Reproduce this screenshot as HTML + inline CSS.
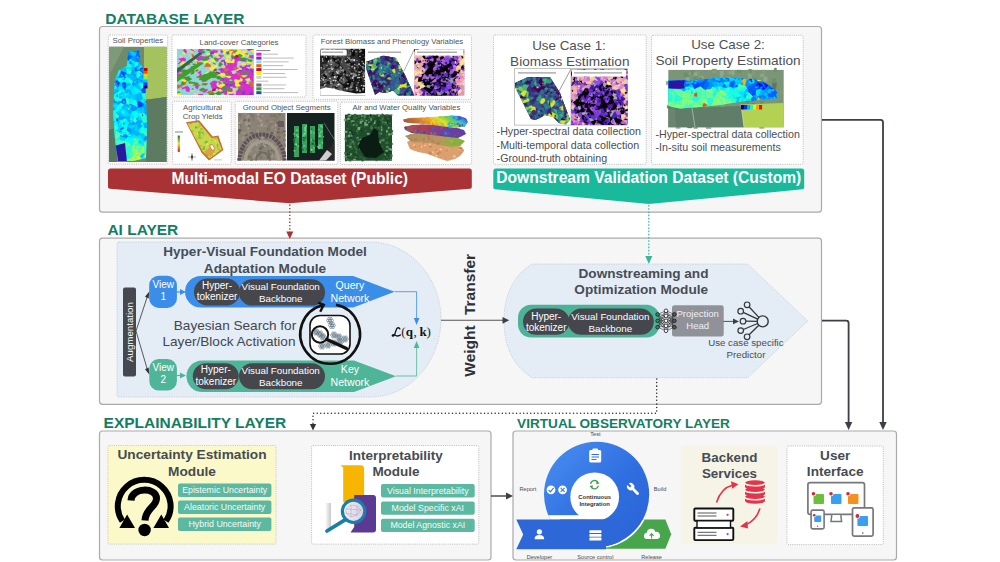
<!DOCTYPE html>
<html><head><meta charset="utf-8"><style>
html,body{margin:0;padding:0;background:#fff;}
body{width:1000px;height:562px;overflow:hidden;font-family:"Liberation Sans",sans-serif;}
svg{display:block;}
</style></head><body>
<svg width="1000" height="562" viewBox="0 0 1000 562">
<defs><clipPath id="soilclip"><polygon points="128,52 139,50.5 140,64 145,70 146,100 147,128 146,158 133,161 118,161 115,140 113,110 115,80 119,70 127,66"/></clipPath><clipPath id="lcclip"><rect x="177" y="49" width="76.7" height="46.1"/></clipPath><clipPath id="virclip"><polygon points="366,62 383,55.5 396,58 405,75 414.5,95.5 398,95.5 393,90.5 386,93 379,92 375,95 366,68"/></clipPath><radialGradient id="fmrg" cx="0.5" cy="0.62" r="0.62"><stop offset="0" stop-color="#1a0c30"/><stop offset="0.5" stop-color="#3a1f80"/><stop offset="0.72" stop-color="#8a50c8"/><stop offset="0.88" stop-color="#e890b8"/><stop offset="1" stop-color="#f4dc98"/></radialGradient><clipPath id="mgclip"><rect x="414.5" y="49" width="49.8" height="46.5"/></clipPath><clipPath id="agclip"><polygon points="187.5,123.5 198.3,122 211.8,138 217.2,137.2 221.7,149.6 209.5,158.5 202.5,151.2"/></clipPath><linearGradient id="lyg1" x1="0" y1="0.3" x2="1" y2="0"><stop offset="0" stop-color="#a0603c"/><stop offset="0.18" stop-color="#c87838"/><stop offset="0.35" stop-color="#f0a020"/><stop offset="0.5" stop-color="#e8e030"/><stop offset="0.62" stop-color="#80d040"/><stop offset="0.75" stop-color="#30c0d0"/><stop offset="0.88" stop-color="#4050e0"/><stop offset="1" stop-color="#8030c0"/></linearGradient><linearGradient id="lyg2" x1="0" y1="0" x2="1" y2="0"><stop offset="0" stop-color="#a06050"/><stop offset="0.3" stop-color="#b04050"/><stop offset="0.6" stop-color="#7040a0"/><stop offset="1" stop-color="#6040a0"/></linearGradient><linearGradient id="lyg3" x1="0" y1="0" x2="1" y2="0"><stop offset="0" stop-color="#b09060"/><stop offset="0.55" stop-color="#c09060"/><stop offset="0.8" stop-color="#90b040"/><stop offset="1" stop-color="#80b040"/></linearGradient><clipPath id="ly791595"><polygon points="407,142 412,139 425,140 440,141 452,144 462,147 464,151 460,156 455,159 447,161 438,158 428,154 418,152 410,149"/></clipPath><clipPath id="ly893936"><polygon points="405,136 415,133 430,133 445,135 458,138 465,141 460,146 450,147 430,143 412,142"/></clipPath><clipPath id="ly355253"><polygon points="404,127 412,125 425,124.5 440,125 455,127.5 464,130 466,134 458,138 440,136 425,134 412,133 405,130"/></clipPath><clipPath id="ly51219"><polygon points="403,119.5 410,118 425,117.5 440,116.5 452,115.5 460,116 466,118.5 468,122 465,126.5 455,128 440,126 425,124 410,123 404,122"/></clipPath><clipPath id="uc1v"><polygon points="515,83 528,77 550,77 560,93 570,119.5 566,124.5 559,123 553,117 545,115 540,118 535,120 531,119 515,87"/></clipPath><clipPath id="uc1m"><rect x="571" y="69" width="56.7" height="56"/></clipPath><radialGradient id="uc1rg" cx="0.5" cy="0.68" r="0.62"><stop offset="0" stop-color="#1a0c30"/><stop offset="0.5" stop-color="#3a1f80"/><stop offset="0.72" stop-color="#8a50c8"/><stop offset="0.88" stop-color="#e890b8"/><stop offset="1" stop-color="#f4dc98"/></radialGradient><clipPath id="uc2s"><polygon points="668.3,80.5 684,80 688,81 700,80 715,78 735,78 760,80 770,86 777,92 777,98 760,100 745,101 720,105 700,107 680,108.5 668.3,106"/></clipPath><linearGradient id="gbar" x1="0" y1="0" x2="1" y2="0"><stop offset="0" stop-color="#fff"/><stop offset="1" stop-color="#c8c8c8"/></linearGradient><linearGradient id="lens" x1="0" y1="0" x2="1" y2="0"><stop offset="0" stop-color="#f2f2f4"/><stop offset="1" stop-color="#d9cde6"/></linearGradient><linearGradient id="cig" x1="0" y1="0" x2="1" y2="1"><stop offset="0" stop-color="#4a90f2"/><stop offset="0.55" stop-color="#2f6ee0"/><stop offset="1" stop-color="#2a63d4"/></linearGradient><clipPath id="grclip"><polygon points="600,519.4 665.4,519.4 671.2,534.2 665.4,548.8 600,548.8"/></clipPath><clipPath id="cicl"><circle cx="596.6" cy="494.3" r="52.6"/></clipPath><clipPath id="ribclip"><rect x="560" y="519.6" width="60" height="30"/></clipPath></defs>
<rect x="99.5" y="26.5" width="722.0" height="185.7" rx="3" fill="#f6f6f6" stroke="#aaaaaa" stroke-width="1.2" />
<rect x="99.5" y="238.2" width="722.0" height="166.10000000000002" rx="3" fill="#f6f6f6" stroke="#aaaaaa" stroke-width="1.2" />
<rect x="99.5" y="431" width="391.5" height="129" rx="3" fill="#f6f6f6" stroke="#aaaaaa" stroke-width="1.2" />
<rect x="513" y="431" width="383.5" height="129" rx="3" fill="#f6f6f6" stroke="#aaaaaa" stroke-width="1.2" />
<text x="105.3" y="23.6" font-size="15.5" fill="#127e63" font-weight="bold" text-anchor="start" font-family='"Liberation Sans", sans-serif' >DATABASE LAYER</text>
<text x="107.4" y="234.7" font-size="15.5" fill="#127e63" font-weight="bold" text-anchor="start" font-family='"Liberation Sans", sans-serif' >AI LAYER</text>
<text x="103.6" y="427.6" font-size="15.5" fill="#127e63" font-weight="bold" text-anchor="start" font-family='"Liberation Sans", sans-serif' >EXPLAINABILITY LAYER</text>
<text x="517.1" y="427.7" font-size="13.6" fill="#127e63" font-weight="bold" text-anchor="start" font-family='"Liberation Sans", sans-serif' >VIRTUAL OBSERVATORY LAYER</text>
<rect x="108.3" y="35" width="59.3" height="129" rx="1.5" fill="#fff" stroke="#a0a0a0" stroke-width="0.7" stroke-dasharray="1 1.2"/>
<rect x="172" y="35" width="134" height="62" rx="1.5" fill="#fff" stroke="#a0a0a0" stroke-width="0.7" stroke-dasharray="1 1.2"/>
<rect x="313" y="35" width="158.5" height="64.3" rx="1.5" fill="#fff" stroke="#a0a0a0" stroke-width="0.7" stroke-dasharray="1 1.2"/>
<rect x="172.6" y="101.3" width="58.599999999999994" height="63.000000000000014" rx="1.5" fill="#fff" stroke="#a0a0a0" stroke-width="0.7" stroke-dasharray="1 1.2"/>
<rect x="235.2" y="101.3" width="102.60000000000002" height="63.000000000000014" rx="1.5" fill="#fff" stroke="#a0a0a0" stroke-width="0.7" stroke-dasharray="1 1.2"/>
<rect x="340.4" y="102.2" width="131.20000000000005" height="62.39999999999999" rx="1.5" fill="#fff" stroke="#a0a0a0" stroke-width="0.7" stroke-dasharray="1 1.2"/>
<rect x="493.5" y="35" width="152.70000000000005" height="129.3" rx="1.5" fill="#fff" stroke="#a0a0a0" stroke-width="0.7" stroke-dasharray="1 1.2"/>
<rect x="651.6" y="35.3" width="151.5" height="129.0" rx="1.5" fill="#fff" stroke="#a0a0a0" stroke-width="0.7" stroke-dasharray="1 1.2"/>
<g>
<rect x="109.1" y="46.8" width="57.5" height="115.2" fill="#6f8c6a"/>
<polygon points="144,46.8 166.6,46.8 166.6,97 144,100" fill="#a4c25e"/>
<polygon points="144,100 166.6,97 166.6,162 146,162" fill="#5d7b60"/>
<polygon points="109.1,46.8 124,46.8 112,70 109.1,75" fill="#7e9a78"/>
<polygon points="109.1,130 115,128 117,162 109.1,162" fill="#5a7560"/>
<g clip-path="url(#soilclip)"><rect x="109" y="46" width="40" height="117" fill="#3fb2f2"/>
<path fill="#00f0fc" stroke="#00f0fc" stroke-width=".35" d="M145.6 128.2L147 127.6L148.1 128.1L148.7 129L148.1 129.3ZM125.3 82L125.1 82.4L125.7 83.5L131.1 84L131.2 83.9L128.2 80.7ZM126 117.9L129.6 122.9L128.2 125.4L125.3 123.5L125.3 121.1ZM109 130.1L112.2 132.1L116.6 140L116.1 141.1L109 140.9ZM135.6 94.8L140.8 92.1L140.8 90.2L134 86.1L133.2 89.1ZM113.4 153.4L109 151.1L109 150L114.2 147.4L114.2 152.9ZM132.1 139.1L133.4 139.1L135.3 138L132.9 135.2L129.8 137.5L130.1 138.1ZM145.1 101.2L144.7 99.6L143 98.6L139.2 101.1L144 103.9L145 103.1L145 103.1ZM140.6 83.9L138.9 85L141 89.8L141.8 88.9ZM135.1 99.2L128.6 98.8L129.7 104.1L130.2 103.8L135.3 100ZM143.7 87.1L149 88.9L149 83.1L147.3 83.5L144.5 84.5ZM126.3 134.4L120.9 135L120.9 133.7L121.4 131.4L125.5 131.4ZM124.9 89.4L125.1 89.8L128.8 89.4L132.3 84.4L132 84L131.2 83.9L131.1 84L125.5 87.9ZM130.1 61.1L128.6 60.7L127.4 60.7L127.1 63L129.2 63.4Z"/>
<path fill="#30fcd8" stroke="#30fcd8" stroke-width=".35" d="M126 117.9L126 117.8L121.2 120.1L121.4 120.5L125.3 121.1ZM121.4 67.6L118 63.6L120.7 59.9L122.2 60.8L123.4 63.1L124.2 65.9L124.2 66L124 66.2ZM117.6 158.6L119.5 157.4L121 155.8L120.9 155L119.7 151.3L117.4 152.9ZM131.3 151.7L126.7 150.8L131.7 148.9ZM117.7 125.4L113.6 125.2L109 129.6L109 130.1L112.2 132.1L115 131L118.8 128.8Z"/>
<path fill="#00e4fc" stroke="#00e4fc" stroke-width=".35" d="M140.8 83.5L138.2 82.3L138 78.9L142.3 82.9ZM135.5 95L131.6 94.1L130.3 90.1L133.2 89.1L135.6 94.8ZM137.1 138.8L135.8 138.3L135.6 138L136.8 136L140 134.5L141.2 137.3L139.4 138.6ZM126.2 69.2L124 66.2L124.2 66L130.9 67.3L132.4 69.2L131.4 70.9ZM131.7 120.9L129.1 115.1L129.3 114.8L131.3 113.5L134.7 117.2L133.1 121.2ZM133.2 134.3L132.9 135.2L135.3 138L135.6 138L136.8 136L133.5 133.7ZM121.4 131.2L121.4 131.4L120.9 133.7L115 131L118.8 128.8L120.2 129.3L120.9 130.3ZM118.7 89.5L124.6 89.3L122.3 86.1L118.7 86.1L118.2 86.4L117.4 88.1L117.5 88.3ZM117.8 104.9L116.2 110.2L115 109.6L114 106.9L116.3 103.8ZM149 64.5L149 60.9L148.5 60.9L145.7 63.7L146.8 64.7ZM138.5 142.3L139.4 138.6L141.2 137.3L143.4 138.6L144.2 141.3L143.8 145.7L143.5 145.9L143 146L138.9 143ZM115.4 63.2L111.5 61.5L113.3 57.7L116.5 58.3L115.9 63Z"/>
<path fill="#00b4fc" stroke="#00b4fc" stroke-width=".35" d="M132.8 82.1L137.7 77.9L137.7 77.9L137.7 77.8L136.7 76.8L133.5 75.7L131.5 80ZM140 132.7L140 132.7L138.6 130.9L135 131.3L133.7 131.8L133.5 133.7L136.8 136L140 134.5L140.1 133.1ZM128.7 106L133.1 111.1L131.3 113.5L129.3 114.8L125.2 108.9L126 107.8ZM123.5 105.2L126 107.8L128.7 106L128.8 105L126.1 103L123.5 103.8ZM126 117.9L126 117.8L126.2 117L128.5 115.3L129.1 115.1L131.7 120.9L129.6 122.9ZM115 109.6L113.4 109.4L112.4 110L112.4 111.7ZM135.5 95L135.1 99.2L135.3 100L136.9 101.6L139.2 101.1L143 98.6L141.5 92.7L140.8 92.1L135.6 94.8ZM143.3 83L143.4 80.8L144.4 79.5L147.3 83.5L144.5 84.5ZM128.6 77.1L130.2 74.2L126.5 72.9L126.1 73L124.7 75L126.2 77.5ZM134.7 46.1L134.7 46L129.5 46L129.2 47.5L129.8 50.7L132.9 51.5L133.3 51.3ZM135.9 122.2L142.7 121.2L142.1 120.3L137.4 119.6ZM122.1 114.5L121.5 117.3L125.3 116.7L122.2 114.4ZM125.5 87.9L131.1 84L125.7 83.5ZM120.8 118.8L121 119.9L119.3 120.5L116.7 120.3L116 119.8L115.7 118.2L118.6 117.6ZM125.6 53.1L124.9 54.7L120.2 54L120.6 53.3L124.2 50L124.2 50L124.7 50.2L125.6 53ZM144 103.9L145 103.1L149 107.3L149 108.3L147.5 108.7L143.7 104.5ZM142.6 51.5L146.8 52L149 50L149 49.9L142.7 46.6L141.7 50.6L141.7 50.9ZM116.9 153.1L114.2 152.9L114.2 147.4L116.7 145L117.8 146.1L119.5 148.4L119.8 150.7L119.7 151.3L117.4 152.9ZM109 79.3L109 76.6L114.1 76.4L115.8 80.9L115.8 80.9ZM149 70.1L143.9 72.2L143.1 73.2L147.8 77.5L149 77.8ZM128.6 133.8L133.2 134.3L133.5 133.7L133.7 131.8L131.5 130.7L129.3 132.7ZM134.4 126.7L135 131.3L133.7 131.8L131.5 130.7L130.6 129.1Z"/>
<path fill="#00fcfc" stroke="#00fcfc" stroke-width=".35" d="M118.7 89.8L118.7 89.5L124.6 89.3L124.9 89.4L125.1 89.8L125.1 92.1L121.2 94.4L120 94.1L118.6 91.5ZM121.1 71.1L121.1 71.3L118.6 76.7L116.1 74.8L117.5 69.9L120.5 69.4ZM132.5 145.4L131.6 146.2L130.3 145.6L129.3 142.9L130.1 138.1L132.1 139.1L133.2 143.8ZM142.5 59.4L145.7 58.6L148.5 60.9L145.7 63.7L145.5 63.7L141.8 60.9L142.2 59.8ZM133.1 111.1L136.2 110.1L139.1 113.4L139 115.2L137.2 117.8L134.7 117.2L131.3 113.5ZM131 60.9L131.5 59.7L135.5 61.8L134.7 62.8L131.9 63.2ZM139.3 68.4L142.5 67.3L141.2 64.9L139 67ZM133.2 143.8L132.1 139.1L133.4 139.1L134.8 141.8ZM125.3 123.5L123.2 123.8L123.4 127.3L124.8 127.8L125.9 128L127 128L128.3 126.8L128.4 126L128.2 125.4ZM115 109.6L116.2 110.2L117.1 111.6L116.9 112.3L116.6 112.9L114.5 115.3L111.7 113.1L112.4 111.7L115 109.6ZM149 95.5L147 96L144.9 93L149 91.4ZM140.6 83.9L138.9 85L137.7 83.8L138.2 82.3L140.8 83.5ZM144 123.3L144 127.2L138.7 130.6L138.6 129.8ZM110.6 103L109.2 104.9L109 104.9L109 98.9L111.2 99.3L111.2 101.4ZM111.7 113.1L111.1 112.9L109 114.7L109 118.5L114.4 116.3L114.5 115.3ZM118.2 124.7L116.7 120.3L116 119.8L113.7 122.3L113.6 125.2L117.7 125.4ZM126.4 57.9L122.2 60.8L123.4 63.1L126.6 58.5ZM121.8 124L122.2 123.7L121.4 120.5L121.2 120.1L121 119.9L119.3 120.5L119.7 124.1ZM124.9 78.3L122.2 77.8L122.2 77.8L122.8 82.5L125.1 82.4L125.3 82Z"/>
<path fill="#00a8fc" stroke="#00a8fc" stroke-width=".35" d="M147.3 83.5L149 83.1L149 77.8L147.8 77.5L145.2 78.8L144.5 79.3L144.4 79.5ZM115.5 100.9L115.5 102.8L116.3 103.8L117.8 104.9L119.1 104.8L121.3 102.7L121.3 100.9L117.2 100.5ZM149 108.3L149 116.3L145.4 114.8L144.1 113.2L144.9 109.7L147.5 108.7ZM143.7 104.5L141.6 107L144.9 109.7L147.5 108.7ZM114.8 82.8L115.7 81.2L118.2 86.4L117.4 88.1L114.6 85.6ZM144 123.3L137.3 124.9L138.6 129.8L144 123.3ZM113.2 49.7L109.5 51.7L110.7 52.3L113 52.6ZM142.6 51.5L146.8 52L147.2 55.4L144.1 54.7ZM128.2 125.4L128.4 126L135 125L136.1 124.1L135.6 122.5L133.1 121.2L131.7 120.9L129.6 122.9ZM144.3 127.9L144 127.2L144 123.3L144 123.3L144.1 123.3L147 127.6L145.6 128.2ZM139.2 68.6L139.3 68.4L139 67L138.1 65.1L134.7 67.4L134.7 67.4ZM131.4 70.9L132.4 69.2L132.7 69.1L136.7 71.5L136.7 76.8L133.5 75.7L130.5 74ZM112 106.1L112.1 108.1L113.4 109.4L115 109.6L115 109.6L114 106.9ZM131.6 94.1L127.1 95L125.1 92.1L125.1 89.8L128.8 89.4L130.3 90.1ZM121.3 117.4L121.5 117.3L125.3 116.7L126.2 117L126 117.8L121.2 120.1L121 119.9L120.8 118.8ZM147.8 77.5L143.1 73.2L142.7 73.3L141.7 74.7L145.2 78.8ZM136.1 124.1L137.3 124.9L144 123.3L144.1 123.3L144.1 123.2L142.7 121.2L135.9 122.2L135.6 122.5ZM139 67L138.1 65.1L138.8 62.3L140.4 62L141.2 64.9Z"/>
<path fill="#00ccfc" stroke="#00ccfc" stroke-width=".35" d="M140.1 133.1L140 134.5L141.2 137.3L143.4 138.6L146.2 136.1L144.2 134.5ZM132.7 56.2L132.9 51.5L129.8 50.7L129.6 51.3L130 53.8ZM132.4 69.2L132.7 69.1L134.7 67.4L134.7 67.4L134.7 62.8L131.9 63.2L131 64.2L130.9 67.3ZM121.4 48.7L119.3 46L124.3 46L124.2 50L124.2 50ZM144.8 152.5L145 152.7L142.9 159.3L140.7 158.1L139.6 156.4L142 153.5ZM128.6 133.8L133.2 134.3L132.9 135.2L129.8 137.5L128 136.6L127.6 135.3ZM114.6 65.4L109 66.9L109 67.1L115.6 69.1ZM132.7 56.2L132.9 51.5L133.3 51.3L135.3 52L136.6 53.3L135.6 56.3L135.3 56.5L132.7 56.3ZM109 72.7L112.3 72.3L116 69.6L115.6 69.1L109 67.1ZM149 46L149 49.9L142.7 46.6L142.7 46ZM122.3 113.5L122.2 114.4L122.1 114.5L121.1 114.7L116.9 112.3L117.1 111.6L120.4 110.4ZM141.6 107L144.9 109.7L144.1 113.2L139.1 113.4L136.2 110.1L137.6 107.5L137.6 107.5ZM142.5 67.3L142.8 67.4L143.4 67L145.5 63.7L141.8 60.9L140.4 62L141.2 64.9ZM113 52.6L110.7 52.3L112.6 56.6L112.7 56.7L113.7 55L113.8 52.9ZM135 125L136.1 124.1L137.3 124.9L138.6 129.8L138.7 130.6L138.6 130.9L135 131.3L134.4 126.7ZM149 64.5L146.8 64.7L147.5 68L149 69.8ZM112.3 102.7L114.2 103.3L111.5 105.4L110.8 105.3L109.2 104.9L110.6 103ZM135.5 95L135.1 99.2L128.6 98.8L126.7 97.6L127.1 95L131.6 94.1ZM109 110.3L109 114.7L111.1 112.9L109.6 110.6ZM113.2 49.7L109.5 51.7L109 51.6L109 50.6L113.7 46L115.1 46L113.3 49.5Z"/>
<path fill="#00d8fc" stroke="#00d8fc" stroke-width=".35" d="M125.1 140.7L126.2 138L120.4 136.1L116.7 139.9L124.4 141ZM121.2 94.4L125.1 92.1L127.1 95L126.7 97.6L125.4 98.7L122.2 99.1L121.7 98.5ZM117.6 80.2L115.8 80.9L114.1 76.4L115.2 74.9L116.1 74.8L118.6 76.7L118.9 77.9ZM124.1 112.5L128.5 115.3L129.1 115.1L129.3 114.8L125.2 108.9L123.7 109.4ZM135 125L128.4 126L128.3 126.8L130.6 129.1L134.4 126.7ZM122.3 113.5L122.2 114.4L125.3 116.7L126.2 117L128.5 115.3L124.1 112.5ZM121.8 124L121.4 127.7L120.2 129.3L118.8 128.8L117.7 125.4L118.2 124.7L119.7 124.1ZM133.2 89.1L134 86.1L133.9 85.9L132.3 84.4L128.8 89.4L130.3 90.1ZM140 132.7L144.3 133.4L144.2 134.5L140.1 133.1ZM149 121.3L146.4 122.5L148.1 128.1L148.7 129L149 129ZM114.2 103.3L115.5 102.8L116.3 103.8L114 106.9L112 106.1L111.5 105.4ZM137.2 117.8L137.4 119.6L142.1 120.3L142 118.6L139 115.2Z"/>
<path fill="#30fccc" stroke="#30fccc" stroke-width=".35" d="M149 102.9L149 107.3L145 103.1L145 103.1ZM128.8 105L129.7 104.1L128.6 98.8L126.7 97.6L125.4 98.7L126.1 103ZM130.2 74.2L130.5 74L131.4 70.9L126.2 69.2L126.5 72.9ZM115.1 157.1L113.3 154.2L111.2 155.7L111.2 158.1L112.8 158.6L115.1 157.6ZM149 100.9L149 98.7L146.9 98.1L144.7 99.6L145.1 101.2ZM140 132.7L140 132.7L144.4 130.6L146.1 131.5L146.6 133L144.3 133.4ZM139.1 113.4L144.1 113.2L145.4 114.8L142 118.6L139 115.2ZM140.6 83.9L141.8 88.9L143.7 87.1L144.5 84.5L143.3 83L142.3 82.9L140.8 83.5ZM118.6 117.6L115.7 118.2L114.4 116.3L114.5 115.3L116.6 112.9L119.6 116.2ZM112.3 72.3L116 69.6L117.5 69.9L116.1 74.8L115.2 74.9ZM126 153.3L120.9 155L119.7 151.3L119.8 150.7L125.6 152.2L126 153.2ZM112.3 102.7L111.2 101.4L110.6 103ZM128.7 77.5L131.5 80L132.8 82.1L132 84L131.2 83.9L128.2 80.7ZM119.1 104.8L121.3 107.4L123.5 105.2L123.5 103.8L121.3 102.7Z"/>
<path fill="#0048fc" stroke="#0048fc" stroke-width=".35" d="M144 103.9L139.2 101.1L136.9 101.6L137.6 107.5L141.6 107L143.7 104.5ZM109 51.6L109.5 51.7L110.7 52.3L112.6 56.6L109 56.4ZM137.2 52.9L140.9 51.8L141.7 50.9L141.7 50.6L136.8 48.9ZM111.7 113.1L111.1 112.9L109.6 110.6L112.4 110L112.4 111.7ZM115.7 81.2L118.2 86.4L118.7 86.1L120.5 82.7L117.6 80.2L115.8 80.9L115.8 80.9ZM139.2 68.6L139.3 68.4L142.5 67.3L142.8 67.4L143.9 72.2L143.1 73.2L142.7 73.3L139.1 70.4ZM147.2 55.4L147.5 55.7L149 55.6L149 50L146.8 52Z"/>
<path fill="#0030fc" stroke="#0030fc" stroke-width=".35" d="M109 46L109 50.6L113.7 46ZM124.9 89.4L125.5 87.9L125.7 83.5L125.1 82.4L122.8 82.5L121.9 83L122.3 86.1L124.6 89.3ZM126.5 57.6L126.4 57.9L122.2 60.8L120.7 59.9L120.2 58.6L125.9 56.8L126.2 57.2ZM120.6 53.3L124.2 50L121.4 48.7Z"/>
<path fill="#0078fc" stroke="#0078fc" stroke-width=".35" d="M142.6 57.5L142.5 59.4L145.7 58.6L147.3 56.1L147.5 55.7L147.2 55.4L144.1 54.7ZM122.2 77.8L118.9 77.9L118.6 76.7L121.1 71.3L123 75.3L122.2 77.8ZM109 62.3L111.5 61.5L113.3 57.7L112.7 56.7L112.6 56.6L109 56.4Z"/>
<path fill="#3cfcc0" stroke="#3cfcc0" stroke-width=".35" d="M124.6 143L127.7 146.2L124.3 145.2ZM128.2 153.6L131.2 152.3L133.5 155.3L132.2 158L129.7 158.8L128.9 158.8ZM109 150L114.2 147.4L116.7 145L116.3 143.5L109 145.6ZM126 153.2L125.6 152.2L126.1 150.9L126.7 150.8L131.3 151.7L131.2 152.3L128.2 153.6Z"/>
<path fill="#3cfccc" stroke="#3cfccc" stroke-width=".35" d="M133.1 121.2L134.7 117.2L137.2 117.8L137.4 119.6L135.9 122.2L135.6 122.5ZM110.8 105.3L110.8 108.6L109 110L109 104.9L109.2 104.9Z"/>
<path fill="#18fce4" stroke="#18fce4" stroke-width=".35" d="M122.3 113.5L120.4 110.4L121.7 109.2L123.7 109.4L124.1 112.5ZM126 153.3L124.8 157.7L125.4 158.8L126.4 159.6L128.9 158.8L128.2 153.6L126 153.2ZM135.3 100L136.9 101.6L137.6 107.5L137.6 107.5L130.2 103.8ZM125.9 128L121.4 131.2L120.9 130.3L124.8 127.8ZM110.8 105.3L110.8 108.6L112.1 108.1L112 106.1L111.5 105.4ZM124.2 66L124.2 65.9L127.1 63L129.2 63.4L131 64.2L130.9 67.3ZM111 94.5L113.5 92.8L113.9 93.2L114.8 94L115.4 95.3L115.2 97.5L114.4 98.9L113.6 98.9L110.9 94.6ZM121.9 83L120.5 82.7L117.6 80.2L118.9 77.9L122.2 77.8L122.8 82.5ZM123.4 127.3L121.4 127.7L121.8 124L122.2 123.7L123.2 123.8Z"/>
<path fill="#0060fc" stroke="#0060fc" stroke-width=".35" d="M132.7 56.2L130 53.8L129.3 54.2L126.2 57.2L126.5 57.6L131.4 57.5L132.7 56.3ZM121.3 102.7L123.5 103.8L126.1 103L125.4 98.7L122.2 99.1L121.3 100.9ZM139.2 68.6L134.7 67.4L132.7 69.1L136.7 71.5L139.1 70.4ZM131.4 57.5L131.4 58.2L128.6 60.7L127.4 60.7L126.6 58.5L126.4 57.9L126.5 57.6ZM120.2 54L124.9 54.7L125.9 56.8L120.2 58.6L118.8 57L119.1 55L119.3 54.4Z"/>
<path fill="#0cfcf0" stroke="#0cfcf0" stroke-width=".35" d="M109 95.3L109 98.9L111.2 99.3L113.6 98.9L110.9 94.6ZM128.6 77.1L126.2 77.5L124.9 78.3L125.3 82L128.2 80.7L128.7 77.5ZM109 87.8L109.6 88L114.6 85.6L114.8 82.8L109 85.4ZM144.3 127.9L144.4 130.6L146.1 131.5L148.1 129.3L145.6 128.2ZM125.1 140.7L129.3 142.9L130.1 138.1L129.8 137.5L128 136.6L126.2 138ZM131 60.9L131.5 59.7L131.4 58.2L128.6 60.7L130.1 61.1ZM134.7 62.8L134.7 67.4L138.1 65.1L138.8 62.3L136.2 61.5L135.5 61.8ZM109 145.6L116.3 143.5L116.1 141.1L109 140.9ZM109.6 88L112.9 90.4L117.5 88.3L117.4 88.1L114.6 85.6Z"/>
<path fill="#24fce4" stroke="#24fce4" stroke-width=".35" d="M117.2 100.5L119.7 98.1L121.7 98.5L122.2 99.1L121.3 100.9Z"/>
<path fill="#b4fc54" stroke="#b4fc54" stroke-width=".35" d="M144.8 152.5L142 153.5L142.1 152.3L144.6 151.8Z"/>
<path fill="#0090fc" stroke="#0090fc" stroke-width=".35" d="M142.3 82.9L138 78.9L137.7 77.9L137.7 77.9L143.4 80.8L143.3 83ZM113.3 49.5L115.1 46L117 46L117.3 51.8L114.7 52.5ZM131 60.9L131.9 63.2L131 64.2L129.2 63.4L130.1 61.1ZM128.3 126.8L127 128L126.2 130.3L129.3 132.7L131.5 130.7L130.6 129.1ZM149 98.7L146.9 98.1L147 96L149 95.5ZM149 59.2L147.3 56.1L147.5 55.7L149 55.6ZM109 90.5L111 94.5L110.9 94.6L109 95.3ZM129.3 54.2L125.6 53.1L125.6 53L129.6 51.3L130 53.8ZM109 66.9L114.6 65.4L115.4 63.2L111.5 61.5L109 62.3ZM129.6 51.3L129.8 50.7L129.2 47.5L124.7 50.2L125.6 53ZM146.2 136.1L143.4 138.6L144.2 141.3L149 139.6L149 135.1L148 135ZM128.8 105L129.7 104.1L130.2 103.8L137.6 107.5L136.2 110.1L133.1 111.1L128.7 106ZM112.3 102.7L114.2 103.3L115.5 102.8L115.5 100.9L114.4 98.9L113.6 98.9L111.2 99.3L111.2 101.4ZM136.6 53.3L135.3 52L135.9 48.1L136.8 48.9L137.2 52.9ZM109 72.7L112.3 72.3L115.2 74.9L114.1 76.4L109 76.6Z"/>
<path fill="#ccfc30" stroke="#ccfc30" stroke-width=".35" d="M133.4 159.7L133.2 159.2L138.4 159.5L136.7 161.8ZM136.4 163L143.6 163L143.5 159.9L142.9 159.3L140.7 158.1L138.4 159.5L136.7 161.8ZM124.7 159L121.1 161.3L121.4 159.2Z"/>
<path fill="#009cfc" stroke="#009cfc" stroke-width=".35" d="M149 100.9L145.1 101.2L145 103.1L149 102.9ZM137.7 83.8L138.2 82.3L138 78.9L137.7 77.9L132.8 82.1L132 84L132.3 84.4L133.9 85.9ZM145.2 78.8L141.7 74.7L140.1 76.4L144.5 79.3ZM113.4 109.4L112.1 108.1L110.8 108.6L109 110L109 110.3L109.6 110.6L112.4 110ZM113.9 93.2L118.7 89.8L118.6 91.5L114.8 94ZM129.3 54.2L125.6 53.1L124.9 54.7L125.9 56.8L126.2 57.2ZM121.3 117.4L120.2 116.2L119.6 116.2L118.6 117.6L120.8 118.8ZM132.7 56.3L135.3 56.5L136.2 61.5L135.5 61.8L131.5 59.7L131.4 58.2L131.4 57.5ZM109 129.6L113.6 125.2L113.7 122.3L109 119.8Z"/>
<path fill="#24fcd8" stroke="#24fcd8" stroke-width=".35" d="M144.3 127.9L144 127.2L138.7 130.6L138.6 130.9L140 132.7L144.4 130.6ZM115.5 100.9L114.4 98.9L115.2 97.5L118.7 97.4L119.7 98.1L117.2 100.5ZM109 90.5L109 87.8L109.6 88L112.9 90.4L113.5 92.8L111 94.5ZM146.9 98.1L147 96L144.9 93L141.5 92.7L143 98.6L144.7 99.6ZM139.1 70.4L142.7 73.3L141.7 74.7L140.1 76.4L137.7 77.8L136.7 76.8L136.7 71.5ZM142.8 67.4L143.9 72.2L149 70.1L149 69.8L147.5 68L143.4 67ZM125.3 121.1L121.4 120.5L122.2 123.7L123.2 123.8L125.3 123.5ZM134.1 145.1L141.4 146.7L142.5 146.4L143 146L138.9 143ZM131.7 148.9L132.1 147.5L131.6 146.2L130.3 145.6L127.8 146.2L125.9 147.9L126.1 150.9L126.7 150.8ZM144.1 123.2L146.4 122.5L149 121.3L149 116.3L145.4 114.8L142 118.6L142.1 120.3L142.7 121.2ZM143.4 67L145.5 63.7L145.7 63.7L146.8 64.7L147.5 68ZM146.1 131.5L146.6 133L148 135L149 135.1L149 129L148.7 129L148.1 129.3ZM138.5 142.3L139.4 138.6L137.1 138.8L137.2 141.6ZM125.9 128L127 128L126.2 130.3L125.5 131.4L121.4 131.4L121.4 131.2Z"/>
<path fill="#0000d8" stroke="#0000d8" stroke-width=".35" d="M140.7 54.3L138.4 56.7L142.2 59.8L142.5 59.4L142.6 57.5Z"/>
<path fill="#9cfc60" stroke="#9cfc60" stroke-width=".35" d="M126 153.3L120.9 155L121 155.8L124.8 157.7ZM133.5 163L133.4 159.7L136.7 161.8L136.4 163ZM117.6 158.6L119.5 157.4L121.4 159.2L121.1 161.3L120.7 161.7L117.8 160.1L117.6 158.6Z"/>
<path fill="#78fc90" stroke="#78fc90" stroke-width=".35" d="M113 160.9L115.4 163L111.3 163L111.6 161.9Z"/>
<path fill="#18fcf0" stroke="#18fcf0" stroke-width=".35" d="M114.8 94L115.4 95.3L119.2 94.6L120 94.1L118.6 91.5ZM128.6 133.8L127.6 135.3L126.3 134.4L125.5 131.4L126.2 130.3L129.3 132.7Z"/>
<path fill="#0054fc" stroke="#0054fc" stroke-width=".35" d="M135.3 52L133.3 51.3L134.7 46.1L135.9 48.1ZM126.2 77.5L124.7 75L123 75.3L122.2 77.8L124.9 78.3ZM143.7 87.1L149 88.9L149 91.4L144.9 93L141.5 92.7L140.8 92.1L140.8 90.2L141 89.8L141.8 88.9Z"/>
<path fill="#54fca8" stroke="#54fca8" stroke-width=".35" d="M149 139.6L149 146.6L143.8 145.7L144.2 141.3ZM136.8 148.8L141.4 146.7L142.5 146.4L140.8 150.3L138.7 153Z"/>
<path fill="#000cfc" stroke="#000cfc" stroke-width=".35" d="M118.8 57L116.5 58.3L113.3 57.7L112.7 56.7L113.7 55L119.1 55Z"/>
<path fill="#48fcb4" stroke="#48fcb4" stroke-width=".35" d="M113.3 154.2L111.2 155.7L109 153.5L109 151.1L113.4 153.4ZM115.1 157.1L113.3 154.2L113.4 153.4L114.2 152.9L116.9 153.1ZM135.5 141.4L135.8 138.3L137.1 138.8L137.2 141.6ZM142.9 159.3L145 152.7L146.4 153L148.1 158L143.5 159.9ZM123.1 144.4L117.8 146.1L119.5 148.4L122.4 148L124.2 145.2Z"/>
<path fill="#00c0fc" stroke="#00c0fc" stroke-width=".35" d="M144.1 123.3L144.1 123.2L146.4 122.5L148.1 128.1L147 127.6ZM129.5 46L129.2 47.5L124.7 50.2L124.2 50L124.3 46ZM121.7 109.2L121.3 107.4L123.5 105.2L126 107.8L125.2 108.9L123.7 109.4ZM119.6 116.2L116.6 112.9L116.9 112.3L121.1 114.7L120.2 116.2ZM122.3 86.1L118.7 86.1L120.5 82.7L121.9 83ZM120.2 58.6L120.7 59.9L118 63.6L115.9 63L116.5 58.3L118.8 57ZM144.4 79.5L144.5 79.3L140.1 76.4L137.7 77.8L137.7 77.9L143.4 80.8ZM113.5 92.8L113.9 93.2L118.7 89.8L118.7 89.5L117.5 88.3L112.9 90.4ZM119.7 124.1L119.3 120.5L116.7 120.3L118.2 124.7ZM119.7 98.1L121.7 98.5L121.2 94.4L120 94.1L119.2 94.6L118.7 97.4ZM128.6 77.1L130.2 74.2L130.5 74L133.5 75.7L131.5 80L128.7 77.5ZM126.5 72.9L126.2 69.2L124 66.2L121.4 67.6L120.5 69.4L121.1 71.1L126.1 73ZM121.3 117.4L121.5 117.3L122.1 114.5L121.1 114.7L120.2 116.2ZM138.9 85L141 89.8L140.8 90.2L134 86.1L133.9 85.9L137.7 83.8Z"/>
<path fill="#006cfc" stroke="#006cfc" stroke-width=".35" d="M136.6 53.3L135.6 56.3L138.4 56.7L140.7 54.3L140.9 51.8L137.2 52.9ZM113.2 49.7L113 52.6L113.8 52.9L114.7 52.5L113.3 49.5ZM120.5 69.4L117.5 69.9L116 69.6L115.6 69.1L114.6 65.4L115.4 63.2L115.9 63L118 63.6L121.4 67.6ZM124.8 127.8L123.4 127.3L121.4 127.7L120.2 129.3L120.9 130.3Z"/>
<path fill="#0cfcfc" stroke="#0cfcfc" stroke-width=".35" d="M115.2 97.5L118.7 97.4L119.2 94.6L115.4 95.3ZM117.8 104.9L116.2 110.2L117.1 111.6L120.4 110.4L121.7 109.2L121.3 107.4L119.1 104.8ZM115.7 118.2L116 119.8L113.7 122.3L109 119.8L109 118.5L114.4 116.3ZM127.4 60.7L127.1 63L124.2 65.9L123.4 63.1L126.6 58.5Z"/>
<path fill="#78fc84" stroke="#78fc84" stroke-width=".35" d="M124.6 143L124.3 145.2L124.2 145.2L123.1 144.4L124.5 142.9ZM115.1 157.1L116.9 153.1L117.4 152.9L117.6 158.6L117.6 158.6L115.1 157.6ZM138.7 153L140.8 150.3L142.1 152.3L142 153.5L139.6 156.4L138.5 155.3L138.7 153.1Z"/>
<path fill="#84fc84" stroke="#84fc84" stroke-width=".35" d="M122.4 148L119.5 148.4L119.8 150.7L125.6 152.2L126.1 150.9L125.9 147.9ZM132.5 145.4L131.6 146.2L132.1 147.5L134.8 148.7L136.8 148.8L141.4 146.7L134.1 145.1Z"/>
<path fill="#48fcc0" stroke="#48fcc0" stroke-width=".35" d="M143.5 159.9L143.6 163L149 163L149 157.9L148.1 158ZM124.5 142.9L124.4 141L116.7 139.9L116.6 140L116.1 141.1L116.3 143.5L116.7 145L117.8 146.1L123.1 144.4ZM120.9 133.7L115 131L112.2 132.1L116.6 140L116.7 139.9L120.4 136.1L120.9 135ZM144.3 133.4L146.6 133L148 135L146.2 136.1L144.2 134.5ZM144.8 152.5L145 152.7L146.4 153L149 151.7L149 146.6L143.8 145.7L143.5 145.9L144.6 151.8Z"/>
<path fill="#003cfc" stroke="#003cfc" stroke-width=".35" d="M124.7 75L123 75.3L121.1 71.3L121.1 71.1L126.1 73ZM145.7 58.6L148.5 60.9L149 60.9L149 59.2L147.3 56.1Z"/>
<path fill="#60fca8" stroke="#60fca8" stroke-width=".35" d="M124.3 145.2L127.7 146.2L127.8 146.2L125.9 147.9L122.4 148L124.2 145.2Z"/>
<path fill="#60fc9c" stroke="#60fc9c" stroke-width=".35" d="M134.8 141.8L133.4 139.1L135.3 138L135.6 138L135.8 138.3L135.5 141.4ZM132.5 145.4L133.2 143.8L134.8 141.8L135.5 141.4L137.2 141.6L138.5 142.3L138.9 143L134.1 145.1Z"/>
<path fill="#ccfc3c" stroke="#ccfc3c" stroke-width=".35" d="M134.3 155.2L138.5 155.3L139.6 156.4L140.7 158.1L138.4 159.5L133.2 159.2L132.2 158L133.5 155.3Z"/>
<path fill="#6cfc90" stroke="#6cfc90" stroke-width=".35" d="M115.1 157.6L112.8 158.6L113 160.9L115.4 163L116 163L117.8 160.1L117.6 158.6Z"/>
<path fill="#90fc6c" stroke="#90fc6c" stroke-width=".35" d="M142.5 146.4L143 146L143.5 145.9L144.6 151.8L142.1 152.3L140.8 150.3ZM126.4 159.6L125.9 163L130.9 163L129.7 158.8L128.9 158.8ZM109 160.3L109 163L111.3 163L111.6 161.9ZM124.8 157.7L121 155.8L119.5 157.4L121.4 159.2L124.7 159L125.4 158.8Z"/>
<path fill="#54fcb4" stroke="#54fcb4" stroke-width=".35" d="M124.6 143L127.7 146.2L127.8 146.2L130.3 145.6L129.3 142.9L125.1 140.7L124.4 141L124.5 142.9Z"/>
<path fill="#a8fc60" stroke="#a8fc60" stroke-width=".35" d="M148.1 158L149 157.9L149 151.7L146.4 153ZM135.5 151L134.3 155.2L138.5 155.3L138.7 153.1Z"/>
<path fill="#a8fc54" stroke="#a8fc54" stroke-width=".35" d="M133.5 163L133.4 159.7L133.2 159.2L132.2 158L129.7 158.8L130.9 163ZM134.8 148.7L135.5 151L138.7 153.1L138.7 153L136.8 148.8Z"/>
<path fill="#0084fc" stroke="#0084fc" stroke-width=".35" d="M135.9 48.1L134.7 46.1L134.7 46L142.7 46L142.7 46.6L141.7 50.6L136.8 48.9ZM138.4 56.7L142.2 59.8L141.8 60.9L140.4 62L138.8 62.3L136.2 61.5L135.3 56.5L135.6 56.3ZM120.2 54L120.6 53.3L121.4 48.7L119.3 46L117 46L117.3 51.8L119.3 54.4ZM127.6 135.3L128 136.6L126.2 138L120.4 136.1L120.9 135L126.3 134.4ZM109 85.4L114.8 82.8L115.7 81.2L115.8 80.9L109 79.3Z"/>
<path fill="#0024fc" stroke="#0024fc" stroke-width=".35" d="M142.6 51.5L144.1 54.7L142.6 57.5L140.7 54.3L140.9 51.8L141.7 50.9Z"/>
<path fill="#b4fc48" stroke="#b4fc48" stroke-width=".35" d="M125.4 158.8L124.7 159L121.1 161.3L120.7 161.7L121.3 163L125.9 163L126.4 159.6Z"/>
<path fill="#0018fc" stroke="#0018fc" stroke-width=".35" d="M119.3 54.4L117.3 51.8L114.7 52.5L113.8 52.9L113.7 55L119.1 55Z"/>
<path fill="#d8fc24" stroke="#d8fc24" stroke-width=".35" d="M112.8 158.6L113 160.9L111.6 161.9L109 160.3L109 158.7L111.2 158.1Z"/>
<path fill="#e4fc18" stroke="#e4fc18" stroke-width=".35" d="M121.3 163L120.7 161.7L117.8 160.1L116 163Z"/>
<path fill="#c0fc3c" stroke="#c0fc3c" stroke-width=".35" d="M111.2 158.1L109 158.7L109 153.5L111.2 155.7Z"/>
<path fill="#84fc78" stroke="#84fc78" stroke-width=".35" d="M131.3 151.7L131.2 152.3L133.5 155.3L134.3 155.2L135.5 151L134.8 148.7L132.1 147.5L131.7 148.9Z"/>
<path fill="#00f0fc" stroke="#00f0fc" stroke-width=".35" d="M122.6 77h1.6v1.5h-1.6zM143.8 78.2h0.8v1.4h-0.8zM146.8 121.8h1.8v0.9h-1.8zM108.1 141.2h1.8v1.8h-1.8zM128.5 137.5h1.8v1.5h-1.8zM133.6 68.6h0.9v1.1h-0.9zM131.1 65.8h1.4v1.1h-1.4zM125.9 107.4h1.4v0.9h-1.4zM139.9 137.9h1.1v1.4h-1.1zM111.7 148.4h1.2v1.7h-1.2zM111.1 92.6h0.9v1.4h-0.9zM135.3 72.6h1v0.8h-1z"/>
<path fill="#30fcd8" stroke="#30fcd8" stroke-width=".35" d="M138.6 67.2h1.1v2h-1.1zM127.9 108h1.7v1.6h-1.7zM134.7 157.2h1.8v1.1h-1.8z"/>
<path fill="#0030fc" stroke="#0030fc" stroke-width=".35" d="M110 52.5h1.1v1.3h-1.1zM116.6 119.1h1v1.9h-1z"/>
<path fill="#0084fc" stroke="#0084fc" stroke-width=".35" d="M130.2 53.7h0.9v1.6h-0.9zM124.3 53.8h1.9v1.3h-1.9zM119.4 131.1h2v0.9h-2z"/>
<path fill="#0cfcf0" stroke="#0cfcf0" stroke-width=".35" d="M123.4 101.4h1.1v1.2h-1.1zM108.8 100.4h1.2v1.8h-1.2zM141.8 121.9h0.8v1.3h-0.8zM124.1 123.5h1.1v1h-1.1zM124 127h2v1.7h-2zM127 93.3h1.5v1.6h-1.5zM126.8 132.9h1.3v1.9h-1.3zM127.6 134.6h2v1h-2zM120.8 95.1h1.5v1h-1.5zM140 91.3h1.7v1.1h-1.7z"/>
<path fill="#18fcf0" stroke="#18fcf0" stroke-width=".35" d="M111.1 59.2h1.8v1.5h-1.8zM130.6 120.7h1.2v1.6h-1.2z"/>
<path fill="#00fcfc" stroke="#00fcfc" stroke-width=".35" d="M125.1 75.6h1.8v1.2h-1.8zM129.5 105.4h1.1v2h-1.1zM136.9 68.4h1v1.1h-1zM142.9 69.5h1.3v0.9h-1.3zM119 123.5h1v1.4h-1zM122.5 112.5h1.9v1.7h-1.9zM147.6 63h1v1.1h-1zM147 61h1.6v1.3h-1.6z"/>
<path fill="#00d8fc" stroke="#00d8fc" stroke-width=".35" d="M121.2 109.2h1.7v1.9h-1.7zM114 132.7h1.6v1.1h-1.6zM134.5 81.2h1.6v1.7h-1.6zM144.2 140.8h1.3v1.2h-1.3zM139.4 64.8h1.5v1.1h-1.5zM115.8 63.1h0.8v1.4h-0.8zM109.6 73.7h1.9v1h-1.9zM143.8 99.2h1.3v1.8h-1.3zM136.2 110.3h1.6v0.8h-1.6z"/>
<path fill="#60fca8" stroke="#60fca8" stroke-width=".35" d="M112.4 147.9h0.9v0.9h-0.9z"/>
<path fill="#00b4fc" stroke="#00b4fc" stroke-width=".35" d="M135.5 80.5h1.7v0.9h-1.7zM123 87.9h1.3v1.3h-1.3zM140 108.5h1.8v1.5h-1.8zM146 111.2h1.7v1.2h-1.7zM147.6 105.5h1.7v1.8h-1.7zM123 122.7h1.9v1.5h-1.9zM147.2 79.9h1.6v1.9h-1.6zM119.6 63.9h1.3v1.4h-1.3z"/>
<path fill="#0060fc" stroke="#0060fc" stroke-width=".35" d="M111.4 80.7h1.7v1.6h-1.7zM144.9 49.8h1v1.4h-1z"/>
<path fill="#24fcd8" stroke="#24fcd8" stroke-width=".35" d="M122.7 130.5h1.2v0.9h-1.2zM114.7 63.8h1.2v1.1h-1.2zM120.7 91.8h1.1v0.9h-1.1zM131.2 150.8h0.9v1.8h-0.9zM127.3 69.2h1.2v1.9h-1.2zM141.8 86.9h1.4v1h-1.4zM121.6 75h0.8v1.2h-0.8zM124.9 93.7h1.1v1.8h-1.1zM112.6 127.8h0.9v1.3h-0.9zM114.6 146.9h1.8v0.9h-1.8z"/>
<path fill="#a8fc54" stroke="#a8fc54" stroke-width=".35" d="M144.8 155.3h1.9v1.3h-1.9zM109.7 150.4h1.2v1.4h-1.2z"/>
<path fill="#00c0fc" stroke="#00c0fc" stroke-width=".35" d="M120.7 91.8h1.9v1.9h-1.9zM142.4 80.9h1.7v1.3h-1.7zM133 79.3h1.3v1.4h-1.3zM139 141.5h1.3v1.2h-1.3zM134.4 52h1.2v1.6h-1.2zM137.5 123.4h1v1h-1zM124.3 90.7h1.8v1.1h-1.8zM122.9 78.7h1.7v1.4h-1.7z"/>
<path fill="#003cfc" stroke="#003cfc" stroke-width=".35" d="M111.5 54.6h1.7v1.9h-1.7zM121.3 66.3h1.4v1h-1.4z"/>
<path fill="#60fc9c" stroke="#60fc9c" stroke-width=".35" d="M129.2 134.9h1.3v1.2h-1.3zM118.5 149.2h1.9v1.2h-1.9z"/>
<path fill="#18fce4" stroke="#18fce4" stroke-width=".35" d="M141.1 123.1h1.8v1.8h-1.8zM146.6 120.1h1.4v1.7h-1.4zM127.9 70.9h0.9v1.9h-0.9zM131.2 98.6h0.8v2h-0.8zM115.4 75h1v1.6h-1zM121.4 133.9h1.8v1.8h-1.8zM130.1 101.9h1.2v1.2h-1.2z"/>
<path fill="#00ccfc" stroke="#00ccfc" stroke-width=".35" d="M125 62.1h1.7v2h-1.7zM117.7 129.4h1.5v1.1h-1.5zM137 56.7h1.4v1.4h-1.4zM130.5 54.4h0.8v1h-0.8zM133.9 49.9h1.6v1h-1.6zM119.7 109.2h1v1.9h-1zM110.8 93.5h1.2v1.1h-1.2zM125.7 91.3h0.9v1.3h-0.9z"/>
<path fill="#009cfc" stroke="#009cfc" stroke-width=".35" d="M116.6 94.7h1.2v2h-1.2zM112.7 121.3h1.7v1h-1.7zM140.2 73.3h1v1.2h-1zM122.6 84.7h2v1.5h-2z"/>
<path fill="#30fccc" stroke="#30fccc" stroke-width=".35" d="M131.9 151.9h0.8v0.9h-0.8zM121.6 154h1.2v1.4h-1.2zM119.1 138.5h0.9v1.9h-0.9zM137 76.9h1.2v1h-1.2zM130.2 118.2h1.5v1.8h-1.5zM147.1 141.7h1v1.5h-1zM119.6 91h1.5v1.7h-1.5z"/>
<path fill="#48fcb4" stroke="#48fcb4" stroke-width=".35" d="M115.3 133.9h1.2v1.5h-1.2zM136.2 155.3h1.3v0.9h-1.3z"/>
<path fill="#54fca8" stroke="#54fca8" stroke-width=".35" d="M133.9 161.5h1.1v1.4h-1.1zM144.5 161.3h1.8v1.5h-1.8zM130.9 151.2h1.4v1.4h-1.4zM118.6 139.4h0.9v1.1h-0.9z"/>
<path fill="#00a8fc" stroke="#00a8fc" stroke-width=".35" d="M141.3 69.7h1.5v1.4h-1.5zM109.1 83.9h1.2v1.6h-1.2zM144.5 109.4h1.2v1.4h-1.2zM121 51.5h1.7v1.9h-1.7zM138.3 81.2h1.5v0.9h-1.5zM137.1 81.7h1.9v1.8h-1.9zM145.5 123.3h1.1v1.6h-1.1zM133.3 106.7h1.1v1.5h-1.1zM125.6 54h0.8v2h-0.8zM117.1 85.9h1v1.5h-1zM136.4 118h1.8v1.8h-1.8z"/>
<path fill="#00e4fc" stroke="#00e4fc" stroke-width=".35" d="M121 81.8h0.9v1.2h-0.9zM122.9 125.8h0.9v1.3h-0.9zM128.7 91.6h0.9v1.6h-0.9zM117.5 75.1h1.5v1.1h-1.5zM138.7 130.2h1.9v0.8h-1.9zM108.4 109.1h1.3v1.1h-1.3zM145.9 160.9h0.9v1.7h-0.9z"/>
<path fill="#0048fc" stroke="#0048fc" stroke-width=".35" d="M113.8 56.2h1.6v1.6h-1.6zM142 114.8h0.9v1.1h-0.9zM140.6 47.2h1v1.4h-1zM118 56.2h1.2v1.3h-1.2z"/>
<path fill="#6cfc90" stroke="#6cfc90" stroke-width=".35" d="M113.7 151h1.5v1.5h-1.5z"/>
<path fill="#90fc6c" stroke="#90fc6c" stroke-width=".35" d="M120 150.2h1.1v1.5h-1.1z"/>
<path fill="#84fc78" stroke="#84fc78" stroke-width=".35" d="M127.5 161.5h1.8v1.8h-1.8z"/>
<path fill="#24fce4" stroke="#24fce4" stroke-width=".35" d="M135 146.5h1.3v1.8h-1.3z"/>
<path fill="#0000fc" stroke="#0000fc" stroke-width=".35" d="M146.5 45.5h1.1v1.2h-1.1z"/>
<path fill="#90fc78" stroke="#90fc78" stroke-width=".35" d="M128.4 144.2h1.6v1.4h-1.6z"/>
<path fill="#0090fc" stroke="#0090fc" stroke-width=".35" d="M128.2 49.3h1.5v1.7h-1.5zM124.3 73.4h0.8v1h-0.8zM117.2 50h0.8v1.6h-0.8z"/>
<path fill="#3cfccc" stroke="#3cfccc" stroke-width=".35" d="M117 100.1h1.2v1.3h-1.2z"/>
<path fill="#006cfc" stroke="#006cfc" stroke-width=".35" d="M119.5 47.6h1v1.1h-1z"/>
<path fill="#78fc84" stroke="#78fc84" stroke-width=".35" d="M122.3 148.9h1.2v1.7h-1.2z"/>
<path d="M114,146 L125,143 L127,162 L114,162 Z" fill="#2a18a0"/>
</g>
<rect x="143.5" y="68.0" width="4" height="3" fill="#c00000"/>
<rect x="143.5" y="70.9" width="4" height="3" fill="#ff5000"/>
<rect x="143.5" y="73.8" width="4" height="3" fill="#ffd000"/>
<rect x="143.5" y="76.7" width="4" height="3" fill="#60ff60"/>
<rect x="143.5" y="79.6" width="4" height="3" fill="#00c0ff"/>
<rect x="143.5" y="82.5" width="4" height="3" fill="#0040ff"/>
<rect x="143.5" y="85.4" width="4" height="3" fill="#100080"/>
</g>
<rect x="177" y="49" width="76.7" height="46.1" fill="#8fd6d2"/>
<g clip-path="url(#lcclip)">
<path fill="#d86c30" stroke="#d86c30" stroke-width=".35" d="M182.2 79.5L185.2 79.4L184.2 77.1L183.2 76.6L182.2 79.2ZM209.3 67L204.3 67.2L203.9 66.4L205.4 64.9L205.7 64.9ZM197.2 78.2L195.9 77.6L196.9 76L199.4 75.3L199.6 75.5L199 77.9ZM247 80.7L246.9 81.8L242.6 82L242.5 81.9L246.3 80.6ZM250.2 86.3L253.7 82.2L253.7 81.3L253 81.2L249.5 84.7ZM239.4 75.2L237.2 75.1L235.8 73.1L236.3 72.1L240.6 73.6L239.5 75.1ZM219.4 58.5L218.9 58.2L218.6 58.2L218.4 59.5L218.9 60.1L219.9 59.7L220 59.3ZM180.6 87.1L177 84.6L180.9 84.5L183.8 84.9L184 85.1L181.5 86.8ZM232.9 53.5L232.1 52.6L233.2 51.3L233.4 51.2L235.7 52.1L235.5 53.4ZM217.4 82.5L219.1 83.2L221.1 82.8L220 81.1L219.9 81L218.8 81.1L217.2 81.5ZM200.8 85L200.7 85.6L205.3 85.8L205.4 85.4L202.5 83.3ZM181.8 71.2L181 71.9L182.2 74.5L182.7 74.7L184.4 73.4L184.3 72.4ZM239.4 75.2L239.6 76.8L240.9 77.7L243.5 77.5L243.8 77.4L243.8 77.4L241.5 75.6L239.5 75.1ZM207.8 62.8L207.3 64.7L210.8 65.2L210.9 64.6L210.9 64.6L208 62.7ZM221.4 58.1L219.4 58.5L220 59.3L221.7 58.4ZM180.5 87.5L180.6 87.1L177 84.6L177 84.6L177 89.4L177.2 89.3ZM207.2 62.8L205.4 63.2L205.1 64L205.4 64.9L205.7 64.9L207.3 64.7L207.8 62.8ZM209.6 90.5L209.1 90.3L206.4 92.7L207.2 93.1ZM193.4 54L192.7 53.9L191.1 54L191.7 57L191.8 57L194.4 56.1ZM190.7 64.7L190.6 65.1L187.8 65.8L186.5 65.2L185.7 63.9L188.9 63.9L189.5 63.9ZM235.4 66.5L236.3 66.5L235.3 70.3L235.3 70.3L233 67.6ZM194.5 83.8L195.4 85L195.1 85.7L193.4 86.3L192.5 86.3L192.3 84.7ZM223.1 68.4L223.1 68.2L225 67.7L227.5 68.4L229.4 69.8L225.5 71.7L224.9 71.9L223.3 68.9ZM250.2 86.3L253.7 82.2L253.7 87.1L250.2 86.4ZM251.4 80.8L248.3 82.3L249 83.6L251.8 80.9ZM249.2 54.7L251.3 55.2L249.5 57.7L247.9 58.3ZM210.6 73L210.6 74.3L213.5 74.1L213.7 73.8L212.2 72.4ZM241.1 85.9L241.5 86.6L238.5 88.4L236.5 87.1L236.6 86.7L240.6 85.7ZM211.9 90.9L212.6 91.6L212.6 92.1L209.1 94.7L207.2 93.1L209.6 90.5ZM251.8 80.9L253 81.2L249.5 84.7L248.9 84L249 83.6ZM213.9 73.8L213.7 73.8L213.5 74.1L213.2 75.8L217.9 76.6L219 76.1ZM226.4 95.1L225.5 93.7L224.5 93.3L224.3 93.4L224 95.1ZM191.9 64L192.2 64L193.1 61.7L190.3 61.6L190.3 61.7ZM238.9 68.1L238.9 68.7L235.3 70.3L236.3 66.5L236.4 66.5ZM210.5 67.1L211.4 66.6L211.4 66.5L210.8 65.2L207.3 64.7L205.7 64.9L209.3 67ZM200.7 91.3L202.7 92.1L205.8 89.1L205 88.9L200.5 91.1ZM180.5 87.5L180.6 87.1L181.5 86.8L182.8 87.7L182 88.4ZM187.4 80.8L185.3 85.6L184 85.1L183.8 84.9L184 81.9L187.2 80.8ZM248.9 54.6L248.6 53.8L248.4 53.6L246.7 52.6L244.1 53.7L244.1 53.7L244.9 54.4L247.9 54.9ZM196.3 63L198.3 66L200.8 65.2L200.6 64.1L197.9 61L197.7 60.9ZM233.4 51.2L233.2 51.3L229.7 50.9L229.4 50.7L229.3 49.6L233.2 49.7L233.6 50.3L233.6 50.4ZM198.6 84.2L196.9 85.3L198.7 86.4L200.7 85.6L200.7 85.6L200.8 85Z"/>
<path fill="#90d8d8" stroke="#90d8d8" stroke-width=".35" d="M195.4 53.1L193.4 54L194.4 56.1L195.4 56.2L196.9 54.9ZM181.9 89.7L182.6 90.7L182.8 90.7L186 90.9L185.7 88.2L182.2 89.2ZM208.3 87.4L207.2 89.1L207.8 89.7L209.1 90.3L209.6 90.5L211.9 90.9L212.5 89.4L211.1 86.4ZM190.6 65.1L191.6 66.3L190.7 67.4L188.5 67.7L188 67.3L187.8 65.8ZM185.4 95.1L184.2 93.4L187.8 92L188.6 95.1ZM210.1 55.9L208.7 57.3L209.8 59L210.9 59.1L212.9 58.4L212.8 58.2ZM224.4 54L224.2 55.7L223.9 55.7L218.5 54.6L220.8 53.3L222.3 52.9L222.5 53ZM250.4 52.5L252.1 52.2L250.3 50.6L248.7 50.4L249.2 51.5ZM228.6 81.1L231.9 81.1L233.2 80.3L230.1 79ZM198 83.1L202.2 82.1L202.2 82.1L202.5 83.1L202.5 83.3L200.8 85L198.6 84.2ZM177 90.3L178.4 91.4L177 92.9ZM199.9 67.9L201.8 65.7L203.9 66.4L204.3 67.2L203.7 69.4L203.5 69.4ZM210.9 54.5L214.4 53.5L213.9 55L212.4 55.3ZM178.2 53.9L177 53.7L177 49.6L180.5 52ZM182.8 90.7L183.9 93.4L184.2 93.4L187.8 92L187.9 91.8L186 90.9ZM248.4 53.6L246.7 52.6L246.4 50.7L247.2 49.8L248.7 50.4L249.2 51.5ZM193.2 87.9L194.5 87.8L195.6 87.9L197.7 88.9L197.9 89.2L195.4 90.5L193.6 89.4L193 88.3ZM208.8 72.6L208.5 72.6L208.5 74.9L208.8 75.2L210.6 74.3L210.6 73ZM186.5 65.2L184.7 67.2L183.4 66.8L182.4 64.8L184.7 63.4L185.7 63.9ZM189 52.8L186.9 51.9L186.3 50.1L189.1 51.9L189.2 52.8ZM196.7 71.5L198.4 70.2L200.1 70.9L197.9 72.5L197.4 72.1ZM223.2 49L218.1 49L218.2 50.7L218.3 50.8L220.1 50.8L220.8 50.7L222.2 50.2ZM205.3 85.8L205.4 85.4L208.1 83.6L209.2 83.2L209.9 83.1L211.4 86.2L211.1 86.4L208.3 87.4L205.4 85.8ZM189.8 49L190.1 49L193.7 51.5L193.7 51.5L191.2 51.6L190.7 51.2ZM193.6 92L193.8 92.3L192.8 95.1L188.6 95.1L187.8 92L187.9 91.8L189.8 91.2ZM182.2 79.2L183.2 76.6L182.9 76.2L182.7 76.1L179.8 76.8L179.3 77.8L179.5 78.3ZM209.1 94.7L209 95.1L203.1 95.1L202.7 94L202.9 92.2L205.6 92.3L206.4 92.7L207.2 93.1ZM191.5 89.2L193 88.3L193.2 87.9L191.5 87L188.9 87.2L190 89.7ZM193.2 87.9L194.5 87.8L193.4 86.3L192.5 86.3L191.5 87ZM197.6 69L203 69.6L203.5 69.4L199.9 67.9L197.4 67.8L197.3 67.9ZM211.7 78.6L213.1 81L214.9 80.8L216.8 78.8L216.9 77.6L212.3 78ZM192.2 64L193.1 61.7L196.3 60.9L197.6 60.9L197.7 60.9L196.3 63L195.6 63.7L192.5 64ZM205.4 85.8L208.3 87.4L207.2 89.1L205.8 89.1L205 88.9L202.9 87.8L202.9 87.6ZM220 81.1L221.1 82.8L222.2 83.4L222.8 83.5L223.1 83.1L223.2 81.1ZM220.5 70.4L218.7 70.1L218.8 72.4L220.5 73.3L220.7 73.3L220.8 71.6ZM193.3 79L192.1 79.1L188.5 81.2L188.8 81.5L194.8 82.3L194.7 81.5ZM188.8 84.9L187.3 86.3L186.9 86.3L186.5 86.2L185.3 85.6L187.4 80.8L187.4 80.8L188.5 81.2L188.8 81.5L189 83.5ZM212.8 58.2L212.9 58.4L213.7 58.4L214.6 58.1L214.9 58L215.8 57.5L216.7 56.1L213.9 55L212.4 55.3ZM247.6 58.5L247.5 58.5L245.2 58.3L244.7 57.7L244.4 56.7L247.3 55.5ZM210.5 67.1L209.5 69.3L209.1 69.6L207.1 70L203.8 69.4L203.7 69.4L204.3 67.2L209.3 67ZM203.2 51L203.2 51.1L204.5 51L206.3 50L206.2 49L205.4 49L203.7 49.8ZM183.9 93.4L184.2 93.4L185.4 95.1L180.5 95.1L181 94.1ZM249.6 67.2L248.7 68.6L249.2 69.4L251.4 68.1L250 67.1ZM202.7 63.6L200.6 64.1L200.8 65.2L201.8 65.7L203.9 66.4L205.4 64.9L205.1 64ZM186.6 57.9L186.5 56.3L185 54.8L184.8 54.9L183.2 55.8L183 57.5L185.6 58.5ZM229.3 49.6L228.7 49L233.3 49L233.2 49.7ZM184.9 67.6L181.8 69.3L181.7 69.6L185.6 69.8ZM187.4 70.1L189.3 70.3L191 70L192.2 68.9L190.7 67.4L188.5 67.7ZM204 61.6L203.7 60.8L201.4 60L197.9 61L200.6 64.1L202.7 63.6ZM190.9 53.9L190.4 53.2L191 52.4L192.7 52.6L192.7 53.9L191.1 54ZM197.2 78.2L195.9 77.6L194.5 77.8L193.3 79L194.7 81.5L197.6 79.2ZM185.7 63.9L184.7 63.4L184.6 61.6L185.5 61L188 61.1L188.9 63.9ZM198 83.1L194.9 82.5L199.4 80.5L201.8 80.9L202.2 82.1ZM185 77.2L189.7 76.1L190.3 75.1L189.8 75L182.9 76.2L183.2 76.6L184.2 77.1ZM186.6 57.9L186.5 56.3L188.9 55.6L190.9 57.4L190.6 57.7ZM219.9 81L218.8 81.1L217.4 79L220.4 79.8ZM210 55.5L207.6 56L207.6 55.6L210.1 53.9L210.8 54.5ZM197.1 51.5L197.9 51.2L198.3 50.9L198.9 49L194.9 49L194.4 50.8L194.7 51.4L196.1 51.8ZM197.7 53.2L197.1 54.9L196.9 54.9L195.4 53.1L196.1 51.8L197.1 51.5ZM200.7 85.6L198.7 86.4L197.7 88.9L197.9 89.2L199.2 89.6L202.9 87.8L202.9 87.6ZM235.4 88L236.5 87.1L238.5 88.4L238.5 88.5L237.7 89.2L235.5 89ZM179 59.4L177 63.6L177 58.9L178.6 59ZM204.1 73.9L204.3 73.3L201 71.5L200.6 74.1L202.1 74.2L204 74ZM202.6 53.3L201.1 55.1L201.3 55.6L203.1 56.8L203.2 56.8L206.3 54L206.5 53.3L205 53ZM232.6 88.4L230.6 88.5L229.9 87.9L230.7 86.2L231.5 86.3L232.8 86.6L233.4 87.9ZM180.3 92.5L180.4 92.8L181 94.1L183.9 93.4L182.8 90.7L182.6 90.7ZM188.2 72.3L185.1 73.5L189.8 75L190.3 75.1L190.7 74.9L191 74.5L190.8 74.2ZM197.7 53.2L199.1 54.8L197.1 54.9ZM203.2 56.8L206.3 54L207.6 55.6L207.6 56L207.5 56.2ZM187.4 70.1L189.3 70.3L191 72.9L190.8 74.2L188.2 72.3L187.3 70.2ZM180.4 81.2L177 82.9L177 79.9L178.7 79.9L179.3 80ZM197.7 53.2L199.1 54.8L200.6 55L197.9 51.2L197.1 51.5ZM222.1 67.8L220.4 66.6L218.6 66L215.6 68.2L216.9 69.4L218 69.5ZM224.8 78.1L223.6 78.2L221.9 78.1L220.6 76.7L225.8 75.4L226.4 76.1L226.3 77ZM188.7 54.8L186.4 54L185.9 54.1L185 54.8L186.5 56.3L188.9 55.6ZM210.9 64.6L210.9 64.6L213.1 63.3L213.6 62.6L213.6 62.4L211.2 61L210.6 61.6ZM204.4 77.1L203.9 77.2L202.9 77.1L202.1 74.3L202.1 74.2L204 74L204.8 76.9ZM213.2 49L213.2 50.1L212 51.2L211.9 51.2L208.9 49ZM246.7 62.7L245.8 63.4L246.2 64.8L247.3 65.4L251.6 64.4L251.2 63.8ZM188.9 87.2L187.3 86.3L188.8 84.9L192.3 84.7L192.5 86.3L191.5 87ZM179 59.4L177 63.6L177 63.8L178 63.8L181.2 60.8ZM209.9 83.1L210.1 82.9L207.5 80.5L204.8 81.9L209.2 83.2ZM213.2 50.1L213.2 49L218.1 49L218.2 50.7ZM194.5 77.8L190.7 74.9L190.3 75.1L189.7 76.1L189.2 77.5L192.1 79.1L193.3 79ZM195.9 77.6L196.9 76L195.1 74.1L193.7 73.8L191 74.5L190.7 74.9L194.5 77.8ZM182.1 79.6L179.6 79L179.5 78.3L182.2 79.2L182.2 79.5ZM205.6 92.3L207.8 89.7L209.1 90.3L206.4 92.7ZM203 69.6L200.8 70.9L201 71.5L204.3 73.3L204.4 73.3L203.8 69.4L203.7 69.4L203.5 69.4ZM178.6 59L177 58.9L177 53.7L178.2 53.9L178.9 54.3L179.2 54.7L179.3 58.3ZM190.9 53.9L190.4 53.2L189.2 52.8L189 52.8L186.4 53.9L186.4 54L188.7 54.8ZM209.7 53.1L211 51.6L206.6 50.2L206.8 53.2ZM194.2 72.6L193.7 73.8L195.1 74.1L198 73.1L197.9 72.5L197.4 72.1ZM193.4 86.3L195.1 85.7L195.6 87.9L194.5 87.8ZM182.2 74.5L177 73L177 72.9L181 71.9ZM200.3 77.9L199 77.9L197.2 78.2L197.6 79.2L199.4 80.5L201.8 80.9L202.1 80.5L202 79.9ZM203.2 51L202.4 50.2L203.7 49.8ZM181.5 86.8L184 85.1L185.3 85.6L186.5 86.2L182.8 87.7ZM209.9 78.5L207.4 80.3L207.5 80.5L210.1 82.9L212.4 81.8L213.1 81L211.7 78.6ZM184.8 54.9L182.2 53.5L178.9 54.3L179.2 54.7L183.2 55.8ZM248.9 54.6L248.6 53.8L250.4 52.5L252.1 52.2L253.7 52.6L253.7 55.2L251.3 55.2L249.2 54.7ZM247.6 58.5L247.5 58.5L248.1 59.1L248.3 59.3L252.7 60.1L253.7 59.8L253.7 58.6L249.5 57.7L247.9 58.3ZM197.1 54.9L199.1 54.8L200.6 55L201.1 55.1L201.3 55.6L197 57.4L195.4 56.2L196.9 54.9ZM218 69.5L216.9 69.4L215.9 71.5L216.1 71.7L218.8 72.4L218.7 70.1ZM246.7 61.8L247.8 61.1L248.3 59.3L248.1 59.1L245.5 60.8ZM215.8 61.1L217.9 61.5L219 62.8L216.7 63.2L213.9 62.4ZM190.7 64.7L189.5 63.9L190.3 61.7L191.9 64ZM196.1 51.8L194.7 51.4L193.7 51.5L193.7 51.5L192.7 52.6L192.7 53.9L193.4 54L195.4 53.1ZM200.7 91.3L199.7 92.1L197.9 94.1L198 94.3L202.7 94L202.9 92.2L202.7 92.1ZM180.8 64.8L179.4 67L177 68L177 63.8L178 63.8L179.4 64.2ZM183.4 66.8L182.3 67.5L179.4 67L180.8 64.8L182.4 64.8ZM240.9 65.3L241.8 66.7L242.2 66.9L244.5 67.3L244.6 65.4L241.5 64.7L241.1 65ZM214.9 80.8L216.8 78.8L217.4 79L218.8 81.1L217.2 81.5ZM219.7 95.1L221.9 93.3L222.8 92.9L224.3 93.4L224 95.1ZM197.6 69L203 69.6L200.8 70.9L200.1 70.9L198.4 70.2L197.6 69.2ZM198 73.1L200.2 74.2L199.4 75.3L196.9 76L195.1 74.1ZM205 53L206.5 53.3L206.8 53.2L206.6 50.2L206.3 50L204.5 51ZM188 61.1L185.5 61L185.6 58.5L186.6 57.9L190.6 57.7L190.8 59L189.1 61ZM190.7 64.7L190.6 65.1L191.6 66.3L193.3 66.3L194.3 65.7L192.5 64L192.2 64L191.9 64ZM221.4 58.1L221 57.4L223.9 55.7L224.2 55.7L225.8 56.7L226.8 58.3L226.8 58.4L225.3 59.5L221.7 58.4ZM239.8 67.8L239.6 65.5L237.1 65.9L236.7 66.1L236.4 66.5L238.9 68.1ZM227.1 62.8L227.6 65.4L226.5 65.8L225.4 63.7L226.7 62.7ZM183.5 51.6L182.2 53.5L178.9 54.3L178.2 53.9L180.5 52L183.4 50.7ZM180.5 87.5L182 88.4L182.2 89.2L181.9 89.7L177.2 89.3ZM189.3 70.3L191 72.9L192.3 71.1L191 70ZM200.7 85.6L205.3 85.8L205.4 85.8L202.9 87.6L200.7 85.6ZM199.2 89.6L200.5 91.1L200.7 91.3L199.7 92.1L194.6 92.5L193.8 92.3L193.6 92L195.4 90.5L197.9 89.2ZM204.4 77.1L205.7 79L206.8 78.5L206.9 76.7L204.8 76.9ZM221.7 58.4L225.3 59.5L225 59.9L221.3 60.2L219.9 59.7L220 59.3ZM181.4 81.2L182 81.4L180.9 84.5L177 84.6L177 84.6L177 82.9L180.4 81.2ZM177.2 89.3L177 89.4L177 90.3L178.4 91.4L180.3 92.5L182.6 90.7L181.9 89.7ZM203.8 69.4L204.4 73.3L207.4 72.2L207.1 70ZM182.1 79.6L181.4 81.2L180.4 81.2L179.3 80L179.6 79ZM231.7 54.3L232.7 54.4L232.8 55.2L231.3 55.4L230.3 55.2L230.3 54.5ZM177 49L177 49.6L180.5 52L183.4 50.7L184.1 49ZM189.1 61L190.8 59L196.3 60.9L193.1 61.7L190.3 61.6ZM179.3 77.8L179.8 76.8L177 75.8L177 78.5L177.6 78.4ZM197.6 79.2L194.7 81.5L194.8 82.3L194.9 82.5L194.9 82.5L199.4 80.5ZM251.4 80.8L250 79.8L247 80.7L246.9 81.8L246.9 81.9L248.3 82.3Z"/>
<path fill="#d830cc" stroke="#d830cc" stroke-width=".35" d="M236.3 72.1L235.6 70.8L237.5 70.8L241.5 71.8L241.1 73.3L240.6 73.6ZM212.4 81.8L210.1 82.9L209.9 83.1L211.4 86.2L211.5 86.2L214.9 83.5ZM231.5 86.3L235 84L235.6 86L232.8 86.6ZM232.2 83.5L231.9 81.1L233.2 80.3L234.3 80L235.6 83.7L235 84ZM236.7 66.1L233.4 62.9L234.3 62.5L237.3 62.1L237.6 63.4L237.1 65.9ZM232.6 57.9L233.6 58.8L231 61.6L230.6 61.3L231.7 57.9ZM200.1 70.9L197.9 72.5L198 73.1L200.2 74.2L200.6 74.1L201 71.5L200.8 70.9ZM236.4 66.5L236.3 66.5L235.4 66.5L231 65L231.7 63L233.4 62.9L236.7 66.1ZM224.9 71.9L224 72.9L224.8 73.5L228.4 73.1L227.3 72.3L225.5 71.7ZM238 59.3L239.3 60.1L241 57.7L241.1 56.7L238.7 56.2L237.8 57.3ZM234.2 59L234.3 62.5L237.3 62.1L239.8 60.7L239.3 60.1L238 59.3ZM243.9 84.2L248.4 87L245.6 89.4L242.5 87.5L241.5 86.6L241.1 85.9ZM232.4 93.3L234.9 94.7L235 95.1L229.8 95.1L230 93.8ZM197 57.4L197.4 60.3L197.6 60.9L197.7 60.9L197.9 61L201.4 60L203.1 57L203.1 56.8L201.3 55.6ZM190.1 49L192.4 49L194.4 50.8L194.7 51.4L193.7 51.5ZM242.6 79.4L240.8 78.1L240.9 77.7L243.5 77.5ZM253.7 68.4L251.4 68.1L249.2 69.4L249 69.9L249.5 70.1L253.7 70.3ZM229.6 78L230.1 79L233.2 80.3L234.3 80L234.8 79.5L231 77.1ZM218.4 59.5L214.9 58L214.6 58.1L218.4 60.6L218.9 60.1ZM221.4 58.1L221 57.4L220.4 57.3L218.9 58.2L219.4 58.5ZM233.4 87.9L232.8 86.6L235.6 86L236.6 86.7L236.5 87.1L235.4 88ZM195.1 85.7L195.4 85L196.9 85.3L198.7 86.4L197.7 88.9L195.6 87.9ZM211.5 86.2L211.4 86.2L211.1 86.4L212.5 89.4L215.5 88.6L215.4 86.3ZM221 57.4L223.9 55.7L218.5 54.6L218.5 54.6L218 55.3L220.4 57.3ZM202.1 74.2L202.1 74.3L201.7 77L201.3 77.1L199.6 75.5L199.4 75.3L200.2 74.2L200.6 74.1ZM203.2 56.8L207.5 56.2L208.7 57.3L209.8 59L208.8 59.2L203.1 57L203.1 56.8ZM225.5 71.7L227.3 72.3L230.5 72L231.5 71.3L231.6 71L229.9 69.9L229.4 69.8ZM218.6 58.2L215.8 57.5L214.9 58L218.4 59.5ZM230.6 76L226.4 76.1L225.8 75.4L225.8 74.7L229.1 74.2L230.7 75.2ZM246.3 80.6L245.3 79.7L244.5 79.6L242.8 80.1L241.4 81.4L242.5 81.9ZM221.6 87.4L220.5 87.6L220.2 89L222.6 90.9L223.9 90.5L223.7 88.8L221.9 87.4ZM251.6 64.4L247.3 65.4L247.2 66.9L249.6 67.2L250 67.1L251.7 64.4ZM229.9 87.9L230.7 86.2L230.1 85.6L225.6 86.1L227 87.8L227.8 88.2ZM202.7 92.1L202.9 92.2L205.6 92.3L207.8 89.7L207.2 89.1L205.8 89.1ZM241.9 69.3L245.2 67.7L245.5 67.8L246 69.5L242.1 70.4L241.7 69.8ZM253.7 55.2L253.7 58.6L249.5 57.7L251.3 55.2ZM227 91.8L232.1 92.3L232.2 91.3L230.6 90.3L227.3 90.7L226.6 91.1L226.8 91.7ZM223.1 68.4L223.1 68.2L222.1 67.8L218 69.5L218.7 70.1L220.5 70.4ZM227.5 81.1L225.8 83.9L230 84L228.3 81.2ZM230.5 72L227.3 72.3L228.4 73.1L229.2 73.2ZM227.1 62.8L231.3 62.7L231.7 63L231 65L230.5 65.4L227.6 65.4ZM220.5 87.6L219.6 87.4L217.1 88.8L218.7 90.1L220.2 89ZM225.5 93.7L224.5 93.3L226.8 91.7L227 91.8L227.9 93.1L226.9 94ZM186.4 54L186.4 53.9L186.9 51.9L186.3 50.1L185.5 49L184.1 49L183.4 50.7L183.5 51.6L185.9 54.1ZM244.6 65.4L246.2 64.8L247.3 65.4L247.2 66.9L246.3 67.5L245.5 67.8L245.2 67.7L244.5 67.3ZM230.6 90.3L232.2 91.3L233.2 90.8L232.7 89.4L230.7 89.5ZM235.7 79.3L239.1 80.5L240.8 78.1L240.9 77.7L239.6 76.8L235.9 78.9ZM245.3 79.7L244.5 79.6L243.8 77.4L243.8 77.4L245.1 76.9L245.8 79.1ZM225.4 78.5L227.1 80.7L227.1 80.8L226.2 80.9L224.9 80.6L223.6 78.2L224.8 78.1ZM235.2 76L235.9 78.9L235.7 79.3L234.8 79.5L231 77.1L231.1 76.6ZM227.8 88.2L227 87.8L225.4 88.5L226.4 91L226.6 91.1L227.3 90.7ZM228.9 78.1L226.3 77L224.8 78.1L225.4 78.5L228.2 78.7ZM251.4 80.8L250 79.8L249.6 78.3L249.9 75.3L253.2 74.8L253.7 74.7L253.7 81.3L253 81.2L251.8 80.9ZM214.9 83.5L211.5 86.2L215.4 86.3L216.7 85.9L217 85.3L216.4 84.2ZM239.8 67.8L239.9 67.8L241.8 66.7L240.9 65.3L239.6 65.5ZM193.6 68.9L195 70.7L195 70.9L194.4 71.3L192.3 71.1L191 70L192.2 68.9ZM237.7 89.2L238.5 88.5L239.5 89L240.4 90.6L237.9 90.1ZM248.9 84L249.5 84.7L250.2 86.3L250.2 86.4L248.4 87L243.9 84.2L244 83.9L246 83.3ZM217.3 53.2L218.3 50.8L218.2 50.7L213.2 50.1L212 51.2L214.8 53ZM246.1 95.1L248.3 95.1L250.8 92.2L245.5 89.8L244.5 90.4ZM190 89.7L189.8 91.2L187.9 91.8L186 90.9L185.7 88.2L186.9 86.3L187.3 86.3L188.9 87.2ZM241.3 92.4L236.6 93.7L237.7 91.5L241.5 91.3L241.8 91.4ZM250.2 86.4L253.7 87.1L253.7 92L250.8 92.2L245.5 89.8L245.6 89.4L248.4 87ZM241.8 91.4L241.5 91.3L240.4 90.6L239.5 89L242.5 87.5L245.6 89.4L245.5 89.8L244.5 90.4ZM195.4 56.2L197 57.4L197.4 60.3L191.8 57L194.4 56.1ZM227.5 68.4L230.5 65.7L231.8 67.6L229.9 69.9L229.4 69.8ZM179.4 64.2L178 63.8L181.2 60.8L182.6 61.2ZM230.5 65.4L230.5 65.7L231.8 67.6L233 67.6L235.4 66.5L231 65ZM228.9 78.1L229.6 78L230.1 79L228.6 81.1L228.3 81.2L227.5 81.1L227.1 80.8L227.1 80.7L228.2 78.7ZM225.4 63.7L224.1 64.1L223.4 64.4L225.4 66.6L226.5 65.8ZM179.8 76.8L177 75.8L177 73L182.2 74.5L182.7 74.7L182.7 76.1ZM242.5 81.9L241.4 81.4L240 81.3L238.2 83.3L240.6 85.7L241.1 85.9L243.9 84.2L244 83.9L242.6 82ZM228.2 78.7L227.1 80.7L225.4 78.5ZM197.8 95.1L198 94.3L202.7 94L203.1 95.1ZM231.8 67.6L229.9 69.9L231.6 71L235.2 70.5L235.3 70.3L233 67.6ZM223.3 68.9L224.9 71.9L224 72.9L222.1 73.1L222.3 70.4ZM245.8 79.1L245.1 76.9L247.4 75.5L248.4 75.1L248.6 75L249.9 75.3L249.6 78.3ZM203.2 51L203.2 51.1L201.8 52.1L198.3 50.9L198.9 49L200.3 49L202.4 50.2ZM232.9 73.9L230.7 75.2L230.6 76L231.1 76.6L235.2 76L235.5 75.7L233.2 74ZM184.8 67.3L184.9 67.6L181.8 69.3L182.3 67.5L183.4 66.8L184.7 67.2ZM233.2 74L235.8 73.1L237.2 75.1L235.5 75.7ZM222.3 70.4L222.1 73.1L220.7 73.3L220.8 71.6ZM242.1 70.4L246 69.5L247.5 70.5L247.1 72L241.9 71.3ZM232.8 88.8L232.7 89.4L230.7 89.5L230.6 88.5L232.6 88.4ZM236.6 93.7L237.7 91.5L235.9 90.7L235.8 94ZM202.2 82.1L204.8 81.9L207.5 80.5L207.4 80.3L205.6 79.6L202.1 80.5L201.8 80.9L202.2 82.1ZM227.6 65.4L230.5 65.4L230.5 65.7L227.5 68.4L225 67.7L225.4 66.6L226.5 65.8ZM182 88.4L182.8 87.7L186.5 86.2L186.9 86.3L185.7 88.2L182.2 89.2ZM185.6 58.5L183 57.5L179.3 58.3L178.6 59L179 59.4L181.2 60.8L182.6 61.2L184.6 61.6L185.5 61ZM226.2 80.9L227.1 80.8L227.5 81.1L225.8 83.9L224.8 84.4L222.8 83.5L223.1 83.1ZM239.9 67.8L241.7 68.6L242.2 66.9L241.8 66.7ZM231.7 54.3L232.7 54.4L232.8 54.3L232.9 53.5L232.1 52.6L231 52.9ZM189.5 63.9L188.9 63.9L188 61.1L189.1 61L190.3 61.6L190.3 61.7ZM239.5 75.1L241.5 75.6L247.4 75.5L248.4 75.1L241.1 73.3L240.6 73.6ZM212.4 81.8L214.9 83.5L216.4 84.2L217.4 82.5L217.2 81.5L214.9 80.8L213.1 81ZM222.3 52.9L220.8 50.7L220.1 50.8L220.8 53.3ZM249.9 75.3L248.6 75L247.1 72L247.5 70.5L249 69.9L249.5 70.1L253.2 74.8ZM242.1 95.1L235 95.1L234.9 94.7L235.8 94L236.6 93.7L241.3 92.4ZM226.8 91.7L226.6 91.1L226.4 91L223.9 90.5L222.6 90.9L222.3 91.1L222.8 92.9L224.3 93.4L224.5 93.3ZM202.6 53.3L201.1 55.1L200.6 55L197.9 51.2L198.3 50.9L201.8 52.1ZM235.5 75.7L237.2 75.1L239.4 75.2L239.6 76.8L235.9 78.9L235.2 76ZM181.2 69.8L177 69.4L177 72.9L181 71.9L181.8 71.2ZM220 81.1L223.2 81.1L223.6 80.7L221.5 78.9L220.4 79.8L219.9 81ZM221.1 82.8L219.1 83.2L217.8 85L220.6 84.6L222.2 83.4ZM232.9 73.9L231.5 71.3L230.5 72L229.2 73.2L229.1 74.2L230.7 75.2Z"/>
<path fill="#9c30cc" stroke="#9c30cc" stroke-width=".35" d="M225 59.9L225 60.9L223.5 61.8L220.9 62.8L219.9 62.8L221.3 60.2ZM231.5 86.3L230.7 86.2L230.1 85.6L230.2 84.1L232.2 83.5L235 84L235 84ZM247.1 49L247.2 49.8L248.7 50.4L250.3 50.6L253.7 49.6L253.7 49ZM229.3 53L226.3 52.5L226.1 52L226.3 51.6L229.4 50.7L229.7 50.9L229.4 53ZM246.3 67.5L245.5 67.8L246 69.5L247.5 70.5L249 69.9L249.2 69.4L248.7 68.6ZM240 69.4L241.7 69.8L242.1 70.4L241.9 71.3L241.5 71.8L237.5 70.8ZM223.1 68.4L220.5 70.4L220.8 71.6L222.3 70.4L223.3 68.9ZM234.1 56.3L232.6 57.9L233.6 58.8L234.2 59L238 59.3L237.8 57.3L234.2 56.2ZM226.7 62.7L225 60.9L223.5 61.8L224.1 64.1L225.4 63.7ZM244.5 67.3L245.2 67.7L241.9 69.3L241.7 68.6L242.2 66.9ZM225.5 93.7L226.4 95.1L226.8 95.1L226.9 94ZM244.5 79.6L243.8 77.4L243.5 77.5L242.6 79.4L242.8 80.1ZM246.1 95.1L244.5 90.4L241.8 91.4L241.3 92.4L242.1 95.1ZM253.7 74.7L253.7 70.3L249.5 70.1L253.2 74.8ZM246.7 61.9L240.8 61.5L240.2 60.8L243.6 59.6L245.5 60.8L246.7 61.8ZM246.9 81.9L246.9 81.8L242.6 82L244 83.9L246 83.3ZM219.3 91.7L222.3 91.1L222.8 92.9L221.9 93.3ZM210.8 54.5L210.1 53.9L209.7 53.1L211 51.6L211.9 51.2L212 51.2L214.8 53L214.4 53.5L210.9 54.5ZM223.6 80.7L224.9 80.6L223.6 78.2L221.9 78.1L221.5 78.9ZM230.1 85.6L225.6 86.1L225 85.8L224.8 84.4L225.8 83.9L230 84L230.2 84.1ZM237.7 91.5L241.5 91.3L240.4 90.6L237.9 90.1L235.8 90.7L235.9 90.7ZM216.7 85.9L219.6 87.4L217.1 88.8L215.9 88.9L215.5 88.6L215.4 86.3ZM248.3 95.1L250.8 92.2L253.7 92L253.7 95.1ZM216.9 69.4L215.9 71.5L213 70.9L212.8 70.5L215 68.2L215.6 68.2ZM230 93.8L229.8 95.1L227.7 95.1L229.4 93.8ZM223.7 51.6L222.5 53L222.3 52.9L220.8 50.7L222.2 50.2Z"/>
<path fill="#c00c0c" stroke="#c00c0c" stroke-width=".35" d="M220.5 73.3L219.9 74.2L214.8 73.2L216.1 71.7L218.8 72.4ZM211.9 90.9L212.5 89.4L215.5 88.6L215.9 88.9L216 90.7L212.6 91.6ZM234.2 56.2L237.8 57.3L238.7 56.2L238.4 54.8L236.4 54.6Z"/>
<path fill="#cccccc" stroke="#cccccc" stroke-width=".35" d="M227.9 54.7L225.8 53L224.4 54L224.2 55.7L225.8 56.7L227.3 55.6ZM197.4 67.8L197.5 66.5L198.3 66L200.8 65.2L201.8 65.7L199.9 67.9ZM202.2 82.1L204.8 81.9L209.2 83.2L208.1 83.6L202.5 83.1ZM226.8 95.1L226.9 94L227.9 93.1L229.4 93.8L227.7 95.1ZM232.9 73.9L231.5 71.3L231.6 71L235.2 70.5L235.6 70.8L236.3 72.1L235.8 73.1L233.2 74ZM232.1 92.3L232.2 91.3L233.2 90.8L235 90.3L235.8 90.7L235.9 90.7L235.8 94L234.9 94.7L232.4 93.3ZM248.3 82.3L246.9 81.9L246 83.3L248.9 84L249 83.6ZM190.7 51.2L189.1 51.9L189.2 52.8L190.4 53.2L191 52.4L191.2 51.6ZM223.4 64.4L224.1 64.1L223.5 61.8L220.9 62.8L222.9 64.3ZM215.9 88.9L216 90.7L218.3 91.1L218.7 90.1L217.1 88.8ZM211.4 66.5L215.3 65L215.3 64.5L213.1 63.3L210.9 64.6L210.8 65.2ZM210 71.6L209.1 69.6L209.5 69.3L212.8 70.5L213 70.9L212.1 71.9ZM213.9 73.8L219 76.1L219.3 76L219.9 74.2L214.8 73.2ZM249.6 67.2L248.7 68.6L246.3 67.5L247.2 66.9ZM210 71.6L209.1 69.6L207.1 70L207.4 72.2L208.5 72.6L208.8 72.6ZM251.3 61.9L251.2 63.8L251.6 64.4L251.7 64.4L253.7 64.8L253.7 59.8L252.7 60.1ZM216.4 84.2L217 85.3L217.8 85L219.1 83.2L217.4 82.5ZM190.9 53.9L188.7 54.8L188.9 55.6L190.9 57.4L191.7 57L191.1 54ZM230.3 55.2L230.3 55.2L229.9 57.8L231.5 57.8L231.3 55.4ZM217.9 95.1L216.5 94.1L215.1 93.4L214.8 93.4L213.8 95.1ZM219 62.8L216.7 63.2L215.7 63.9L215.3 64.5L215.3 65L218.5 65.8L219.2 62.8ZM189.8 49L185.5 49L186.3 50.1L189.1 51.9L190.7 51.2ZM220.4 57.3L218 55.3L216.7 56.1L215.8 57.5L218.6 58.2L218.9 58.2ZM218.9 60.1L218.4 60.6L217.9 61.5L219 62.8L219.2 62.8L219.9 62.8L221.3 60.2L219.9 59.7ZM213.9 73.8L213.7 73.8L212.2 72.4L212.1 71.9L213 70.9L215.9 71.5L216.1 71.7L214.8 73.2ZM218.5 54.6L217.3 53.2L218.3 50.8L220.1 50.8L220.8 53.3L218.5 54.6ZM207.2 60.2L208.8 59.2L209.8 59L210.9 59.1L211.2 61L210.6 61.6L208.2 62.5ZM212.6 91.6L216 90.7L218.3 91.1L218.5 91.3L215.1 93.4L214.8 93.4L212.6 92.1ZM197.9 94.1L194.6 92.5L199.7 92.1ZM223.1 68.2L225 67.7L225.4 66.6L223.4 64.4L222.9 64.3L220.4 66.6L222.1 67.8ZM237.6 63.4L237.3 62.1L239.8 60.7L240.2 60.8L240.8 61.5L241.9 63.2L241.5 64.7L241.1 65ZM213.6 62.4L213.6 62.6L215.7 63.9L216.7 63.2L213.9 62.4ZM201.3 77.1L200.3 77.9L202 79.9L203.9 77.2L202.9 77.1L201.7 77ZM189 52.8L186.9 51.9L186.4 53.9ZM246.4 50.7L247.2 49.8L247.1 49L240 49L241 52.1L241.2 52.1ZM246.7 61.9L246.7 62.7L245.8 63.4L241.9 63.2L240.8 61.5ZM248.6 53.8L250.4 52.5L249.2 51.5L248.4 53.6ZM194.4 71.3L195 70.9L196.7 71.5L197.4 72.1L194.2 72.6ZM186.5 65.2L184.7 67.2L184.8 67.3L188 67.3L187.8 65.8ZM239.6 65.5L240.9 65.3L241.1 65L237.6 63.4L237.1 65.9ZM233.6 50.3L236.9 49L233.3 49L233.2 49.7ZM191.5 89.2L193.6 89.4L195.4 90.5L193.6 92L189.8 91.2L190 89.7ZM184.8 67.3L184.9 67.6L185.6 69.8L186.6 70.2L187.3 70.2L187.4 70.1L188.5 67.7L188 67.3ZM182.9 76.2L182.7 76.1L182.7 74.7L184.4 73.4L185.1 73.5L189.8 75ZM232.8 54.3L236 54.2L235.5 53.4L232.9 53.5ZM247.9 54.9L244.9 54.4L244.2 56.6L244.4 56.7L247.3 55.5ZM197.9 94.1L198 94.3L197.8 95.1L192.8 95.1L193.8 92.3L194.6 92.5ZM179.3 58.3L179.2 54.7L183.2 55.8L183 57.5ZM235 89.9L235 90.3L235.8 90.7L237.9 90.1L237.7 89.2L235.5 89ZM232.8 88.8L235 89.9L235.5 89L235.4 88L233.4 87.9L232.6 88.4ZM231.5 57.8L231.7 57.9L230.6 61.3L226.8 58.4L226.8 58.3L229.9 57.8ZM235.3 70.3L238.9 68.7L240 69.4L237.5 70.8L235.6 70.8L235.2 70.5L235.3 70.3ZM230.3 54.5L230.3 55.2L230.3 55.2L227.3 55.6L227.9 54.7L229.3 53.6ZM194.5 83.8L192.3 84.7L188.8 84.9L189 83.5L194.5 83.5Z"/>
<path fill="#f0f03c" stroke="#f0f03c" stroke-width=".35" d="M251.7 64.4L253.7 64.8L253.7 68.4L251.4 68.1L250 67.1ZM221.6 87.4L220.6 84.6L222.2 83.4L222.8 83.5L224.8 84.4L225 85.8L221.9 87.4ZM230.3 55.2L227.3 55.6L225.8 56.7L226.8 58.3L229.9 57.8ZM244.7 57.7L241 57.7L241.1 56.7L242.6 56.1L244.2 56.6L244.4 56.7ZM212.9 58.4L213.7 58.4L215.8 61.1L213.9 62.4L213.6 62.4L211.2 61L210.9 59.1ZM242.6 56.1L244.2 56.6L244.9 54.4L244.1 53.7L242.3 55.5ZM225.8 53L224.4 54L222.5 53L223.7 51.6L226.1 52L226.3 52.5ZM219.1 91.7L218.5 91.3L218.3 91.1L218.7 90.1L220.2 89L222.6 90.9L222.3 91.1L219.3 91.7ZM240.6 85.7L236.6 86.7L235.6 86L235 84L235 84L235.6 83.7L238.2 83.3ZM241.5 75.6L247.4 75.5L245.1 76.9L243.8 77.4ZM231.7 54.3L231 52.9L229.4 53L229.3 53L229.3 53.6L230.3 54.5ZM230.6 76L226.4 76.1L226.3 77L228.9 78.1L229.6 78L231 77.1L231.1 76.6ZM218.5 54.6L217.3 53.2L214.8 53L214.4 53.5L213.9 55L216.7 56.1L218 55.3ZM240 81.3L239.1 80.5L235.7 79.3L234.8 79.5L234.3 80L235.6 83.7L238.2 83.3ZM204.1 73.9L208.5 74.9L208.5 72.6L207.4 72.2L204.4 73.3L204.3 73.3ZM179.6 79L179.3 80L178.7 79.9L177.6 78.4L179.3 77.8L179.5 78.3ZM205.2 60.7L207.2 62.8L207.8 62.8L208 62.7L208.2 62.5L207.2 60.2ZM205.2 60.7L203.7 60.8L204 61.6L205.4 63.2L207.2 62.8ZM232.8 54.3L232.7 54.4L232.8 55.2L234.1 56.3L234.2 56.2L236.4 54.6L236 54.2ZM241.4 81.4L242.8 80.1L242.6 79.4L240.8 78.1L239.1 80.5L240 81.3ZM226.1 52L223.7 51.6L222.2 50.2L223.2 49L225.5 49L226.3 51.6ZM207.6 55.6L210.1 53.9L209.7 53.1L206.8 53.2L206.5 53.3L206.3 54ZM194.9 49L194.4 50.8L192.4 49ZM246.7 61.9L246.7 62.7L251.2 63.8L251.3 61.9L247.8 61.1L246.7 61.8ZM246.7 52.6L244.1 53.7L241.2 52.1L246.4 50.7ZM184.7 63.4L184.6 61.6L182.6 61.2L179.4 64.2L180.8 64.8L182.4 64.8ZM233.6 50.4L233.6 50.3L236.9 49L239.2 49L237.1 50.2ZM227 91.8L232.1 92.3L232.4 93.3L230 93.8L229.4 93.8L227.9 93.1ZM236 54.2L236.4 54.6L238.4 54.8L239.7 54L240.7 52.3L236.1 52L235.7 52.1L235.5 53.4ZM229.4 50.7L226.3 51.6L225.5 49L228.7 49L229.3 49.6ZM209.9 78.5L211.7 78.6L212.3 78L212.3 76.3L208.8 75.2L208 76.5L209.5 78.3ZM197.6 60.9L197.4 60.3L191.8 57L191.7 57L190.9 57.4L190.6 57.7L190.8 59L196.3 60.9ZM227.1 62.8L231.3 62.7L231 61.6L230.6 61.3L226.8 58.4L225.3 59.5L225 59.9L225 60.9L226.7 62.7ZM240.7 52.3L241 52.1L241.2 52.1L244.1 53.7L244.1 53.7L242.3 55.5L239.7 54ZM191.2 51.6L191 52.4L192.7 52.6L193.7 51.5ZM244.6 65.4L246.2 64.8L245.8 63.4L241.9 63.2L241.5 64.7ZM217 85.3L217.8 85L220.6 84.6L221.6 87.4L220.5 87.6L219.6 87.4L216.7 85.9ZM248.9 54.6L247.9 54.9L247.3 55.5L247.6 58.5L247.9 58.3L249.2 54.7ZM231.7 63L233.4 62.9L234.3 62.5L234.2 59L233.6 58.8L231 61.6L231.3 62.7ZM177 95.1L177 93.1L180.4 92.8L181 94.1L180.5 95.1ZM201.7 77L202.1 74.3L202.9 77.1ZM210.5 67.1L209.5 69.3L212.8 70.5L215 68.2L211.4 66.6ZM208.2 62.5L210.6 61.6L210.9 64.6L208 62.7ZM195.6 63.7L195.1 65.5L197.5 66.5L198.3 66L196.3 63ZM229.4 53L229.7 50.9L233.2 51.3L232.1 52.6L231 52.9ZM194.8 68.1L197.3 67.9L197.6 69L197.6 69.2L195 70.7L193.6 68.9ZM220.7 73.3L222.1 73.1L224 72.9L224.8 73.5L225.8 74.7L225.8 75.4L220.6 76.7L219.3 76L219.9 74.2L220.5 73.3ZM239.8 67.8L239.9 67.8L241.7 68.6L241.9 69.3L241.7 69.8L240 69.4L238.9 68.7L238.9 68.1ZM185.9 54.1L183.5 51.6L182.2 53.5L184.8 54.9L185 54.8ZM253.7 52.6L252.1 52.2L250.3 50.6L253.7 49.6ZM232.8 88.8L232.7 89.4L233.2 90.8L235 90.3L235 89.9ZM212.3 76.3L213.2 75.8L213.5 74.1L210.6 74.3L208.8 75.2L208.8 75.2ZM205.7 79L205.6 79.6L207.4 80.3L209.9 78.5L209.5 78.3L206.8 78.5ZM182.1 79.6L181.4 81.2L182 81.4L184 81.9L187.2 80.8L185.2 79.4L182.2 79.5ZM240.7 52.3L241 52.1L240 49L239.2 49L237.1 50.2L236.1 52ZM218.6 66L218.5 65.8L215.3 65L211.4 66.5L211.4 66.6L215 68.2L215.6 68.2ZM204 61.6L205.4 63.2L205.1 64L202.7 63.6ZM247 80.7L250 79.8L249.6 78.3L245.8 79.1L245.3 79.7L246.3 80.6Z"/>
<path fill="#3c9c30" stroke="#3c9c30" stroke-width=".35" d="M194.8 68.1L193.3 66.3L191.6 66.3L190.7 67.4L192.2 68.9L193.6 68.9ZM223.7 88.8L225.4 88.5L226.4 91L223.9 90.5ZM239.7 54L242.3 55.5L242.6 56.1L241.1 56.7L238.7 56.2L238.4 54.8ZM206.9 76.7L208 76.5L209.5 78.3L206.8 78.5ZM221.9 87.4L225 85.8L225.6 86.1L227 87.8L225.4 88.5L223.7 88.8ZM186.6 70.2L184.3 72.4L181.8 71.2L181.2 69.8L181.7 69.6L185.6 69.8ZM187.3 70.2L188.2 72.3L185.1 73.5L184.4 73.4L184.3 72.4L186.6 70.2ZM243.6 59.6L245.2 58.3L244.7 57.7L241 57.7L239.3 60.1L239.8 60.7L240.2 60.8ZM229.9 87.9L227.8 88.2L227.3 90.7L230.6 90.3L230.7 89.5L230.6 88.5ZM219.7 95.1L219.1 91.8L216.5 94.1L217.9 95.1ZM194.4 71.3L192.3 71.1L191 72.9L190.8 74.2L191 74.5L193.7 73.8L194.2 72.6ZM202.6 53.3L201.8 52.1L203.2 51.1L204.5 51L205 53ZM238.5 88.5L238.5 88.4L241.5 86.6L242.5 87.5L239.5 89ZM197.6 69.2L198.4 70.2L196.7 71.5L195 70.9L195 70.7ZM178.4 91.4L177 92.9L177 93.1L180.4 92.8L180.3 92.5ZM210.1 55.9L212.8 58.2L212.4 55.3L210.9 54.5L210.8 54.5L210 55.5ZM202.9 87.8L205 88.9L200.5 91.1L199.2 89.6ZM235.7 52.1L233.4 51.2L233.6 50.4L237.1 50.2L236.1 52ZM241.5 71.8L241.9 71.3L247.1 72L248.6 75L248.4 75.1L241.1 73.3ZM212.3 78L216.9 77.6L217.9 76.6L213.2 75.8L212.3 76.3ZM229.2 73.2L228.4 73.1L224.8 73.5L225.8 74.7L229.1 74.2ZM210 71.6L212.1 71.9L212.2 72.4L210.6 73L208.8 72.6ZM187.4 80.8L188.5 81.2L192.1 79.1L189.2 77.5L188.1 78.3ZM245.5 60.8L248.1 59.1L247.5 58.5L245.2 58.3L243.6 59.6ZM234.1 56.3L232.6 57.9L231.7 57.9L231.5 57.8L231.3 55.4L232.8 55.2ZM204.4 77.1L203.9 77.2L202 79.9L202.1 80.5L205.6 79.6L205.7 79ZM228.3 81.2L230 84L230.2 84.1L232.2 83.5L231.9 81.1L228.6 81.1ZM194.5 83.5L194.9 82.5L194.8 82.3L188.8 81.5L189 83.5ZM178.7 79.9L177 79.9L177 78.5L177.6 78.4ZM194.8 68.1L197.3 67.9L197.4 67.8L197.5 66.5L195.1 65.5L194.3 65.7L193.3 66.3ZM213.7 58.4L214.6 58.1L218.4 60.6L217.9 61.5L215.8 61.1ZM182 81.4L180.9 84.5L183.8 84.9L184 81.9ZM229.3 53.6L227.9 54.7L225.8 53L226.3 52.5L229.3 53ZM219.3 76L220.6 76.7L221.9 78.1L221.5 78.9L220.4 79.8L217.4 79L216.8 78.8L216.9 77.6L217.9 76.6L219 76.1ZM187.4 80.8L187.2 80.8L185.2 79.4L184.2 77.1L185 77.2L188.1 78.3L187.4 80.8ZM223.2 81.1L223.1 83.1L226.2 80.9L224.9 80.6L223.6 80.7ZM201.3 77.1L199.6 75.5L199 77.9L200.3 77.9ZM206.2 49L208.9 49L211.9 51.2L211 51.6L206.6 50.2L206.3 50ZM209.1 94.7L209 95.1L213.8 95.1L214.8 93.4L212.6 92.1ZM247.8 61.1L251.3 61.9L252.7 60.1L248.3 59.3ZM219.1 91.7L218.5 91.3L215.1 93.4L216.5 94.1L219.1 91.8ZM202.5 83.3L205.4 85.4L208.1 83.6L202.5 83.1ZM194.5 83.8L195.4 85L196.9 85.3L198.6 84.2L198 83.1L194.9 82.5L194.9 82.5L194.5 83.5ZM203.7 49.8L205.4 49L200.3 49L202.4 50.2ZM192.5 64L194.3 65.7L195.1 65.5L195.6 63.7ZM220.4 66.6L222.9 64.3L220.9 62.8L219.9 62.8L219.2 62.8L218.5 65.8L218.6 66ZM205.2 60.7L203.7 60.8L201.4 60L203.1 57L208.8 59.2L207.2 60.2ZM213.6 62.6L215.7 63.9L215.3 64.5L213.1 63.3ZM191.5 89.2L193.6 89.4L193 88.3ZM210.1 55.9L208.7 57.3L207.5 56.2L207.6 56L210 55.5ZM204.8 76.9L204 74L204.1 73.9L208.5 74.9L208.8 75.2L208.8 75.2L208 76.5L206.9 76.7ZM219.1 91.7L219.1 91.8L219.7 95.1L219.7 95.1L221.9 93.3L219.3 91.7ZM185 77.2L189.7 76.1L189.2 77.5L188.1 78.3ZM181.7 69.6L181.8 69.3L182.3 67.5L179.4 67L177 68L177 69.4L181.2 69.8Z"/>
<polygon points="177,76 200,62 204,63 186,76 177,82" fill="#3e9e30"/>
<polygon points="200,76 214,71 219,74 206,81 199,80" fill="#3e9e30"/>
<polygon points="177,69 200,52 202,54 177,73" fill="#2a6a4a"/>
</g>
<rect x="256.3" y="52.7" width="5.2" height="3" fill="#e020d0"/>
<rect x="263" y="53.7" width="15.1" height="0.9" fill="#b4b4b4"/>
<rect x="256.3" y="56.6" width="5.2" height="3" fill="#9020c8"/>
<rect x="263" y="57.6" width="30.6" height="0.9" fill="#b4b4b4"/>
<rect x="256.3" y="60.4" width="5.2" height="3" fill="#80e0e0"/>
<rect x="263" y="61.4" width="25.6" height="0.9" fill="#b4b4b4"/>
<rect x="256.3" y="64.2" width="5.2" height="3" fill="#e06020"/>
<rect x="263" y="65.2" width="20.3" height="0.9" fill="#b4b4b4"/>
<rect x="256.3" y="68.1" width="5.2" height="3" fill="#c81010"/>
<rect x="263" y="69.1" width="34.5" height="0.9" fill="#b4b4b4"/>
<rect x="256.3" y="72.0" width="5.2" height="3" fill="#f0f020"/>
<rect x="263" y="73.0" width="22.0" height="0.9" fill="#b4b4b4"/>
<rect x="256.3" y="75.8" width="5.2" height="3" fill="#d0d0d8"/>
<rect x="263" y="76.8" width="23.5" height="0.9" fill="#b4b4b4"/>
<rect x="256.3" y="80.7" width="12.0" height="0.9" fill="#b4b4b4"/>
<rect x="256.3" y="83.5" width="5.2" height="3" fill="#707070"/>
<rect x="263" y="84.5" width="22.8" height="0.9" fill="#b4b4b4"/>
<rect x="256.3" y="87.3" width="5.2" height="3" fill="#30a030"/>
<rect x="263" y="88.3" width="21.5" height="0.9" fill="#b4b4b4"/>
<rect x="256.3" y="91.2" width="5.2" height="3" fill="#1050d0"/>
<rect x="263" y="92.2" width="35.1" height="0.9" fill="#b4b4b4"/>
<rect x="256.3" y="50" width="14" height="1.1" fill="#8a8a8a"/>
<rect x="320.2" y="49" width="45" height="46.5" fill="#111"/>
<path fill="#303030" stroke="#303030" stroke-width=".35" d="M329.7 70.2L325.4 69.9L325.3 69.2L325.4 68.6L328.3 64.1L330.7 65.7L330.2 70.1ZM351.8 58.1L353.9 62L354.4 62.2L359.9 59L357.4 56.1L354.9 55.8L352.8 56.2ZM330.3 91L326.4 88.9L326.4 91ZM323 73.9L322.3 74.1L320.5 74L320.5 68.1L325.3 69.2L325.4 69.9L325.1 70.8ZM363 83.7L365 84.8L365 77.5L362.7 77.3L361.5 78.6L361.4 79.6ZM354.2 73L353.2 72.8L356.2 70.3L357.3 71L357.3 72.4ZM334.2 55.8L333.6 57.9L331.9 57.7L331.8 57.7L331.9 56.6ZM324.4 78.9L322.3 74.1L320.5 74L320.5 80.4L323.1 80.7ZM351.2 65.5L350.5 65.6L348.2 68.6L350.7 71.7L351.4 71.6L353.1 68.2L351.4 65.7ZM320.5 91L320.5 88.5L321.7 88.3L325.5 88.1L324.9 91ZM354.7 49L357.8 49L358.3 54.1L357.4 56.1L354.9 55.8ZM339 80.7L342.5 81.3L342.2 82L341 83.4L338.3 84.4L337.9 83.9ZM335 81.1L333.9 82.2L332.4 80.4L332.4 79.8L333.8 79.6L334.6 79.9ZM343.2 54.6L342.2 49.8L341.7 49L339.2 49L338.8 53.2L343 55.1ZM348.1 54.8L351.3 55.3L348.3 52.5L347.3 54.4ZM351.3 55.3L352.5 55.8L351.7 52.6L348.3 52.5L348.3 52.5ZM351.4 65.7L355.1 64.1L356.1 65.3L356 65.5L353.9 67.8L353.1 68.2ZM340.6 58.3L345.2 60L345.2 62L345.1 62L340.6 60.1ZM328 51.2L328.4 51L328.1 49L322.2 49L323.4 50.1ZM358.3 65.3L361.1 59.7L359.9 59L354.4 62.2L355.1 64.1L356.1 65.3Z"/>
<path fill="#484848" stroke="#484848" stroke-width=".35" d="M345.7 70.5L347.3 68.3L348.2 68.6L350.7 71.7L349.7 72.5L346 71ZM332.3 72.3L334.1 67.6L335.3 68.9L335.3 71.8L333.7 72.3ZM364 72.1L364.5 70.6L365 70.6L365 72.4L364.2 72.4ZM331.2 53.5L330.8 53.4L329.9 52.9L328.7 51.2L330.6 50.4L334.5 49.7L333.9 51.2ZM335 81.1L336.6 82.9L336.5 80.6L336.1 79.6L334.6 79.9ZM344.1 74.8L344.7 75.5L346.8 79.2L342.5 79L341.6 76.4L341.7 76.1L343.7 74.8ZM345.2 62L346.6 63.1L346.1 67.1L344.7 67.6L343 67.6L339.9 64.4L345.1 62ZM351.6 58.2L349.2 62.1L351.9 63.1L353.9 62L351.8 58.1ZM329.8 79.3L326.6 78.9L326.3 78.8L326.8 76.6L330.2 76.4L330.7 76.6L330.6 78.7ZM338.6 86.8L341.9 90.1L341.9 91L333 91L338 87ZM345.7 70.5L347.3 68.3L346.1 67.1L344.7 67.6L344.6 70.8ZM365 70.6L364.5 70.6L362.3 68.7L362.3 68.5L362.3 67.9L365 66ZM356.9 69.1L358.4 68.9L359.8 67.2L358.3 65.3L356.1 65.3L356 65.5ZM335 81.1L336.6 82.9L336.9 83.5L334.2 84L333.9 82.2ZM358.2 91L355.4 91L355.2 88.6L356.9 87.2L359 87.7ZM325.7 53.2L323.4 50.1L328 51.2ZM357 75L357 76.4L361.4 75.2L361.1 74.7L359.1 73.7ZM358.8 73L359.2 71.1L358.6 70.5L357.3 71L357.3 72.4ZM343.1 55.6L340.1 57.7L340.6 58.3L345.2 60L345.8 58.5L345.5 57.4ZM328.7 86.5L331.4 91L330.3 91L326.4 88.9L325.7 88.1L326 87.4ZM333.7 72.3L335.3 71.8L337.3 72.3L338.2 73.8L336 76.4L335.7 76.5L335.2 76.5L335.1 76.5ZM333.8 79.6L335.2 76.5L335.1 76.5L331 76.3L330.7 76.6L330.6 78.7L332.4 79.8ZM321.2 64.4L325.4 68.6L328.3 64.1L327.5 62.9ZM344.6 70.8L344.7 67.6L343 67.6L341.8 70.3L342 70.6L343.2 72.1ZM341 83.4L343.7 86L343.8 86.9L343.1 88.5L341.9 90.1L338.6 86.8L338.3 84.4ZM346 71L349.7 72.5L349.4 72.9L345.4 74.2ZM331.1 65.7L335.4 62.5L338.1 63.7L339.2 64.5L339 64.9L333.9 67.4ZM348.6 88.4L348.7 91L351.7 91L351.9 88ZM346.1 67.1L346.6 63.1L347.5 63.1L350.5 65.6L348.2 68.6L347.3 68.3ZM340.6 60.1L339.9 64.4L339.9 64.4L345.1 62ZM329.7 70.2L325.4 69.9L325.1 70.8L327.8 72.4Z"/>
<path fill="#242424" stroke="#242424" stroke-width=".35" d="M358.5 83.5L355.4 84L353.8 83.4L352.7 81.9L357.2 80.2L358.8 82.6ZM350.7 71.7L349.7 72.5L349.4 72.9L349.3 76.9L350.3 80.6L351.5 80.9L353.5 77.7L353.1 72.8L351.4 71.6ZM359.6 87.3L359.7 84.6L363 83.7L365 84.8L365 87.5L360.4 87.6ZM364 72.1L362.7 71.2L362.3 68.7L364.5 70.6ZM324.8 58.2L327.6 61.8L327.5 62.9L321.2 64.4L320.5 64.4L320.5 59.2L323.9 57.7ZM335.1 49L334.5 49.7L330.6 50.4L330.9 49ZM348.1 54.8L351.3 55.3L352.5 55.8L352.8 56.2L351.8 58.1L351.6 58.2L348.6 58ZM335.4 58.3L335.4 61.1L338.7 59.1L339.4 57.5L337.8 56ZM353.1 68.2L353.9 67.8L356.4 69.4L356.2 70.3L353.2 72.8L353.1 72.8L351.4 71.6ZM331.9 54.7L331.9 56.6L334.2 55.8L335 54.8ZM325.7 88.1L326.4 88.9L326.4 91L324.9 91L325.5 88.1ZM361.3 91L360.4 87.6L359.6 87.3L359 87.7L358.2 91ZM336.9 83.5L337.9 83.9L339 80.7L339 80.6L338.9 80.5L336.5 80.6L336.6 82.9ZM320.5 64.4L321.2 64.4L325.4 68.6L325.3 69.2L320.5 68.1ZM332.4 80.4L331.4 84.5L332.5 85.1L334.2 84L333.9 82.2ZM359.6 87.3L359.7 84.6L358.5 83.5L355.4 84L356.9 87.2L359 87.7ZM335.1 54.7L337.7 55.8L338.8 53.2L339.2 49L335.1 49L334.5 49.7L333.9 51.2ZM326.9 82.1L326.6 78.9L329.8 79.3L329.1 81.4ZM361.1 74.7L361.4 75.2L362.1 75.9L364.2 72.4L364 72.1L362.7 71.2L361.5 72.9ZM343.2 72.1L342 70.6L338.5 73.9L341.7 76.1L343.7 74.8ZM341.8 70.3L339 69.8L338.4 67.8L339 64.9L339.2 64.5L339.9 64.4L339.9 64.4L343 67.6ZM354.2 73L357.3 72.4L358.8 73L359.1 73.7L357 75Z"/>
<path fill="#606060" stroke="#606060" stroke-width=".35" d="M343 55.1L338.8 53.2L337.7 55.8L337.8 56L339.4 57.5L340.1 57.7L343.1 55.6ZM325.8 83.3L326.2 82.7L325.3 78.9L324.4 78.9L323.1 80.7L324.2 83L325.3 83.5ZM326.2 82.7L325.3 78.9L326.3 78.8L326.6 78.9L326.9 82.1ZM346.8 79.2L342.5 79L342.7 81L346.1 81.8L347.4 81.5L348.3 80.8ZM328.8 60.7L327.6 61.8L327.5 62.9L328.3 64.1L330.7 65.7L331.1 65.7L335.4 62.5L335.3 62L333.5 61ZM327.8 73L327.8 72.4L325.1 70.8L323 73.9L325.5 74.5L326.4 74.3ZM328.8 73.4L327.8 73L326.4 74.3L328.9 75.1ZM330.2 70.1L330.7 65.7L331.1 65.7L333.9 67.4L334.1 67.6L332.3 72.3L332.2 72.3L331.6 71.9ZM334.6 79.9L336.1 79.6L336.3 79.4L335.7 76.5L335.2 76.5L333.8 79.6ZM326 87.4L325.7 88.1L325.5 88.1L321.7 88.3L324 85.4L325.3 84.3ZM347 49L347.3 51.4L348.2 52.1L351.4 49ZM342 70.6L338.5 73.9L338.2 73.8L337.3 72.3L339 69.8L341.8 70.3ZM320.5 88.5L321.7 88.3L324 85.4L320.5 85.6ZM353.8 83.4L352.7 81.9L351.6 81.1L349.6 85.9L351.9 88L353.1 87.1ZM337.3 79.2L338 77.8L336 76.4L335.7 76.5L336.3 79.4ZM354.2 73L353.2 72.8L353.1 72.8L353.5 77.7L356.8 77.2L357 76.4L357 75ZM327.8 55.8L327.7 54.9L329.9 52.9L330.8 53.4L329 56.4ZM328.8 73.4L331.6 71.9L330.2 70.1L329.7 70.2L327.8 72.4L327.8 73ZM329.1 81.4L329.8 79.3L330.6 78.7L332.4 79.8L332.4 80.4L331.4 84.5L330.5 84.4ZM326.8 76.6L325.5 74.5L326.4 74.3L328.9 75.1L330.2 76.4ZM336.9 83.5L337.9 83.9L338.3 84.4L338.6 86.8L338 87L332.9 86.5L332.5 85.1L334.2 84ZM342.2 82L343.9 84.8L346.1 81.8L342.7 81L342.5 81.3ZM329.5 85L330.5 84.4L331.4 84.5L332.5 85.1L332.9 86.5L332.2 91L331.4 91L328.7 86.5ZM335 54.8L334.2 55.8L333.6 57.9L335.4 58.3L337.8 56L337.7 55.8L335.1 54.7Z"/>
<path fill="#181818" stroke="#181818" stroke-width=".35" d="M357.8 49L364.6 49L362.5 52.3L358.3 54.1ZM343.7 86L343.8 86.9L346.8 85.6L347.4 81.5L346.1 81.8L343.9 84.8ZM365 72.4L364.2 72.4L362.1 75.9L362.7 77.3L365 77.5ZM329.9 52.9L327.7 54.9L325.7 53.4L325.7 53.2L328 51.2L328.4 51L328.7 51.2ZM351.2 65.5L351.9 63.1L353.9 62L354.4 62.2L355.1 64.1L351.4 65.7ZM357.4 56.1L359.9 59L361.1 59.7L363.6 59.7L362.5 52.3L358.3 54.1ZM342.2 82L343.9 84.8L343.7 86L341 83.4ZM325.7 53.4L325.7 53.2L323.4 50.1L322.2 49L320.5 49L320.5 49.1L324.5 54.5ZM346.8 79.2L344.7 75.5L349.3 76.9L350.3 80.6L348.3 80.8ZM362.3 67.9L365 66L365 60.1L363.6 59.7L361.1 59.7L358.3 65.3L359.8 67.2ZM334.1 67.6L333.9 67.4L339 64.9L338.4 67.8L335.3 68.9ZM340.6 58.3L340.1 57.7L339.4 57.5L338.7 59.1L338.1 63.7L339.2 64.5L339.9 64.4L340.6 60.1ZM357.2 80.2L358.4 78.6L356.8 77.2L353.5 77.7L351.5 80.9L351.6 81.1L352.7 81.9ZM345.8 58.5L345.2 60L345.2 62L346.6 63.1L347.5 63.1L349.2 62.1L351.6 58.2L348.6 58ZM363 83.7L359.7 84.6L358.5 83.5L358.8 82.6L361.4 79.6ZM361.5 72.9L362.7 71.2L362.3 68.7L362.3 68.5L360.3 70.8ZM329.5 85L330.5 84.4L329.1 81.4L326.9 82.1L326.2 82.7L325.8 83.3ZM335.3 62L335.4 62.5L338.1 63.7L338.7 59.1L335.4 61.1ZM320.5 59.2L323.9 57.7L323.7 55.9L320.5 53.9ZM325.3 84.3L324 85.4L320.5 85.6L320.5 85.1L324.2 83L325.3 83.5ZM338 87L333 91L332.2 91L332.9 86.5ZM355.2 88.6L353.1 87.1L353.8 83.4L355.4 84L356.9 87.2ZM351.7 91L351.9 88L351.9 88L353.1 87.1L355.2 88.6L355.4 91ZM356.4 69.4L353.9 67.8L356 65.5L356.9 69.1ZM324.8 58.2L327.8 55.8L327.7 54.9L325.7 53.4L324.5 54.5L323.7 55.9L323.9 57.7ZM361.4 75.2L357 76.4L356.8 77.2L358.4 78.6L361.5 78.6L362.7 77.3L362.1 75.9ZM359.2 71.1L358.6 70.5L358.4 68.9L359.8 67.2L362.3 67.9L362.3 68.5L360.3 70.8Z"/>
<path fill="#0c0c0c" stroke="#0c0c0c" stroke-width=".35" d="M361.3 91L365 91L365 87.5L360.4 87.6ZM346.7 54.6L347.3 54.4L348.3 52.5L348.3 52.5L348.2 52.1L347.3 51.4L345.3 52.2L345.5 53.6ZM351.8 49L351.7 52.6L352.5 55.8L352.8 56.2L354.9 55.8L354.7 49ZM347 49L347.3 51.4L345.3 52.2L342.2 49.8L341.7 49ZM326.3 78.8L325.3 78.9L324.4 78.9L322.3 74.1L323 73.9L325.5 74.5L326.8 76.6ZM332.2 72.3L331 76.3L335.1 76.5L333.7 72.3L332.3 72.3ZM331.9 57.7L333.6 57.9L335.4 58.3L335.4 61.1L335.3 62L333.5 61ZM345.7 70.5L344.6 70.8L343.2 72.1L343.7 74.8L344.1 74.8L345.4 74.2L346 71ZM349.6 85.9L348.5 86.6L348.4 88L348.6 88.4L351.9 88L351.9 88ZM365 49L364.6 49L362.5 52.3L363.6 59.7L365 60.1ZM351.2 65.5L351.9 63.1L349.2 62.1L347.5 63.1L350.5 65.6ZM356.2 70.3L356.4 69.4L356.9 69.1L358.4 68.9L358.6 70.5L357.3 71ZM348.3 52.5L351.7 52.6L351.8 49L351.4 49L348.2 52.1ZM330.3 58.4L329 56.4L327.8 55.8L324.8 58.2L327.6 61.8L328.8 60.7ZM343.1 88.5L348.4 88L348.5 86.6L346.8 85.6L343.8 86.9ZM359.1 73.7L361.1 74.7L361.5 72.9L360.3 70.8L359.2 71.1L358.8 73ZM361.4 79.6L361.5 78.6L358.4 78.6L357.2 80.2L358.8 82.6ZM338.9 80.5L336.5 80.6L336.1 79.6L336.3 79.4L337.3 79.2ZM348.3 80.8L350.3 80.6L351.5 80.9L351.6 81.1L349.6 85.9L348.5 86.6L346.8 85.6L347.4 81.5ZM340.5 77.3L341.6 76.4L341.7 76.1L338.5 73.9L338.2 73.8L336 76.4L338 77.8ZM338.9 80.5L339 80.6L340.5 77.3L338 77.8L337.3 79.2ZM331.9 54.7L335 54.8L335.1 54.7L333.9 51.2L331.2 53.5Z"/>
<path fill="#3c3c3c" stroke="#3c3c3c" stroke-width=".35" d="M346.7 54.6L347.3 54.4L348.1 54.8L348.6 58L345.8 58.5L345.5 57.4ZM330.7 76.6L331 76.3L332.2 72.3L331.6 71.9L328.8 73.4L328.9 75.1L330.2 76.4ZM331.9 54.7L331.9 56.6L331.8 57.7L330.3 58.4L329 56.4L330.8 53.4L331.2 53.5ZM343.2 54.6L342.2 49.8L345.3 52.2L345.5 53.6ZM345.4 74.2L349.4 72.9L349.3 76.9L344.7 75.5L344.1 74.8ZM343.2 54.6L345.5 53.6L346.7 54.6L345.5 57.4L343.1 55.6L343 55.1ZM339 80.7L342.5 81.3L342.7 81L342.5 79L341.6 76.4L340.5 77.3L339 80.6ZM335.3 71.8L337.3 72.3L339 69.8L338.4 67.8L335.3 68.9ZM329.5 85L325.8 83.3L325.3 83.5L325.3 84.3L326 87.4L328.7 86.5ZM343.1 88.5L348.4 88L348.6 88.4L348.7 91L341.9 91L341.9 90.1ZM331.9 57.7L333.5 61L328.8 60.7L330.3 58.4L331.8 57.7ZM324.2 83L320.5 85.1L320.5 80.4L323.1 80.7ZM323.7 55.9L320.5 53.9L320.5 49.1L324.5 54.5ZM330.9 49L328.1 49L328.4 51L328.7 51.2L330.6 50.4Z"/>
<path fill="#fcfcfc" stroke="#fcfcfc" stroke-width=".35" d="M336.8 76.2h0.6v0.8h-0.6zM331.7 69.3h1.2v0.5h-1.2zM362.9 62.9h0.9v0.9h-0.9zM356.9 89.4h0.7v1.3h-0.7zM329.5 53.7h0.7v0.7h-0.7zM335.3 79.9h1v1.3h-1zM350.2 86.7h1.2v1.1h-1.2zM334 76.2h1.4v1.5h-1.4zM344.8 60.5h1.4v0.9h-1.4zM332.2 68.7h1.5v0.6h-1.5zM363.3 85.3h1.2v1.3h-1.2zM320.8 67.5h1v0.7h-1zM364.1 78.6h1.2v0.9h-1.2z"/>
<path fill="#9c9c9c" stroke="#9c9c9c" stroke-width=".35" d="M331.3 56.2h0.6v0.6h-0.6zM337.4 69.7h1v1h-1zM328.3 68.1h1.3v1.1h-1.3zM361.7 66.2h0.8v0.9h-0.8zM342.8 78.4h1.2v1.1h-1.2zM324.6 49.3h1.3v0.7h-1.3zM324.3 89h1.5v1.2h-1.5zM348.8 54.2h0.6v1.1h-0.6zM345.3 51.5h1v0.6h-1zM352.4 73h1.5v1.1h-1.5zM323.8 49.1h1.1v1.2h-1.1zM342 58.9h0.8v1.4h-0.8zM330.2 81.3h1.3v0.7h-1.3zM339.9 66.4h1.1v1.3h-1.1zM353.3 79.8h0.8v0.6h-0.8zM346.5 74.5h1.5v1.1h-1.5zM361 70.6h0.6v1.3h-0.6zM335.5 54.5h1.2v0.9h-1.2zM342.2 69.6h1.5v1.4h-1.5z"/>
<path fill="#d8d8d8" stroke="#d8d8d8" stroke-width=".35" d="M329.3 78.1h1.2v0.8h-1.2zM329.1 49.8h0.7v1h-0.7zM332.9 79.9h1.3v1.2h-1.3zM340.8 77.2h0.7v1.3h-0.7zM322 73.9h1v0.8h-1zM331.4 61.6h0.6v1.3h-0.6zM334.3 50h0.9v0.9h-0.9zM324.3 54.8h0.5v0.7h-0.5zM346.3 87.8h1.4v1.4h-1.4zM322 58.3h0.7v1.3h-0.7zM326 89.3h1v0.8h-1zM338.5 70.7h0.8v0.8h-0.8zM353.6 59.3h1.4v1.2h-1.4zM330.5 53.5h0.9v1.4h-0.9zM342.5 52.5h0.9v1h-0.9zM362.7 67.5h0.8v0.8h-0.8zM347.3 83.5h1.2v0.7h-1.2zM323.5 68.6h1.1v0.5h-1.1zM336.7 71.9h1.2v0.9h-1.2z"/>
<path fill="#848484" stroke="#848484" stroke-width=".35" d="M341.1 61.5h0.9v1.3h-0.9zM350.3 77.6h1.2v1h-1.2zM340.6 86.5h1.2v0.7h-1.2zM324.4 49.8h1v1.3h-1zM363.6 73.8h0.6v1.2h-0.6zM323.4 82h1.1v0.5h-1.1zM350.2 53.1h0.6v0.7h-0.6zM322.8 50.6h0.9v1h-0.9zM352.3 76.8h1v1h-1zM356.7 84.4h0.6v1.3h-0.6zM335.4 60.3h1.3v1.3h-1.3zM364.2 81h0.7v1.1h-0.7zM323.2 76.7h0.8v0.7h-0.8zM325.1 78.9h1.2v0.8h-1.2zM343 73.9h1.1v1.2h-1.1zM325.1 71.1h1v1.1h-1zM349.8 54.6h0.8v0.6h-0.8zM356.4 65.1h1.3v0.6h-1.3zM320.9 67.7h0.6v0.5h-0.6zM350.9 89.3h0.6v1.1h-0.6zM338.7 83.5h0.9v1.3h-0.9zM361.6 61h1.3v1h-1.3z"/>
<path fill="#e4e4e4" stroke="#e4e4e4" stroke-width=".35" d="M351.9 50.7h1.2v0.6h-1.2zM346.2 52.6h0.5v0.9h-0.5zM347.5 56.9h0.8v0.5h-0.8zM358.5 63.5h1.1v1.5h-1.1zM340.1 69.8h1.3v0.9h-1.3zM336.5 86.1h0.7v0.5h-0.7zM357.5 76.9h0.7v1.4h-0.7zM322.4 60.5h0.8v0.9h-0.8zM322.7 79h1v1.4h-1zM363.7 73.3h1.4v1.3h-1.4zM325.4 52h0.9v0.6h-0.9zM358.7 71.9h0.7v0.8h-0.7zM330.1 49.7h0.9v0.9h-0.9zM324.2 84.3h0.5v1.5h-0.5zM350.2 59.4h1.4v0.8h-1.4zM330.7 64.3h1v0.6h-1zM326.7 51.4h1.4v1.4h-1.4zM352.2 77.5h1.2v1.2h-1.2z"/>
<path fill="#545454" stroke="#545454" stroke-width=".35" d="M358.6 51.4h0.6v0.5h-0.6zM348.7 55.5h0.7v1h-0.7zM330.4 50h0.7v0.6h-0.7zM352.1 86.7h1.3v0.5h-1.3zM356.7 69.4h1.1v0.9h-1.1zM333.8 54.1h1.1v1.3h-1.1zM361.8 70.7h0.5v1h-0.5zM325.5 52h1.3v1.1h-1.3zM347.4 50.9h1.2v1.5h-1.2zM362.6 72.9h0.8v1.1h-0.8zM321.9 74.3h0.7v0.6h-0.7zM345.6 70.4h1v0.7h-1zM328.8 69.3h1.3v0.8h-1.3zM340.4 70.1h0.7v0.6h-0.7zM337.7 81h0.5v1h-0.5zM334.7 78.8h1v1.2h-1zM339 60.9h1.5v0.5h-1.5zM329.3 74.4h0.9v1.2h-0.9zM324.6 55.7h0.8v1.1h-0.8zM332.2 70.2h0.6v1.3h-0.6zM335.4 54h1.4v0.7h-1.4zM354.6 60.9h0.6v0.9h-0.6z"/>
<path fill="#606060" stroke="#606060" stroke-width=".35" d="M332 76.6h1.2v0.8h-1.2zM328 69.4h1v1.3h-1zM325.8 73.7h1.2v1.5h-1.2zM321.7 75.7h1v1.4h-1zM356.6 51.4h0.7v1.2h-0.7zM321.1 74.3h1.4v0.6h-1.4zM362.3 77.8h0.7v0.7h-0.7zM356.1 85.3h0.7v0.5h-0.7zM347.2 86.9h1.2v0.8h-1.2zM332.9 64h0.9v1.2h-0.9zM339.7 70.9h1.2v1.3h-1.2zM324.4 79.3h0.6v0.6h-0.6zM337.1 65.4h1.3v0.5h-1.3zM344.1 51.4h1.1v1h-1.1zM327 68.8h0.9v1.1h-0.9zM323.5 66.1h0.9v1.4h-0.9zM333.7 73.6h1.1v1.1h-1.1zM349.4 71.4h1v1.4h-1zM362.6 54.5h0.9v0.6h-0.9zM331.3 65.9h1.2v0.6h-1.2z"/>
<path fill="#a8a8a8" stroke="#a8a8a8" stroke-width=".35" d="M325 84h1v1h-1zM331 89.3h1v1h-1zM326.5 65.1h1.1v0.6h-1.1zM331.7 83.2h0.7v1.1h-0.7zM363.8 64.3h0.8v0.6h-0.8zM323 78.6h0.7v1h-0.7zM334.1 49.5h0.6v0.7h-0.6zM328.8 71h0.7v0.5h-0.7zM358.8 79.8h0.6v0.6h-0.6zM353.8 68.5h1.5v0.8h-1.5zM349 75.2h0.5v0.7h-0.5zM348.5 67.9h0.7v0.9h-0.7zM334.3 88.7h1.1v0.8h-1.1zM337.8 72.7h1v1h-1zM356.7 60.2h0.5v0.7h-0.5zM351.5 66h1.4v1.2h-1.4zM320.5 80.2h0.6v0.9h-0.6zM322.5 49.9h1.5v1.4h-1.5zM340.5 67.1h1.1v1.3h-1.1zM350.4 52h0.6v0.6h-0.6zM352 58.9h1v1.3h-1zM330.1 83h1.4v0.7h-1.4zM347.2 63.8h1.3v1.1h-1.3zM330.8 59.4h0.7v1.3h-0.7zM348.5 58h0.5v1h-0.5z"/>
<path fill="#787878" stroke="#787878" stroke-width=".35" d="M353.5 74.6h1.2v1.2h-1.2zM331.5 80.2h0.7v1.4h-0.7zM341 81.3h1.2v0.7h-1.2zM354.6 66.9h1v1h-1zM364 57.1h1.3v0.6h-1.3zM321.6 68.5h0.5v1.4h-0.5zM343.6 49.4h0.6v1.3h-0.6zM350 53.2h0.8v0.9h-0.8zM355.1 50.9h1.4v1.3h-1.4zM362.1 73.6h0.8v0.5h-0.8zM343.2 55.7h1.1v1.1h-1.1zM363.6 71.6h0.8v0.8h-0.8zM321.1 55.7h0.5v0.6h-0.5zM352.6 59.3h0.9v0.7h-0.9zM349.4 58.9h1.1v1h-1.1zM337.7 52.5h1.3v0.9h-1.3zM348.1 54.8h1.2v0.7h-1.2zM352.6 73.9h1v0.7h-1zM350.3 50.5h0.8v0.6h-0.8zM344.2 77.2h0.6v0.9h-0.6zM349 63.1h1.2v0.7h-1.2zM349.3 87.6h1.1v1h-1.1zM362.4 66.1h1v1.4h-1z"/>
<path fill="#f0f0f0" stroke="#f0f0f0" stroke-width=".35" d="M355.5 74.7h0.8v0.7h-0.8zM344.8 52.9h1.1v0.8h-1.1zM330.4 60.6h1.3v1.2h-1.3zM337.4 84.5h1.3v0.6h-1.3zM320.1 48.7h0.8v0.8h-0.8zM359.4 48.7h0.7v1.2h-0.7zM362.5 88.2h1.4v1.3h-1.4zM358.5 74.5h0.9v0.5h-0.9zM321.5 77.9h0.5v1h-0.5zM354.5 64.2h0.7v0.5h-0.7zM358.5 77.1h1.3v1h-1.3zM353.7 59.7h0.9v1.4h-0.9zM337 72.4h0.7v1.1h-0.7zM362.9 75.7h1.4v1.1h-1.4zM354.3 67.2h0.6v1.2h-0.6zM338.3 83.7h1v1.4h-1zM328 60.7h1.1v1.1h-1.1zM335.9 71.2h1.3v0.5h-1.3zM326 56.4h0.8v1h-0.8z"/>
<path fill="#b4b4b4" stroke="#b4b4b4" stroke-width=".35" d="M349.4 57.4h0.6v1.3h-0.6zM359.3 71.6h1.1v1.4h-1.1zM330.8 67.8h1.1v1.1h-1.1zM360.2 65.3h0.5v0.8h-0.5zM325.6 73.5h0.9v1.3h-0.9zM325.2 87.6h1.3v1.4h-1.3zM344.8 52.2h1.2v1.2h-1.2zM359.4 56.1h1.2v0.7h-1.2zM350.5 72.9h1.3v1.5h-1.3zM341.1 90.2h1.1v1.2h-1.1zM352.8 75.6h1.3v1.3h-1.3zM320.4 89.5h0.9v1.3h-0.9zM323.7 77.5h1.3v0.6h-1.3z"/>
<path fill="#909090" stroke="#909090" stroke-width=".35" d="M337.2 71.4h1.4v0.6h-1.4zM339.7 84.6h1.5v0.8h-1.5zM346.9 83.3h0.8v0.6h-0.8zM327.4 79.8h1.3v0.8h-1.3zM354.1 73.8h1.4v1.5h-1.4zM357.6 81.9h1.2v1.3h-1.2zM363.9 72.5h1.4v1.5h-1.4zM359.5 51.3h0.8v1.3h-0.8zM341.2 54h0.9v0.7h-0.9zM337.8 58.9h0.7v0.7h-0.7zM360.9 76.7h0.5v1.4h-0.5zM356.2 90.3h1v0.5h-1zM337.7 81.8h0.5v1.1h-0.5zM339.4 79.6h1.1v1.1h-1.1zM343.4 73.5h1v1.1h-1zM322.1 88.3h1v0.7h-1zM343.4 79.3h0.9v1.4h-0.9zM338.6 73.5h0.6v0.9h-0.6zM346.6 53.6h1.2v0.7h-1.2zM346.9 59.5h1.2v0.7h-1.2zM342.8 71.1h0.7v1.1h-0.7zM340.5 89h0.7v0.7h-0.7z"/>
<path fill="#cccccc" stroke="#cccccc" stroke-width=".35" d="M359.4 90.4h1.3v1.2h-1.3zM337 53.3h0.6v1.1h-0.6zM361 85.1h1.1v0.6h-1.1zM356 86.9h1.1v1.5h-1.1zM360.4 50.6h1v0.9h-1zM345.1 51.5h1.2v1.3h-1.2zM333.2 87.8h1.2v1.3h-1.2zM353.6 49h0.7v0.8h-0.7z"/>
<path fill="#484848" stroke="#484848" stroke-width=".35" d="M328.6 84.1h0.7v1.1h-0.7zM341.2 59.6h1.1v1h-1.1zM329 60.8h0.9v0.8h-0.9zM350 76.5h1.2v0.9h-1.2zM347.4 63.6h0.8v0.6h-0.8zM333 69.1h1v0.8h-1zM324.6 88.2h0.6v1.2h-0.6zM339.2 74.6h1.2v0.6h-1.2zM356.9 54.4h0.8v0.6h-0.8zM355.2 72.6h0.9v0.6h-0.9zM356.9 66h1.1v1h-1.1zM332.7 81.4h1v0.8h-1zM344.6 79.3h1.4v1h-1.4zM347.7 52.6h1.4v0.7h-1.4zM359.2 88.5h0.6v1.5h-0.6zM358.5 49.3h0.5v0.8h-0.5zM364.6 82.6h0.7v1.5h-0.7zM329.1 88.6h1.3v1.2h-1.3z"/>
<path fill="#6c6c6c" stroke="#6c6c6c" stroke-width=".35" d="M348.4 51.4h1.4v1.4h-1.4zM344.1 88.5h1.4v0.7h-1.4zM336.7 65.7h0.9v1.1h-0.9zM339.5 68.2h1.1v0.8h-1.1zM338.8 88.3h1.3v0.5h-1.3zM323.8 56.3h0.8v1.3h-0.8zM332.9 49.3h1.2v0.8h-1.2zM344.9 54.6h1.3v1h-1.3zM354.3 69.9h0.8v1h-0.8zM337.5 60.2h1.2v0.6h-1.2zM330.1 54.7h0.5v1h-0.5zM363.4 73.8h1.4v1.1h-1.4zM362.5 89.5h1v1.5h-1zM349.2 87.3h1.2v0.8h-1.2zM330.6 61.1h1.2v1.4h-1.2zM352.3 89.3h0.9v0.9h-0.9zM358.2 71.7h0.8v1h-0.8zM355.4 70.6h1.4v1.5h-1.4zM348.8 64.6h1.4v1.3h-1.4zM324.7 87.2h0.7v1.1h-0.7zM342.3 82h0.9v1.3h-0.9zM340 71.2h1.2v1.4h-1.2z"/>
<polygon points="320.2,89 326,87.5 333,88.5 340,90.5 348,92 356,93.5 365.2,93 365.2,95.5 320.2,95.5" fill="#fff"/>
<rect x="320.6" y="49.5" width="26" height="6" fill="#fff"/>
<rect x="322" y="51.6" width="21" height="1.2" fill="#9a9a9a"/>
<rect x="365.2" y="49" width="49.3" height="46.5" fill="#fff"/>
<g clip-path="url(#virclip)"><rect x="365" y="55" width="50" height="41" fill="#3a4a8a"/>
<path fill="#3c5490" stroke="#3c5490" stroke-width=".35" d="M378.5 80.5L380 78.7L384.2 80.5L380.4 81.6L379.7 81.5L379 81.2ZM388.2 65.4L391.1 63.1L391.5 63.3L391.6 63.5L392.1 64.6L390.6 67.8L389.3 68.2L389.2 68.2ZM379.7 81.5L380.4 81.6L381.6 84.5L381.5 84.8L379.9 85ZM395.4 72.3L394.7 68.8L394.7 68.8L395.8 68.8L397.7 69.9ZM373.9 80.3L374 80.3L372.9 82.6L370.5 84.1L369.4 83.5L370.3 80.3ZM395.6 62.4L395.1 65.3L394.5 65.5L392.1 64.6L391.6 63.5ZM407.7 68.5L407.8 68.1L407.3 64.8L403.8 65.2L403.5 65.4L403.6 68.2L406.8 68.4ZM370.5 84.1L369.4 83.5L368.7 83.5L367.1 86.2L367.1 86.5L370 88.2L371.5 86.4ZM398.3 69.8L398.1 69.9L398.3 74.2L399.6 75.3L400.3 75.5L400.7 73.2L400.6 72.8ZM399.1 58.6L397.7 55.8L396.6 55L396.5 55L395.5 58L395.8 58.4L399 58.9L399 58.9ZM400.6 72.8L400.7 73.2L403 70.6L402.8 68.6L401.6 68.5L400.6 68.8ZM405.8 60.4L406.7 58L406.7 58L409 59.1L410.4 61L408.8 63L407.6 63.2L406 61.3ZM395.6 62.4L396.6 62L397.1 61.5L395.9 60.2L394.3 61.1ZM390.9 80.5L393.9 81.7L394.8 83.1L394.8 83.1L394.5 84.3L391.7 85L390.3 84.4L389.3 82.1ZM398.3 69.8L400.6 72.8L400.6 68.8L399.1 69ZM405.5 87.7L405.1 87.5L401.2 88.7L400.4 89.9L402 90.7L405 91.3L405.8 88.2ZM395.6 62.4L396.6 62L397 65.1L396.7 65.3L395.1 65.3L395.6 62.4ZM395.5 77.2L394.6 78.3L394.6 78.6L397.5 79.1L397.6 79ZM378.3 68.1L377.2 67.4L377.2 67.4L376.7 65.7L379.5 63.9L380.3 66.9ZM401.8 93.9L402.9 94.4L403.5 94.5L405.3 91.8L405 91.3L402 90.7ZM372.3 92.2L369.5 92.1L367.2 96L372.3 96L372.5 95.6ZM395.5 77.1L399.6 75.3L400.3 75.5L400.4 75.6L397.8 78.8L397.6 79L395.5 77.2ZM375.1 74.5L375.1 74.4L378 71.7L379.6 73.9L379.5 74.3L375.3 74.6ZM388.1 86.8L388.5 84.8L390.3 84.4L391.7 85L389.8 87.1L388.3 87ZM402.2 57L400.5 56.7L400 56L400.3 55L404.7 55L404.7 55.1L402.5 56.8ZM401.8 93.9L402 90.7L400.4 89.9L399.7 90.1L399.3 94.2ZM378 71.7L375.1 74.4L375.6 71.7L375.8 71.4L377.8 70.5ZM368.8 58L367.7 58.6L366.4 59.6L366.7 60.7L367.2 61.6L369.3 60.4L370 59.5L370 59ZM394.8 83.1L393.9 81.7L394.6 78.6L397.5 79.1L397 81ZM388 90.5L388.8 91.1L389.5 91.3L392.3 90.4L389.8 87.1L388.3 87ZM387.5 62.5L388.2 61.3L387.6 60.5L387.3 60.4L384.5 60.1L383.8 64.4L384.9 65.1Z"/>
<path fill="#3c3078" stroke="#3c3078" stroke-width=".35" d="M378.2 90.1L378.2 90.1L373.7 91.8L373.4 92.2L374.2 93.2L374.5 93.5L375.5 94L378.3 91.6ZM387.5 65.2L385.5 66.2L384.9 65.1L387.5 62.5ZM373.6 63.7L372.9 64.5L368.8 64.4L368.8 64.1L371.3 62L371.6 61.8L373.3 62.7L373.4 62.8ZM384.5 80.5L385.1 78.9L385 78.3L383.8 76.7L380.3 75.9L379.8 76.6L380 78.7L384.2 80.5ZM371.6 57.8L373.1 55.5L373.6 55L374.8 55L375.5 57.7L374.7 58.5L373.5 58.7ZM405.8 88.2L405 91.3L405.3 91.8L406.3 92.3L408.3 92.3L410 90.4L406.9 88.3ZM403.8 65.2L407.3 64.8L407.6 63.2L406 61.3L404.5 62.4ZM378.5 88.6L378.5 88.6L378.3 89.2L378.2 90.1L378.2 90.1L382.3 91.7L382.2 90.4L380.2 88.6ZM369.3 70.4L368.8 73.3L365.1 74.1L365 74L365 69.6L367.4 69.6ZM377.2 61.6L375.5 64.7L376.4 65.4L378.4 62.2L378.1 62ZM411.2 87.5L415 89.8L415 86.9L411.8 86.9L411.2 87.1Z"/>
<path fill="#48b478" stroke="#48b478" stroke-width=".35" d="M377.2 67.4L373.6 67.2L372.5 65.6L372.9 64.5L373.6 63.7L375.5 64.7L376.4 65.4L376.7 65.7ZM405.5 87.7L406.6 85.8L409.9 85.1L410.3 85.3L410.7 86.5L406.9 88.3L405.8 88.2ZM365 61.4L366.7 60.7L366.4 59.6L365 59.3ZM377.1 82L375.9 83.7L376 84.5L377.8 84.8L377.9 84.1ZM375.5 94L376.5 95.8L376.6 96L373.4 96L374.5 93.5ZM373.8 70.1L371 69.9L372.4 72.7L373.1 73.2L374 71ZM381.8 71.1L383.8 70.4L385.2 71.6L384.3 73.5L384.3 73.5L382.1 71.7L381.8 71.3ZM410.1 95.3L410.2 96L406.2 96L406.4 95.1ZM376.9 61.3L375.2 61.5L373.4 62.8L373.6 63.7L375.5 64.7L377.2 61.6ZM387.5 65.2L388.2 65.4L391.1 63.1L390.6 62.7L388.2 61.3L387.5 62.5ZM394.2 93.3L396.6 94L399.1 94.4L399.3 94.2L399.7 90.1L397.1 88.9L395.5 88.7L393.8 90.6ZM397.7 55.8L396.6 55L400.3 55L400 56ZM412.6 93.5L414.5 96L415 96L415 91.3L414.1 91.4ZM411.4 75.2L412.5 72.6L415 73.6L415 75.9L412.3 78.1L411 76.9ZM411.6 58.1L412 55L410.4 55L409.6 56.4Z"/>
<path fill="#307890" stroke="#307890" stroke-width=".35" d="M407 81.8L408.6 80.5L409.3 79.4L408.7 78.2L405.2 80.3ZM400.9 63.9L400.9 63.9L400.1 64.3L399.9 64.2L398.7 62.2L401 60L401.1 60ZM386 90.4L388 90.5L388.3 87L388.1 86.8L386.6 86.7ZM415 85.5L415 86.9L411.8 86.9L413.7 85.1ZM415 79.9L415 75.9L412.3 78.1L412.3 79.2L412.4 79.3L414.5 79.9ZM410 63.6L410.7 64.2L410.9 64.6L408.6 67.5L407.8 68.1L407.3 64.8L407.6 63.2L408.8 63ZM385 78.3L387.7 74.4L387.7 73.7L384.1 74.6L384 74.7L383.8 76.7ZM395.5 77.1L395.1 76.4L394.8 72.9L395.2 72.7L398.3 74.2L399.6 75.3ZM394.8 83.1L394.5 84.3L395.5 88.7L397.1 88.9L401 84.1L399.9 83.4ZM411.5 93.6L410.1 94.9L408.3 92.3L410 90.4L410.5 90.1L411.4 90.7ZM383.3 74.2L382.1 71.7L384.3 73.5L384.1 74.6L384 74.7ZM369.4 91.7L369.8 90.2L370 88.2L367.1 86.5L365.1 87.6L368.5 91ZM407.8 68.6L405.9 70.8L404.1 71.5L406.8 68.4L407.7 68.5ZM385.5 66.2L385.6 67.6L384.8 68.2L382.1 67.4L381.2 66.6L382.3 64.6L383.8 64.4L384.9 65.1ZM411.3 71.6L412.5 72.6L411.4 75.2L407.6 75.2ZM368.7 66.4L367.4 69.6L365 69.6L365 66.3L368.5 65.6L368.6 65.8Z"/>
<path fill="#309c84" stroke="#309c84" stroke-width=".35" d="M371.1 77.7L369 78.2L369 79.4L370.3 80.3ZM368.8 64.4L368.5 65.6L365 66.3L365 64.4L367.6 62.9L368.2 63.4L368.8 64.1ZM374.2 93.2L372.5 95.6L372.3 96L373.4 96L374.5 93.5ZM373.7 91.8L374.1 89.3L373.9 88.6L369.8 90.2L369.4 91.7L369.5 92.1L372.3 92.2L373.4 92.2ZM402.3 60.1L402.5 62.8L400.9 63.9L401.1 60L401.4 59.9ZM410.3 85.3L411.6 83.6L410.6 81.7L407.8 82.4L409.9 85.1ZM387.5 65.2L388.2 65.4L389.2 68.2L386.9 68.2L385.6 67.6L385.5 66.2ZM405.9 70.8L405.2 72.9L404 71.9L403.9 71.6L404.1 71.5ZM378.3 68.1L378.5 68.9L381.8 71L382.1 67.4L381.2 66.6L380.3 66.9ZM387.5 92.9L387.8 94.8L385.9 94.2L385.7 93.9L386.3 93.1ZM402.9 94.4L401.1 96L403.8 96L403.5 94.5ZM380.3 66.9L381.2 66.6L382.3 64.6L380.4 62.7L380.3 62.8L379.5 63.9ZM407 81.8L408.6 80.5L410.6 81.3L410.6 81.7L407.8 82.4L407 81.8ZM395.5 58L396.5 55L393.4 55L393 58.1L393.3 58.3Z"/>
<path fill="#248490" stroke="#248490" stroke-width=".35" d="M381.8 71.1L381.8 71.3L381.7 71.5L379.6 73.9L378 71.7L377.8 70.5L378.5 68.9L381.8 71ZM387.9 72.8L386.8 71.9L385.2 71.6L384.3 73.5L387.8 73.2ZM378.5 60.8L381.4 60.4L381.7 59.8L380.5 58.3L378.3 59.9ZM406.8 68.4L403.6 68.2L402.8 68.6L403 70.6L403.9 71.6L404.1 71.5ZM371.1 77.7L371.8 77L371.8 76.2L370 75.5L368.3 76.9L369 78.2ZM365 74L365.1 74.1L368.1 76.9L365 79.4ZM390.6 67.8L392.3 69.5L392.3 71L389.1 71.8L389.3 68.2ZM394.3 61.1L395.9 60.2L395.8 58.4L395.5 58L393.3 58.3L393.4 61ZM395.1 76.4L394.8 72.9L393.4 72.9L392.4 74L392.4 74.9L392.5 75.1ZM407.4 75.3L408.8 76.8L411 76.9L411.4 75.2L407.6 75.2ZM368.8 58L367.7 58.6L365 56.9L365 55L367.8 55L368.6 56.7ZM410.3 85.3L411.6 83.6L413.1 83L413.7 85.1L411.8 86.9L411.2 87.1L410.7 86.5Z"/>
<path fill="#306c90" stroke="#306c90" stroke-width=".35" d="M397.6 79L397.5 79.1L397 81L398.9 80.2L397.8 78.8ZM373.8 70.1L374.7 69.4L375.8 71.4L375.6 71.7L374 71ZM370.3 80.3L370.3 80.3L369.4 83.5L368.7 83.5L368.6 83.5L367.6 79.9L369 79.4ZM399.9 64.2L397 65.1L396.7 65.3L397.2 66.8L398.5 67.8L400.1 64.6L400.1 64.3ZM387.5 92.9L387.8 94.8L388.6 95.7L389.5 93.7L389.5 91.3L388.8 91.1ZM388.6 72.5L389.1 71.8L392.3 71L393.4 72.9L392.4 74L391 73.8ZM411.5 79.6L409.3 79.4L408.6 80.5L410.6 81.3ZM390.9 76.4L390.7 77.6L390.8 77.8L393 77.3L392.5 75.1L392.4 74.9L391 76.2ZM373.7 86.7L373.9 88.6L369.8 90.2L370 88.2L371.5 86.4ZM402.3 60.1L401.4 59.9L402.2 57L402.5 56.8L403.7 60.1ZM386.9 68.2L386.8 71.9L385.2 71.6L383.8 70.4L384.8 68.2L385.6 67.6ZM395.5 77.1L395.1 76.4L392.5 75.1L393 77.3L394.6 78.3L395.5 77.2ZM381.8 71.1L383.8 70.4L384.8 68.2L382.1 67.4L381.8 71ZM399.4 96L399.1 94.4L396.6 94L396.8 96ZM397.8 78.8L398.9 80.2L400 80.1L402.2 77.1L400.6 75.7L400.4 75.6ZM393 77.3L390.8 77.8L390.7 80.1L390.9 80.5L393.9 81.7L394.6 78.6L394.6 78.3ZM382.7 93L381.5 96L379.4 96L379.4 93ZM412.3 79.2L412.3 78.1L411 76.9L408.8 76.8L408.7 78.2L409.3 79.4L411.5 79.6ZM371.3 62L368.8 64.1L368.2 63.4L369.2 62.2Z"/>
<path fill="#3c246c" stroke="#3c246c" stroke-width=".35" d="M402.8 68.6L403.6 68.2L403.5 65.4L400.9 63.9L400.1 64.3L400.1 64.6L401.6 68.5ZM369 78.2L368.3 76.9L368.1 76.9L365 79.4L365 79.5L367.6 79.9L369 79.4ZM406.6 85.8L406.3 85L406.8 82.2L407 81.8L407.8 82.4L409.9 85.1ZM383.6 87L383.5 87L381.5 84.8L381.6 84.5L384.6 80.9L385.7 82.4L385.2 86.1ZM365 59.3L366.4 59.6L367.7 58.6L365 56.9ZM403.1 77.4L404.3 79.8L405.2 80.3L408.7 78.2L408.8 76.8L407.4 75.3L406.1 75.2ZM373.1 73.2L374.1 74.6L371.8 76.2L370 75.5L369.4 73.9L372.4 72.7ZM400.5 56.7L400 56L397.7 55.8L399.1 58.6ZM383.9 88.3L382.2 90.4L380.2 88.6L383.5 87L383.6 87ZM368.5 91L365 90.4L365 87.6L365.1 87.6ZM384.5 80.5L384.6 80.9L385.7 82.4L387.4 82.8L389.3 82.1L390.9 80.5L390.7 80.1L386.7 78.8L385.1 78.9ZM382.9 92.8L383 92.8L383.8 93.4L384.5 96L381.5 96L382.7 93ZM393.6 94.8L389.5 93.7L389.5 91.3L392.3 90.4L393.8 90.6L394.2 93.3ZM410.9 64.6L408.6 67.5L411.9 66L412 65.5ZM393.4 61L393.3 58.3L393 58.1L392.3 58.1L392.1 58.2L391.9 58.3L390.6 62.7L391.1 63.1L391.5 63.3ZM371.1 77.7L371.8 77L373.9 80.3L370.3 80.3L370.3 80.3ZM401.8 93.9L402.9 94.4L401.1 96L399.4 96L399.1 94.4L399.3 94.2ZM370.5 58.8L370 59L368.8 58L368.6 56.7L373.1 55.5L371.6 57.8ZM378.3 68.1L378.5 68.9L377.8 70.5L375.8 71.4L374.7 69.4L375 68.9L377.2 67.4ZM387.6 60.5L388.6 59L388.8 56.1L388.7 55L386.2 55L387.3 60.4ZM396.7 65.3L397.2 66.8L395.8 68.8L394.7 68.8L394.5 65.5L395.1 65.3ZM405.1 87.5L401.2 88.7L401.5 87.3L404.8 87.2ZM370.5 58.8L370 59L370 59.5L371.6 61.8L373.3 62.7L373.5 61L372.5 59.3ZM407 81.8L405.2 80.3L404.3 79.8L401.9 84.2L402.7 84.5L404.3 84.3L406.8 82.2L407 81.8ZM367.2 61.6L366.7 60.7L365 61.4L365 62.4L367.2 61.9ZM407.8 68.6L408.2 69L406 74.5L405.2 72.9L405.9 70.8ZM388.2 61.3L390.6 62.7L391.9 58.3L388.6 59L387.6 60.5ZM411.5 93.6L410.1 94.9L410.1 95.3L410.2 96L414.5 96L412.6 93.5ZM413.4 61.5L414.4 62.1L410.7 64.2L410 63.6ZM404.7 55.1L404.7 55L410.4 55L409.6 56.4L406.7 58L406.7 58ZM411.5 93.6L411.4 90.7L414.1 91.4L412.6 93.5ZM388.8 56.1L388.6 59L391.9 58.3L392.1 58.2ZM379.5 63.9L380.3 62.8L378.4 62.2L376.4 65.4L376.7 65.7ZM387.4 82.8L389.3 82.1L390.3 84.4L388.5 84.8ZM399.9 64.2L397 65.1L396.6 62L397.1 61.5L397.7 61.4L398.7 62.2ZM385.8 90.5L386.3 93.1L385.7 93.9L383.8 93.4L383 92.8L385.6 90.5ZM382.9 92.8L382.3 91.7L378.2 90.1L378.3 91.6L379 92.7L379.4 93L382.7 93ZM406.9 88.3L410 90.4L410.5 90.1L411.2 87.5L411.2 87.1L410.7 86.5ZM386.6 86.7L388.1 86.8L388.5 84.8L387.4 82.8L385.7 82.4L385.2 86.1ZM367.1 86.5L367.1 86.2L365 83.7L365 87.6L365.1 87.6ZM374.8 85.2L372.9 82.6L370.5 84.1L371.5 86.4L373.7 86.7L374 86.6Z"/>
<path fill="#306090" stroke="#306090" stroke-width=".35" d="M411.4 90.7L410.5 90.1L411.2 87.5L415 89.8L415 91.3L414.1 91.4ZM407.8 68.6L408.2 69L411 70.7L412.4 69.1L411.9 66L408.6 67.5L407.8 68.1L407.7 68.5ZM395.2 72.7L398.3 74.2L398.1 69.9L397.7 69.9L395.4 72.3ZM393.3 96L393.6 94.8L394.2 93.3L396.6 94L396.8 96ZM403.7 60.1L405.8 60.4L406.7 58L404.7 55.1L402.5 56.8ZM377.5 80.4L376.2 79.7L377.5 77.2L379.8 76.6L380 78.7L378.5 80.5ZM367.1 86.2L365 83.7L365 82.4L368.6 83.5L368.7 83.5ZM384.5 96L385.7 96L385.9 94.2L385.7 93.9L383.8 93.4ZM393.8 90.6L395.5 88.7L394.5 84.3L391.7 85L389.8 87.1L392.3 90.4ZM388.7 96L388.6 95.7L387.8 94.8L385.9 94.2L385.7 96ZM413.4 61.5L414.4 62.1L415 62.3L415 56.3L412 58.6L412.3 60.5ZM411.9 58.6L411.6 58.1L412 55L415 55L415 56.3L412 58.6ZM388.7 55L388.8 56.1L392.1 58.2L392.3 58.1L390.7 55ZM394.8 83.1L397 81L398.9 80.2L400 80.1L399.9 83.4L394.8 83.1ZM377.1 59.7L375.9 58.3L375.8 58L380.3 57.8L380.5 58.3L378.3 59.9ZM386 90.4L386.6 86.7L385.2 86.1L383.6 87L383.9 88.3L385.6 90.5L385.8 90.5ZM383.3 74.2L382.1 71.7L381.8 71.3L381.7 71.5L382.3 73.9ZM389.2 68.2L389.3 68.2L389.1 71.8L388.6 72.5L387.9 72.8L386.8 71.9L386.9 68.2ZM413.4 61.5L410 63.6L408.8 63L410.4 61L412.3 60.5ZM398.3 69.8L398.1 69.9L397.7 69.9L395.8 68.8L397.2 66.8L398.5 67.8L399.1 69Z"/>
<path fill="#480054" stroke="#480054" stroke-width=".35" d="M379 92.7L376.5 95.8L375.5 94L378.3 91.6ZM402.2 57L400.5 56.7L399.1 58.6L399 58.9L401 60L401.1 60L401.4 59.9ZM374.1 80.3L374 80.3L372.9 82.6L374.8 85.2L376 84.5L375.9 83.7ZM411.9 58.6L411.6 58.1L409.6 56.4L406.7 58L409 59.1ZM388.8 75.5L390.9 76.4L391 76.2L390.1 75L388.8 75.4ZM403.5 94.5L403.8 96L406.2 96L406.4 95.1L406.3 92.3L405.3 91.8ZM402.3 60.1L402.5 62.8L404.5 62.4L406 61.3L405.8 60.4L403.7 60.1ZM404 71.9L400.6 75.7L402.2 77.1L403.1 77.4L406.1 75.2L406 74.5L405.2 72.9ZM393.4 55L393 58.1L392.3 58.1L390.7 55ZM378.8 85.5L378.5 88.6L378.5 88.6L374 86.6L374.8 85.2L376 84.5L377.8 84.8ZM373.7 91.8L374.1 89.3L378.3 89.2L378.2 90.1ZM379.9 85L381.5 84.8L383.5 87L380.2 88.6L378.5 88.6L378.8 85.5ZM393.6 94.8L393.3 96L388.7 96L388.6 95.7L389.5 93.7ZM377.9 84.1L377.8 84.8L378.8 85.5L379.9 85L379.7 81.5L379 81.2ZM371.3 68.7L371.9 66.3L368.6 65.8L368.7 66.4L371.1 69Z"/>
<path fill="#249090" stroke="#249090" stroke-width=".35" d="M378.5 88.6L378.3 89.2L374.1 89.3L373.9 88.6L373.7 86.7L374 86.6ZM376.9 61.3L377.1 59.7L378.3 59.9L378.5 60.8L378.1 62L377.2 61.6ZM390.1 75L391 73.8L392.4 74L392.4 74.9L391 76.2ZM372.5 59.3L373.5 61L374.7 58.5L373.5 58.7ZM375.1 79.7L374.6 74.7L374.1 74.6L371.8 76.2L371.8 77L373.9 80.3L374 80.3L374.1 80.3ZM370 59.5L371.6 61.8L371.3 62L369.2 62.2L369.3 60.4ZM408.3 92.3L406.3 92.3L406.4 95.1L410.1 95.3L410.1 94.9ZM384.5 80.5L384.6 80.9L381.6 84.5L380.4 81.6L384.2 80.5ZM368.6 56.7L367.8 55L373.6 55L373.1 55.5ZM367.6 79.9L365 79.5L365 82.4L368.6 83.5ZM378.1 62L378.4 62.2L380.3 62.8L380.4 62.7L381.4 60.4L378.5 60.8ZM371.1 69L368.7 66.4L367.4 69.6L369.3 70.4L370.9 69.8ZM403.9 71.6L403 70.6L400.7 73.2L400.3 75.5L400.4 75.6L400.6 75.7L404 71.9Z"/>
<path fill="#480c60" stroke="#480c60" stroke-width=".35" d="M385.1 78.9L386.7 78.8L388.8 77.1L388.8 75.5L388.8 75.4L387.7 74.4L385 78.3ZM415 83L415 85.5L413.7 85.1L413.1 83L413.1 82.9L413.6 82.9ZM373.4 92.2L372.3 92.2L372.5 95.6L374.2 93.2ZM377.1 82L375.9 83.7L374.1 80.3L375.1 79.7L376.2 79.7L377.5 80.4ZM368.3 76.9L368.1 76.9L365.1 74.1L368.8 73.3L369.4 73.9L370 75.5ZM411 70.7L412.4 69.1L415 67.8L415 73.6L412.5 72.6L411.3 71.6ZM390.6 67.8L392.1 64.6L394.5 65.5L394.7 68.8L394.7 68.8L392.3 69.5ZM415 64.6L415 67.8L412.4 69.1L411.9 66L412 65.5ZM387.3 60.4L386.2 55L384.7 55L384.3 59.9L384.5 60.1ZM388.8 75.5L388.8 77.1L390.7 77.6L390.9 76.4ZM374 71L375.6 71.7L375.1 74.4L375.1 74.5L374.6 74.7L374.1 74.6L373.1 73.2ZM387.8 73.2L384.3 73.5L384.3 73.5L384.1 74.6L387.7 73.7ZM372.4 72.7L369.4 73.9L368.8 73.3L369.3 70.4L370.9 69.8L371 69.9ZM398.7 62.2L397.7 61.4L399 58.9L399 58.9L401 60ZM408.2 69L411 70.7L411.3 71.6L407.6 75.2L407.4 75.3L406.1 75.2L406 74.5ZM415 62.3L414.4 62.1L410.7 64.2L410.9 64.6L412 65.5L415 64.6ZM369.3 60.4L367.2 61.6L367.2 61.9L367.6 62.9L368.2 63.4L369.2 62.2ZM385.6 90.5L383 92.8L382.9 92.8L382.3 91.7L382.2 90.4L383.9 88.3Z"/>
<path fill="#d8e430" stroke="#d8e430" stroke-width=".35" d="M365 62.4L367.2 61.9L367.6 62.9L365 64.4ZM402.7 84.5L404.8 87.2L401.5 87.3L401.7 84.3L401.9 84.2ZM399.7 90.1L397.1 88.9L401 84.1L401.7 84.3L401.5 87.3L401.2 88.7L400.4 89.9ZM397.1 61.5L397.7 61.4L399 58.9L395.8 58.4L395.9 60.2ZM380.3 75.9L380.2 75.7L382.3 73.9L383.3 74.2L384 74.7L383.8 76.7ZM399.1 69L398.5 67.8L400.1 64.6L401.6 68.5L400.6 68.8ZM395.2 72.7L394.8 72.9L393.4 72.9L392.3 71L392.3 69.5L394.7 68.8L395.4 72.3ZM374.8 55L375.5 57.7L375.8 58L380.3 57.8L380.5 55ZM368.6 65.8L368.5 65.6L368.8 64.4L372.9 64.5L372.5 65.6L371.9 66.3ZM406.8 82.2L406.3 85L404.3 84.3ZM400.9 63.9L400.9 63.9L403.5 65.4L403.8 65.2L404.5 62.4L402.5 62.8ZM405.5 87.7L405.1 87.5L404.8 87.2L402.7 84.5L404.3 84.3L406.3 85L406.6 85.8ZM413.1 82.9L412.4 79.3L412.3 79.2L411.5 79.6L410.6 81.3L410.6 81.7L411.6 83.6L413.1 83ZM373.8 70.1L374.7 69.4L375 68.9L373.5 68.1L371.3 68.7L371.1 69L370.9 69.8L371 69.9Z"/>
<path fill="#3c3c84" stroke="#3c3c84" stroke-width=".35" d="M415 83L413.6 82.9L414.5 79.9L415 79.9ZM400 80.1L402.2 77.1L403.1 77.4L404.3 79.8L401.9 84.2L401.7 84.3L401 84.1L399.9 83.4ZM377.1 82L377.9 84.1L379 81.2L378.5 80.5L377.5 80.4ZM379.8 76.6L377.5 77.2L375.3 74.6L379.5 74.3L380.2 75.7L380.3 75.9ZM376.2 79.7L377.5 77.2L375.3 74.6L375.1 74.5L374.6 74.7L375.1 79.7ZM383.8 64.4L384.5 60.1L384.3 59.9L381.7 59.8L381.4 60.4L380.4 62.7L382.3 64.6ZM388.8 75.4L387.7 74.4L387.7 73.7L387.8 73.2L387.9 72.8L388.6 72.5L391 73.8L390.1 75ZM395.6 62.4L394.3 61.1L393.4 61L391.5 63.3L391.6 63.5L395.6 62.4ZM380.5 58.3L381.7 59.8L384.3 59.9L384.7 55L380.5 55L380.3 57.8ZM413.6 82.9L413.1 82.9L412.4 79.3L414.5 79.9Z"/>
<path fill="#78cc54" stroke="#78cc54" stroke-width=".35" d="M412.3 60.5L412 58.6L411.9 58.6L409 59.1L410.4 61ZM370.5 58.8L372.5 59.3L373.5 58.7L371.6 57.8ZM376.9 61.3L375.2 61.5L375.9 58.3L377.1 59.7ZM379.4 93L379.4 96L376.6 96L376.5 95.8L379 92.7ZM373.5 68.1L373.6 67.2L372.5 65.6L371.9 66.3L371.3 68.7ZM386 90.4L388 90.5L388.8 91.1L387.5 92.9L386.3 93.1L385.8 90.5ZM380.2 75.7L379.5 74.3L379.6 73.9L381.7 71.5L382.3 73.9ZM388.8 77.1L386.7 78.8L390.7 80.1L390.8 77.8L390.7 77.6ZM373.4 62.8L373.3 62.7L373.5 61L374.7 58.5L375.5 57.7L375.8 58L375.9 58.3L375.2 61.5ZM377.2 67.4L375 68.9L373.5 68.1L373.6 67.2L377.2 67.4ZM369.4 91.7L369.5 92.1L367.2 96L365 96L365 90.4L368.5 91Z"/>
<path fill="#48b478" stroke="#48b478" stroke-width=".35" d="M384.2 81.2h1.5v1.2h-1.5zM387.2 73.4h1.1v0.6h-1.1zM382.6 76.2h1v0.9h-1zM383.7 85.3h1.5v1.2h-1.5zM379.3 81.2h1.2v1.3h-1.2z"/>
<path fill="#3c5490" stroke="#3c5490" stroke-width=".35" d="M389.4 87.5h0.6v0.8h-0.6zM409.6 88.8h1.5v1.4h-1.5zM391.9 80.1h1.2v1.3h-1.2zM375.9 88.5h1.2v1.4h-1.2zM412.7 57.1h1.6v0.7h-1.6zM389.4 90.2h0.7v1h-0.7z"/>
<path fill="#3c246c" stroke="#3c246c" stroke-width=".35" d="M366 61h0.9v1.1h-0.9zM409 74h1v1.3h-1zM399.8 88.3h1.1v1.2h-1.1zM401.6 72.8h0.8v1.5h-0.8zM371 76.5h1.3v1.5h-1.3zM382.3 79.4h0.7v1h-0.7zM406.6 68.3h1.5v1.1h-1.5z"/>
<path fill="#307890" stroke="#307890" stroke-width=".35" d="M383.6 89.3h1.5v0.8h-1.5zM385.7 82.5h1.4v0.8h-1.4zM387.4 85.5h1.6v1.3h-1.6zM396.6 78.7h1.5v1h-1.5zM392.2 87.2h0.7v1.1h-0.7zM391.9 94.8h1.1v0.8h-1.1z"/>
<path fill="#249090" stroke="#249090" stroke-width=".35" d="M384.8 72.3h1.2v0.7h-1.2zM396.4 81h1.4v1h-1.4zM406.2 74.6h1.5v1.4h-1.5zM377.7 92.8h1.5v1.5h-1.5zM401.3 91.8h0.8v0.9h-0.8z"/>
<path fill="#78cc54" stroke="#78cc54" stroke-width=".35" d="M398 65.2h1.1v0.9h-1.1zM399.3 69.6h1.3v1.1h-1.3zM384.7 68.3h0.7v0.9h-0.7zM385.4 54.6h0.6v1.1h-0.6zM379.4 94.8h1.2v0.7h-1.2z"/>
<path fill="#480054" stroke="#480054" stroke-width=".35" d="M388.2 56.9h1v1h-1zM399.1 78h0.8v1.2h-0.8zM371 83.6h1.5v0.7h-1.5z"/>
<path fill="#309c84" stroke="#309c84" stroke-width=".35" d="M378.1 93.3h1v1.5h-1zM395.1 75.6h0.9v0.8h-0.9zM411.7 55.6h0.9v1.2h-0.9zM370.7 83h1.3v1h-1.3zM377.1 85.8h1.1v1.3h-1.1z"/>
<path fill="#306090" stroke="#306090" stroke-width=".35" d="M365.6 77.7h1.6v0.9h-1.6zM408.7 88.7h1.5v1.1h-1.5zM403.1 89.8h1.1v1.2h-1.1zM385.5 82.8h1.1v1.2h-1.1zM389 57.7h0.7v0.7h-0.7zM405.7 82.3h0.9v0.6h-0.9zM383.4 88.6h1.5v0.8h-1.5zM391.8 72.2h1.4v1.3h-1.4zM380.9 73.2h1.3v1.5h-1.3zM389.4 85.9h1.6v0.9h-1.6zM394.2 78.3h1v1.6h-1zM404.3 74.2h0.6v1.5h-0.6zM366.3 56.7h1.5v1.3h-1.5z"/>
<path fill="#3c3078" stroke="#3c3078" stroke-width=".35" d="M412.5 86.5h1.5v1.1h-1.5zM394.1 56.6h1.1v0.9h-1.1zM413.1 55.5h1.1v0.9h-1.1zM408.3 57.3h1.5v0.8h-1.5zM377.1 80.5h1v0.9h-1zM408.5 56.7h0.9v0.7h-0.9z"/>
<path fill="#248490" stroke="#248490" stroke-width=".35" d="M389.7 59.2h1.3v0.8h-1.3zM381.5 72h1.3v0.6h-1.3zM377.9 93.7h0.8v1.1h-0.8zM402.5 65.1h1.3v1.4h-1.3z"/>
<path fill="#d8e430" stroke="#d8e430" stroke-width=".35" d="M381 67h0.8v1.6h-0.8zM398.4 72.7h0.9v0.7h-0.9zM382.3 90.8h0.8v0.8h-0.8zM388.7 88.2h0.9v1.5h-0.9zM407.9 68.5h1.2v0.7h-1.2zM369.3 91.7h0.9v0.9h-0.9zM402.8 66.3h0.6v1.1h-0.6z"/>
<path fill="#3c3c84" stroke="#3c3c84" stroke-width=".35" d="M380.2 77.7h0.9v1.4h-0.9zM369.3 75.3h0.9v1.2h-0.9zM389 70.5h0.8v1h-0.8zM396.1 65.5h1.4v1.6h-1.4z"/>
<path fill="#480c60" stroke="#480c60" stroke-width=".35" d="M403.9 58h0.6v1.2h-0.6zM406.8 90.9h0.8v1.4h-0.8z"/>
<path fill="#306c90" stroke="#306c90" stroke-width=".35" d="M370 83h0.7v1.1h-0.7zM412.5 54.8h1v0.7h-1z"/>
</g>
<rect x="366" y="49.5" width="44" height="6" fill="#fff"/><rect x="368" y="51.6" width="33" height="1.2" fill="#9a9a9a"/>
<line x1="404" y1="71" x2="414.5" y2="49" stroke="#555" stroke-width="0.5"/>
<rect x="414.5" y="49" width="49.8" height="46.5" fill="url(#fmrg)"/>
<g clip-path="url(#mgclip)">
<path fill="#f0d89c" stroke="#f0d89c" stroke-width=".35" d="M460.9 49.1L460.9 48.5L454.2 48.8L455 49.9L459.4 50.3ZM442.8 56.4L442.9 55.6L441.9 52.9L441.2 52.6L440.6 54.6L441.5 56.3ZM417.7 81.7L421.8 81.2L422.1 83.7L419.3 86.3L416.8 84.2L416.7 82.3ZM428.6 50.8L424.2 49.3L424.8 50.7L427.2 53.6L428.1 53.7ZM439.9 50.5L441.2 52.6L440.6 54.6L439.2 53.7L439.2 53.7ZM417.8 61.8L416.7 61.9L414.9 64.2L415.1 64.4L417.9 65.4L419 65L419.1 63.3ZM460.2 69.3L459.9 72.9L463.9 73.5L464 73.4L463.4 71.3L461.3 69.1L460.8 68.9L460.4 69.1ZM466 62.8L464.2 63L463.1 64.4L463.9 68L466 67.4ZM414.4 80.2L415.8 75.6L413 74.3L413 80.7L414.1 80.7ZM419.7 94.7L416.1 95.4L414.8 97L419.7 97L420.6 95L420.5 94.8ZM464.8 55.5L466 55.2L466 56.6L464.7 56.7Z"/>
<path fill="#9c9ca8" stroke="#9c9ca8" stroke-width=".35" d="M450 58.6L448.7 57.5L449.3 55.3L450.7 56L451.8 57.8ZM450.9 79L448.4 80.2L447.9 81.5L452 83.5L452.5 83.4L453.9 81.6L453.4 80.1ZM417.9 65.4L417.2 67L416.5 67.7L415.1 64.4ZM427.7 95.1L425.3 92.8L424.1 96.5L424.3 97L425.7 97L428.1 95.5ZM430.9 85.3L432.4 83.1L434.7 85.4L431.1 85.9ZM451.6 91L452.8 91.6L453.9 90.8L454.5 88.9L452.3 88.5ZM452.3 65.1L455 64.5L456.1 65.2L456.6 66.3L456.7 66.8L455.8 67.6L453.8 67.8L453.2 67.4L452.3 65.2ZM428.3 76.4L427.4 76.7L425.3 78.5L426 79.3L428.8 81.4L429.4 77.5ZM437.5 90.1L434.2 88.8L433.7 88.5L434 88.1L437.1 87L437.8 89.1ZM435.2 64.4L437.3 64.5L438 62.9L436.8 60.9L434.3 63.5ZM427.9 56.9L425.3 58.7L425 56L428 56.5ZM418.1 68.8L418.3 67.3L421.1 66.8L421.2 66.9L420.5 69L419.8 69.8ZM433 68.5L436.6 68.7L435.3 66L433.7 66.7ZM453.8 68.3L454.6 71L454.1 71.3L452.4 69.7ZM451.5 77.9L454.9 76.7L455 76.8L455.3 77.5L453.4 80.1L450.9 79ZM428.3 76.3L428.5 74.1L432.9 74.3L431.5 75.4ZM437.9 91.3L440.5 92.9L441.4 95L441.4 95.3L437.4 95.2L436.5 92.6ZM427 84.9L427.4 84.6L430.9 85.3L431.1 85.9L431.6 88.2L430.7 88.7L426.5 87.6L425.9 86.3ZM445.6 70.5L446.7 72.2L446.9 72.6L445 73.6L443.1 72.8ZM466 87.6L461.5 89.7L461.8 91.3L466 91.5ZM445.3 93.5L444.8 91.6L447.1 91.6L447.1 93Z"/>
<path fill="#0c000c" stroke="#0c000c" stroke-width=".35" d="M425.3 63.6L425.9 63.8L426 64L424.6 68.5L421.7 66.6L423.9 63.9ZM433.7 71.6L432.8 72.8L431.5 72.2L432.7 68.6L432.9 68.6L433.9 71.2ZM452 88.4L452.3 88.5L454.5 88.9L455.2 88.4L455.8 87.4L455.3 86.6L451.4 86.4ZM433.7 71.6L432.8 72.8L433.3 73.6L434.7 73.6L436.1 72.6L436.1 71.9ZM444.4 65.7L444.3 68.9L445.3 69.9L448 68.9L448 68.4L447.4 66.4ZM444.2 65.4L443.3 64.4L442.8 64.3L441.4 65.3L439.1 69.7L440.5 71.3L444.3 68.9L444.4 65.7ZM421.8 81.2L422.1 83.7L425.6 86.2L425.9 86.3L427 84.9L426.3 83.6L423 79.3ZM431.5 75.4L432.9 74.3L433.1 74.2L434.1 76.6L432.5 77.1ZM454.1 71.3L454.6 71L455.5 70.9L456.3 71.2L456.8 72.9L455.8 73.8L452.9 73L453.1 72.5ZM428.4 82.7L429 81.7L428.8 81.4L426 79.3L426.5 81.4ZM437.5 90.1L437.9 90.9L441.1 89L441 86.6L440.9 86.5L437.8 89.1ZM424.3 73.1L424.4 73.8L422.3 77.9L421.1 77L421.2 74.7L421.6 73.9ZM437.4 52.9L436 53.2L435.8 55.2L437.8 55.3L438.6 53.9ZM432.7 68.6L431.9 68.2L432.2 64.6L433.7 66.7L433 68.5L432.9 68.6ZM428.6 93.6L427.2 91.6L428.4 91.5L429.4 93.6ZM453.5 97L452.4 94.5L451 93.9L449.6 94.1L448.9 95.7L449.7 97ZM448.2 79.5L446.3 76.7L444.6 76.5L443.9 77.3L443.5 78.5L447 82.1L447.9 81.5L448.4 80.2ZM435.8 97L437.4 95.2L441.4 95.3L442.3 97ZM426.5 87.6L430.7 88.7L429.9 91.1L428.4 91.5L427.2 91.6L426 91.5L426.1 91.2ZM427 84.9L427.4 84.6L428.4 82.7L426.5 81.4L426.3 83.6ZM433.7 66.7L435.3 66L435.2 64.4L434.3 63.5L433.2 63.3L432.2 64.3L432.2 64.6ZM453.8 97L455.1 92.4L455.3 92.3L456.1 92.5L457.8 94L458.2 94.8L457.6 97ZM441.2 75.7L443.9 77.3L443.5 78.5L440.7 79.4L440 78.7ZM436.1 72.6L437.9 73.6L437.7 74.2L435.9 74.9L434.7 73.6ZM440.8 65.3L441.4 65.3L442.8 64.3L441.2 62.9L438 62.9L437.3 64.5L437.5 64.7ZM431.1 72.1L428.5 72.9L427.7 72L430.4 69.4ZM433.4 58.4L435.5 57.8L436.5 58.8L436.6 60.1L433.4 60.5ZM423 79.3L423.1 79L425.3 78.5L426 79.3L426.5 81.4L426.3 83.6ZM459.8 77.2L458.2 79.1L459.3 79.3L460 79.1ZM430.7 88.7L429.9 91.1L430.6 91.9L433.1 90.2L433.2 88.6L431.6 88.2ZM454.9 76.7L452.4 73.7L452.9 73L455.8 73.8L455.3 76.5L455 76.8ZM437.9 73.6L437.7 74.2L438.2 75.9L441.2 74.9L441.3 74.4L440.9 72.5L440.5 72ZM448 68.9L445.3 69.9L445.6 70.5L446.7 72.2L448.6 69.3ZM456.7 84.2L456.7 83.3L455.8 83.2L455.1 84.6ZM432.4 82.4L432.4 83.1L434.7 85.4L434.7 85.5L435.8 85L435.6 82ZM416.7 61.9L416.2 61.2L414.3 60.1L413 59.9L413 64.5L414.9 64.2ZM444.6 96.9L444.6 97L442.3 97L441.4 95.3L441.4 95L444.6 91.5L444.8 91.6L445.3 93.5ZM427.9 56.9L425.3 58.7L425.2 58.9L427.8 59.6L428.2 57.5ZM439.1 69.7L436.9 69.1L436.5 69.8L436.1 71.9L436.1 72.6L437.9 73.6L440.5 72L440.5 71.3ZM425.2 58.9L424.8 59.3L423.9 59.1L422 56.5L422.9 55.1L423.1 54.9L423.5 54.8L424.7 55.1L425 56L425.3 58.7ZM432.7 68.6L431.9 68.2L430.6 68.3L430.4 69.4L431.1 72.1L431.5 72.2ZM449.5 69.4L450.5 69.5L450.5 69.5L449.5 73.7L448.1 73.4L447.5 72.9L449.2 69.4ZM432.7 78.9L434.5 79.6L435.8 79.1L435.1 77.3L435 77.3ZM432.8 72.8L433.3 73.6L433.1 74.2L432.9 74.3L428.5 74.1L428.5 72.9L431.1 72.1L431.5 72.2ZM418.1 68.8L416.4 68L416.5 67.7L417.2 67L418.3 67.3ZM448.2 79.5L446.3 76.7L448.1 73.4L449.5 73.7L449.8 73.9ZM436.3 81.5L439.4 83.1L439.6 83.1L440.8 81.6L440.7 79.4L440 78.7L439.7 78.6L436.4 79.7ZM430.6 68.3L428.4 67.2L426.1 70.7L427.7 72L430.4 69.4ZM451.4 86.4L455.3 86.6L454.7 85L452.5 83.4L452 83.5L451.2 86.2ZM435.4 92.8L435 93L434.5 97L435.8 97L437.4 95.2L436.5 92.6ZM447.4 66.4L448 68.4L448.9 68L449.4 66.4L448.7 66.2ZM425.9 86.3L426.5 87.6L426.1 91.2L422.6 88.1L425.6 86.2ZM421.2 60.2L421.7 62.4L419.1 63.3L417.8 61.8L418.5 60.6L420.9 60ZM421.6 95.4L421.3 97L419.7 97L420.6 95L421.4 95.2ZM439.6 83.1L440.8 81.6L444.5 82.6L440.8 86.2L440.3 85.7ZM444.3 68.9L445.3 69.9L445.6 70.5L443.1 72.8L440.9 72.5L440.5 72L440.5 71.3ZM452.5 94L452.8 91.6L453.9 90.8L455.3 92.3L455.1 92.4ZM417.7 81.7L421.8 81.2L423 79.3L423.1 79L422.3 77.9L421.1 77L418.6 76.8L418.2 77.8ZM435.5 55.5L435.5 57.8L433.4 58.4L433 58.2L431.8 54.7ZM432.2 64.6L432.2 64.3L431.5 64.3L428.4 66.8L428.4 67.2L430.6 68.3L431.9 68.2ZM455.3 61.7L452.2 61.5L452.7 58.7L456.7 60.1ZM451.5 77.9L450.5 74L452.4 73.7L454.9 76.7ZM431.2 60.8L432.7 61.6L433.2 63.3L432.2 64.3L431.5 64.3L428.5 62.2L428.9 61.5ZM429.4 77.5L428.8 81.4L429 81.7L431.8 81.5L431.6 79.4L431 78.4ZM433.4 60.5L436.6 60.1L436.8 60.6L436.8 60.9L434.3 63.5L433.2 63.3L432.7 61.6ZM456.6 66.3L458 65.6L459.7 63.7L459.4 62.3L456.1 65.2ZM440.1 60.4L439.8 57.1L441.5 56.3L442.8 56.4L444.5 57.6L444.3 58.3ZM449.1 63.2L449.8 62.2L451 62.5L452.3 65.1L452.3 65.2L450.3 66.6L449.4 66.4L448.7 66.2ZM453.4 80.1L453.9 81.6L455.2 81.6L455.9 81.2L456.3 78.4L455.3 77.5ZM456.1 92.5L456.4 90.3L458 90.7L457.8 94ZM461.8 58.7L460.8 55.4L461.5 55.1L461.6 55.2L461.7 55.2L463.7 57.1L463.8 57.4L463.4 58.4ZM446.5 95.6L447.4 93.9L447.1 93L445.3 93.5L444.6 96.9ZM437.8 55.3L435.8 55.2L435.5 55.5L435.5 57.8L436.5 58.8L439.5 57.1L439.4 56.9ZM448.6 69.3L446.7 72.2L446.9 72.6L447.5 72.9L449.2 69.4ZM431.1 85.9L434.7 85.4L434.7 85.5L434 88.1L433.7 88.5L433.2 88.6L431.6 88.2ZM429.7 58.5L428.2 57.5L427.8 59.6L428.4 60ZM428.3 76.4L427.4 76.7L424.4 73.8L424.3 73.1L425.1 71.2L425.1 71.2L426 70.7L426.1 70.7L427.7 72L428.5 72.9L428.5 74.1L428.3 76.3ZM432.7 78.9L434.5 79.6L431.9 81.6L431.8 81.5L431.6 79.4ZM431.7 93.4L431.1 95.1L430.9 96.9L430.9 97L434.5 97L435 93L433.2 92.6ZM434.1 76.6L433.1 74.2L433.3 73.6L434.7 73.6L435.9 74.9L435.5 77L435.1 77.3L435 77.3ZM458 74L456.8 72.9L456.3 71.2L460.2 69.3L459.9 72.9L459.3 74.2ZM429.4 93.6L431.1 95.1L431.7 93.4L430.6 91.9L429.9 91.1L428.4 91.5ZM431.9 81.6L431.8 81.5L429 81.7L428.4 82.7L427.4 84.6L430.9 85.3L432.4 83.1L432.4 82.4ZM455.3 76.5L455.7 76.2L458 74L456.8 72.9L455.8 73.8ZM413 50.7L413 48L419.6 48L418.8 50.4ZM451.7 88.6L450.6 91.1L450.2 91.1L448.5 90.3L448.4 89.4ZM463.9 68L461.3 69.1L460.8 68.9L460.9 66.4L463.1 64.4ZM428.5 62.2L431.5 64.3L428.4 66.8L426 64L425.9 63.8ZM444.2 65.4L449.1 63.2L448.7 66.2L447.4 66.4L444.4 65.7ZM441 86.6L440.9 86.5L440.8 86.2L444.5 82.6L446.6 82.6L446.4 86.5L445.4 87.1Z"/>
<path fill="#f0a8b4" stroke="#f0a8b4" stroke-width=".35" d="M419.3 92.9L419.1 93L419.7 94.7L420.5 94.8L420.6 93.4ZM435.7 48L435.9 48L435.6 52.5L432.5 53L432.7 52.2ZM430.7 48L430.2 49.4L428.6 50.8L424.2 49.3L423.6 48.3L423.5 48ZM460.3 55.4L458.8 51.9L456 52.9L458.6 55.4L459.5 55.9ZM419.6 88.8L417 92.4L417 92.9L419.1 93L419.3 92.9L420.7 89.6L420.5 89.3ZM439.8 49.6L437.4 52.9L438.6 53.9L439.2 53.7L439.9 50.5ZM419.2 54.2L420.3 57.1L422 56.5L422.9 55.1ZM423.6 92L421.4 95.2L420.6 95L420.5 94.8L420.6 93.4L422 91.1ZM419.2 73L417.2 75.7L418.6 76.8L421.1 77L421.2 74.7ZM460.9 48.5L461 48L453.5 48L454.2 48.8ZM456.7 84.2L459.6 86.3L459.4 86.7L455.8 87.4L455.3 86.6L454.7 85L455.1 84.6ZM419.6 88.8L415.1 88.7L415.3 85.4L416.8 84.2L419.3 86.3ZM459.4 82.3L458.8 82.7L458.4 82.3L459.7 80.5L460.4 80.5ZM417.8 58.2L418.1 57.7L417 56L415.2 56.9L415.9 58.2L416.3 58.5L416.6 58.6ZM460.9 60.6L460.2 61.4L459.6 61.4L457.6 59.7L457.6 59.5L459.5 55.9L460.3 55.4L460.8 55.4L461.8 58.7ZM461.7 55.2L464.2 54.7L466 53.5L466 53L463.3 53L461.6 55.2ZM460 75.6L459.3 74.2L459.9 72.9L463.9 73.5L462.9 76.5L460.2 75.8ZM413 58.7L415.9 58.2L415.2 56.9L413 56.5Z"/>
<path fill="#f0c0a8" stroke="#f0c0a8" stroke-width=".35" d="M456.7 66.8L460.4 69.1L460.2 69.3L456.3 71.2L455.5 70.9L455.8 67.6ZM452 54.4L451.4 52.6L455.2 53.3L454.5 55.7L454.3 55.8ZM415.2 56.9L413 56.5L413 51.3L417.2 53.5L417 56ZM430.8 48L430.7 48L430.2 49.4L431.5 54.1L432.5 53L432.7 52.2ZM435.6 52.5L436 53.2L435.8 55.2L435.5 55.5L431.8 54.7L431.4 54.4L431.5 54.1L432.5 53ZM460 75.6L459.3 74.2L458 74L455.7 76.2L459.1 76.2ZM425.1 71.2L425.1 71.2L420.5 69L419.8 69.8L419.6 70.6L421.4 72.1ZM421.2 60.2L423.9 59.1L424.8 59.3L425.3 63.6L423.9 63.9L421.7 62.4ZM420.5 69L425.1 71.2L426 70.7L424.6 68.5L421.7 66.6L421.2 66.9ZM421.2 60.2L423.9 59.1L422 56.5L420.3 57.1L420.2 57.2L420.9 60ZM418.1 57.7L417 56L417.2 53.5L418.6 53.4L419.2 54.2L420.3 57.1L420.2 57.2Z"/>
<path fill="#9c54d8" stroke="#9c54d8" stroke-width=".35" d="M457.6 59.7L456.7 60.1L455.3 61.7L455 64.5L456.1 65.2L459.4 62.3L459.6 61.4ZM442.9 55.6L444.6 51.8L441.9 52.9ZM444.2 65.4L443.3 64.4L443.9 63.3L448.5 60.9L448.9 61L449.8 62.2L449.1 63.2ZM437.6 66.8L436.7 68.8L436.6 68.7L435.3 66L435.2 64.4L437.3 64.5L437.5 64.7ZM429.7 58.5L428.4 60L428.9 61.5L431.2 60.8L431 58.9L430.4 58.3ZM451.2 86.2L452 83.5L447.9 81.5L447 82.1L446.6 82.6L446.4 86.5L447.1 87ZM440.8 81.6L444.5 82.6L446.6 82.6L447 82.1L443.5 78.5L440.7 79.4ZM452 88.4L452.3 88.5L451.6 91L450.6 91.1L451.7 88.6Z"/>
<path fill="#48189c" stroke="#48189c" stroke-width=".35" d="M441.2 62.9L438 62.9L436.8 60.9L436.8 60.6L440.1 60.5Z"/>
<path fill="#cc78cc" stroke="#cc78cc" stroke-width=".35" d="M428.4 60L427.8 59.6L425.2 58.9L424.8 59.3L425.3 63.6L425.9 63.8L428.5 62.2L428.9 61.5Z"/>
<path fill="#9054e4" stroke="#9054e4" stroke-width=".35" d="M444.5 91.4L442 90.6L440.5 92.9L441.4 95L444.6 91.5ZM436.1 85L435.8 85L434.7 85.5L434 88.1L437.1 87L437.3 86.5ZM448.5 60.9L443.9 63.3L444.3 58.3L444.5 57.6L445 57.5L445.3 57.7ZM454.3 55.8L454.5 55.7L454.5 55.7L457.6 59.5L457.6 59.7L456.7 60.1L452.7 58.7L452.2 57.9Z"/>
<path fill="#6030cc" stroke="#6030cc" stroke-width=".35" d="M451.5 77.9L450.5 74L449.8 73.9L448.2 79.5L448.4 80.2L450.9 79ZM441.9 90.2L442 90.6L444.5 91.4L445 88ZM438.2 75.9L437.7 74.2L435.9 74.9L435.5 77L438 76.3ZM455 76.8L455.3 76.5L455.7 76.2L459.1 76.2L457.2 78.5L456.3 78.4L455.3 77.5Z"/>
<path fill="#783cd8" stroke="#783cd8" stroke-width=".35" d="M414.4 80.2L415.8 75.6L416.9 75.6L417.2 75.7L418.6 76.8L418.2 77.8ZM459.5 55.9L458.6 55.4L454.5 55.7L457.6 59.5ZM455.3 61.7L455 64.5L452.3 65.1L451 62.5L452.2 61.5ZM430.6 91.9L433.1 90.2L433.2 92.6L431.7 93.4ZM446.5 95.6L448.9 95.7L449.6 94.1L449.1 93.7L447.4 93.9ZM440.3 85.7L440.8 86.2L440.9 86.5L437.8 89.1L437.1 87L437.3 86.5Z"/>
<path fill="#f0cca8" stroke="#f0cca8" stroke-width=".35" d="M463.7 57.1L464.7 56.7L464.8 55.5L464.2 54.7L461.7 55.2ZM463.4 80.1L463 82.8L462.1 84.5L460 85.5L458.8 82.7L459.4 82.3ZM463.4 80L463.6 79.7L460 79.1L459.3 79.3L459.7 80.5L460.4 80.5ZM424.3 73.1L421.6 73.9L421.4 72.1L425.1 71.2ZM456 52.9L458.6 55.4L454.5 55.7L454.5 55.7L455.2 53.3L455.6 52.9ZM416.3 58.5L414.3 60.1L413 59.9L413 58.7L415.9 58.2ZM466 70.3L466 73.3L464 73.4L463.4 71.3ZM460.9 60.6L463.7 59.4L463.4 58.4L461.8 58.7Z"/>
<path fill="#fce49c" stroke="#fce49c" stroke-width=".35" d="M449.3 55.3L448.9 54.6L449.7 53.6L451 52.3L451.4 52.6L452 54.4L450.7 56ZM419.1 93L419.7 94.7L416.1 95.4L417 92.9ZM463.4 80.1L463 82.8L465 83.6L466 83.5L466 79.1L464.3 79L463.6 79.7L463.4 80ZM460.9 60.6L460.2 61.4L464.2 63L466 62.8L466 61.5L463.7 59.4ZM463.7 59.4L466 61.5L466 59.1L463.8 57.4L463.4 58.4ZM421.1 66.8L419 65L417.9 65.4L417.2 67L418.3 67.3ZM461.5 89.7L461.8 91.3L461.5 92.3L458.2 94.8L457.8 94L458 90.7L460.5 88.8ZM422.1 83.7L419.3 86.3L419.6 88.8L419.6 88.8L420.5 89.3L422.6 88.1L425.6 86.2ZM451.2 48L450.8 49L444 49.9L442.8 48ZM419.1 71L417.1 71.4L416.9 75.6L417.2 75.7L419.2 73ZM429.1 54.5L428.1 53.7L428.6 50.8L430.2 49.4L431.5 54.1L431.4 54.4L430.6 54.6ZM419.2 52.8L418.8 50.4L419.6 48L423.5 48L423.6 48.3L421.3 52ZM421.6 73.9L421.2 74.7L419.2 73L419.1 71L419.6 70.6L421.4 72.1Z"/>
<path fill="#e490c0" stroke="#e490c0" stroke-width=".35" d="M458.2 79.1L458.1 79.1L458 81.8L458.4 82.3L458.4 82.3L459.7 80.5L459.3 79.3ZM439.8 48L439.8 49.6L437.4 52.9L436 53.2L435.6 52.5L435.9 48ZM439.2 53.7L440.6 54.6L441.5 56.3L439.8 57.1L439.5 57.1L439.4 56.9ZM428 56.5L425 56L424.7 55.1L427.2 53.6L428.1 53.7L429.1 54.5ZM421.6 95.4L421.3 97L424.3 97L424.1 96.5ZM456.1 92.5L455.3 92.3L453.9 90.8L454.5 88.9L455.2 88.4L456.4 90.3ZM417 92.4L417 92.9L416.1 95.4L414.8 97L413 97L413 89.9L413.6 89.7ZM459.6 86.3L459.4 86.7L460.5 88.8L461.5 89.7L466 87.6L466 87.1L465.1 86.4L462.1 84.5L460 85.5ZM420.9 60L420.2 57.2L418.1 57.7L417.8 58.2L418.5 60.6ZM466 91.5L461.8 91.3L461.5 92.3L466 97ZM457.6 97L458.2 94.8L461.5 92.3L466 97L466 97Z"/>
<path fill="#9048e4" stroke="#9048e4" stroke-width=".35" d="M435.8 79.1L436.4 79.7L439.7 78.6L438 76.3L435.5 77L435.1 77.3ZM428.3 76.4L429.4 77.5L431 78.4L432.5 77.1L431.5 75.4L428.3 76.3ZM446.5 95.6L448.9 95.7L449.7 97L444.6 97L444.6 96.9Z"/>
<path fill="#fcd89c" stroke="#fcd89c" stroke-width=".35" d="M456.6 66.3L458 65.6L460.4 65.5L460.9 66.4L460.8 68.9L460.4 69.1L456.7 66.8ZM466 53.5L464.2 54.7L464.8 55.5L466 55.2ZM414.4 80.2L418.2 77.8L417.7 81.7L416.7 82.3L414.1 80.7ZM466 59.1L466 56.6L464.7 56.7L463.7 57.1L463.8 57.4ZM462.1 84.5L463 82.8L465 83.6L465.1 86.4ZM451.8 57.8L452.2 57.9L454.3 55.8L452 54.4L450.7 56ZM438.6 53.9L437.8 55.3L439.4 56.9L439.2 53.7L439.2 53.7ZM430.8 48L432.7 52.2L435.7 48ZM419.6 88.8L417 92.4L413.6 89.7L415.1 88.7L419.6 88.8Z"/>
<path fill="#6c3ccc" stroke="#6c3ccc" stroke-width=".35" d="M428.6 93.6L427.7 95.1L428.1 95.5L430.9 96.9L431.1 95.1L429.4 93.6ZM441.2 74.9L441.3 74.4L444.2 75.2L444.6 76.5L443.9 77.3L441.2 75.7Z"/>
<path fill="#e484c0" stroke="#e484c0" stroke-width=".35" d="M459.8 77.2L460.2 75.8L462.9 76.5L464.3 79L463.6 79.7L460 79.1ZM422 91.1L420.6 93.4L419.3 92.9L420.7 89.6ZM456 52.9L458.8 51.9L459.4 50.3L455 49.9L455.6 52.9ZM466 87.1L465.1 86.4L465 83.6L466 83.5ZM459.8 77.2L460.2 75.8L460 75.6L459.1 76.2L457.2 78.5L458.1 79.1L458.2 79.1ZM439.8 49.6L439.8 48L442.8 48L444 49.9L444.8 51.5L444.6 51.8L441.9 52.9L441.2 52.6L439.9 50.5Z"/>
<path fill="#f09cc0" stroke="#f09cc0" stroke-width=".35" d="M451.4 52.6L455.2 53.3L455.6 52.9L455 49.9L454.2 48.8L453.5 48L451.2 48L450.8 49L450.7 49.3L451 52.3ZM448.9 54.6L449.7 53.6L447.3 51.5L446.2 52.2L447.1 54.5ZM424.7 55.1L423.5 54.8L424.8 50.7L427.2 53.6ZM416.6 58.6L416.3 58.5L414.3 60.1L416.2 61.2ZM460.3 55.4L458.8 51.9L459.4 50.3L460.9 49.1L461.4 49.7L461.5 55.1L460.8 55.4ZM415.1 64.4L414.9 64.2L413 64.5L413 70.2L413 70.2L416.4 68L416.5 67.7ZM421.2 66.9L421.7 66.6L423.9 63.9L421.7 62.4L419.1 63.3L419 65L421.1 66.8ZM463.4 80.1L459.4 82.3L460.4 80.5L463.4 80ZM447.1 54.5L446.2 52.2L444.8 51.5L444.6 51.8L442.9 55.6L442.8 56.4L444.5 57.6L445 57.5ZM456.7 83.3L458.4 82.3L458 81.8L455.9 81.2L455.2 81.6L455.8 83.2ZM463.9 73.5L464 73.4L466 73.3L466 79.1L464.3 79L462.9 76.5Z"/>
<path fill="#6c30cc" stroke="#6c30cc" stroke-width=".35" d="M450.2 91.1L451 93.9L449.6 94.1L449.1 93.7L448.5 90.4L448.5 90.3ZM417.8 61.8L416.7 61.9L416.2 61.2L416.6 58.6L417.8 58.2L418.5 60.6Z"/>
<path fill="#cc6ccc" stroke="#cc6ccc" stroke-width=".35" d="M433.9 71.2L432.9 68.6L433 68.5L436.6 68.7L436.7 68.8L436.9 69.1L436.5 69.8ZM448 68.4L448 68.9L448.6 69.3L449.2 69.4L449.5 69.4L448.9 68ZM455.8 67.6L455.5 70.9L454.6 71L453.8 68.3L453.8 67.8Z"/>
<path fill="#a854d8" stroke="#a854d8" stroke-width=".35" d="M452.5 94L452.8 91.6L451.6 91L450.6 91.1L450.2 91.1L451 93.9L452.4 94.5ZM440.9 72.5L441.3 74.4L444.2 75.2L445 73.6L443.1 72.8ZM450.5 69.5L449.5 73.7L449.8 73.9L450.5 74L452.4 73.7L452.9 73L453.1 72.5Z"/>
<path fill="#4818a8" stroke="#4818a8" stroke-width=".35" d="M450 58.6L448.9 61L449.8 62.2L451 62.5L452.2 61.5L452.7 58.7L452.2 57.9L451.8 57.8ZM430.9 96.9L430.9 97L425.7 97L428.1 95.5ZM430.4 58.3L430.6 54.6L431.4 54.4L431.8 54.7L433 58.2L431 58.9ZM425.2 92.3L425.3 92.8L424.1 96.5L421.6 95.4L421.4 95.2L423.6 92ZM437.6 66.8L436.7 68.8L436.9 69.1L439.1 69.7L441.4 65.3L440.8 65.3ZM449.4 66.4L450.3 66.6L450.7 69.3L450.5 69.5L449.5 69.4L448.9 68Z"/>
<path fill="#c06ccc" stroke="#c06ccc" stroke-width=".35" d="M431 58.9L433 58.2L433.4 58.4L433.4 60.5L432.7 61.6L431.2 60.8ZM466 53L463.3 53L463.2 50.7L466 50.9Z"/>
<path fill="#5430c0" stroke="#5430c0" stroke-width=".35" d="M433.7 71.6L436.1 71.9L436.5 69.8L433.9 71.2Z"/>
<path fill="#6c3cd8" stroke="#6c3cd8" stroke-width=".35" d="M448.4 89.4L448.5 90.3L448.5 90.4L447.1 91.6L444.8 91.6L444.6 91.5L444.5 91.4L445 88L445.4 87.1L446.4 86.5L447.1 87ZM438.2 75.9L441.2 74.9L441.2 75.7L440 78.7L439.7 78.6L438 76.3ZM429.7 58.5L428.2 57.5L427.9 56.9L428 56.5L429.1 54.5L430.6 54.6L430.4 58.3ZM459.4 86.7L455.8 87.4L455.2 88.4L456.4 90.3L458 90.7L460.5 88.8ZM437.5 90.1L437.9 90.9L437.9 91.3L436.5 92.6L435.4 92.8L434.2 88.8Z"/>
<path fill="#4824b4" stroke="#4824b4" stroke-width=".35" d="M441.1 89L441 86.6L445.4 87.1L445 88L441.9 90.2ZM466 67.4L463.9 68L461.3 69.1L463.4 71.3L466 70.3ZM426.1 91.2L426 91.5L425.2 92.3L423.6 92L422 91.1L420.7 89.6L420.5 89.3L422.6 88.1Z"/>
<path fill="#fce490" stroke="#fce490" stroke-width=".35" d="M460.2 61.4L464.2 63L463.1 64.4L460.9 66.4L460.4 65.5L459.7 63.7L459.4 62.3L459.6 61.4Z"/>
<path fill="#f0b4b4" stroke="#f0b4b4" stroke-width=".35" d="M419.1 71L417.1 71.4L413 70.2L416.4 68L418.1 68.8L419.8 69.8L419.6 70.6ZM414.1 80.7L413 80.7L413 85.3L415.3 85.4L416.8 84.2L416.7 82.3ZM460.9 49.1L460.9 48.5L461 48L466 48L466 50.9L463.2 50.7L461.4 49.7Z"/>
<path fill="#c06cd8" stroke="#c06cd8" stroke-width=".35" d="M447.3 51.5L450.7 49.3L450.8 49L444 49.9L444.8 51.5L446.2 52.2ZM447.4 93.9L449.1 93.7L448.5 90.4L447.1 91.6L447.1 93ZM434.5 79.6L431.9 81.6L432.4 82.4L435.6 82L436.3 81.5L436.4 79.7L435.8 79.1Z"/>
<path fill="#7848e4" stroke="#7848e4" stroke-width=".35" d="M453.2 67.4L451.4 69.2L452.4 69.7L453.8 68.3L453.8 67.8ZM450 58.6L448.9 61L448.5 60.9L445.3 57.7L448.7 57.5ZM452.5 94L455.1 92.4L453.8 97L453.5 97L452.4 94.5Z"/>
<path fill="#b460d8" stroke="#b460d8" stroke-width=".35" d="M440.1 60.4L439.8 57.1L439.5 57.1L436.5 58.8L436.6 60.1L436.8 60.6L440.1 60.5ZM428.6 93.6L427.7 95.1L425.3 92.8L425.2 92.3L426 91.5L427.2 91.6ZM443.3 64.4L443.9 63.3L444.3 58.3L440.1 60.4L440.1 60.5L441.2 62.9L442.8 64.3ZM422.3 77.9L424.4 73.8L427.4 76.7L425.3 78.5L423.1 79ZM452.4 69.7L454.1 71.3L453.1 72.5L450.5 69.5L450.5 69.5L450.7 69.3L451.4 69.2Z"/>
<path fill="#5424b4" stroke="#5424b4" stroke-width=".35" d="M418.6 53.4L417.2 53.5L413 51.3L413 50.7L418.8 50.4L419.2 52.8ZM433.7 88.5L433.2 88.6L433.1 90.2L433.2 92.6L435 93L435.4 92.8L434.2 88.8Z"/>
<path fill="#3c1890" stroke="#3c1890" stroke-width=".35" d="M435.6 82L435.8 85L436.1 85L439.4 83.1L436.3 81.5ZM452.3 65.2L453.2 67.4L451.4 69.2L450.7 69.3L450.3 66.6Z"/>
<path fill="#a860d8" stroke="#a860d8" stroke-width=".35" d="M441.1 89L437.9 90.9L437.9 91.3L440.5 92.9L442 90.6L441.9 90.2ZM437.6 66.8L437.5 64.7L440.8 65.3Z"/>
<path fill="#f09cb4" stroke="#f09cb4" stroke-width=".35" d="M458.1 79.1L458 81.8L455.9 81.2L456.3 78.4L457.2 78.5ZM456.7 84.2L459.6 86.3L460 85.5L458.8 82.7L458.4 82.3L458.4 82.3L456.7 83.3ZM451 52.3L450.7 49.3L447.3 51.5L449.7 53.6ZM458 65.6L460.4 65.5L459.7 63.7Z"/>
<path fill="#9c54e4" stroke="#9c54e4" stroke-width=".35" d="M448.7 57.5L445.3 57.7L445 57.5L447.1 54.5L448.9 54.6L449.3 55.3Z"/>
<path fill="#b46cd8" stroke="#b46cd8" stroke-width=".35" d="M432.5 77.1L434.1 76.6L435 77.3L432.7 78.9L431.6 79.4L431 78.4Z"/>
<path fill="#fcf090" stroke="#fcf090" stroke-width=".35" d="M418.6 53.4L419.2 52.8L421.3 52L423.1 54.9L422.9 55.1L419.2 54.2ZM416.9 75.6L417.1 71.4L413 70.2L413 70.2L413 74.3L415.8 75.6ZM423.1 54.9L423.5 54.8L424.8 50.7L424.2 49.3L423.6 48.3L421.3 52Z"/>
<path fill="#8448e4" stroke="#8448e4" stroke-width=".35" d="M455.1 84.6L454.7 85L452.5 83.4L453.9 81.6L455.2 81.6L455.8 83.2ZM452 88.4L451.4 86.4L451.2 86.2L447.1 87L448.4 89.4L451.7 88.6ZM413 85.3L415.3 85.4L415.1 88.7L413.6 89.7L413 89.9Z"/>
<path fill="#6030c0" stroke="#6030c0" stroke-width=".35" d="M447.5 72.9L446.9 72.6L445 73.6L444.2 75.2L444.6 76.5L446.3 76.7L448.1 73.4Z"/>
<path fill="#f0b4a8" stroke="#f0b4a8" stroke-width=".35" d="M461.4 49.7L463.2 50.7L463.3 53L461.6 55.2L461.5 55.1Z"/>
<path fill="#783ce4" stroke="#783ce4" stroke-width=".35" d="M426 70.7L426.1 70.7L428.4 67.2L428.4 66.8L426 64L424.6 68.5Z"/>
<path fill="#3c189c" stroke="#3c189c" stroke-width=".35" d="M439.4 83.1L436.1 85L437.3 86.5L440.3 85.7L439.6 83.1Z"/>
<path fill="#0c000c" stroke="#0c000c" stroke-width=".35" d="M435.8 70.5h1v1.4h-1zM426.6 69.6h1.3v0.9h-1.3zM424.9 95.9h1.6v0.7h-1.6zM448.7 89.7h1.1v1.5h-1.1zM439.8 85.6h1v0.8h-1zM451.6 91.3h0.8v1.2h-0.8zM423.7 63h1.3v1.6h-1.3zM455 64h0.6v0.9h-0.6zM436.3 89h1.1v1.2h-1.1zM422.1 70.6h0.8v0.6h-0.8zM456.9 86.4h1v0.8h-1zM433.8 64.2h0.7v1.1h-0.7zM438.7 90.6h1.1v1.2h-1.1zM449.6 64.8h1.3v1.1h-1.3zM432 52.7h1.2v1.5h-1.2zM418.4 86.4h1.3v1.1h-1.3zM429.1 60.9h1.5v0.9h-1.5zM429.2 57.1h1.4v1.5h-1.4zM454.8 85.6h0.9v1.3h-0.9zM431.4 63.7h0.7v0.8h-0.7zM449.7 60.9h1.3v1.5h-1.3zM430.3 89.3h1v1.5h-1zM435.7 94.3h0.9v1.3h-0.9zM450.1 92.8h0.9v1.6h-0.9zM430.8 67.1h1.2v1.1h-1.2zM426.1 72.7h1.1v0.8h-1.1zM427 60.6h0.8v1.4h-0.8zM441.1 95.1h0.9v1.1h-0.9zM424.2 81.4h0.7v0.9h-0.7zM427.6 79h0.7v0.8h-0.7zM442 65h1.3v0.7h-1.3zM413.8 50h1.4v0.8h-1.4zM445.4 77.7h1.2v1.2h-1.2zM435.2 94.3h0.7v0.8h-0.7zM439.5 78.3h1.3v1.2h-1.3zM438.4 52.7h1v1.4h-1zM455.9 60.5h1v1.3h-1zM439.6 89.1h0.9v1.6h-0.9zM437 70.7h1.1v1.5h-1.1zM442.3 56.7h1.5v1.1h-1.5zM442.3 74.1h1.1v1.6h-1.1zM464.6 66.1h0.7v0.9h-0.7zM426.8 93.3h0.9v1.4h-0.9zM424.3 63.8h1.2v0.9h-1.2zM452.7 55.9h1v1.4h-1zM452.6 58.6h0.7v1.2h-0.7zM442.9 79.3h1.6v1.3h-1.6zM439.6 66.7h1.5v1.3h-1.5zM428.9 70.1h1.6v1.4h-1.6zM430 86.7h1.4v1.3h-1.4zM451.5 95.7h0.7v0.8h-0.7zM440.9 61h1v0.6h-1zM441.3 73.7h0.9v1.3h-0.9zM445.5 62.4h1.4v1h-1.4zM432.6 74.7h1.1v0.8h-1.1zM428.7 73.1h1.2v1h-1.2zM425.1 60.2h0.9v0.7h-0.9zM439.2 82.7h0.9v1.5h-0.9zM444.1 84.4h0.8v0.9h-0.8z"/>
<path fill="#5424b4" stroke="#5424b4" stroke-width=".35" d="M440.8 73.4h0.9v0.7h-0.9zM441.6 83.4h0.9v1.3h-0.9zM456.8 85.5h1.6v0.7h-1.6zM441.1 77.3h0.7v1.5h-0.7z"/>
<path fill="#9c9ca8" stroke="#9c9ca8" stroke-width=".35" d="M446.9 75.7h0.6v0.8h-0.6zM453.6 66.2h0.9v1.4h-0.9zM440 64.6h1v1.2h-1zM434.5 79.6h0.7v0.9h-0.7zM428.7 96h1v0.7h-1zM447.6 79.5h1.2v0.7h-1.2zM445.8 78.1h1.5v1.4h-1.5zM425.4 68.6h1.5v1.4h-1.5zM450.2 78.1h1.3v0.6h-1.3zM415.7 54.2h1.1v1.3h-1.1zM452 78.2h0.9v1.5h-0.9zM412.8 53.4h1.5v0.8h-1.5z"/>
<path fill="#6030cc" stroke="#6030cc" stroke-width=".35" d="M429.7 94.5h0.8v1.2h-0.8zM453.8 63.7h0.7v1.1h-0.7zM425.6 80.4h1.6v1.2h-1.6z"/>
<path fill="#f09cb4" stroke="#f09cb4" stroke-width=".35" d="M446.4 48.1h1.5v1.4h-1.5z"/>
<path fill="#f0cca8" stroke="#f0cca8" stroke-width=".35" d="M455.1 79.2h1.2v1.2h-1.2zM419.5 82.9h0.6v0.8h-0.6zM460.3 83.2h1.2v1.1h-1.2zM460.6 91.1h0.8v1h-0.8zM421.2 59.1h1.1v0.7h-1.1zM465.1 69.7h1v0.7h-1z"/>
<path fill="#6c30cc" stroke="#6c30cc" stroke-width=".35" d="M446.7 95.8h1.3v0.9h-1.3z"/>
<path fill="#f09cc0" stroke="#f09cc0" stroke-width=".35" d="M437 52.6h1.3v1.5h-1.3zM421.9 68.3h1.4v1.3h-1.4zM418.4 68.7h1.3v1h-1.3zM421.5 81.6h1.3v0.7h-1.3zM457.9 55.6h0.9v1.5h-0.9zM420.9 74.9h0.8v1.2h-0.8zM462.1 70.4h1.5v1.6h-1.5zM456.7 89.6h0.7v1.2h-0.7zM437.4 51h1.4v1.4h-1.4zM413 53h1.4v1.4h-1.4zM413.6 89.6h1.1v1h-1.1z"/>
<path fill="#4824a8" stroke="#4824a8" stroke-width=".35" d="M416.4 87.2h1.6v1.6h-1.6z"/>
<path fill="#f0b4b4" stroke="#f0b4b4" stroke-width=".35" d="M418.6 49h0.7v0.6h-0.7zM412.8 71.4h1.5v1.5h-1.5zM416.3 67.6h0.9v1.2h-0.9zM456.4 93.7h0.6v1.3h-0.6zM461.7 94.7h1.4v1.4h-1.4zM454.9 61.9h1.1v1.5h-1.1zM452.5 54.1h1.1v1.5h-1.1zM416.8 68.1h0.7v0.8h-0.7zM420.6 59.4h1v0.9h-1zM440.5 54h1.3v1.2h-1.3z"/>
<path fill="#6030c0" stroke="#6030c0" stroke-width=".35" d="M433.1 71.9h1.1v1.5h-1.1zM448.4 81.5h1.4v0.9h-1.4zM424.9 90.3h1.3v1h-1.3z"/>
<path fill="#a860d8" stroke="#a860d8" stroke-width=".35" d="M423.3 71.3h1v1.5h-1zM441.9 62.1h1.2v1h-1.2zM422.6 60.1h1.5v1.5h-1.5zM431.3 76.5h1.2v1h-1.2z"/>
<path fill="#f0c0a8" stroke="#f0c0a8" stroke-width=".35" d="M457.4 70.7h0.9v1.1h-0.9zM460.3 52.1h1.2v1.3h-1.2zM462.5 96.3h1.5v0.9h-1.5zM462.1 81.4h1.5v1.4h-1.5zM464.2 93.3h0.9v0.8h-0.9zM460.9 80h1v0.8h-1zM457 53.7h1.1v1.4h-1.1zM464.3 63.9h1.4v1.5h-1.4z"/>
<path fill="#f0d89c" stroke="#f0d89c" stroke-width=".35" d="M462.9 89.9h0.8v0.9h-0.8zM458.3 48.3h1.1v1.2h-1.1zM414.5 72.1h1.1v1.2h-1.1zM421.3 53.8h1.3v1.5h-1.3zM422.7 53.2h1.6v1.5h-1.6zM455.2 60.9h0.8v1.3h-0.8zM463.8 78.6h1.3v1.1h-1.3zM422.5 82.9h1v1.4h-1zM463.6 62.5h0.7v1.4h-0.7zM432.5 52h1.1v0.7h-1.1zM465.7 88.5h0.6v1.2h-0.6zM457.5 83.7h1.3v0.7h-1.3zM416.6 78.2h1.2v1h-1.2zM461.8 78.7h0.9v0.9h-0.9z"/>
<path fill="#e490c0" stroke="#e490c0" stroke-width=".35" d="M457.4 73.2h0.8v1.3h-0.8zM459.7 73.2h1.5v1.4h-1.5zM417.4 64.3h0.8v1.3h-0.8zM414.8 47.7h1.1v0.8h-1.1zM421.9 78.9h0.9v0.6h-0.9zM459.6 96.2h1.5v0.8h-1.5zM420.5 94.7h1.5v0.7h-1.5zM454.9 89.1h1.2v0.9h-1.2z"/>
<path fill="#fce49c" stroke="#fce49c" stroke-width=".35" d="M459 96h0.8v1.4h-0.8zM455.7 53.9h1.4v1h-1.4z"/>
<path fill="#8448e4" stroke="#8448e4" stroke-width=".35" d="M438.3 68.5h1.4v1.1h-1.4zM432.1 85h1.1v1.2h-1.1zM441.1 73.5h0.8v0.8h-0.8z"/>
<path fill="#e484cc" stroke="#e484cc" stroke-width=".35" d="M442.5 54.4h0.7v0.8h-0.7zM460.3 81.4h1.4v1.2h-1.4z"/>
<path fill="#4818a8" stroke="#4818a8" stroke-width=".35" d="M455.7 72.6h0.7v0.8h-0.7zM433.5 65.2h1.3v0.8h-1.3zM430.9 57h1.5v0.7h-1.5zM422.9 95.9h1.4v0.7h-1.4z"/>
<path fill="#fcd89c" stroke="#fcd89c" stroke-width=".35" d="M462.2 53.5h1.4v1.2h-1.4zM415.7 72.3h1.2v0.7h-1.2zM457.2 67.3h0.7v1h-0.7z"/>
<path fill="#f0a8b4" stroke="#f0a8b4" stroke-width=".35" d="M459.6 71.8h0.7v1.6h-0.7zM417.5 74.1h1.4v0.9h-1.4zM431.1 54.2h1v1h-1zM462.7 88.7h0.9v0.8h-0.9zM413.5 57h1.1v0.8h-1.1zM457.3 91.7h1.5v0.9h-1.5zM412.7 78.5h1.5v0.8h-1.5zM412.4 50.2h1.5v1.4h-1.5z"/>
<path fill="#5430c0" stroke="#5430c0" stroke-width=".35" d="M442.4 65.6h0.9v1.3h-0.9z"/>
<path fill="#3c189c" stroke="#3c189c" stroke-width=".35" d="M434.5 74.1h1.5v1.5h-1.5zM440.2 90.3h0.7v0.9h-0.7zM422.9 94.6h1.2v1.4h-1.2z"/>
<path fill="#fcf090" stroke="#fcf090" stroke-width=".35" d="M463.5 95.9h0.8v1h-0.8zM463.1 74.6h0.6v1.5h-0.6z"/>
<path fill="#9048e4" stroke="#9048e4" stroke-width=".35" d="M440.9 83.2h1.5v1.4h-1.5z"/>
<path fill="#e484c0" stroke="#e484c0" stroke-width=".35" d="M447.6 48.1h1.1v1.2h-1.1zM414.4 86.4h0.7v1h-0.7zM460.7 86.6h1.3v1.6h-1.3zM465 91.3h1.4v1.2h-1.4z"/>
<path fill="#f0b4a8" stroke="#f0b4a8" stroke-width=".35" d="M419 66.6h1.4v1.1h-1.4zM413.2 62.2h0.6v1.3h-0.6z"/>
<path fill="#3c1890" stroke="#3c1890" stroke-width=".35" d="M428.4 59.5h1.1v1.5h-1.1zM451.9 68h0.9v0.6h-0.9z"/>
<path fill="#7848e4" stroke="#7848e4" stroke-width=".35" d="M427.3 94.6h1.1v1.3h-1.1zM430.3 82h1.6v1.2h-1.6z"/>
<path fill="#48189c" stroke="#48189c" stroke-width=".35" d="M416.1 96h1v1.4h-1z"/>
<path fill="#783cd8" stroke="#783cd8" stroke-width=".35" d="M434.4 68.5h0.8v0.7h-0.8zM451 96.2h1.4v0.9h-1.4zM415.7 94.1h1.1v0.9h-1.1z"/>
<path fill="#5424c0" stroke="#5424c0" stroke-width=".35" d="M443 72.1h1.2v1.5h-1.2zM444.1 58.7h0.8v0.9h-0.8zM452.9 79.1h0.9v0.6h-0.9z"/>
<path fill="#6c3ccc" stroke="#6c3ccc" stroke-width=".35" d="M437 66.4h1.5v1.2h-1.5zM427.5 75.8h0.7v0.7h-0.7z"/>
<path fill="#6c3cd8" stroke="#6c3cd8" stroke-width=".35" d="M425 80h1.3v1.2h-1.3zM434.7 93.3h1.1v1.1h-1.1z"/>
<path fill="#783ce4" stroke="#783ce4" stroke-width=".35" d="M449.7 83.6h1.5v1.5h-1.5z"/>
<path fill="#b460d8" stroke="#b460d8" stroke-width=".35" d="M438.9 65.1h1.4v1h-1.4z"/>
<path fill="#4824b4" stroke="#4824b4" stroke-width=".35" d="M446.7 83.6h1.5v0.8h-1.5z"/>
<path fill="#9054e4" stroke="#9054e4" stroke-width=".35" d="M453.6 86.6h1v0.8h-1z"/>
<path fill="#9c54d8" stroke="#9c54d8" stroke-width=".35" d="M449.6 57.8h0.7v1.5h-0.7z"/>
</g>
<rect x="415" y="49.5" width="48" height="6" fill="#fff"/><rect x="417" y="51.6" width="40" height="1.2" fill="#9a9a9a"/>
<polygon points="186,122.2 199,120.3 212.7,136.5 218.3,135.6 223.4,150 209,160.6 201.6,152.7" fill="#d8632a"/>
<g clip-path="url(#agclip)"><rect x="185" y="120" width="40" height="42" fill="#c9d84a"/>
<path fill="#6cb43c" stroke="#6cb43c" stroke-width=".35" d="M198.4 145.7h1.5v2.3h-1.5zM217.5 136.9h1.1v2.1h-1.1zM194.9 143.6h2.4v1.5h-2.4zM208.3 131.6h2v2h-2zM195.1 126.7h2.2v1.5h-2.2zM210 129.6h1.9v1.5h-1.9zM205.9 141.1h1.2v1.1h-1.2zM189.6 119.4h1.9v1.9h-1.9zM214.8 125.1h1.6v1h-1.6zM217 144.2h1v2.5h-1zM205.7 153.7h2.4v2.1h-2.4zM219.9 122.9h2.4v1.5h-2.4zM195.6 120.2h1.3v1.8h-1.3zM205.5 141.5h1.9v2.1h-1.9zM218.3 126.1h1.2v1.4h-1.2zM216.2 157.6h1.1v2.1h-1.1zM191.1 159.2h2.2v1.7h-2.2zM198.6 131.6h1.9v1.6h-1.9zM203.6 157.4h1v1h-1zM202.7 148h2v1.6h-2zM193.5 150.3h2v2h-2zM219.7 154.2h1.7v1.9h-1.7zM212.5 154.3h1.1v1.9h-1.1z"/>
<path fill="#9ccc48" stroke="#9ccc48" stroke-width=".35" d="M214.1 137.9h2.1v1.4h-2.1zM219.4 127.1h1.8v1.9h-1.8zM200.2 131.6h2.4v1.7h-2.4zM200.4 122.4h1.4v1.1h-1.4zM200.1 137.5h1.9v1.2h-1.9zM186.2 157.7h1.8v1.4h-1.8zM202.8 134.5h1.3v1.9h-1.3zM212.8 158.5h2.4v1.2h-2.4zM199.3 145.2h2.1v1.6h-2.1zM212.1 155.5h2.2v1h-2.2zM192 134.5h1.2v2.2h-1.2zM194.1 147.1h1.4v2.3h-1.4zM218 120.9h2.1v2.2h-2.1zM208.7 144h2.4v2.5h-2.4zM211.5 139.7h1.4v1.3h-1.4zM212.7 130.2h1.5v1.4h-1.5zM189 121.6h2.4v2.1h-2.4zM217.6 154h1.5v1.5h-1.5zM186.3 137.1h1.5v2.1h-1.5zM208 128h1.8v1.4h-1.8zM203.3 118.9h2.2v2.4h-2.2zM205.5 128.7h1.9v1.5h-1.9zM195.4 157.2h1.9v2.5h-1.9zM206.5 130.9h2.3v1.4h-2.3zM199.3 123.8h2v2.2h-2z"/>
<path fill="#b4d854" stroke="#b4d854" stroke-width=".35" d="M192.4 159.8h1.6v1.9h-1.6zM208.9 134.4h1.5v1.6h-1.5zM192.1 149h2.4v1.3h-2.4zM213.1 150.9h1.3v2h-1.3zM214.9 145.4h1.8v1h-1.8zM215.5 132.9h2v2.3h-2zM184.9 147h1.8v2h-1.8zM185.5 131.9h1.2v2.4h-1.2zM201.6 135h2.2v1.9h-2.2zM188.9 126.6h1.5v1.4h-1.5zM214.2 152.9h1.7v2h-1.7zM193.2 133.6h1v1.1h-1zM216.1 123.3h2v2h-2zM207.2 160.7h1.6v1.5h-1.6zM216.9 126.2h2.4v1.6h-2.4zM197.3 151.2h2.3v2.4h-2.3zM193.1 156.9h1.4v1.8h-1.4zM194.4 152.5h2.2v1.9h-2.2zM196.3 136.5h2.2v1.9h-2.2zM203.9 133.7h2.3v1.3h-2.3z"/>
<path fill="#a8cc48" stroke="#a8cc48" stroke-width=".35" d="M191.4 130.3h2.3v1.5h-2.3zM189.4 140.6h1.3v2.4h-1.3zM193.5 148.4h1.5v2.4h-1.5zM197.3 125.8h2.3v1.7h-2.3zM217.3 124.1h1v1.7h-1zM223.3 153.9h1.3v1.9h-1.3zM223.4 148.9h1.1v1.3h-1.1zM216.8 147.2h2v2.1h-2zM220.7 144.5h1.3v1.8h-1.3zM222.6 135h2v1.4h-2zM210.1 127.6h2.4v2.2h-2.4zM203.7 142.1h1.3v1.1h-1.3zM197.2 134.6h1.4v1.4h-1.4zM207 159.2h1.5v2.3h-1.5zM207.1 127.9h1.7v2h-1.7zM214.3 133.5h2.3v1.4h-2.3zM185.4 134.2h1.7v2h-1.7zM218.8 152.8h2.4v1.5h-2.4zM199.8 154h1.3v1.9h-1.3zM203.3 128h1.7v1.6h-1.7zM211.5 138.9h1.8v1.1h-1.8zM185.9 155.1h2.2v1.5h-2.2zM214.1 127.9h2.1v1.1h-2.1zM214.8 138.3h1.6v1.6h-1.6z"/>
<path fill="#e4e454" stroke="#e4e454" stroke-width=".35" d="M196.8 133.4h1.9v1.7h-1.9zM213.2 153.5h1.8v2.2h-1.8zM204.9 160h1.8v2.3h-1.8zM189.4 128.1h1.8v1.2h-1.8zM207.5 142.5h1.2v1.2h-1.2zM214.5 139.7h1.2v2.2h-1.2zM192.2 157.5h2v2.2h-2zM223.8 121.5h2.4v2h-2.4zM203.3 123.9h1.1v1.1h-1.1zM192.6 147h1.1v1.2h-1.1zM186.8 136.7h2.4v1.9h-2.4zM198 134.1h1.9v1.1h-1.9zM204.9 124.5h1.7v2.1h-1.7zM223.1 136.3h1.2v1.6h-1.2zM205 155.7h1.7v2.4h-1.7zM188.2 132.1h2.4v2.2h-2.4zM206.5 143h2.3v2.2h-2.3z"/>
<path fill="#90c03c" stroke="#90c03c" stroke-width=".35" d="M188.1 140.5h2.1v1.6h-2.1zM209.1 134.5h1.5v1.4h-1.5zM218.2 135.6h2.1v1.5h-2.1zM190.2 121.9h1.1v2.5h-1.1zM191.2 130.4h1.2v1.3h-1.2zM214.2 126.4h1.5v1.7h-1.5zM195.2 138.1h1.3v2.1h-1.3zM223 142.1h1.4v1.5h-1.4zM201.4 122.4h2v1.6h-2zM202.9 157.4h2.2v1.8h-2.2zM201.1 153.7h2.4v2.4h-2.4zM222.6 141.8h1.1v1.9h-1.1zM201.6 161.3h2.2v1h-2.2zM191 159.2h2.3v1.2h-2.3zM198.4 136.5h2v2.4h-2zM203.1 146.3h1.8v1.4h-1.8zM202.4 131.8h1.2v2.1h-1.2zM218.8 149.3h1.2v1.2h-1.2zM188.7 140.4h1.1v2.3h-1.1zM198.6 132.4h1.7v1.8h-1.7zM200.6 128.1h1.6v1.9h-1.6zM198.7 134.1h1.6v1.8h-1.6zM189 152.9h1.6v2.1h-1.6zM221.7 143.7h1.2v1.2h-1.2z"/>
<path fill="#ccd854" stroke="#ccd854" stroke-width=".35" d="M191.5 158.2h2.3v1.5h-2.3zM184.8 134.3h1.8v1.9h-1.8zM212.2 139.2h1.9v1.3h-1.9zM215.2 149.2h2v1.2h-2zM213.6 154.6h2.4v2h-2.4zM213.8 154.3h1.8v1.7h-1.8zM207.9 142.1h1.7v1.8h-1.7zM220.4 147.3h2.4v2.2h-2.4zM223.5 147.7h1.5v1.8h-1.5zM216.9 130.2h1.3v1.6h-1.3zM209.1 122.1h2v1.8h-2zM218.3 125.3h1.3v1.9h-1.3zM193.5 135.1h2.2v2.4h-2.2zM217.9 122h1.8v2h-1.8zM223 137h2.3v1.6h-2.3zM198.6 139.3h1.3v1.7h-1.3zM196.4 156.5h2v1.5h-2z"/>
<polygon points="204,152 210,147 215,151 210,157" fill="#e0a040"/>
<polygon points="209.5,145.5 212.5,144.5 215,149 212,150.5" fill="#fff" stroke="#e06a2a" stroke-width="0.8"/>
</g>
<defs><linearGradient id="aglg" x1="0" y1="0" x2="0" y2="1"><stop offset="0" stop-color="#1a7a2a"/><stop offset="0.5" stop-color="#e8e040"/><stop offset="1" stop-color="#e01010"/></linearGradient></defs>
<rect x="177.7" y="135.6" width="2.2" height="16.2" fill="url(#aglg)"/>
<rect x="175" y="131.5" width="8" height="1" fill="#888"/>
<path d="M192,153 L192,161 M188,157 L196,157" stroke="#777" stroke-width="0.6"/><path d="M191,157 L192,154 L193,157 L192,160 Z" fill="#333"/>
<rect x="214" y="159.5" width="8" height="0.8" fill="#bbb"/>
<rect x="238" y="113" width="47.5" height="47.5" fill="#8b8476"/>
<path fill="#6c6060" stroke="#6c6060" stroke-width=".35" d="M248.9 124.3h1.2v2.4h-1.2zM246.5 147.6h2.1v2.9h-2.1zM259.5 151.2h1.7v2.2h-1.7zM282.8 130.8h2.6v1.1h-2.6zM283.2 153h2v2.7h-2zM277.6 123.3h2.7v1.6h-2.7zM257.2 136.9h1.5v2.5h-1.5zM270.8 132.1h2.6v1.9h-2.6zM250.5 132.6h2.8v1.3h-2.8zM248.3 119.2h1.3v2.5h-1.3zM260.3 136.8h1.2v1h-1.2zM238.6 129.1h2.6v2.2h-2.6zM270.8 150.1h1.4v1h-1.4zM238.6 130.5h1.1v2.9h-1.1zM267.1 156.3h1.2v2.2h-1.2zM260.7 146.3h2.5v1.9h-2.5zM276.4 121.9h1.8v2.2h-1.8zM245 134.4h2.3v1.4h-2.3zM245.6 151.8h2.5v2.7h-2.5zM277.1 131.3h2.4v2h-2.4zM259.3 147.8h1.7v1.5h-1.7zM265 137h2.2v1.7h-2.2zM260.9 142.1h2.8v2.2h-2.8zM268 150.2h1v2.7h-1zM245.2 149.2h2.1v1h-2.1zM268.7 153.9h2.2v1.2h-2.2zM243.9 149.9h1.8v1.3h-1.8zM278.1 127.8h1.1v2.2h-1.1zM258.8 138.3h1.1v2h-1.1zM273.3 149.3h1.8v2.9h-1.8zM240.8 120.7h2.4v1.1h-2.4zM277.8 136.6h2.3v1.7h-2.3zM255.2 153.2h1.1v2.6h-1.1zM263.3 133.2h2v3h-2zM261 147.1h1v2.4h-1zM244.1 119h1.7v1.9h-1.7z"/>
<path fill="#787860" stroke="#787860" stroke-width=".35" d="M250 159.3h2.9v1.1h-2.9zM247.5 156.8h2.7v1.4h-2.7zM252.2 115h2v2.1h-2zM248.3 155.9h1.8v1.1h-1.8zM280.7 131.6h1.9v2h-1.9zM268.6 151.7h1.2v1.6h-1.2zM252.6 134.1h2.1v1.4h-2.1zM261.2 147.1h2.9v1.4h-2.9zM254.9 155.1h2.5v2.7h-2.5zM248.8 113.8h2.6v2.4h-2.6zM273.5 140.2h1.9v2.6h-1.9zM256.9 140.5h1.8v2.9h-1.8zM283.4 139.4h2.2v1.3h-2.2zM242.8 147.2h2v3h-2zM269.9 153.8h1.8v1.3h-1.8zM249.5 143.2h1.4v1.7h-1.4zM277.3 136.2h2.8v1.2h-2.8zM278 113.6h2.9v2.2h-2.9zM274 114.2h2v3h-2zM270.3 114.5h2.8v2.6h-2.8zM266.7 144h2.2v2.2h-2.2zM276.4 116.9h1.4v2.1h-1.4zM260.2 156.2h1.7v2.7h-1.7zM275.3 140h2.7v2.5h-2.7zM278.7 120.3h1.2v2.8h-1.2zM239.4 114.3h1.4v2.7h-1.4zM256.5 114.6h2.4v1.7h-2.4zM252.8 133.7h2.9v2h-2.9zM241.9 152.3h2.8v2.6h-2.8zM238.5 124.5h2.9v2.8h-2.9zM259.1 114.2h1.5v2.2h-1.5zM237.6 157.9h2.4v2.5h-2.4zM266.9 127.7h2.4v3h-2.4zM249 156h2.4v1.7h-2.4z"/>
<path fill="#a89c90" stroke="#a89c90" stroke-width=".35" d="M246.2 122.5h2.6v1.2h-2.6zM242.6 137.6h1.2v2.8h-1.2zM247.1 127.7h2.3v1.3h-2.3zM259.5 119.8h2.6v1.7h-2.6zM274.9 129.1h1.2v1.1h-1.2zM275 124.1h1.7v2.1h-1.7zM245.6 122.5h1.8v2.9h-1.8zM275.6 138.6h2.2v1.8h-2.2zM250.1 139h1.2v2.8h-1.2zM249.1 122.6h1.3v2.5h-1.3zM240.5 158h1.5v2.5h-1.5zM247.4 114.7h2.1v2.2h-2.1zM238.1 125.6h1.4v2.8h-1.4zM256 144.4h1.8v1.6h-1.8zM238.1 122.1h2v1.9h-2zM276.6 155.8h1.8v2.4h-1.8zM257.6 116.8h1v2.8h-1zM244.1 112.9h1.6v1.3h-1.6zM254.8 153.4h1.4v2.6h-1.4zM253.5 155.1h1.1v3h-1.1zM256.8 113.5h3v2.2h-3zM264.1 145.1h1.7v1.8h-1.7zM260.9 123.5h2.1v3h-2.1zM239.2 153.4h1.6v2.5h-1.6zM271.6 154.6h1.3v3h-1.3zM261.2 136h2.2v2.5h-2.2zM263.1 142.4h1.2v2.6h-1.2z"/>
<path fill="#84786c" stroke="#84786c" stroke-width=".35" d="M252.3 118h1.9v2.6h-1.9zM284.2 143.7h1.1v2.7h-1.1zM278.2 132.8h1.7v2.3h-1.7zM255.8 131.1h1.6v2.4h-1.6zM270.9 123.1h1.8v2.4h-1.8zM270.8 114.8h1.1v1.1h-1.1zM264.8 143.2h1.9v1.9h-1.9zM282.8 151.8h2.6v2.2h-2.6zM248.7 148.5h1.3v1.9h-1.3zM279 124.9h1.4v1.3h-1.4zM277.8 121.9h1v2.3h-1zM245 117h1.4v2.6h-1.4zM283.2 153.8h1.7v1.2h-1.7zM280 153.3h1.4v1.7h-1.4zM271.6 133.9h1.8v2.5h-1.8zM276.5 144.1h3v1.9h-3zM244.9 148.5h2.9v1.6h-2.9zM241.1 155.9h1.6v1.2h-1.6zM273.4 119.6h2.7v1h-2.7zM277.6 147.6h2.6v1.1h-2.6zM283.5 133.9h1.9v2.3h-1.9zM266 120h2.5v2.2h-2.5zM258.2 155.3h2.4v1.2h-2.4zM257.5 122.7h1.5v1.1h-1.5zM282.6 145.1h2.6v1.8h-2.6zM268.8 124.2h2.5v2.8h-2.5zM258.9 153.6h1.1v1.5h-1.1z"/>
<path fill="#9c9084" stroke="#9c9084" stroke-width=".35" d="M280.1 158.5h1.5v1.4h-1.5zM247.5 130.2h1.8v2.2h-1.8zM261.5 115.5h2.2v1.4h-2.2zM254.7 156.5h2.8v1.8h-2.8zM252.1 139.1h2.2v2.3h-2.2zM238.3 150.8h2.5v1.5h-2.5zM282.2 145.5h1.1v1.8h-1.1zM282.3 121h2.5v2.7h-2.5zM261.2 152h2.4v2h-2.4zM256.6 129.6h1.8v2.6h-1.8zM279.6 154.7h1.7v2.8h-1.7zM264.4 124.9h2v2.2h-2zM248.6 151.2h1.5v2.7h-1.5zM245.6 116.1h2.8v2.7h-2.8zM270.8 121h1.7v1.5h-1.7zM274.7 146.6h2.8v1.7h-2.8zM240.1 119.9h2.6v2.9h-2.6zM271.8 141.9h2.6v1.4h-2.6zM244.9 121.3h2.8v1.7h-2.8zM254.4 157.8h1.4v1.1h-1.4zM240.1 138h1.4v1.1h-1.4zM244.6 143.7h1.4v2.9h-1.4zM255.8 148.8h1.7v1.6h-1.7zM249 150.1h2.8v1.9h-2.8zM241.2 153.2h1.2v1.5h-1.2zM249.4 142.6h2.5v2.2h-2.5zM271.5 125.8h1.9v1.9h-1.9zM274.4 154.9h2.1v2.4h-2.1zM243.7 132.1h2.2v2.1h-2.2zM241.8 132h1.7v1.9h-1.7zM256.1 138.8h2.6v2.5h-2.6zM258.3 118.2h2.3v1.6h-2.3zM249.1 122.1h1.4v2.5h-1.4zM242.6 135.9h1.4v3h-1.4zM273.8 131.4h1.3v2.9h-1.3zM257.9 125.2h2.3v1.4h-2.3z"/>
<path d="M239.5,160.5 A22.5,26 0 0 1 284.5,160.5" fill="none" stroke="#5e4e5a" stroke-width="4" stroke-dasharray="2.5 1"/>
<path d="M245.5,160.5 A16.5,19 0 0 1 278.5,160.5" fill="none" stroke="#a39c8e" stroke-width="3.5"/>
<path d="M256,160.5 A7,8 0 0 1 270,160.5" fill="none" stroke="#6f6a60" stroke-width="2"/>
<rect x="278" y="121" width="6" height="6" fill="#6a5a62"/>
<rect x="287" y="113" width="47.5" height="47.5" fill="#16221f"/>
<rect x="294" y="126" width="5" height="31" fill="#3aa060"/>
<path fill="#60cc84" stroke="#60cc84" stroke-width=".35" d="M293.6 133.6h1.3v0.9h-1.3zM294.8 155.9h1v1.1h-1zM296.2 129.5h1.5v1.7h-1.5zM293.7 150h1.7v1.3h-1.7zM297.6 145.6h1.3v1.4h-1.3zM293.3 139.7h1.5v0.8h-1.5z"/>
<path fill="#186030" stroke="#186030" stroke-width=".35" d="M294.2 145.8h1.7v0.8h-1.7zM293.3 139.2h1.7v1.7h-1.7zM294.7 137.1h1v1.2h-1zM293.6 141.4h1v1.4h-1zM295.3 145h0.9v1.8h-0.9z"/>
<path fill="#30843c" stroke="#30843c" stroke-width=".35" d="M297.1 143.2h1.5v1.5h-1.5zM295.8 132.1h1.3v1h-1.3zM294.5 148.2h1.4v1.8h-1.4zM293.8 155.2h1.3v1.3h-1.3z"/>
<path fill="#78e49c" stroke="#78e49c" stroke-width=".35" d="M296.4 134.5h1.2v1.1h-1.2zM297 136.4h1.7v0.8h-1.7zM295.6 143.7h1.2v1.7h-1.2z"/>
<rect x="302" y="124" width="5" height="29" fill="#3aa060"/>
<path fill="#186030" stroke="#186030" stroke-width=".35" d="M304.1 138h0.8v0.9h-0.8zM302 144.7h0.8v1.4h-0.8zM302.5 149.1h1v1.2h-1zM302.9 136.8h1.5v1.4h-1.5zM306.2 148.6h1.3v1h-1.3zM303.3 139.1h1.3v1.8h-1.3z"/>
<path fill="#78e49c" stroke="#78e49c" stroke-width=".35" d="M305.4 125.6h1.3v1.1h-1.3zM303.3 145.3h1.3v0.9h-1.3zM304.6 129.6h1.4v1.3h-1.4zM303.8 133.1h1.6v1.5h-1.6zM304.4 127.3h1.4v1.5h-1.4z"/>
<path fill="#30843c" stroke="#30843c" stroke-width=".35" d="M305.1 136.6h1.1v1.8h-1.1zM306.2 138h0.8v1.2h-0.8zM301.6 147.6h1.2v1.1h-1.2zM303.9 138.5h1.4v1.6h-1.4z"/>
<path fill="#60cc84" stroke="#60cc84" stroke-width=".35" d="M303.9 134.1h1.3v0.9h-1.3zM304.9 131h1.2v1.8h-1.2zM302.7 135h1.8v1.6h-1.8z"/>
<rect x="310" y="126" width="5" height="27" fill="#3aa060"/>
<path fill="#30843c" stroke="#30843c" stroke-width=".35" d="M310.2 144h1.3v0.9h-1.3zM310.9 138.3h1.2v1h-1.2zM311.3 142.8h1.6v0.9h-1.6zM314.1 145.1h1.4v1.3h-1.4zM312.1 138.4h1v1.7h-1zM311.5 147.8h1.5v1.6h-1.5zM311.1 128h1.2v1.3h-1.2zM312 147h1v1.6h-1zM311.2 128.6h1.1v1.1h-1.1z"/>
<path fill="#60cc84" stroke="#60cc84" stroke-width=".35" d="M310.3 130.7h1.3v1h-1.3zM313 146.9h1v1.7h-1zM310.8 131.8h0.9v1.7h-0.9zM313.2 132.2h1.1v1.2h-1.1zM311 138.7h0.9v1.7h-0.9z"/>
<path fill="#78e49c" stroke="#78e49c" stroke-width=".35" d="M311 148.7h1.3v1.7h-1.3z"/>
<path fill="#186030" stroke="#186030" stroke-width=".35" d="M310.9 151.4h1v1h-1zM312.9 140.2h1.6v1.1h-1.6zM312.1 142.9h1.7v1.8h-1.7z"/>
<rect x="318" y="124" width="5" height="25" fill="#3aa060"/>
<path fill="#78e49c" stroke="#78e49c" stroke-width=".35" d="M319.1 135.3h1.5v1.4h-1.5zM318.5 146.6h1v1h-1zM322.2 136.1h1.4v1.2h-1.4zM321.9 142.3h1.1v1h-1.1z"/>
<path fill="#60cc84" stroke="#60cc84" stroke-width=".35" d="M319.1 133.3h0.8v1.2h-0.8zM320.4 125.4h1.6v1.7h-1.6zM319.8 146.2h0.9v1.8h-0.9zM320.4 135.8h1.7v1.1h-1.7zM320.7 130.8h1.7v1.3h-1.7zM317.4 145.9h1.2v1.7h-1.2zM318.9 144.4h1.7v1.4h-1.7zM318.4 148.2h1.7v0.9h-1.7zM319.9 132.3h1.4v1.1h-1.4zM318.1 129.3h1.8v0.8h-1.8zM321.7 126.6h1v1.2h-1z"/>
<path fill="#30843c" stroke="#30843c" stroke-width=".35" d="M321.7 135.8h0.9v1.7h-0.9zM320.1 137.9h1.7v1.7h-1.7z"/>
<path fill="#186030" stroke="#186030" stroke-width=".35" d="M318.8 138h0.9v1.2h-0.9z"/>
<polygon points="323,160.5 334.5,140 334.5,160.5" fill="#2a2a2a"/>
<polygon points="319,160.5 327,150 332,154 326,160.5" fill="#cfcfcf"/>
<line x1="324" y1="123" x2="334" y2="139" stroke="#8aa0a0" stroke-width="0.6"/>
<rect x="344.9" y="114.6" width="47.1" height="46.1" fill="#1f4d2a"/>
<path fill="#306030" stroke="#306030" stroke-width=".35" d="M371.2 127.3h1.6v2.3h-1.6zM361.6 159.5h1.9v1.7h-1.9zM361.7 147h2.3v1.5h-2.3zM365 130h1.6v2h-1.6zM354.6 118.5h1.3v1h-1.3zM348.1 151.4h1.5v1.9h-1.5zM382.7 128.9h1.3v1.1h-1.3zM351.2 155h1v2.4h-1zM378.3 150.8h2.1v1.3h-2.1zM350 124.8h1.5v1.1h-1.5zM359.9 137.2h1.6v1.5h-1.6zM380.1 146.1h2.2v2.1h-2.2zM359.2 155.8h1.2v1.6h-1.2zM374.7 137.9h0.8v1.5h-0.8zM381.7 113.8h1v1.8h-1zM374 127.6h1v2.2h-1zM349.4 146.3h1.6v2.2h-1.6zM350.6 131.7h2.1v2.2h-2.1zM359 119h2.3v2.2h-2.3zM385.7 133.5h1.6v2.3h-1.6zM381.3 115.9h2.2v2.2h-2.2zM349.2 117.8h1.6v1.1h-1.6zM375.2 142.8h1.1v1h-1.1zM371.5 116.1h2.5v1.5h-2.5zM381.6 124.2h1.7v1.1h-1.7zM364.2 126h1.1v1.5h-1.1zM373.3 114.8h1v2h-1zM354 152.3h0.9v2.4h-0.9zM360.7 117.8h1.3v1h-1.3zM386.2 141.6h2.4v1h-2.4zM376.6 114.4h2.4v1.9h-2.4zM349.3 124.8h1.6v0.8h-1.6zM346.6 120.6h2.4v1.3h-2.4zM383.8 152.7h1.7v1.8h-1.7zM361.1 157.4h1.7v0.9h-1.7zM375.1 135.5h1v2.3h-1zM362.5 146.6h2v2.1h-2zM350.7 122.7h2.4v1.3h-2.4zM348.7 150.4h2.4v2.3h-2.4zM386.9 130.7h2.1v1.9h-2.1zM361.3 144.3h1.7v1h-1.7zM388 135.2h1.4v2h-1.4zM390.5 130.2h2.4v2h-2.4zM354.7 155.5h1.8v2.2h-1.8zM375.8 124.1h2.2v1h-2.2zM377.3 152.5h0.8v1.5h-0.8zM385.7 124.4h2.4v1.8h-2.4zM381 115h1.8v2.2h-1.8zM372.2 135.9h1.6v2.2h-1.6zM349.3 121h2.1v1h-2.1zM364.4 148.5h2.2v1.3h-2.2zM382.3 114.2h1.4v1.4h-1.4zM390.6 143.4h2.3v1h-2.3z"/>
<path fill="#60906c" stroke="#60906c" stroke-width=".35" d="M368 121.7h1.7v1.2h-1.7zM344.6 138.1h0.9v1.3h-0.9zM350.6 134.7h1.7v2.1h-1.7zM368.7 148.9h1.4v2.4h-1.4zM356.2 124.6h1v1.6h-1zM373.5 154.5h2v0.9h-2zM361.2 119.1h1.1v0.9h-1.1zM347.1 118.7h1.2v1.1h-1.2zM386.1 146.2h2.3v1.5h-2.3zM383.3 138.8h1v2.5h-1zM382.2 118.1h1.2v1.8h-1.2zM356.7 136.9h1.8v2.1h-1.8zM367.9 137.8h1.4v1.2h-1.4zM369 116.7h0.9v0.9h-0.9zM378.8 141.2h2.3v2h-2.3zM371.2 125.3h0.9v2.1h-0.9zM380.7 132.8h1.2v1.8h-1.2zM368.3 140.1h2.4v1.7h-2.4zM345.7 140.3h1.1v1.1h-1.1zM391.4 114.6h0.8v1.4h-0.8zM351 120.4h1.8v1.8h-1.8zM347.2 117.7h2.1v1h-2.1zM380.7 139.8h2.3v1.2h-2.3zM391 132.9h1.7v2.1h-1.7zM348.5 154.5h2.4v1.4h-2.4zM348 155.1h1v1.3h-1zM384.5 121.9h2.2v1.4h-2.2zM346.3 157.5h0.8v2.5h-0.8zM346.9 145.2h1.8v0.8h-1.8zM390 159.2h2v1.1h-2zM365.6 155.2h1v1.2h-1zM370.8 126h1.7v2.5h-1.7zM351.9 141.1h2v1.8h-2zM356.3 148.1h0.9v2.1h-0.9zM352 120.2h2.3v1.8h-2.3zM356.4 130.4h2.3v0.9h-2.3zM373.9 120.7h2.3v1h-2.3z"/>
<path fill="#183c24" stroke="#183c24" stroke-width=".35" d="M360.5 126.7h1.5v2h-1.5zM345.6 159.9h0.8v1.3h-0.8zM386.6 118.2h2.2v2.4h-2.2zM387.3 121.1h2.3v2.4h-2.3zM366.3 121.1h1.3v0.9h-1.3zM350.2 137h1.5v2h-1.5zM352.1 133.7h2.2v1.3h-2.2zM348.1 113.9h2.1v1.9h-2.1zM352.1 122.8h1.9v1h-1.9zM371.3 125.4h2.1v1.1h-2.1zM355.8 154.3h1.4v1.7h-1.4zM376.8 154.2h1.7v1.6h-1.7zM374.4 122.6h0.9v1.8h-0.9zM378.4 124h1.1v1.9h-1.1zM347.3 153.9h2.5v1.3h-2.5zM358.2 126.6h1.7v1.6h-1.7zM361.1 130.1h1.3v1.1h-1.3zM349.2 130h2.5v1.8h-2.5zM376.9 120.8h2.5v2.5h-2.5zM371.6 156h0.8v1.3h-0.8zM386.4 152.9h1.5v1h-1.5zM385.9 132.2h1.6v0.9h-1.6zM349.6 151.5h1.2v1.8h-1.2zM377.5 118.1h1.5v0.9h-1.5zM376.9 124.1h1.9v1.9h-1.9zM347.9 114.1h0.8v1.2h-0.8zM377.4 153.8h1.7v1.3h-1.7zM383.7 125h1.4v1.2h-1.4zM357.4 147.1h1.9v2.5h-1.9zM388.8 126.9h1v2h-1zM369.2 123.1h1.7v1.4h-1.7zM382 151.1h1.4v2.3h-1.4zM367.2 119.1h2.4v1.1h-2.4zM370.5 143.6h2.4v1.3h-2.4zM351.1 131.4h1.8v1.8h-1.8zM346.2 156h2.2v1.6h-2.2zM389.2 149.8h2.1v2.1h-2.1zM348.7 120.1h0.9v1h-0.9zM373.8 134.1h1v1.2h-1zM372.9 120.5h1v2h-1zM357.9 127.1h0.9v1.9h-0.9zM362.6 121.4h1.1v1.5h-1.1zM376.1 131.9h1.8v1.7h-1.8zM368 156.8h0.9v1.8h-0.9zM370 114.3h1.3v2.1h-1.3zM357.7 128.2h2.5v2.4h-2.5zM363.9 154.9h1.2v1h-1.2zM359.4 140h1.8v2.1h-1.8zM354 153.4h1.7v1.6h-1.7z"/>
<path fill="#3c6c48" stroke="#3c6c48" stroke-width=".35" d="M386.2 142h2.2v1.9h-2.2zM374.8 127h1.5v1.2h-1.5zM384.4 123.9h0.9v1.4h-0.9zM357 132.8h1.2v1h-1.2zM345.7 155.5h1.7v1.9h-1.7zM355.4 117.2h1.6v1.4h-1.6zM354.7 156.5h1.6v1.5h-1.6zM390.5 154.4h1.8v2.5h-1.8zM361.9 114.2h2.3v2h-2.3zM357.6 139.1h2.2v1.8h-2.2zM381.7 121h2.5v2.4h-2.5zM355.2 151.3h2v1.6h-2zM385.1 142.2h2.2v1.6h-2.2zM368.6 149.2h1.3v2.4h-1.3zM387 129.1h0.8v2.5h-0.8zM369.4 146.8h1.8v1.4h-1.8zM388.7 122.7h2.2v1h-2.2zM352.9 142.6h2.4v2.1h-2.4zM348.9 159.8h2.3v1.4h-2.3zM365.1 142.2h2.3v0.8h-2.3zM346.1 135.4h1.7v2.1h-1.7zM383.6 158.4h0.8v2.1h-0.8zM356.6 138.4h2.5v0.9h-2.5zM386.8 114.6h1v1.7h-1zM378.3 135.2h0.9v2.1h-0.9zM389.6 157.2h1.6v0.9h-1.6zM349.3 143.3h2.2v1.9h-2.2zM390.5 126.9h1.4v1.5h-1.4zM359.5 145.2h1.7v0.9h-1.7zM378.6 132.7h1.7v2.2h-1.7zM350.6 139.1h1.8v2h-1.8zM377.8 126.9h1.9v2.1h-1.9zM381.1 146.3h1.8v0.9h-1.8zM388.2 158.8h0.8v1.9h-0.8zM374.8 152.2h1.6v1.3h-1.6zM356.9 120.9h1v1h-1zM368.2 154h1.9v1.7h-1.9zM360.8 146.2h1.1v1.6h-1.1zM371.2 126h1.1v2h-1.1zM348.3 134.2h2v1.8h-2zM350.2 142h2.1v1.8h-2.1zM387.3 117.8h1.3v1.9h-1.3z"/>
<path fill="#306c3c" stroke="#306c3c" stroke-width=".35" d="M359.1 149.6h0.9v0.9h-0.9zM371.1 117.7h1.4v1h-1.4zM363.1 118.7h2.4v1.4h-2.4zM380.4 119h2.1v1.7h-2.1zM363.3 117.3h2v1.6h-2zM360.9 120.5h1.2v1h-1.2zM353.2 116.8h2.1v2.2h-2.1zM351 147.9h1.5v1.7h-1.5zM367.8 119.1h1.4v1.1h-1.4zM386.1 156.7h1.8v0.8h-1.8zM360.7 120.6h1.9v1.6h-1.9zM344.6 152h1.9v2.3h-1.9zM373.2 153.7h1.3v2.1h-1.3zM358.7 121.9h2.2v1.8h-2.2zM354 114.1h2.2v2.1h-2.2zM359.2 147.8h0.8v1.6h-0.8zM348 114.9h1.8v2.3h-1.8zM346.7 128.3h2.1v0.9h-2.1zM353.8 145.8h1.8v2.3h-1.8zM360.3 125.9h2v1.4h-2zM386 137.2h2v1.4h-2zM360.3 156.2h1.4v1.2h-1.4zM375.7 160.3h1.9v0.8h-1.9zM363.2 157.7h2.3v1.8h-2.3zM382.9 118.8h1.1v1h-1.1zM378.6 147.7h1.8v1.3h-1.8zM372.4 124.2h1.7v1.2h-1.7zM358.1 115.5h1.4v2.1h-1.4zM381.4 149.4h2.1v0.8h-2.1zM386.3 114.7h1.8v1.3h-1.8zM362.6 119.3h1.8v1.1h-1.8zM347.5 158.5h1.7v1.9h-1.7zM354.6 123.1h1.8v1.4h-1.8zM356.1 153h1.1v1.7h-1.1zM378.6 131.9h2.3v1.4h-2.3zM379.6 119.2h1.5v1.1h-1.5zM355.2 148.1h2v1.6h-2z"/>
<path fill="#78a884" stroke="#78a884" stroke-width=".35" d="M358.4 142.8h2.1v2.2h-2.1zM360 139.2h1.9v0.9h-1.9zM385.7 150h2v1.4h-2zM350.1 153.4h1.9v1h-1.9zM366.3 139.3h1.6v1h-1.6zM361.3 115.4h1v1.7h-1zM357.7 127.7h2.3v2.3h-2.3zM344.9 131h2.3v1.7h-2.3zM353.2 159.1h2.5v1.1h-2.5zM365.8 120h1.3v1.3h-1.3zM388 126.9h1.4v1.9h-1.4zM364.5 122.1h1.3v1.2h-1.3zM389.7 148.8h2.4v1.7h-2.4zM349.2 146.1h2.2v1.5h-2.2zM381.1 128.6h1v2.4h-1zM370.5 118.2h1v2.5h-1zM361.6 139.2h1.2v1.1h-1.2zM348.6 115.2h1.9v1.3h-1.9zM380.9 126.6h1.3v0.8h-1.3zM364.5 123.3h2.1v2.5h-2.1zM364.4 115.6h0.9v2h-0.9zM373 136.5h2.2v1.8h-2.2zM344 119h2.1v1.8h-2.1zM349.8 114.8h1.2v1.3h-1.2zM352.9 124.4h1.4v1.1h-1.4zM360.1 121.1h1.5v2.4h-1.5zM378.2 114.1h1.6v2.5h-1.6zM367 133.1h2.4v1.4h-2.4zM348.4 135h1.6v1.9h-1.6zM349.4 131.8h1.2v1.4h-1.2zM365.8 124h2.1v1.6h-2.1zM384.7 154.3h1.1v0.9h-1.1zM357.8 127.1h2.4v1.5h-2.4zM373.5 140.2h2.4v1.8h-2.4zM388.3 148.4h2v0.9h-2zM372.4 133.3h1.4v1.5h-1.4zM373.9 122h1.4v1.9h-1.4zM388.4 133.5h1.9v1.8h-1.9zM361.8 120.8h1.5v1h-1.5zM347.7 118.1h1.9v1.7h-1.9zM344.6 156.3h1.8v0.9h-1.8zM386 130.5h1.5v1.9h-1.5z"/>
<polygon points="358,146 362,138 370,135 374,128 378,131 379,142 384,152 376,158 365,157" fill="#0b1d12"/>
<g clip-path="url(#ly791595)">
<rect x="405" y="137" width="63" height="25" fill="#dca070"/>
<path fill="#e49c6c" stroke="#e49c6c" stroke-width=".35" d="M442.9 153.3h1.2v0.9h-1.2zM464.6 146.4h2v1h-2zM405.9 148.8h1.6v1.3h-1.6zM458.1 158.3h2.1v2.1h-2.1zM454.6 143.7h1.8v1.5h-1.8zM408.2 150.6h1.6v1.4h-1.6zM452.7 146.8h1.8v1h-1.8zM415.4 142.2h0.9v1.7h-0.9zM416.6 142.3h0.9v1.5h-0.9zM412.1 159.6h1.8v1.6h-1.8zM426.7 138.1h1v1.1h-1zM412.4 152.2h1.3v2.1h-1.3zM445.3 139.7h2.1v1.5h-2.1zM411.4 152.1h1.5v1.6h-1.5zM413.2 151.1h1.6v0.9h-1.6zM463.9 155.6h0.9v1.6h-0.9zM441.3 155.6h0.8v2.2h-0.8zM452.8 144.4h1.2v2.1h-1.2zM463.7 153h1.6v1.6h-1.6zM429.8 146.2h1.5v1.5h-1.5zM406.6 154.8h1.5v1.8h-1.5zM409 150.9h0.8v1.6h-0.8zM408.3 146.9h0.8v2h-0.8zM411.2 147.8h1.9v1.3h-1.9zM440.4 161.2h1v1.4h-1z"/>
<path fill="#f0cc9c" stroke="#f0cc9c" stroke-width=".35" d="M429.1 143.8h1.3v1.1h-1.3zM421.5 136.8h0.9v0.8h-0.9zM453.2 155.5h2.2v1.8h-2.2zM413.3 144.6h1.4v1.5h-1.4zM436.2 154.6h1v2.2h-1zM420.5 158h1v1.6h-1zM419.1 140.9h2.1v0.9h-2.1zM458.1 148.8h1.7v1.1h-1.7zM464 152.8h1v1.9h-1zM420.8 141.3h1.4v1.4h-1.4zM435.4 155.5h1.6v1.3h-1.6zM463.1 147.1h2.1v2.2h-2.1zM439.8 148.7h2.1v1.4h-2.1zM432.4 151.6h1.1v1.5h-1.1zM436.2 137h0.8v1.3h-0.8zM424 145.2h2v0.9h-2zM438.1 143.3h2v1.4h-2zM407.6 157.4h1.4v1.7h-1.4zM463.8 140.9h1.4v1.9h-1.4zM406.1 138.7h1.9v2.2h-1.9zM464.4 147.6h1.5v1.6h-1.5zM436.4 149.8h1.3v1.7h-1.3zM421.1 145.7h0.9v2.1h-0.9zM451 144.3h1.9v1.9h-1.9z"/>
<path fill="#e4b484" stroke="#e4b484" stroke-width=".35" d="M424.4 161h0.9v1.2h-0.9zM422.4 137.9h1.1v1.9h-1.1zM422.5 155.6h1.2v0.9h-1.2zM442.1 158.3h1.5v1.1h-1.5zM454.6 145h1.3v1.9h-1.3zM432.1 140h1.8v1.1h-1.8zM413 155h2.2v1.1h-2.2zM449.7 137.3h1.3v1.7h-1.3zM433.2 153h1.5v0.8h-1.5zM445.6 146.8h1v1.7h-1zM448.6 159.7h1.7v1.9h-1.7zM447.9 148.7h1.3v1h-1.3zM426.9 153.7h1.2v1.4h-1.2zM433.9 156.1h2v1.1h-2zM414.6 149.4h1.4v0.9h-1.4zM450.7 136.4h1.2v1.3h-1.2z"/>
<path fill="#d89060" stroke="#d89060" stroke-width=".35" d="M428.2 151.4h0.9v1.4h-0.9zM419 139.4h1.7v1h-1.7zM406.5 149.5h0.9v0.8h-0.9zM459.9 152h1.4v1.6h-1.4zM426.8 157.6h1.5v1.1h-1.5zM453.2 144.7h1.1v2.1h-1.1zM442.2 147.5h0.9v0.8h-0.9zM422.4 141.8h1.8v2.1h-1.8zM426.4 141.6h1.9v1h-1.9zM419.6 145.3h0.9v2h-0.9zM410.7 158.6h1.5v1.9h-1.5zM445.4 149.6h2v2h-2zM444.8 157.3h0.9v1.5h-0.9zM423 159.1h1v1.4h-1zM448.6 143.4h1.8v1.8h-1.8zM425.4 136.8h1.6v2.1h-1.6zM405.5 157.9h1.5v1.5h-1.5zM406.7 138.4h1.4v1.9h-1.4zM413.9 156h1.1v1.5h-1.1zM443.5 140.2h0.9v0.9h-0.9z"/>
<path fill="#cc8454" stroke="#cc8454" stroke-width=".35" d="M438.9 151.4h1.8v1.8h-1.8zM449.7 140.4h1.3v1.9h-1.3zM411.7 138.7h1.6v1.8h-1.6zM414.4 146.3h1.5v0.8h-1.5zM463 148.9h2.2v1.5h-2.2zM407.1 145.4h1.2v1.3h-1.2zM458.2 147.9h1.7v0.8h-1.7zM431.8 157.2h1.2v2h-1.2zM435.8 149.8h1.5v1.2h-1.5zM435.1 137.7h2.1v2.1h-2.1zM456.5 136.3h1.3v2h-1.3zM445.9 136.6h2v2.1h-2zM414 150.8h1.1v1.2h-1.1zM449.4 144.2h1.4v1.1h-1.4zM429.2 152.2h1.3v1.8h-1.3zM436.9 153h2v1.8h-2zM429.6 146.1h2.1v1.2h-2.1zM463.1 157.8h1.6v0.8h-1.6zM429.4 152.7h2v1.9h-2zM405.7 157.9h1.6v1.4h-1.6zM464.7 149.7h1.1v2h-1.1zM423.2 138.9h2.2v2.2h-2.2zM454.4 142.7h0.9v1.8h-0.9zM459.7 147.8h2.2v1.1h-2.2zM444.2 142.6h1.9v1.7h-1.9z"/>
</g>
<g clip-path="url(#ly893936)">
<rect x="404" y="131" width="62" height="18" fill="url(#lyg3)"/>
<path fill="#c09c6c" stroke="#c09c6c" stroke-width=".35" d="M443.1 135.9h0.8v1.2h-0.8zM424.8 143.2h0.8v1.7h-0.8zM421 132.8h1.8v1.1h-1.8zM414.5 145.5h1.4v2h-1.4zM425.8 138h1.8v1.2h-1.8zM438.2 146.6h1v1.2h-1zM405 135.1h1.7v1.1h-1.7zM427.7 143.3h1.3v2.2h-1.3zM428.4 147.8h0.9v1h-0.9zM406.6 139.1h1.7v1.7h-1.7zM412.2 144.4h1.7v1.6h-1.7z"/>
<path fill="#90b43c" stroke="#90b43c" stroke-width=".35" d="M444.5 132.4h1.8v1h-1.8zM462.1 146.8h1v1.9h-1zM457.1 134.8h1.1v1.2h-1.1zM458.9 144.3h1.8v1.7h-1.8zM458.2 142.2h1.7v1h-1.7zM458.8 141.1h1.8v1h-1.8zM449 142.3h0.9v1.6h-0.9zM447.2 147.4h1.3v0.9h-1.3zM451.4 146.8h1.6v1.8h-1.6z"/>
<path fill="#78b43c" stroke="#78b43c" stroke-width=".35" d="M464.5 134.8h1.6v1.5h-1.6zM445.7 141.5h1.6v1.1h-1.6zM444.8 147.1h2.1v1h-2.1zM450.6 137h2.1v1.7h-2.1zM457.5 134.3h1.5v1.8h-1.5zM453.6 143h2.1v1.6h-2.1zM461.3 130.5h1.8v1.2h-1.8z"/>
<path fill="#a88454" stroke="#a88454" stroke-width=".35" d="M423.4 138.5h0.9v2.1h-0.9zM431.7 139.6h1.1v2h-1.1zM437.3 142.4h1.2v2.2h-1.2zM438.1 142.7h1.4v1.8h-1.4zM442.3 146.6h1.7v1.6h-1.7zM408.6 133.8h2.1v1.8h-2.1zM440.9 146.3h1.7v1.1h-1.7zM434.5 130.6h1.3v2h-1.3zM409.3 143h2.1v1.3h-2.1zM436.4 143.7h1.5v2.1h-1.5zM428.2 138.2h1.7v1.5h-1.7zM407.8 138.6h2.2v1.2h-2.2zM433.4 141.4h1.2v1h-1.2zM409 138.2h0.9v0.9h-0.9zM410.9 139.5h1.6v1.5h-1.6zM414.6 138.8h2v1.8h-2zM428.2 136.3h1v2h-1z"/>
<path fill="#9ca848" stroke="#9ca848" stroke-width=".35" d="M444.1 148h0.9v1.4h-0.9zM422.5 135.4h1.7v1.8h-1.7zM415 136.1h1.3v1.9h-1.3zM420.8 144.6h0.9v1.2h-0.9zM440 141.2h1.3v1.5h-1.3zM412.2 142h2v1.8h-2zM437.1 136.5h1.9v1.5h-1.9zM418.6 134.2h0.9v1.9h-0.9zM419.6 145.6h1.9v0.9h-1.9z"/>
<path fill="#a8c054" stroke="#a8c054" stroke-width=".35" d="M456.4 133.9h1.1v2.2h-1.1zM444.3 134.6h1.6v1.8h-1.6zM448.5 146.3h1.2v1h-1.2zM450.9 140.3h1.3v1.6h-1.3zM461.8 133.4h1.4v1.9h-1.4zM458.7 136.5h1v0.8h-1zM464.5 146.8h0.9v2.2h-0.9z"/>
</g>
<g clip-path="url(#ly355253)">
<rect x="403" y="122" width="64" height="17" fill="url(#lyg2)"/>
<path fill="#3c6ccc" stroke="#3c6ccc" stroke-width=".35" d="M420.1 135.5h1.8v1.7h-1.8zM403.8 121.7h2.1v2.1h-2.1zM446.5 135.9h1.5v2.1h-1.5zM447.4 132.6h1.8v1.6h-1.8zM421.3 132.5h1.6v1.2h-1.6zM424 135.4h1.4v1h-1.4zM420.1 124.3h2.1v0.8h-2.1zM444.4 131.2h1.8v1.8h-1.8zM416.4 131.3h1.1v1.4h-1.1zM412.2 133.3h1.3v2h-1.3zM443.8 136.7h1.8v1.7h-1.8zM460.6 125.2h1.6v1.2h-1.6zM431.7 127.6h1.4v1.5h-1.4zM430.1 123.6h1.5v1h-1.5zM429.2 122.1h1.2v1.7h-1.2zM461 135.3h2.1v1.7h-2.1zM449.1 127h1.4v1.5h-1.4zM440.6 121.2h0.9v1.9h-0.9z"/>
<path fill="#309cc0" stroke="#309cc0" stroke-width=".35" d="M424.6 133h1v0.9h-1zM430.6 132.5h1.2v1.6h-1.2zM452.5 122h2v2.1h-2zM415.2 130.5h1.2v1.1h-1.2zM416.6 136.1h2v2h-2zM433.9 132.7h1.4v2.1h-1.4zM431.2 134.8h1.9v1.8h-1.9zM444.9 133h1.6v1.4h-1.6zM458.6 121.7h1.8v1.3h-1.8zM409.6 135.8h0.9v1.3h-0.9zM465.8 123.9h1.4v1.9h-1.4zM414.2 121.8h1.3v1.9h-1.3zM462.9 124.3h1.7v1.3h-1.7zM417.3 138.5h2.1v1h-2.1zM412.5 133.1h1.8v1.6h-1.8zM458.5 122.9h1.7v1.5h-1.7zM441.6 123.9h1.4v2.1h-1.4z"/>
<path fill="#3054c0" stroke="#3054c0" stroke-width=".35" d="M455.3 137.4h1.1v1.5h-1.1zM426.3 134.4h1.9v1.1h-1.9zM464.2 124.6h2v1.8h-2zM410.5 131.8h1.9v1.7h-1.9zM423.5 131.7h1.5v1.8h-1.5zM449.2 129.3h1v1h-1zM458.6 127.7h1.5v2.2h-1.5zM423.8 133.2h2v1h-2zM407.2 131.7h1.9v0.8h-1.9zM417.4 130.3h1.7v2h-1.7zM420.3 137.8h2v1.5h-2zM440.7 134.6h1.8v1.1h-1.8zM404.8 127.1h2v1.9h-2z"/>
<path fill="#843c9c" stroke="#843c9c" stroke-width=".35" d="M411.6 137.5h1.9v1.3h-1.9zM420.4 137.4h2v1.9h-2zM413.2 128h1.6v1.3h-1.6zM415.7 132.9h1.4v1.1h-1.4zM453.3 130.2h1.1v1.2h-1.1zM416.7 127.2h0.9v1.9h-0.9zM424.9 134.4h1.4v0.8h-1.4zM407 137h2v2.1h-2zM416.9 130.2h0.9v1.6h-0.9zM454.6 123.4h1.7v2.2h-1.7zM405.1 135.5h1.5v1.3h-1.5zM440.1 123.1h1.5v1.3h-1.5zM423 122.7h1v1.7h-1z"/>
<path fill="#cc3c60" stroke="#cc3c60" stroke-width=".35" d="M438 134.9h1.2v1.6h-1.2zM422.1 121.7h0.8v1.9h-0.8zM465.9 125.7h1.8v1.3h-1.8zM402.6 125.1h1.2v1h-1.2zM413.2 126.9h1.3v1.5h-1.3zM454.7 134.8h1.2v1h-1.2zM432.8 134.4h1.9v1.4h-1.9zM443.4 123.7h2v1.3h-2zM440.6 127.4h1.8v1.8h-1.8zM416.2 126.7h1.1v1.8h-1.1zM454 125.3h2v2.1h-2zM444.9 123.8h0.9v1h-0.9zM457.7 132.6h2.1v1.5h-2.1zM456.3 126.6h1.7v1.7h-1.7zM442 137.9h1.3v1h-1.3z"/>
<path fill="#603cc0" stroke="#603cc0" stroke-width=".35" d="M459.6 132.1h1.8v2.1h-1.8zM436.4 122.2h1.8v1.9h-1.8zM440.2 123.8h1.9v1.2h-1.9zM460.1 130.7h1.2v1.2h-1.2zM458.2 131.8h1.3v1.1h-1.3zM420.8 133.2h0.8v1.7h-0.8zM463.9 132.4h1v1.8h-1zM433.3 122.4h1.2v1.2h-1.2zM455.9 127.4h1.8v0.9h-1.8z"/>
<path fill="#c03030" stroke="#c03030" stroke-width=".35" d="M428.6 133.3h1.3v2h-1.3zM428.7 127.6h1.5v1.5h-1.5zM418.4 127.2h2.1v1.1h-2.1zM404.6 125.8h1.7v1h-1.7zM444.5 136.4h1.9v1.5h-1.9z"/>
</g>
<g clip-path="url(#ly51219)">
<rect x="402" y="114" width="67" height="15" fill="url(#lyg1)"/>
<path fill="#c0d830" stroke="#c0d830" stroke-width=".35" d="M438.7 124.3h1.8v1.1h-1.8zM439.8 122h2.1v1.2h-2.1zM439.6 127.8h0.9v2h-0.9zM438.6 126.8h1.5v1.4h-1.5z"/>
<path fill="#c0783c" stroke="#c0783c" stroke-width=".35" d="M413.4 123.7h1.2v1.7h-1.2zM412.6 124.3h1.3v1.5h-1.3zM414.2 126.8h0.8v1h-0.8zM409 117.3h1.9v0.9h-1.9zM412.3 122.4h1.1v1h-1.1zM409.4 126.4h2.1v1.6h-2.1zM410.5 120.8h1.4v1.3h-1.4z"/>
<path fill="#54cc90" stroke="#54cc90" stroke-width=".35" d="M449 121.7h2.1v1.4h-2.1z"/>
<path fill="#9cd83c" stroke="#9cd83c" stroke-width=".35" d="M442.1 117.8h2.1v1.5h-2.1z"/>
<path fill="#30a8d8" stroke="#30a8d8" stroke-width=".35" d="M451.2 123h1.7v1h-1.7zM449 125.7h2v2.2h-2zM454.2 123.5h1.1v2.1h-1.1z"/>
<path fill="#a8603c" stroke="#a8603c" stroke-width=".35" d="M403.5 114.5h1.4v1.9h-1.4zM404.6 125.7h1.7v1.6h-1.7zM408 124.6h0.9v0.9h-0.9zM404.2 120.7h1.7v1h-1.7zM404.6 125.1h1.6v0.9h-1.6zM406 128.3h1.5v1.2h-1.5zM402.3 127.7h1.6v1.8h-1.6z"/>
<path fill="#e4d830" stroke="#e4d830" stroke-width=".35" d="M430.6 121.6h1v1.7h-1zM431.8 120.3h2.1v1.3h-2.1zM433.1 119.3h0.9v1.9h-0.9zM430.4 126.5h1.4v1.7h-1.4zM433.5 121.1h1.3v1.3h-1.3zM437.1 120.3h2v2h-2zM430.4 124.1h1.4v1.6h-1.4z"/>
<path fill="#d89030" stroke="#d89030" stroke-width=".35" d="M421.7 127.4h1v2h-1z"/>
<path fill="#f0a824" stroke="#f0a824" stroke-width=".35" d="M425.7 118.7h1.2v1.3h-1.2zM427.9 126.8h2.2v2.1h-2.2zM425.5 127.4h1.2v0.9h-1.2zM423.4 123.6h0.9v1.4h-0.9zM423.3 124.7h1.3v2.2h-1.3zM422.5 118.7h1.7v1.8h-1.7zM424.1 114.8h1.3v1.5h-1.3zM429.1 116.7h1v1.3h-1z"/>
<path fill="#d88430" stroke="#d88430" stroke-width=".35" d="M420.3 115.4h1.2v1.9h-1.2zM415.1 126.4h1.8v1.2h-1.8z"/>
<path fill="#b46c3c" stroke="#b46c3c" stroke-width=".35" d="M409.1 123.4h1.9v1.6h-1.9zM412.1 119.6h1.3v1.7h-1.3zM407.7 121.2h1.7v1.6h-1.7zM407.1 115.9h2v2.2h-2zM407.7 118.4h1.4v0.9h-1.4zM410.9 125.9h1.5v1.4h-1.5zM407.2 125.2h2.1v1.9h-2.1zM407.1 121.7h1.6v1.7h-1.6zM411.2 121.2h1.4v1.2h-1.4z"/>
<path fill="#f0b424" stroke="#f0b424" stroke-width=".35" d="M425.4 122.8h1.2v1.3h-1.2zM426.7 116.3h2.1v1.8h-2.1zM429.4 116.8h2v1.6h-2zM427.9 118.6h1.1v1.8h-1.1zM430.1 127.2h1.3v1.6h-1.3z"/>
<path fill="#8430c0" stroke="#8430c0" stroke-width=".35" d="M467.1 114.9h1.2v0.8h-1.2zM467.6 126.7h0.9v1h-0.9zM467 128.2h1.7v1h-1.7zM466.5 118.8h1.7v1.3h-1.7z"/>
<path fill="#3c6cd8" stroke="#3c6cd8" stroke-width=".35" d="M457.7 116.2h2.1v1.8h-2.1zM453.3 116.7h1.4v2.1h-1.4z"/>
<path fill="#4848d8" stroke="#4848d8" stroke-width=".35" d="M456.8 123.5h1.9v0.9h-1.9zM459.1 124.7h1.4v2.1h-1.4z"/>
<path fill="#6048d8" stroke="#6048d8" stroke-width=".35" d="M463.5 126.9h1.2v2h-1.2z"/>
<path fill="#a8d83c" stroke="#a8d83c" stroke-width=".35" d="M435.4 115.3h1.5v1h-1.5z"/>
<path fill="#e49024" stroke="#e49024" stroke-width=".35" d="M419.2 121.4h1.7v1.4h-1.7zM420 114.1h1.3v1.6h-1.3zM421.4 122h0.8v1h-0.8z"/>
<path fill="#54c090" stroke="#54c090" stroke-width=".35" d="M447.7 125.9h1.3v2.1h-1.3z"/>
<path fill="#78cc54" stroke="#78cc54" stroke-width=".35" d="M444.7 114.3h1.3v1.8h-1.3zM441.7 115.2h1.7v1h-1.7z"/>
<path fill="#603ccc" stroke="#603ccc" stroke-width=".35" d="M459.5 118.1h1.7v1.2h-1.7zM463.9 116.5h2.1v1.8h-2.1zM462.2 127.9h1.5v1.9h-1.5zM463.8 126.3h0.8v1.7h-0.8z"/>
<path fill="#84cc3c" stroke="#84cc3c" stroke-width=".35" d="M438.9 116.1h2v2h-2z"/>
<path fill="#30c0cc" stroke="#30c0cc" stroke-width=".35" d="M450.3 125.4h1.3v2.1h-1.3zM452.2 118.3h0.9v0.9h-0.9z"/>
<path fill="#f0cc30" stroke="#f0cc30" stroke-width=".35" d="M431.8 113.8h2.1v2.2h-2.1zM431.5 116.7h1.1v1.8h-1.1zM429.9 117.6h1.9v0.9h-1.9zM434.9 125.5h0.9v2.2h-0.9z"/>
<path fill="#f0c024" stroke="#f0c024" stroke-width=".35" d="M428.7 115.6h1v1h-1zM426.1 127.4h1.4v2.1h-1.4zM426.8 115h1.8v1.3h-1.8z"/>
<path fill="#cc783c" stroke="#cc783c" stroke-width=".35" d="M413.3 117.2h1.3v1.7h-1.3z"/>
<path fill="#f09c24" stroke="#f09c24" stroke-width=".35" d="M426 116.7h2v1.2h-2zM422.8 118.1h1.1v1.4h-1.1zM420.3 127h1.6v1.3h-1.6zM425.1 120.2h1.3v1h-1.3zM425.4 119.2h1v1.1h-1z"/>
<path fill="#78cc48" stroke="#78cc48" stroke-width=".35" d="M441.6 125.2h2.1v1.8h-2.1z"/>
<path fill="#3c54e4" stroke="#3c54e4" stroke-width=".35" d="M457.8 118.6h1.3v1.7h-1.3z"/>
<path fill="#e4e430" stroke="#e4e430" stroke-width=".35" d="M432.4 127.3h1.3v1.5h-1.3z"/>
<path fill="#3cc0b4" stroke="#3cc0b4" stroke-width=".35" d="M450.2 114.1h2v2h-2zM451.3 125.1h2.2v1.2h-2.2z"/>
<path fill="#d8d830" stroke="#d8d830" stroke-width=".35" d="M437.7 122.5h1.1v1.1h-1.1zM437.9 127.5h1.1v2h-1.1zM433.3 117.3h0.8v1.1h-0.8zM434 122.6h1.7v1.4h-1.7z"/>
<path fill="#6c3ccc" stroke="#6c3ccc" stroke-width=".35" d="M461.7 124.5h1.2v1.4h-1.2zM465.1 116h1.3v2.1h-1.3z"/>
<path fill="#7830c0" stroke="#7830c0" stroke-width=".35" d="M468.1 126.1h1.8v1.9h-1.8z"/>
<path fill="#e49c24" stroke="#e49c24" stroke-width=".35" d="M424.4 114.3h1.4v2h-1.4zM425.6 121.6h1.4v1.5h-1.4z"/>
<path fill="#6ccc6c" stroke="#6ccc6c" stroke-width=".35" d="M446.7 127.7h0.9v2.1h-0.9zM441.7 123.6h1.6v0.8h-1.6z"/>
<path fill="#cc7830" stroke="#cc7830" stroke-width=".35" d="M412.4 126.8h1.8v1.3h-1.8zM412.3 126.5h0.8v1.3h-0.8zM412.5 115.6h1.1v1.6h-1.1z"/>
<path fill="#c06c3c" stroke="#c06c3c" stroke-width=".35" d="M411.4 120.2h1.3v1.6h-1.3z"/>
<path fill="#6ccc60" stroke="#6ccc60" stroke-width=".35" d="M445.1 115.5h1.9v1.9h-1.9z"/>
<path fill="#30b4cc" stroke="#30b4cc" stroke-width=".35" d="M447.7 123.3h2.2v1.7h-2.2z"/>
<path fill="#3c60d8" stroke="#3c60d8" stroke-width=".35" d="M455.7 128.2h1.5v0.9h-1.5z"/>
<path fill="#5448d8" stroke="#5448d8" stroke-width=".35" d="M459.1 117.2h1.5v1.4h-1.5z"/>
<path fill="#3c84d8" stroke="#3c84d8" stroke-width=".35" d="M455.8 119.1h1.1v1.1h-1.1z"/>
<path fill="#309cd8" stroke="#309cd8" stroke-width=".35" d="M453.4 116.8h1.7v1.6h-1.7z"/>
<path fill="#a86c3c" stroke="#a86c3c" stroke-width=".35" d="M406.5 114.1h1v1.5h-1z"/>
<path fill="#b4d83c" stroke="#b4d83c" stroke-width=".35" d="M436.8 119.3h1.8v1.8h-1.8z"/>
<path fill="#48c0a8" stroke="#48c0a8" stroke-width=".35" d="M449 121.9h1.4v1.6h-1.4z"/>
</g>
<rect x="514.6" y="68.7" width="113.1" height="56.4" fill="#fff" stroke="#9a9a9a" stroke-width="0.6"/>
<g clip-path="url(#uc1v)"><rect x="514" y="76" width="58" height="50" fill="#3b3f86"/>
<path fill="#480c60" stroke="#480c60" stroke-width=".35" d="M552.4 114.8L551.7 112.1L551.3 111.5L549.5 113.2L551.9 115.7ZM534.1 86.6L531.3 87.8L530.7 90.1L534.2 89ZM564.8 85.2L566 81L565.1 80.8L562.6 83.9ZM562.8 79.1L563.1 76L562.4 76L559.3 77.3L559.1 78.1L560.2 79.7L560.4 79.9ZM556.6 97L555.2 95.5L553.7 97.3L556.2 97.4ZM568.9 82.3L566.1 81L568.1 76L572 76L572 82.5L570.5 82.8ZM564.7 104.3L566.2 104.2L565.1 100.8L564.9 100.7L561.6 101.5L561.6 101.5L562.2 102.7ZM531.2 81.5L532.8 80.4L532.4 78.3L532.1 78.4L530.3 80.1Z"/>
<path fill="#249090" stroke="#249090" stroke-width=".35" d="M572 114L569.2 113.6L568.9 113.5L570.2 108.8L571.2 108L572 107.7ZM548.2 95.1L547.7 94.6L543.6 94.1L543.3 94.4L543.3 94.5L546.4 96.9L547.1 97.2L548.4 97.1ZM548.5 120.1L550.4 117.9L550.5 117.9L550.5 122.9L548.3 123L547.5 122ZM526.1 112.8L528.1 110.6L528.1 109.7L526.1 110.3ZM527 121.9L525.5 122.3L519.9 121.4L519.6 119.4L521.7 117.1L528 120.1ZM539.1 119.3L537.2 117.8L537.2 117.8L538.4 117.2L539.4 118.2ZM567.1 104.5L571.2 108L572 107.7L572 106.6L569.2 102.8ZM537.1 81.4L536.9 80.4L535.7 79.1L534.3 81L534.5 81.5L535.8 81.7ZM531.4 96.7L530.4 97.3L529.5 97.4L529.2 96.5L529.5 96.3L531.3 96.5ZM558.6 106.8L553.7 105.6L555.4 102.2L558.3 102.6L558.5 103ZM557.8 114.5L557.7 119.5L558.4 120.9L560 121.4L560.7 120.5L561.6 118.5L558.5 114.4ZM514 119.2L514 121.9L515.8 121.5L516.4 118.9L516.1 118.8ZM566.9 104.6L567.1 104.5L571.2 108L570.2 108.8L566.3 108.1Z"/>
<path fill="#3c246c" stroke="#3c246c" stroke-width=".35" d="M517 110.4L519.3 113.1L521.4 113.3L520.1 108.8L517.3 108.2ZM529.8 78.5L532.1 78.4L532.4 78.3L533.4 76L531.3 76L529.5 77.3L529.1 77.7ZM561.2 87.2L561.5 87.7L559.8 90.1L559.4 86.7ZM535.3 107.4L538.4 108.9L538 110L537.1 111.5L535.9 110.8ZM533.6 97.5L534.1 98.5L536 99.7L539.4 94.7L533.7 94.8ZM552.3 85.1L551.1 86.2L549.8 87.9L550.8 88.5L553.6 89.5L553.7 89.5L554.6 87.6L554.1 87ZM530.7 83.1L531.2 81.5L530.3 80.1L530 80L528.2 80.9ZM552.3 84.8L551.2 82.7L551.7 81.3L554.3 80.7L554.4 80.7L555.8 83.3L554.8 83.9ZM526 112.9L527.1 113.4L526.8 115.2L524.9 113.3ZM547.1 119.6L547.4 116.8L547.8 116.4L550.4 117.9L548.5 120.1ZM572 120.9L571.8 120.9L568.9 119L569.2 113.6L572 114ZM530.2 91L530.7 90.1L534.2 89L536.4 89.8L536.7 91.5L533.5 92.8ZM550.3 106.3L550.7 101.5L550.2 101L549.2 101L548.2 104.6L548.2 104.8ZM547.6 114.8L549.5 113.2L551.3 111.5L551.7 107.9L551.5 107.4L551.2 107.3L547.6 109.1L546.4 113.7ZM563.5 96.4L563.5 96.7L565.9 98.5L568.2 97.6L568.1 96.9L566.5 95.2L564.6 95.8ZM563.6 111.3L564.3 112.1L566.8 113.2L568.9 113.5L570.2 108.8L566.3 108.1ZM516.5 80.7L514 80.3L514 84.2L515.8 84.1L516.8 83.9L516.9 83.6ZM559.4 86.7L559.8 90.1L559.7 90.2L558.7 90.2L557.4 87.3L559.3 86.6ZM535.7 86.9L538 86.3L539.2 87.5L536.6 89.2ZM562.8 91.5L563 92.2L566.6 94.4L567 93.2L565.6 90.3L562.9 91.3ZM555.8 121.5L552.3 124.6L552.7 126L556.2 126L556 121.5ZM552.3 84.8L551.2 82.7L548.9 83.7L551.1 86.2L552.3 85.1ZM520.2 82.2L522 82.4L522.4 78.3L522 76.5L519 80.8ZM568.1 126L572 123.7L572 126ZM565.9 118.1L566.8 113.2L564.3 112.1L562.6 117.7ZM523 98.9L523.1 96.4L524.6 96.2L526.2 97L526.9 97.6L527 97.9L526.9 98.1ZM516.8 83.9L517.3 84.8L514.4 87.5L515.8 84.1ZM516.5 80.7L518.2 76L521.8 76L522 76.4L522 76.5L519 80.8ZM546.2 83.6L545.6 86.1L545.6 86.6L545.8 87.1L548.2 88.4L549.2 87.9L548.6 83.8L546.6 83.1ZM528.6 91.4L529 91.4L531.3 96.5L529.5 96.3L528.5 92.7ZM522.6 103.2L524.2 105.8L526 106.8L528.4 107L526.3 102.3L526.2 102.2ZM514 126L514 123.6L518.7 125.8L518.7 126ZM547.7 94.6L543.6 94.1L544.3 92.4L546.9 91.3L547.6 92.2ZM554.8 117.1L557.7 119.5L558.4 120.9L556 121.5L555.8 121.5L553.7 119.7L553 118.2ZM558.9 95.4L561.4 95.3L561.4 95.2L560.8 91.8L558.4 94.8Z"/>
<path fill="#3c3c84" stroke="#3c3c84" stroke-width=".35" d="M545.3 108.9L543.2 103.7L540.9 103.7L540.3 105L540.2 106.4L541 107.6L544 109.8ZM535.7 120.3L534.3 114.9L532.9 115L529.9 118.7L529.6 119.3L534 121.6L535.2 121.6ZM555.1 101L554.2 100.2L552.9 97.9L553.7 97.3L556.2 97.4L556.5 98.5ZM563 106L563.2 111.1L563.6 111.3L566.3 108.1L566.9 104.6L566.2 104.2L564.7 104.3ZM550.5 122.9L551 123.2L553.7 119.7L553 118.2L551.2 117.7L550.5 117.9ZM530.3 85.2L529.4 85.5L526.6 85.1L525.9 84.5L527 83.1L530.8 83.7L530.8 83.7ZM554.5 80.7L557.8 81.1L558.4 80.2L557.1 79.6L556.8 79.7L555.2 80.1ZM550.4 93.7L549.8 93.9L548.2 95.1L548.4 97.1L548.9 97.5L550.7 97.7L552.1 97.5L552 95.8L550.8 94ZM536.9 80.4L538 79.8L536.9 77.9L535.8 77.8L535.7 79.1ZM559.2 107.3L559.4 107.5L559.7 108.8L557.2 109.9L553.2 108.8L551.7 107.9L551.5 107.4L553.7 105.6L558.6 106.8ZM514 84.2L514 87.9L514.1 87.9L514.4 87.5L515.8 84.1ZM543.3 94.5L544 97.9L546.4 96.9ZM531.4 96.7L533.6 97.5L533.7 94.8L533.5 92.8L530.2 91L529 91.4L531.3 96.5ZM537.7 84L538.8 83.3L538.5 82.4L537.1 81.4L535.8 81.7L536.7 84.2ZM551.9 76L550.5 76.9L550.3 76ZM564.8 86.8L564.8 87.1L562.6 87.8L561.5 87.7L561.2 87.2L561.4 84.9ZM529.1 77.7L529.5 77.3L529.1 76L527.6 76L528.1 77.7ZM527 83.1L525.9 84.5L522.9 84.7L522.8 83.8L525.8 80.9L527.1 80.8Z"/>
<path fill="#307890" stroke="#307890" stroke-width=".35" d="M534.8 86L534.8 85L536.7 84.2L537.7 84L538 86.3L535.7 86.9ZM546.4 96.9L544 97.9L544 98.3L544.9 99.5L547.1 97.2ZM561.6 126L560 121.4L558.4 120.9L556 121.5L556.2 126ZM527.1 80.8L525.8 80.9L522.4 78.3L522 76.5L522 76.4L527.2 78.6L527.3 79.7L527.2 80.7ZM564.8 86.8L561.4 84.9L561.1 83.9L562.6 83.9L564.8 85.2L565.1 86.3ZM559.8 83.5L557.8 83.6L556.9 83.9L556.6 86.8L557.4 87.3L559.3 86.6ZM569.6 91.9L569.5 92.1L570.6 92.9L572 92.8L572 88.8L570.9 89.1ZM559.2 107.3L560 104.4L558.5 103L558.6 106.8ZM529.8 78.5L532.1 78.4L530.3 80.1L530 80L529.8 79.3ZM527.2 91.1L527.1 91L524.6 96.2L526.2 97ZM551.7 81.3L549.9 79.2L550.5 78.3L551.8 77.7L553.9 78.8L554.3 80.7ZM556.5 114.3L556.3 114.4L551.7 112.1L551.3 111.5L551.7 107.9L553.2 108.8ZM564.8 86.8L564.8 87.1L565.3 88L569 87.7L568.7 86L565.2 86.3L565.1 86.3ZM537.2 117.8L535.7 120.3L534.3 114.9L535 114.7L537.2 117.8ZM569.3 88.3L570.9 89.1L572 88.8L572 82.5L570.5 82.8L568.7 86L569 87.7ZM543 84.1L542.9 84.2L545.6 86.1L546.2 83.6L543.3 84ZM553.3 93.1L556.3 93.1L556.4 93.5L555.7 94.4L552.8 94.5L552.8 93.6ZM560 83.4L560.4 79.9L560.2 79.7L558.4 80.2L557.8 81.1L557.8 83.6L559.8 83.5Z"/>
<path fill="#48b478" stroke="#48b478" stroke-width=".35" d="M527.3 88.2L527 91L523.5 90.3L521.9 86.8L522.9 84.7L525.9 84.5L526.6 85.1ZM548.3 123L546.1 126L552.7 126L552.3 124.6L551 123.2L550.5 122.9ZM514.7 95.3L514 91.4L515.3 91.6L517 93.7ZM518.2 94.2L520.8 93.7L521.1 94.6L520 97.7L517.1 97.9L516.9 97.6ZM543.3 84L546.2 83.6L546.6 83.1L546.4 82.3L544.1 81.7ZM529.4 85.5L526.6 85.1L527.3 88.2ZM569.2 102.8L572 106.6L572 100.9L570.4 101ZM528.6 98.8L529.5 97.4L530.4 97.3L529 99.1ZM539.1 119.3L539.4 124.3L540.1 124.9L542.9 120.8L543.2 118.6L543 118.4L542.6 118.2L539.4 118.2ZM544.1 81.7L546.4 82.3L547.4 79L546.7 78.1L542 78.8L542.3 80.9ZM562.4 76L559.3 77.3L559 76ZM557.1 114.2L557.2 109.9L553.2 108.8L556.5 114.3ZM534.8 85L533.9 84L534.5 81.5L535.8 81.7L536.7 84.2Z"/>
<path fill="#3c5490" stroke="#3c5490" stroke-width=".35" d="M563.5 96.7L565.9 98.5L564.6 99.1L563.8 98.3ZM543.3 94.5L544 97.9L544 98.3L541.7 98.8L540.6 94.6L543.3 94.4ZM560 104.4L561.3 104.7L562.2 102.7L561.6 101.5L558.9 102.2L558.3 102.6L558.5 103ZM533.7 94.8L539.4 94.7L539.7 94.4L539 92.8L536.7 91.5L533.5 92.8ZM535.2 121.6L534 121.6L533.3 123.1L533.1 126L540.4 126L540.1 124.9L539.4 124.3ZM550.7 97.7L550.2 101L549.2 101L548.6 100.6L548.9 97.6L548.9 97.5ZM522.9 111.4L522.2 108.6L523.2 107.6L524.8 109.9ZM514 96L514.7 95.3L517 93.7L518.2 94.2L516.9 97.6L514 97.4ZM529.6 101L531.9 105.1L531.7 105.6L530.1 106.1L529 104.4L528.3 101.6ZM530.8 112.4L531.6 112.3L532.9 115L529.9 118.7L528.7 114.8ZM546.9 91.3L544.3 92.4L543.2 89.5L543.8 89.2L547.2 90.6ZM514 110.8L517 110.4L514.9 113.4L514 113.8ZM549.8 87.9L549.2 87.9L548.2 88.4L548 89.2L550.1 91.6L550.5 91.7L550.8 88.5ZM558.4 97L558.7 96.6L558.9 95.4L558.4 94.8L556.4 93.5L555.7 94.4L555.2 95.5L556.6 97L558.2 97.1ZM546.7 121.4L542.9 120.8L540.1 124.9L540.4 126L546.1 126L548.3 123L547.5 122ZM569.3 88.3L567.5 89.6L565.8 89.9L565.3 88L569 87.7ZM552.7 76.7L552.6 76L555.9 76L554.1 77.3ZM566.2 104.2L565.1 100.8L568.7 99.2L570.4 101L569.2 102.8L567.1 104.5L566.9 104.6ZM535.1 107.1L536.6 105.9L533.8 103.3L531.9 105.1L531.7 105.6L532.7 106.8ZM572 96L569.9 95.6L568.9 96.5L571.1 96.8L572 96.1ZM551.7 91.7L552.2 93.4L552.8 93.6L553.3 93.1L552.3 91.3ZM552.3 91.3L553.6 89.5L553.7 89.5L556.4 92.1L556.3 93.1L553.3 93.1ZM546.3 100.5L545.1 100.7L543.3 103.6L548.2 104.8L548.2 104.6L547.6 101ZM522.2 113.4L522 113.5L521.7 117.1L528 120.1L528.3 119.8L526.9 117.5L523.5 113.6ZM558.9 99.9L560.9 99.4L561 99.4L561.5 100.5L561.6 101.5L561.6 101.5L558.9 102.2ZM526.7 101.9L527.8 101.7L528.5 104L526.3 102.3L526.2 102.2ZM515.7 117.1L516.1 118.8L516.4 118.9L518.7 118.8L517.2 115.7L516.9 115.8ZM533.8 103.3L536.6 105.9L540.3 105L540.9 103.7L540 102.6L536.1 100.1ZM569.3 88.3L570.9 89.1L569.6 91.9L567.5 89.6ZM543 84.1L542.1 81.5L542.3 80.9L544.1 81.7L543.3 84ZM552.8 94.5L552 95.8L552.1 97.5L552.9 97.9L553.7 97.3L555.2 95.5L555.7 94.4ZM566.6 94.4L566.5 95.2L564.6 95.8L562.9 92.8L563 92.2ZM514 107.3L514 101.9L514 101.9L517 106.4L516.8 107ZM517 110.4L514.9 113.4L518 114.2L519.3 113.1L517 110.4ZM539.4 118.2L542.6 118.2L540.3 115.4L539.5 115.1L538.4 117.2ZM561.3 104.7L562.2 102.7L564.7 104.3L563 106L561.4 105.4ZM543.8 113.1L543.2 112L544 109.8L545.3 108.9L547.6 109.1L546.4 113.7ZM560 83.4L560.4 79.9L562.8 79.1L564.1 80.2L560.9 83.8ZM538 79.8L536.9 77.9L540.8 77.3L541.1 78.1L539.2 80ZM561.5 100.5L563.8 98.3L564.6 99.1L564.9 100.7L561.6 101.5Z"/>
<path fill="#309c84" stroke="#309c84" stroke-width=".35" d="M550.4 93.7L550.8 92L550.5 91.7L550.1 91.6L548.8 92.3L549.8 93.9ZM551.7 91.7L550.8 92L550.5 91.7L550.8 88.5L553.6 89.5L552.3 91.3ZM551 123.2L552.3 124.6L555.8 121.5L553.7 119.7ZM552.1 97.5L552.9 97.9L554.2 100.2L550.7 101.5L550.2 101L550.7 97.7ZM547.2 90.6L548 89.2L548.2 88.4L545.8 87.1L543.8 89.2ZM565.1 86.3L565.2 86.3L568.9 82.3L566.1 81L566 81L564.8 85.2ZM567.6 122.7L563.1 125L566.1 120.7ZM539.4 94.7L536 99.7L536.1 100.1L540 102.6L541.7 98.8L540.6 94.6L539.7 94.4ZM558.4 98.9L558.9 99.9L560.9 99.4L558.6 98.6ZM539.9 110.4L538 110L537.1 111.5L537.3 112.8L538.4 113.4L541.6 112ZM514 101.9L517 106.4L517.5 106.1L520.7 103.1L519.1 101.4L517.7 100.7ZM551.2 82.7L548.9 83.7L548.6 83.8L546.6 83.1L546.4 82.3L547.4 79L549.9 79.2L551.7 81.3ZM514 97.4L514 101.9L514 101.9L517.7 100.7L517.1 97.9L516.9 97.6ZM525.8 80.9L522.4 78.3L522 82.4L522.8 83.8ZM568.9 96.5L568.1 96.9L568.2 97.6L568.7 99.2L570.4 101L572 100.9L572 97.7L571.1 96.8ZM563.2 111.1L563.2 111.1L558.5 114.4L561.6 118.5L562.2 118.1L562.6 117.7L564.3 112.1L563.6 111.3ZM528.1 109.7L528.5 109L531.7 111.5L531.6 112.3L530.8 112.4L528.8 112.3L528.1 110.6ZM569.9 95.6L572 96L572 95L570.5 94.7ZM517 93.7L515.3 91.6L517.2 89.9L521.1 92.9L520.8 93.7L518.2 94.2Z"/>
<path fill="#306c90" stroke="#306c90" stroke-width=".35" d="M529.1 76L529.5 77.3L531.3 76ZM542.9 84.2L545.6 86.1L545.6 86.6L541.6 85.9ZM539.9 110.4L538 110L538.4 108.9L540.2 106.4L541 107.6L541.2 110.1ZM555.2 80.1L556.4 76.8L556.7 77L556.8 79.7ZM527.6 96.9L529.2 96.5L529.5 97.4L528.6 98.8L527 97.9L526.9 97.6ZM547.1 119.6L547.4 116.8L543.2 118.6L542.9 120.8L546.7 121.4ZM528.5 92.7L529.5 96.3L529.2 96.5L527.6 96.9ZM519.9 121.4L519.6 121.9L518.7 125.8L518.7 126L522.9 126L525.5 122.3ZM514 115.1L514 113.8L514.9 113.4L518 114.2L517.2 115.7L516.9 115.8ZM526.1 112.8L528.1 110.6L528.8 112.3L527.8 113.5L527.1 113.4L526 112.9ZM528.1 77.7L527.6 76L521.8 76L522 76.4L527.2 78.6ZM549.8 93.9L548.8 92.3L547.6 92.2L547.7 94.6L548.2 95.1ZM529.8 78.5L529.1 77.7L528.1 77.7L527.2 78.6L527.3 79.7L529.8 79.3ZM541.2 110.1L541 107.6L544 109.8L543.2 112L542.3 111.9ZM542 78.8L541.1 78.1L540.8 77.3L540.8 76L546.7 76L546.7 78.1ZM543.3 94.4L540.6 94.6L539.7 94.4L539 92.8L541.3 88.9L543.2 89.5L544.3 92.4L543.6 94.1ZM541.3 86L540.7 87.6L539.2 87.5L538 86.3L537.7 84L538.8 83.3L539.5 83.5ZM558.4 97L558.7 96.6L561 98.4L561 99.4L560.9 99.4L558.6 98.6ZM562.6 83.9L565.1 80.8L564.1 80.2L560.9 83.8L561.1 83.9ZM562.8 91.5L561 91.4L560.8 91.8L561.4 95.2L562.9 92.8L563 92.2ZM554.4 80.7L554.5 80.7L555.2 80.1L556.4 76.8L556.2 76L555.9 76L554.1 77.3L553.9 78.8L554.3 80.7ZM528.5 104L526.3 102.3L528.4 107L528.6 107L530.1 106.1L529 104.4ZM528.2 80.9L530 80L529.8 79.3L527.3 79.7L527.2 80.7ZM557.1 114.2L557.8 114.5L558.5 114.4L563.2 111.1L559.7 108.8L557.2 109.9ZM523.5 113.6L526.9 117.5L526.8 115.2L524.9 113.3Z"/>
<path fill="#306090" stroke="#306090" stroke-width=".35" d="M533.9 84L534.5 81.5L534.3 81L532.8 80.4L531.2 81.5L530.7 83.1L530.8 83.7L530.8 83.7ZM534.8 86L534.8 85L533.9 84L530.8 83.7L530.3 85.2L531.3 87.8L534.1 86.6ZM548.4 97.1L547.1 97.2L544.9 99.5L545.1 100.7L546.3 100.5L548.9 97.6L548.9 97.5ZM562.8 79.1L563.1 76L568.1 76L566.1 81L566 81L565.1 80.8L564.1 80.2ZM546.7 78.1L546.7 76L550.3 76L550.5 76.9L550.5 78.3L549.9 79.2L547.4 79ZM561.5 87.7L559.8 90.1L559.7 90.2L561 91.4L562.8 91.5L562.9 91.3L562.6 87.8ZM519.3 113.1L521.4 113.3L522 113.5L521.7 117.1L519.6 119.4L518.7 118.8L517.2 115.7L518 114.2ZM516.9 83.6L516.8 83.9L517.3 84.8L519 86.6L521.9 86.8L522.9 84.7L522.8 83.8L522 82.4L520.2 82.2ZM517.1 97.9L520 97.7L520.2 98.2L519.1 101.4L517.7 100.7ZM514 121.9L515.8 121.5L519.6 121.9L518.7 125.8L514 123.6ZM538.4 117.2L539.5 115.1L538.4 113.4L537.3 112.8L535 114.7L537.2 117.8ZM566.1 120.6L566.9 119.2L565.9 118.1L562.6 117.7L562.2 118.1L565.8 120.6ZM557.8 77.9L556.7 77L556.4 76.8L556.2 76L559 76L559.3 77.3L559.1 78.1ZM572 120.9L571.8 120.9L568.3 123L568 126L568.1 126L572 123.7ZM521.7 103.1L520.7 103.1L517.5 106.1L521 107.4ZM537.1 81.4L536.9 80.4L538 79.8L539.2 80L538.5 82.4ZM541.6 112L538.4 113.4L539.5 115.1L540.3 115.4L543.7 113.3L543.8 113.1L543.2 112L542.3 111.9ZM546.3 100.5L548.9 97.6L548.6 100.6L547.6 101ZM521.1 92.9L521.4 92.6L517.7 88.4L517.2 89.9ZM547.1 119.6L548.5 120.1L547.5 122L546.7 121.4ZM535.3 107.4L538.4 108.9L540.2 106.4L540.3 105L536.6 105.9L535.1 107.1ZM561.4 84.9L561.2 87.2L559.4 86.7L559.3 86.6L559.8 83.5L560 83.4L560.9 83.8L561.1 83.9ZM559.2 107.3L559.4 107.5L561.4 105.4L561.3 104.7L560 104.4ZM522.2 113.4L522 113.5L521.4 113.3L520.1 108.8L521.1 108.3L522.2 108.6L522.9 111.4ZM555.1 101L555.4 102.2L558.3 102.6L558.9 102.2L558.9 99.9L558.4 98.9ZM554.4 80.7L554.5 80.7L557.8 81.1L557.8 83.6L556.9 83.9L555.8 83.3ZM567.5 89.6L569.6 91.9L569.5 92.1L567 93.2L565.6 90.3L565.8 89.9ZM514 96L514.7 95.3L514 91.4L514 91.4Z"/>
<path fill="#480054" stroke="#480054" stroke-width=".35" d="M541.6 85.9L545.6 86.6L545.8 87.1L543.8 89.2L543.2 89.5L541.3 88.9L540.7 87.6L541.3 86ZM533.3 123.1L533.1 126L531.3 126L531.6 124.6ZM516.5 80.7L514 80.3L514 76L518.2 76L516.5 80.7ZM527.6 124L527.9 126L531.3 126L531.6 124.6ZM569.5 92.1L567 93.2L566.6 94.4L566.5 95.2L568.1 96.9L568.9 96.5L569.9 95.6L570.5 94.7L570.6 92.9ZM558.7 96.6L558.9 95.4L561.4 95.3L562.7 96.3L561 98.4ZM539.9 110.4L541.6 112L542.3 111.9L541.2 110.1ZM542.1 81.5L539.5 83.5L538.8 83.3L538.5 82.4L539.2 80L541.1 78.1L542 78.8L542.3 80.9ZM555.1 101L558.4 98.9L558.6 98.6L558.4 97L558.2 97.1L556.5 98.5L555.1 101ZM551.7 91.7L550.8 92L550.4 93.7L550.8 94L552.2 93.4ZM536.4 89.8L536.7 91.5L539 92.8L541.3 88.9L540.7 87.6L539.2 87.5L536.6 89.2ZM522.9 99.1L520.2 98.2L520 97.7L521.1 94.6L523.1 96.4L523 98.9ZM548.8 92.3L550.1 91.6L548 89.2L547.2 90.6L546.9 91.3L547.6 92.2ZM530.7 83.1L528.2 80.9L527.2 80.7L527.1 80.8L527 83.1L530.8 83.7ZM543 84.1L542.9 84.2L541.6 85.9L541.3 86L539.5 83.5L542.1 81.5ZM534.8 86L535.7 86.9L536.6 89.2L536.4 89.8L534.2 89L534.1 86.6ZM528.3 119.8L526.9 117.5L526.8 115.2L527.1 113.4L527.8 113.5L528.7 114.8L529.9 118.7L529.6 119.3ZM556.3 93.1L556.4 92.1L558.7 90.2L559.7 90.2L561 91.4L560.8 91.8L558.4 94.8L556.4 93.5ZM565.8 120.6L560.7 120.5L561.6 118.5L562.2 118.1Z"/>
<path fill="#d8e430" stroke="#d8e430" stroke-width=".35" d="M547.8 116.4L550.4 117.9L550.5 117.9L551.2 117.7L551.9 115.7L549.5 113.2L547.6 114.8ZM523 100.4L522.4 103.1L522.6 103.2L526.2 102.2L526.7 101.9L526.5 99.2ZM565.9 98.5L568.2 97.6L568.7 99.2L565.1 100.8L564.9 100.7L564.6 99.1ZM552.4 114.8L555.8 114.9L556.3 114.4L551.7 112.1ZM532.7 106.8L531.7 105.6L530.1 106.1L528.6 107L528.5 109L531.7 111.5L533.1 109.9ZM555.1 101L555.4 102.2L553.7 105.6L551.5 107.4L551.2 107.3L550.3 106.3L550.7 101.5L554.2 100.2L555.1 101ZM522.4 103.1L521.7 103.1L521 107.4L521.1 108.3L522.2 108.6L523.2 107.6L524.2 105.8L522.6 103.2ZM527.1 91L527 91L523.5 90.3L521.4 92.6L521.1 92.9L520.8 93.7L521.1 94.6L523.1 96.4L524.6 96.2ZM515.3 91.6L517.2 89.9L517.7 88.4L517.7 88.1L514.1 87.9L514 87.9L514 91.4L514 91.4ZM561.4 105.4L559.4 107.5L559.7 108.8L563.2 111.1L563.2 111.1L563 106ZM544.9 99.5L545.1 100.7L543.3 103.6L543.2 103.7L540.9 103.7L540 102.6L541.7 98.8L544 98.3ZM561 99.4L561.5 100.5L563.8 98.3L563.5 96.7L563.5 96.4L562.7 96.3L561 98.4ZM552.4 114.8L555.8 114.9L554.8 117.1L553 118.2L551.2 117.7L551.9 115.7ZM535.3 107.4L535.9 110.8L533.1 109.9L532.7 106.8L535.1 107.1ZM567.6 122.7L568.3 123L568 126L562 126L563.1 125ZM526.5 99.2L526.7 101.9L527.8 101.7L528.3 101.6L529.6 101L529.9 100.2L529 99.1L528.6 98.8L527 97.9L526.9 98.1ZM527 121.9L528 120.1L528.3 119.8L529.6 119.3L534 121.6L533.3 123.1L531.6 124.6L527.6 124ZM566.1 120.6L566.1 120.7L563.1 125L562 126L561.6 126L560 121.4L560.7 120.5L565.8 120.6ZM557.1 79.6L557.8 77.9L559.1 78.1L560.2 79.7L558.4 80.2ZM517 110.4L514 110.8L514 107.3L516.8 107L517.3 108.2L517 110.4ZM515.8 121.5L519.6 121.9L519.9 121.4L519.6 119.4L518.7 118.8L516.4 118.9Z"/>
<path fill="#78cc54" stroke="#78cc54" stroke-width=".35" d="M527.2 91.1L526.2 97L526.9 97.6L527.6 96.9L528.5 92.7L528.6 91.4ZM547.6 101L548.2 104.6L549.2 101L548.6 100.6ZM566.9 119.2L568.9 119L569.2 113.6L568.9 113.5L566.8 113.2L565.9 118.1ZM557.1 114.2L557.8 114.5L557.7 119.5L554.8 117.1L555.8 114.9L556.3 114.4L556.5 114.3ZM530.8 112.4L528.7 114.8L527.8 113.5L528.8 112.3ZM526.1 110.3L528.1 109.7L528.5 109L528.6 107L528.4 107L526 106.8L524.9 109.9ZM521.4 92.6L517.7 88.4L517.7 88.1L519 86.6L521.9 86.8L523.5 90.3ZM566.1 120.6L566.1 120.7L567.6 122.7L568.3 123L571.8 120.9L568.9 119L566.9 119.2ZM551.8 77.7L550.5 78.3L550.5 76.9L551.9 76L552.6 76L552.7 76.7ZM522.9 99.1L520.2 98.2L519.1 101.4L520.7 103.1L521.7 103.1L522.4 103.1L523 100.4Z"/>
<path fill="#3c3078" stroke="#3c3078" stroke-width=".35" d="M562.6 87.8L562.9 91.3L565.6 90.3L565.8 89.9L565.3 88L564.8 87.1ZM540.3 115.4L543.7 113.3L543 118.4L542.6 118.2ZM527.2 91.1L527.1 91L527 91L527.3 88.2L529.4 85.5L530.3 85.2L531.3 87.8L530.7 90.1L530.2 91L529 91.4L528.6 91.4ZM514 116.9L515.7 117.1L516.9 115.8L514 115.1ZM539.1 119.3L539.4 124.3L535.2 121.6L535.7 120.3L537.2 117.8ZM529.9 100.2L534.1 98.5L536 99.7L536.1 100.1L533.8 103.3L531.9 105.1L529.6 101ZM549.8 87.9L551.1 86.2L548.9 83.7L548.6 83.8L549.2 87.9ZM517.3 108.2L520.1 108.8L521.1 108.3L521 107.4L517.5 106.1L517 106.4L516.8 107ZM556.5 98.5L556.2 97.4L556.6 97L558.2 97.1ZM540.8 77.3L540.8 76L534.3 76L535.8 77.8L536.9 77.9ZM535.9 110.8L537.1 111.5L537.3 112.8L535 114.7L534.3 114.9L532.9 115L531.6 112.3L531.7 111.5L533.1 109.9ZM554.8 83.9L555.8 83.3L556.9 83.9L556.6 86.8L554.6 87.6L554.1 87ZM556.6 86.8L557.4 87.3L558.7 90.2L556.4 92.1L553.7 89.5L554.6 87.6Z"/>
<path fill="#248490" stroke="#248490" stroke-width=".35" d="M572 92.8L570.6 92.9L570.5 94.7L572 95ZM534.3 81L532.8 80.4L532.4 78.3L533.4 76L534.3 76L535.8 77.8L535.7 79.1ZM514 116.9L514 119.2L516.1 118.8L515.7 117.1ZM556.8 79.7L556.7 77L557.8 77.9L557.1 79.6ZM547.6 109.1L551.2 107.3L550.3 106.3L548.2 104.8L543.3 103.6L543.2 103.7L545.3 108.9ZM526.1 112.8L526.1 110.3L524.9 109.9L524.8 109.9L522.9 111.4L522.2 113.4L523.5 113.6L524.9 113.3L526 112.9ZM572 96.1L571.1 96.8L572 97.7ZM527 121.9L525.5 122.3L522.9 126L527.9 126L527.6 124ZM516.5 80.7L516.9 83.6L520.2 82.2L519 80.8L516.5 80.7ZM528.3 101.6L529 104.4L528.5 104L527.8 101.7ZM524.8 109.9L523.2 107.6L524.2 105.8L526 106.8L524.9 109.9ZM547.4 116.8L543.2 118.6L543 118.4L543.7 113.3L543.8 113.1L546.4 113.7L547.6 114.8L547.8 116.4ZM552.8 93.6L552.8 94.5L552 95.8L550.8 94L552.2 93.4ZM565.2 86.3L568.9 82.3L570.5 82.8L568.7 86ZM522.9 99.1L523 100.4L526.5 99.2L526.9 98.1L523 98.9ZM517.7 88.1L514.1 87.9L514.4 87.5L517.3 84.8L519 86.6ZM551.8 77.7L553.9 78.8L554.1 77.3L552.7 76.7ZM552.3 84.8L554.8 83.9L554.1 87L552.3 85.1ZM563.5 96.4L562.7 96.3L561.4 95.3L561.4 95.2L562.9 92.8L564.6 95.8ZM531.4 96.7L530.4 97.3L529 99.1L529.9 100.2L534.1 98.5L533.6 97.5Z"/>
<path fill="#249090" stroke="#249090" stroke-width=".35" d="M565.5 109h1v1.2h-1zM536.9 102.5h1.2v0.7h-1.2zM555.7 100.8h1.6v0.8h-1.6zM527.1 113.3h0.7v1.1h-0.7zM517.1 104.8h1.5v1.5h-1.5z"/>
<path fill="#78cc54" stroke="#78cc54" stroke-width=".35" d="M518.8 103.4h1.2v0.9h-1.2zM568.6 97.7h1.3v1.4h-1.3zM569.9 92.2h0.8v1.4h-0.8zM523.9 112.9h1.3v0.7h-1.3zM542.2 83.1h0.6v0.6h-0.6zM560.9 114.9h1.2v0.9h-1.2zM513.7 78h1.6v0.6h-1.6zM519.1 123.9h0.6v0.9h-0.6z"/>
<path fill="#306090" stroke="#306090" stroke-width=".35" d="M555.8 123.2h1.3v0.7h-1.3zM524.1 110.2h0.7v1h-0.7zM556.8 83.4h0.6v1.1h-0.6zM537.3 101h1.2v1h-1.2zM570 124.9h1v0.7h-1zM565.8 106.7h1v0.8h-1zM560.6 77.3h1.2v0.9h-1.2zM559.6 107.9h1.3v0.7h-1.3zM548 90h1.5v1.1h-1.5zM548.8 93.9h1v1h-1zM514.3 95.3h1v1h-1zM536.4 97.5h0.8v0.6h-0.8zM559.4 92.4h1.3v1.3h-1.3zM551.6 109.1h0.9v1.2h-0.9zM556.7 96h1v1h-1z"/>
<path fill="#3c3078" stroke="#3c3078" stroke-width=".35" d="M519.2 115.4h1.3v1h-1.3zM560.7 105.6h1.1v0.7h-1.1zM555.7 89.4h1.5v1.2h-1.5zM564.4 84.8h1.5v1.2h-1.5z"/>
<path fill="#3c246c" stroke="#3c246c" stroke-width=".35" d="M517.1 93.8h0.8v1.4h-0.8zM537.4 80h0.6v1.4h-0.6zM556.3 92.4h1.3v1.3h-1.3zM537.7 77.5h0.6v0.8h-0.6zM554.7 115.2h1.2v1.2h-1.2zM559.4 99.9h0.8v1.4h-0.8zM567.4 123.1h1.1v0.9h-1.1zM518.1 120h1.6v0.9h-1.6zM523.4 120.3h0.8v1.2h-0.8zM538.5 123h1.2v1.5h-1.2z"/>
<path fill="#480c60" stroke="#480c60" stroke-width=".35" d="M530.5 115.7h1.3v1.5h-1.3zM513.7 85.7h1.3v0.9h-1.3zM515 106h1.4v1h-1.4zM565.6 116.1h1.2v1.1h-1.2zM552.1 77.3h0.7v1.4h-0.7zM522.6 78h0.6v0.8h-0.6zM571.3 102.9h1.2v1.3h-1.2z"/>
<path fill="#309c84" stroke="#309c84" stroke-width=".35" d="M516.4 109h0.8v0.7h-0.8zM558.7 112h1.6v0.7h-1.6zM520.7 106.8h0.8v1.5h-0.8z"/>
<path fill="#248490" stroke="#248490" stroke-width=".35" d="M562.9 115.7h1.4v1.3h-1.4zM538.2 124.8h1.2v0.6h-1.2zM558.4 122.5h1.4v1.5h-1.4zM516.8 107.6h1.4v1.5h-1.4zM554.6 91h1.2v0.8h-1.2zM551.3 85.4h0.8v0.8h-0.8zM530 76h0.8v1.2h-0.8zM541.5 120.1h1.5v1.2h-1.5z"/>
<path fill="#307890" stroke="#307890" stroke-width=".35" d="M566.6 93.9h1.5v1.1h-1.5zM542.2 108.2h1.5v1.1h-1.5zM543.8 118.9h1.3v1.4h-1.3zM514.1 115.5h1.4v1h-1.4zM537.4 113.3h1.5v0.7h-1.5z"/>
<path fill="#480054" stroke="#480054" stroke-width=".35" d="M515.3 91.5h1.4v0.8h-1.4zM554.4 89.9h1.6v0.7h-1.6zM525.7 82.1h1.2v1.6h-1.2zM533 99.3h0.9v1h-0.9zM538.4 115.1h1.3v0.8h-1.3z"/>
<path fill="#3c5490" stroke="#3c5490" stroke-width=".35" d="M517.9 80.9h1.5v1h-1.5zM560.2 125.1h0.8v1.4h-0.8zM529.2 108.7h1.5v1h-1.5zM570 121.4h1.4v1.5h-1.4zM553.9 106.5h1.5v1.1h-1.5zM520.3 91.2h0.8v0.7h-0.8zM563.5 79.4h1.2v1.3h-1.2zM567.2 124.8h1.3v1.5h-1.3zM551.3 101.7h1v0.6h-1zM556.3 87h0.8v1.4h-0.8zM544.1 88.7h0.9v1.2h-0.9z"/>
<path fill="#306c90" stroke="#306c90" stroke-width=".35" d="M551.8 109.3h1.3v1.3h-1.3zM549.6 85h0.8v1.5h-0.8zM568.7 88.2h0.7v1.5h-0.7z"/>
<path fill="#48b478" stroke="#48b478" stroke-width=".35" d="M534.7 75.6h0.8v1.3h-0.8zM554.8 80.3h0.9v0.7h-0.9zM525.7 76.5h0.7v1.1h-0.7zM570.3 111.9h1.3v0.9h-1.3zM530 107.8h1.3v1.5h-1.3zM513.6 109.7h1.4v1.1h-1.4zM559.2 94.9h0.8v1.5h-0.8z"/>
<path fill="#d8e430" stroke="#d8e430" stroke-width=".35" d="M547.8 121.9h1.4v1h-1.4zM525.8 109.6h0.6v1.6h-0.6zM544.3 114.6h0.9v0.9h-0.9zM536.8 86.8h1.5v1.3h-1.5z"/>
<path fill="#3c3c84" stroke="#3c3c84" stroke-width=".35" d="M561.2 83.8h1.2v1.5h-1.2zM564.9 100.9h1.6v0.8h-1.6zM531.2 91h0.8v0.8h-0.8zM521.3 76.7h1.4v0.7h-1.4zM525.1 121.6h1.3v1.1h-1.3z"/>
</g>
<rect x="516" y="70" width="45" height="6.5" fill="#fff"/><rect x="518" y="72.3" width="38" height="1.2" fill="#9a9a9a"/>
<line x1="558" y1="93" x2="571" y2="69" stroke="#555" stroke-width="0.6"/>
<g clip-path="url(#uc1m)"><rect x="571" y="69" width="56.7" height="56" fill="url(#uc1rg)"/>
<path fill="#0c000c" stroke="#0c000c" stroke-width=".35" d="M625.1 111.1L625.3 109.4L629 108.2L629 110.8L625.2 111.8ZM577.6 98.4L576.3 100.2L576.5 100.3L579.6 98.1L579.2 97.9ZM580 103.4L579.8 104.6L581 108.5L582.9 107.7L582.5 104.5ZM575 81.2L573.3 81.1L572.2 82L572 83.7L575.1 83.3L575.7 83.1ZM586.9 107.9L585.9 112.3L586.4 112.9L588.6 111.8L589.7 108.1L589.6 107.7L587.6 107.6ZM594 96.9L594.4 94L593.7 93.8L592.2 93.5L592.9 96.2ZM609.4 122L610 123.5L610.1 123.5L611.3 123.1L611.4 122.4L610.8 121.5L609.9 121.8ZM596.8 119.4L596.8 120.8L594.5 125.3L593.9 125.9L593.2 124.7L593.4 120.5L593.8 119.8L596.6 118.9ZM610.1 123.5L611.3 123.1L611.5 123.3L611.2 124.2ZM582.2 82.8L580.8 84.5L578.8 84.4L579.3 81.4L580.8 80.4L581.8 80.1ZM623 114.4L624.9 113.2L625.3 112.7L625.2 111.8L625.1 111.1L620.4 110.5L619.9 111.1L620.9 114.4L620.9 114.4ZM586.5 95.3L586.7 95.3L585.8 98.9L583.9 98.3L582.1 95L582.1 94.9ZM604.2 117L600.2 114.8L599.1 116.5L599.3 116.8L601.8 119.1L604.2 117.4ZM581.4 93.8L580 93.7L579.9 93.7L577.8 96.6L578.1 97L579.2 97.9L579.6 98.1L580.6 98.3L582.1 95L582.1 94.9ZM609.8 110.8L610.7 111L614.6 109.9L612.4 107.8L610.6 108.4ZM609.4 122L610 123.5L609 126L608.5 126L607.3 124L609.4 122ZM593.4 120.5L590.3 121.4L592.1 124L593.2 124.7ZM595.5 91.4L594.5 91.6L592 92.1L593.1 90L594.9 88.6L595.6 89L595.6 91.3ZM579.3 110.3L581 108.5L582.9 107.7L584.4 108.1L584.1 109.9L580.7 112.3L580 111.8ZM617.3 77.9L616 80.1L613.1 79.2L612.9 78.2L612.9 77.1L613 76.9L613.1 76.7L616.7 77ZM594.1 98.5L590.7 98L590.2 96.8L592.9 96.2L594 96.9L594.2 97.2L594.2 98.4ZM580 103.4L579.8 104.6L577.5 107.6L575.4 106.1L575.3 105.1L578.1 102.4L579.6 102.6ZM611 111.4L612.2 112.4L611.3 112.9ZM587.8 123.5L588.1 122.3L588.1 122.2L586.1 121.2L584.3 121.8L584.2 122L585.4 123.6L585.4 123.6ZM603 86L601 86.9L599.1 87L598.7 85.7L603.4 82.8L603 85.9ZM603.9 104L601 102.7L599.6 106.1L601.7 108ZM570 126L570 123.6L573.7 123.9L573.8 124.6L573.2 126ZM603.3 98.3L606.3 102.9L605.9 103.2L603.9 104L601 102.7L600.9 102.6L601.1 99.1ZM617.4 125.7L618.1 124.8L618.1 118.3L617.7 117.7L616.1 117.1L613.6 118.4L615 121.7ZM612.2 95.1L612.2 95.1L607.9 96.2L609.7 99.6L613.1 99.5L614.1 97.2ZM602.7 90.4L602.7 90.4L601 86.9L599.1 87L598.4 88.4L600.1 91.3L600.4 91.3ZM606.9 112.4L607.1 112.1L609.2 111.5L610.1 114.5L610.1 116L608.7 115.5ZM620.4 77.7L622.5 78.3L623.4 78.1L623.7 77.6L622 75.3L620.1 75.9ZM604.3 95.8L604.6 93L605.6 92.2L608.5 93.6L607.6 96L604.4 95.9ZM605.1 108.3L605.9 110.6L604.5 111L603.1 108.6ZM594.1 98.5L594.1 98.6L593 100.6L591 100.8L590.4 99.6L590.4 99.4L590.7 98ZM597.2 112.3L595.2 109.8L596.3 108.8L597.3 109.2L597.7 111.2L597.3 112.3ZM609.9 104.6L613.4 103.4L614.3 102.2L613.7 101L609.5 104.4ZM605.2 87.4L604.7 87L607 83.9L608 85.1L607.2 87.9L607.1 88.1ZM594.7 103.4L590.3 103.8L589.8 107.6L593.1 107.1L595.9 105L596 104.9L595.9 104.1ZM623.2 120.1L627.5 120.2L628.5 119.6L625.2 118L624 118.8ZM580.6 98.3L579.6 98.1L576.5 100.3L578.1 102.4L579.6 102.6L580.9 100.9L581.1 100.4ZM582.9 91.2L585 88.1L587.4 88.1L588.7 88.8L588.6 90.9L584.7 91.4ZM603.3 95.3L601.6 93.3L599.3 95.2ZM585.4 103.2L584.5 103.8L582.5 104.5L580 103.4L579.6 102.6L580.9 100.9L584.9 102.7ZM579 110.2L579.3 110.3L580 111.8L578.6 113.5L575.4 113.9L575.4 113.1ZM604.2 117.4L601.8 119.1L601.6 120.7L602.9 122.4L603.1 122.4L605.2 120.2L605.3 119.8ZM612.2 95.1L612.2 95.1L609.9 91.1L612.1 89.9L613.6 92.8ZM625.1 111.1L625.3 109.4L624.4 107.7L622.4 106.8L622.3 106.8L620.9 107.7L620.4 110.5ZM596.8 105.3L599.6 106.1L601.7 108L601.7 108.2L601.3 108.7L600.6 108.9L598.2 108.7ZM582.7 91.2L581.4 93.8L582.1 94.9L586.5 95.3L584.7 91.4L582.9 91.2ZM611.2 124.2L612 126L617.1 126L611.5 123.3ZM604.7 116.6L605.5 115.5L608.7 115.5L610.1 116L610.8 116.8L610.3 117.2L609.2 118.1ZM572.7 102.1L572.6 102.3L574.7 104.8L575.3 105.1L578.1 102.4L576.5 100.3L576.3 100.2L575.9 100ZM609.3 104.4L609.5 104.4L613.7 101L613.1 99.5L613.1 99.5L609.7 99.6L607.1 102.9L607.8 103.7ZM607.6 89.8L609.8 91.1L608.5 93.6L605.6 92.2L607 90.2ZM575.2 77.1L573.8 76.7L572.9 79.7L573.3 81.1L575 81.2L575.3 80.9L575.4 78.6ZM589.7 108.1L588.6 111.8L590.9 113.7L591.9 111ZM577.6 98.4L578.1 97L579.2 97.9ZM580.7 112.3L584.1 109.9L585.1 112L581.3 112.8ZM612.2 86.4L612.2 86.7L607.2 87.9L608 85.1L611.2 85.1ZM606.9 112.4L607.1 112.1L606.4 110.7L605.9 110.6L604.5 111L604.2 112.7L605.1 113.4ZM613 76.9L608.2 73.8L611.6 71.7L611.6 71.7L611.8 71.9L613.3 75.8L613.1 76.7ZM626.4 124.6L626.5 126L625.2 126L622.4 123.9ZM617.3 126L625.2 126L622.4 123.9L620.4 123.1L618.1 124.8L617.4 125.7ZM622.5 120.5L620.4 123.1L618.1 124.8L618.1 118.3L621.9 119.8ZM607.8 103.7L607.1 102.9L606.3 102.9L605.9 103.2L605.6 108.1L607.4 108.4L607.8 108ZM603.9 104L601.7 108L601.7 108.2L603.1 108.6L605.1 108.3L605.6 108.1L605.9 103.2ZM596.8 119.4L599.1 120.5L599.8 123.8L598.8 123.9L598.6 123.8L596.8 120.8ZM585 116.8L584 114.9L581.9 114.5L581 118L581.1 118.1ZM594.2 98.4L598.8 98L598.4 96.3L596.8 95.5L594.2 97.2ZM589.8 102.7L590.3 103.8L589.8 107.6L589.6 107.7L587.6 107.6L585.5 103.2L586.9 101.8ZM584.7 91.4L588.6 90.9L589.4 92.7L588.4 94.7L586.7 95.3L586.5 95.3ZM604.3 116.9L604.2 117L604.2 117.4L605.3 119.8L608.2 119.3L608.8 118.5ZM616.9 105.5L612.7 106.2L612.4 106.4L612.4 107.8L614.6 109.9L615.4 110.2L617.2 106.5L617 105.5ZM579 110.2L575.4 113.1L574.2 111.5L575.9 110.2L578.8 110.1ZM586.3 83.9L590 84.4L586.5 85.6L586 84.8ZM603.3 95.3L604.3 95.8L604.4 95.9L603.3 98.3L601.1 99.1L599.1 98.5L598.8 98L598.4 96.3L599.2 95.2L599.3 95.2ZM600.8 120.6L599.1 120.5L599.8 123.8L600.5 124L602.9 122.4L601.6 120.7ZM613.4 103.4L612.7 106.2L616.9 105.5L615.2 102.7L614.3 102.2ZM599.1 91.9L595.6 91.3L595.5 91.4L595.9 93.2ZM591.9 111L590.9 113.7L591.1 115.3L594.2 115L594.5 114.3L592.6 111.1ZM609.9 121.8L610.8 121.5L613.1 118.2L611.6 117L610.8 116.8L610.3 117.2ZM597.7 111.2L600.6 108.9L598.2 108.7L597.3 109.2ZM619 102.3L621.2 103L620.7 104.3L618.6 104.3ZM621.6 118.9L619.3 116.9L620.6 114.5L620.9 114.4L620.9 114.4ZM572.9 75.9L570 76.3L570 71.4L572.8 71.2L573.9 72.3ZM582.9 71.7L583.4 68.8L587.3 70L587.4 71.1ZM586.3 117.9L583 119.5L581.1 118.1L585 116.8L586.5 117.5ZM618.1 100.2L619.5 100.2L619.7 100.3L619 102.3L618.1 102.1ZM602.9 122.4L603.1 122.4L604.1 123.7L604.2 126L600.7 126L600.5 124ZM577 124.3L576.8 124.8L577.2 126L580.4 126L579.8 124.4ZM585.4 103.2L584.5 103.8L584.4 108.1L586.9 107.9L587.6 107.6L585.5 103.2ZM571.1 98.4L570 97.7L570 103.5L572.6 102.3L572.7 102.1Z"/>
<path fill="#e484c0" stroke="#e484c0" stroke-width=".35" d="M570 106.3L574.7 104.8L572.6 102.3L570 103.5ZM573 69.1L572.8 68L575.9 68L575.8 69.1ZM625.9 103.1L623.6 102.9L623.5 104.2L626.2 105.3ZM580 89.4L579 89.8L577 89.1L575.9 87.4L577.8 85.3L577.9 85.3L580.1 87.4ZM617.3 77.9L619.2 79L620.4 77.7L620.1 75.9L618.7 74.6L616.7 77ZM612.9 77.1L607.6 78L605.9 75.5L606.1 74L608.2 73.8L613 76.9Z"/>
<path fill="#9c54e4" stroke="#9c54e4" stroke-width=".35" d="M577 93L575.7 96.8L577.8 96.6L579.9 93.7L577.2 92.9ZM589.1 96L588.7 98.8L586.9 100.1Z"/>
<path fill="#4818a8" stroke="#4818a8" stroke-width=".35" d="M597.3 109.2L598.2 108.7L596.8 105.3L596 104.9L595.9 105L596.3 108.8ZM609.9 104.6L612.4 106.4L612.7 106.2L613.4 103.4ZM607 122.2L606.9 123.6L604.1 123.7L603.1 122.4L605.2 120.2ZM616.7 101.9L615.2 102.7L616.9 105.5L617 105.5L618.6 104.3L619 102.3L619 102.3L618.1 102.1ZM595.9 84.8L594.5 86.8L594.3 87.6L594.9 88.6L595.6 89L598.4 88.4L599.1 87L598.7 85.7L598.7 85.6L597.1 84.3ZM619.1 70.3L616.8 69.4L616.8 73.2L618.6 74.2L619.4 73.3L620.3 70.8ZM587.5 125.1L587.6 126L585.2 126L585.4 123.6L585.4 123.6ZM601.1 99.1L600.9 102.6L596.9 102.8L597.1 101.1L599.1 98.5Z"/>
<path fill="#fce49c" stroke="#fce49c" stroke-width=".35" d="M626.3 105.5L629 105.6L629 108.2L625.3 109.4L624.4 107.7ZM589.2 76.6L590.5 75.5L592 75.2L594.7 76.3L590 79.5ZM624 118.8L625.2 118L626.2 116.8L624.9 113.2L623 114.4ZM629 97.7L629 93.4L625.8 95.1L625.6 96.9ZM625.9 75.1L625.9 74.5L626.1 73.7L629 73.3L629 75.5L627.1 75.6ZM611.2 85.1L608 85.1L607 83.9L606 82.2L607.5 80.8L609.1 81.4L610.6 83L611.2 84.6Z"/>
<path fill="#e484cc" stroke="#e484cc" stroke-width=".35" d="M589.2 76.6L590.5 75.5L590.1 72.7L588.4 72L588.1 72L587.1 74L588.3 76.2ZM586 84.8L586.5 85.6L587.4 88.1L585 88.1L583.9 86.9L584 85.5ZM618.7 74.6L618.6 74.2L619.4 73.3L622.1 73.6L622.5 74.5L622 75.3L620.1 75.9ZM619.4 83.5L619.4 83.5L618.8 84.5L618.7 88.7L618.7 88.8L620.2 89.9L624 88.1L624.4 86.3L624.3 84.1L621.6 83.4ZM621.5 69.7L622.8 69.4L624.5 69.8L624.4 70.3L624.2 71.1L621.4 70.7L621.2 70.5ZM581.8 80.1L580.8 80.4L579.1 77.8L579.9 77L580.4 76.9L582.1 79.9ZM624.1 79.6L627.9 79.9L625.4 76.6L623.7 77.6L623.4 78.1Z"/>
<path fill="#f09cb4" stroke="#f09cb4" stroke-width=".35" d="M588.1 72L588.4 72L591.8 68L588.2 68L587.3 70L587.4 71.1ZM628.2 101.1L625.9 103.1L623.6 102.9L622.6 101.5L622.6 101.3L624.9 99.5Z"/>
<path fill="#f0a8b4" stroke="#f0a8b4" stroke-width=".35" d="M571.1 98.4L575 98.1L575.9 100L572.7 102.1ZM602.3 81L604.2 76.8L600.9 76.1L600.9 80L601 80.7L601.3 80.8ZM629 122.7L629 126L626.5 126L626.4 124.6L626.5 123.6L626.6 123.5ZM575.7 83.1L575.1 83.3L572 86.1L573.6 87.8L575.9 87.4L577.8 85.3ZM617.3 77.9L616 80.1L616.5 80.6L619.2 79.7L619.2 79ZM584.6 82.1L582.2 79.9L582.1 79.9L581.8 80.1L582.2 82.8L583.6 83.4ZM616 80.1L616.5 80.6L616.5 81.7L615.7 82.2L614.8 82.2L613.5 81.5L613 79.8L613.1 79.2ZM578 77.6L577.4 77.7L575.7 76.9L577.8 74.2L578.3 74.4L578.7 75.9ZM578.1 68L575.9 68L575.8 69.1L576.3 70.6L577.7 70.2ZM572 86.1L573.6 87.8L572.5 90.4L570.2 93.1L570 93.2L570 85.4L571.2 85.4Z"/>
<path fill="#a8a8b4" stroke="#a8a8b4" stroke-width=".35" d="M609.2 111.5L609.5 111.1L607.5 109.1L606.4 110.7L607.1 112.1ZM578.4 77.8L578.7 80.9L579.3 81.4L580.8 80.4L579.1 77.8ZM614.1 97.2L613.1 99.5L613.1 99.5L617.5 99.8L617.3 96.8L615.8 96.2ZM594 83.6L595.9 84.8L594.5 86.8L593.2 85ZM621.2 68L619.8 68L619.1 70.3L620.3 70.8L621.2 70.5L621.5 69.7ZM575.8 115.7L575.2 115L575.1 114.5L575.4 113.9L578.6 113.5L577.9 115.6L576.8 116ZM586.8 100.2L586.8 100.3L590.4 99.6L590.4 99.4L588.7 98.8L586.9 100.1ZM603 85.9L603.4 82.8L603.6 82.3L606 82.2L607 83.9L604.7 87L604.7 87ZM613.1 118.2L613.6 118.4L615 121.7L611.4 122.4L610.8 121.5ZM595.8 93.7L594.4 94L593.7 93.8L594.5 91.6L595.5 91.4L595.9 93.2ZM577.5 79.7L575.4 78.6L575.3 80.9L578 80.6ZM577.6 98.4L576.3 100.2L575.9 100L575 98.1L575.3 97L575.7 96.8L577.8 96.6L578.1 97ZM620.4 110.5L620.9 107.7L617.2 106.5L615.4 110.2L615.6 110.8L619.9 111.1ZM604.3 116.9L608.8 118.5L609.2 118.1L604.7 116.6ZM598.2 126L600.7 126L600.5 124L599.8 123.8L598.8 123.9ZM610.7 111L614.6 109.9L615.4 110.2L615.6 110.8L615.5 111.3L614 112.6L612.2 112.4L611 111.4ZM617.8 100.1L616.7 101.9L618.1 102.1L618.1 100.2ZM616.1 94.7L615.8 96.2L614.1 97.2L612.2 95.1L613.6 92.8L615.6 93.5L616.1 94.5ZM610.1 116L610.8 116.8L611.6 117L614 112.6L612.2 112.4L611.3 112.9L610.1 114.5ZM607.6 89.8L607.1 88.1L605.2 87.4L603.7 90.1L607 90.2ZM581.3 112.8L585.1 112L585.9 112.3L586.4 112.9L586.5 113.5L584 114.9L581.9 114.5ZM579 110.2L579.3 110.3L581 108.5L579.8 104.6L577.5 107.6L578.8 110.1ZM593.4 120.5L590.3 121.4L589.6 121.1L589.7 119.8L590.4 117.6L593.8 119.8ZM596.8 120.8L598.6 123.8L594.5 125.3Z"/>
<path fill="#6c30cc" stroke="#6c30cc" stroke-width=".35" d="M624.6 83.8L624.3 84.1L624.4 86.3L628.5 86.5L627.4 83.9L625.7 83.3ZM629 77.4L627.1 75.6L629 75.5ZM599.6 91.8L599.2 93L596.1 94L595.8 93.7L595.9 93.2L599.1 91.9ZM596.9 102.8L600.9 102.6L601 102.7L599.6 106.1L596.8 105.3L596 104.9L595.9 104.1ZM603.3 95.3L604.3 95.8L604.6 93L602.8 90.4L602.7 90.4L600.4 91.3L601.6 93.3Z"/>
<path fill="#f09cc0" stroke="#f09cc0" stroke-width=".35" d="M571.1 98.4L570 97.7L570 93.2L570.2 93.1L573 94.2L575.3 97L575 98.1ZM572.9 79.7L570 79L570 80.5L572.2 82L573.3 81.1ZM615.7 73.5L613.3 75.8L611.8 71.9L614 71.6ZM583.4 68.8L583.3 68L588.2 68L587.3 70ZM626.5 68L624.5 69.8L622.8 69.4L623.7 68Z"/>
<path fill="#6030c0" stroke="#6030c0" stroke-width=".35" d="M599.3 95.2L599.2 95.2L599.2 93L599.6 91.8L600.1 91.3L600.4 91.3L601.6 93.3ZM584.6 77.8L588.3 76.2L587.1 74L582.8 74L584.2 77.7ZM583.7 100.5L584.9 102.7L585.4 103.2L585.5 103.2L586.9 101.8L586.8 100.3L586.8 100.2L585.9 99.3ZM609.8 91.1L609.9 91.1L612.2 95.1L607.9 96.2L607.6 96L608.5 93.6ZM602.7 90.4L602.7 90.4L602.9 89.6L604.7 87L604.7 87L605.2 87.4L603.7 90.1L602.8 90.4ZM616.1 94.7L620.4 94.3L620.4 96.2L618.2 96.9L617.3 96.8L615.8 96.2ZM606.9 112.4L608.7 115.5L605.5 115.5L605.1 113.4ZM584.6 82.1L585.9 82.2L586.3 83.9L586 84.8L584 85.5L583.3 84.7L583.6 83.4ZM616.1 94.5L620.3 90.8L620.2 89.9L618.7 88.8L615.8 90L615.6 93.5ZM617.8 100.1L617.5 99.8L613.1 99.5L613.7 101L614.3 102.2L615.2 102.7L616.7 101.9ZM616.1 94.7L620.4 94.3L620.8 92L620.3 90.8L616.1 94.5ZM610.1 123.5L610 123.5L609 126L612 126L611.2 124.2ZM578.8 110.1L577.5 107.6L575.4 106.1L573.7 107.9L575.9 110.2Z"/>
<path fill="#f0b4a8" stroke="#f0b4a8" stroke-width=".35" d="M573.6 116.1L573.3 116.9L570 116L570 112.9L570.3 113ZM612.6 69.8L611.6 71.7L611.6 71.7L610.1 70L611.1 68L612.7 68L612.7 68.4ZM575.1 72.1L576.3 70.6L575.8 69.1L573 69.1L572.8 71.2L573.9 72.3ZM582.7 91.2L582.4 90.8L581.9 87.7L582.3 87.4L583.9 86.9L585 88.1L582.9 91.2Z"/>
<path fill="#f0c0a8" stroke="#f0c0a8" stroke-width=".35" d="M575.7 116.1L573.8 118.5L573.8 118.7L573.8 118.7L576 118.7ZM592.9 71.3L595.3 76L594.9 76.3L594.7 76.3L592 75.2L592.5 71.7ZM619.2 79.7L619.5 80.3L619.4 83.5L619.4 83.5L616.5 81.7L616.5 80.6ZM614.7 84.9L616 84.3L618.8 84.5L618.7 88.7L614.1 85.7ZM598.4 80.8L597.8 81.2L594.3 80.2L595 77.1ZM625.9 73.3L626.1 73.7L625.9 74.5L622.5 74.5L622.1 73.6L622.5 72.5L624.8 72.5ZM575.7 116.1L573.8 118.5L573.3 116.9L573.6 116.1L575.2 115L575.8 115.7ZM578.4 77.8L579.1 77.8L579.9 77L578.7 75.9L578 77.6ZM605.8 72.2L603.1 68L607.8 68L607.9 69.5ZM612.9 79.9L610.6 83L609.1 81.4ZM629 101.1L628.2 101.1L624.9 99.5L624.8 98L625.6 96.9L629 97.7ZM586.3 83.9L590 84.4L590.2 84.4L590.8 81.4L589.9 80.4L587.3 80.8L585.9 82.2ZM570 68L572.8 68L573 69.1L572.8 71.2L570 71.4Z"/>
<path fill="#cc78cc" stroke="#cc78cc" stroke-width=".35" d="M570 80.5L570 85.4L571.2 85.4L572 83.7L572.2 82ZM580 89.4L580.1 87.4L581.9 87.7L582.4 90.8ZM580.2 68L579.7 70.9L579.1 70.9L577.7 70.2L578.1 68ZM616.8 73.2L618.6 74.2L618.7 74.6L616.7 77L613.1 76.7L613.3 75.8L615.7 73.5ZM626.5 116.8L629 117.9L629 115.8L627.7 115.6ZM584.6 77.8L588.3 76.2L589.2 76.6L590 79.5L589.9 80.4L587.3 80.8Z"/>
<path fill="#6c3cd8" stroke="#6c3cd8" stroke-width=".35" d="M595.2 109.8L594.6 109.8L593.1 107.1L595.9 105L596.3 108.8ZM583.6 83.4L583.3 84.7L581.5 84.8L580.8 84.5L582.2 82.8ZM590.1 72.7L592.5 71.7L592 75.2L590.5 75.5ZM624 88.1L625.2 89.1L629 88.6L629 86.7L628.5 86.5L624.4 86.3ZM594.1 98.5L594.1 98.6L597.1 101.1L599.1 98.5L598.8 98L594.2 98.4ZM621.9 119.8L618.1 118.3L617.7 117.7L619.3 116.9L621.6 118.9ZM619.4 83.5L616.5 81.7L615.7 82.2L616 84.3L618.8 84.5ZM575.8 120.9L573.6 119.5L573.8 118.7L576 118.7L577.1 119L578.2 119.9ZM608.6 121.2L609.4 122L607.3 124L606.9 123.6L607 122.2Z"/>
<path fill="#f0d89c" stroke="#f0d89c" stroke-width=".35" d="M622.5 120.5L621.9 119.8L621.6 118.9L620.9 114.4L623 114.4L624 118.8L623.2 120.1L622.9 120.4ZM621.2 68L623.7 68L622.8 69.4L621.5 69.7ZM590.2 84.4L590.3 84.7L593.2 85L594 83.6L593.3 82.1L592.6 81.5L590.8 81.4ZM578.2 119.9L577.1 119L576.8 116L577.9 115.6L580.7 118.1L578.9 120.1ZM582.6 126L581.2 122.2L584 122.1L582.7 126ZM624.8 98L623.2 97.2L623.7 94.6L624.1 94L625.8 95.1L625.6 96.9ZM614.7 84.6L614.8 82.2L613.5 81.5L613.2 82.4ZM582.6 72.4L579.7 70.9L579.1 70.9L577.7 74L577.8 74.2L578.3 74.4L582.3 74L582.6 73.8Z"/>
<path fill="#e478cc" stroke="#e478cc" stroke-width=".35" d="M577.1 123L577 124.3L579.8 124.4L579.6 121.8L579.1 121.1ZM575.7 116.1L576 118.7L577.1 119L576.8 116L575.8 115.7ZM629 68L627.2 68L626.4 71.1L626.2 72.6L629 70.5ZM624.1 94L623.9 93.6L620.8 92L620.4 94.3L620.4 96.2L620.8 96.5L623.7 94.6ZM573.8 118.5L573.3 116.9L570 116L570 117.4L573.8 118.7Z"/>
<path fill="#7848e4" stroke="#7848e4" stroke-width=".35" d="M627.5 120.2L626.6 123.5L629 122.7L629 119.5L628.5 119.6ZM621 100.1L619.7 100.3L619.5 100.2L618.2 96.9L620.4 96.2L620.8 96.5L621.2 97.1ZM589.6 121.1L588.1 122.2L586.1 121.2L586.4 119.4L589.7 119.8Z"/>
<path fill="#783cd8" stroke="#783cd8" stroke-width=".35" d="M587.5 125.1L587.6 126L588.4 126L590 124L588.1 122.3L587.8 123.5ZM577.4 77.7L575.7 76.9L575.2 77.1L575.4 78.6L577.5 79.7ZM629 101.1L628.2 101.1L625.9 103.1L626.2 105.3L626.3 105.5L629 105.6ZM607.6 89.8L609.8 91.1L609.9 91.1L612.1 89.9L612.3 89.7L612.2 86.7L607.2 87.9L607.1 88.1ZM597.2 112.3L595.6 113.1L594.5 114.3L594.2 115L596.8 118.2L599.1 116.5L600.2 114.8L600.2 114.3L597.3 112.3ZM604.4 95.9L607.6 96L607.9 96.2L609.7 99.6L607.1 102.9L606.3 102.9L603.3 98.3ZM598.4 80.7L601 80.7L600.9 80L598.1 75.4L597.8 75.5ZM592.6 111.1L594.5 114.3L595.6 113.1L593.8 110.6ZM594.2 68L592.9 71.3L595.3 76L596.4 75.5L595.6 68.3L595.3 68ZM605.7 73.1L600.9 72.8L600 70.6L603.1 68L603.1 68L605.8 72.2ZM596.4 75.5L595.6 68.3L596.8 69.1L598.6 75.2L598.1 75.4L597.8 75.5ZM582.7 91.2L582.4 90.8L580 89.4L579 89.8L580 93.7L581.4 93.8ZM577.9 115.6L578.6 113.5L580 111.8L580.7 112.3L581.3 112.8L581.9 114.5L581 118L580.7 118.1ZM589.7 119.8L590.4 117.6L590 116.5L588.2 116.2L586.5 117.5L586.3 117.9L586.4 119.4ZM579.1 121.1L579.6 121.8L581.2 122.2L584 122.1L584.2 122L584.3 121.8L583 119.5L581.1 118.1L581 118L580.7 118.1L578.9 120.1ZM588.1 122.3L588.1 122.2L589.6 121.1L590.3 121.4L592.1 124L590 124ZM586.5 117.5L588.2 116.2L586.5 113.5L584 114.9L585 116.8ZM623.7 94.6L620.8 96.5L621.2 97.1L623.2 97.2Z"/>
<path fill="#f0cca8" stroke="#f0cca8" stroke-width=".35" d="M621.9 80.3L623.9 81.2L624.6 83.8L624.3 84.1L621.6 83.4ZM582.9 71.7L587.4 71.1L588.1 72L587.1 74L582.8 74L582.6 73.8L582.6 72.4ZM614.1 85.7L618.7 88.7L618.7 88.8L615.8 90L612.3 89.7L612.2 86.7L612.2 86.4ZM626.2 116.8L625.2 118L628.5 119.6L629 119.5L629 117.9L626.5 116.8ZM623.9 81.2L624.6 83.8L625.7 83.3L627.9 79.9L627.9 79.9L624.1 79.6ZM582.7 126L585.2 126L585.4 123.6L584.2 122L584 122.1ZM612.6 69.8L612.7 68.4L614.9 70ZM626.2 105.3L626.3 105.5L624.4 107.7L622.4 106.8L623.5 104.2ZM589.9 80.4L590.8 81.4L592.6 81.5L594.3 80.2L595 77.1L594.9 76.3L594.7 76.3L590 79.5ZM619.2 79L619.2 79.7L619.5 80.3L621.8 80.2L622.5 78.3L620.4 77.7ZM625.2 111.8L629 110.8L629 113.4L627.1 113.3L625.3 112.7ZM603.1 68L600 70.6L596.8 69.1L595.6 68.3L595.3 68Z"/>
<path fill="#8448e4" stroke="#8448e4" stroke-width=".35" d="M624.2 71.1L621.4 70.7L622.5 72.5L624.8 72.5ZM597.3 112.3L600.2 114.3L601.4 112.9L601.3 108.7L600.6 108.9L597.7 111.2ZM593.7 93.8L594.5 91.6L592 92.1L591.3 92.7L592.2 93.5ZM590.7 98L590.4 99.4L588.7 98.8L589.1 96L589.2 95.9L590.2 96.8ZM627.7 115.6L629 115.8L629 113.4L627.1 113.3ZM598.4 80.8L595 77.1L594.9 76.3L595.3 76L596.4 75.5L597.8 75.5L598.4 80.7ZM593.9 125.9L593.9 126L588.4 126L590 124L592.1 124L593.2 124.7ZM626.2 72.6L629 70.5L629 73.3L626.1 73.7L625.9 73.3ZM575.1 72.1L576.3 70.6L577.7 70.2L579.1 70.9L577.7 74Z"/>
<path fill="#783ce4" stroke="#783ce4" stroke-width=".35" d="M612.9 79.9L613 79.8L613.1 79.2L612.9 78.2L607.6 80.7L607.5 80.8L609.1 81.4ZM609.2 111.5L609.5 111.1L609.8 110.8L610.7 111L611 111.4L611.3 112.9L610.1 114.5ZM575.4 113.1L575.4 113.9L575.1 114.5L570.3 113L570 112.9L570 111.1L574.2 111.5ZM600.8 120.6L599.3 116.8L601.8 119.1L601.6 120.7ZM573.7 122.9L573.7 123.9L570 123.6L570 122.9L573.2 122.1Z"/>
<path fill="#6c3ccc" stroke="#6c3ccc" stroke-width=".35" d="M573.2 122.1L570 122.9L570 120L572.9 120.5ZM629 93.2L625.9 91L625.2 89.1L629 88.6ZM582.3 100.1L583.9 98.3L585.8 98.9L585.9 99.3L583.7 100.5ZM625.3 112.7L627.1 113.3L627.7 115.6L626.5 116.8L626.2 116.8L624.9 113.2ZM608.8 118.5L608.2 119.3L608.6 121.2L609.4 122L609.4 122L609.9 121.8L610.3 117.2L609.2 118.1ZM627.9 79.9L625.4 76.6L625.9 75.1L627.1 75.6L629 77.4L629 79.8L627.9 79.9ZM584.5 103.8L582.5 104.5L582.9 107.7L584.4 108.1L584.4 108.1ZM575.9 110.2L573.7 107.9L570 109.5L570 111.1L574.2 111.5ZM590.4 99.6L591 100.8L589.8 102.7L586.9 101.8L586.8 100.3Z"/>
<path fill="#c06cd8" stroke="#c06cd8" stroke-width=".35" d="M594.5 125.3L598.6 123.8L598.8 123.9L598.2 126L593.9 126L593.9 125.9ZM611.3 123.1L611.4 122.4L615 121.7L617.4 125.7L617.3 126L617.1 126L611.5 123.3ZM617 105.5L617.2 106.5L620.9 107.7L622.3 106.8L620.7 104.3L618.6 104.3ZM589.4 92.7L591.3 92.7L592.2 93.5L592.9 96.2L590.2 96.8L589.2 95.9L588.4 94.7ZM589.8 107.6L589.6 107.7L589.7 108.1L591.9 111L592.6 111.1L593.8 110.6L594.6 109.8L593.1 107.1Z"/>
<path fill="#3c189c" stroke="#3c189c" stroke-width=".35" d="M586.1 121.2L584.3 121.8L583 119.5L586.3 117.9L586.4 119.4ZM575.1 83.3L572 86.1L571.2 85.4L572 83.7ZM617.8 100.1L617.5 99.8L617.3 96.8L618.2 96.9L619.5 100.2L618.1 100.2ZM622.6 101.3L621 100.1L619.7 100.3L619 102.3L619 102.3L621.2 103L622.6 101.5ZM590.2 87.1L594.3 87.6L594.9 88.6L593.1 90L589.2 88.3ZM603 86L602.9 89.6L604.7 87L603 85.9ZM594.2 97.2L596.8 95.5L596.1 94L595.8 93.7L594.4 94L594 96.9Z"/>
<path fill="#9054e4" stroke="#9054e4" stroke-width=".35" d="M629 86.7L629 83.9L627.4 83.9L628.5 86.5ZM622.5 120.5L620.4 123.1L622.4 123.9L626.4 124.6L626.5 123.6L622.9 120.4ZM577.2 126L576.8 124.8L573.8 124.6L573.2 126ZM598.4 80.8L597.8 81.2L597.2 82.7L597.1 84.3L598.7 85.6L601.3 80.8L601 80.7L598.4 80.7Z"/>
<path fill="#6030cc" stroke="#6030cc" stroke-width=".35" d="M604.3 116.9L604.2 117L600.2 114.8L600.2 114.3L601.4 112.9L604.2 112.7L605.1 113.4L605.5 115.5L604.7 116.6ZM588.6 90.9L588.7 88.8L589.2 88.3L593.1 90L592 92.1L591.3 92.7L589.4 92.7ZM596.6 118.9L596.8 118.2L594.2 115L591.1 115.3L590 116.5L590.4 117.6L593.8 119.8ZM619.3 116.9L620.6 114.5L617 114.7L616.1 117.1L617.7 117.7ZM603.4 82.8L598.7 85.7L598.7 85.6L601.3 80.8L602.3 81L603.6 82.3Z"/>
<path fill="#fcf090" stroke="#fcf090" stroke-width=".35" d="M616.8 69.4L616.7 68L612.7 68L612.7 68.4L614.9 70L615.2 70.1Z"/>
<path fill="#9c54d8" stroke="#9c54d8" stroke-width=".35" d="M593 100.6L594.7 103.4L595.9 104.1L596.9 102.8L597.1 101.1L594.1 98.6ZM578.8 84.4L577.9 85.3L580.1 87.4L581.9 87.7L582.3 87.4L581.5 84.8L580.8 84.5Z"/>
<path fill="#5424b4" stroke="#5424b4" stroke-width=".35" d="M604.6 93L605.6 92.2L607 90.2L603.7 90.1L602.8 90.4ZM626.5 68L627.2 68L626.4 71.1L624.4 70.3L624.5 69.8ZM588.4 94.7L589.2 95.9L589.1 96L586.9 100.1L586.8 100.2L585.9 99.3L585.8 98.9L586.7 95.3ZM603.1 108.6L604.5 111L604.2 112.7L601.4 112.9L601.3 108.7L601.7 108.2ZM582.3 100.1L581.1 100.4L580.6 98.3L582.1 95L583.9 98.3ZM609.3 104.4L609.5 104.4L609.9 104.6L612.4 106.4L612.4 107.8L610.6 108.4L609.9 108ZM623.6 102.9L622.6 101.5L621.2 103L620.7 104.3L622.3 106.8L622.4 106.8L623.5 104.2ZM600.8 120.6L599.1 120.5L596.8 119.4L596.6 118.9L596.8 118.2L599.1 116.5L599.3 116.8ZM615.6 93.5L615.8 90L612.3 89.7L612.1 89.9L613.6 92.8ZM603 86L601 86.9L602.7 90.4L602.9 89.6ZM578.8 84.4L577.9 85.3L577.8 85.3L575.7 83.1L575 81.2L575.3 80.9L578 80.6L578.7 80.9L579.3 81.4Z"/>
<path fill="#4824b4" stroke="#4824b4" stroke-width=".35" d="M599.2 95.2L599.2 93L596.1 94L596.8 95.5L598.4 96.3ZM586.5 113.5L586.4 112.9L588.6 111.8L590.9 113.7L591.1 115.3L590 116.5L588.2 116.2ZM613.1 118.2L613.6 118.4L616.1 117.1L617 114.7L615.5 111.3L614 112.6L611.6 117ZM587.5 125.1L585.4 123.6L587.8 123.5Z"/>
<path fill="#5424c0" stroke="#5424c0" stroke-width=".35" d="M607.5 109.1L607.4 108.4L605.6 108.1L605.1 108.3L605.9 110.6L606.4 110.7ZM590.3 84.7L593.2 85L594.5 86.8L594.3 87.6L590.2 87.1ZM605.3 119.8L605.2 120.2L607 122.2L608.6 121.2L608.2 119.3Z"/>
<path fill="#d878cc" stroke="#d878cc" stroke-width=".35" d="M598.6 75.2L599.6 74.8L600.9 76.1L600.9 80L598.1 75.4ZM575.2 77.1L573.8 76.7L572.9 75.9L573.9 72.3L575.1 72.1L577.7 74L577.8 74.2L575.7 76.9ZM616.8 73.2L616.8 69.4L616.8 69.4L615.2 70.1L614 71.6L615.7 73.5ZM614.7 84.6L614.8 82.2L615.7 82.2L616 84.3L614.7 84.9ZM582.9 71.7L583.4 68.8L583.3 68L580.2 68L579.7 70.9L582.6 72.4ZM575.8 120.9L578.2 119.9L578.9 120.1L579.1 121.1L577.1 123L575 122.4ZM577 93L573 94.2L575.3 97L575.7 96.8ZM621.2 70.5L621.4 70.7L622.5 72.5L622.1 73.6L619.4 73.3L620.3 70.8ZM603.6 82.3L606 82.2L607.5 80.8L607.6 80.7L607.6 78L605.9 75.5L604.2 76.8L602.3 81Z"/>
<path fill="#e490c0" stroke="#e490c0" stroke-width=".35" d="M614 71.6L611.8 71.9L611.6 71.7L612.6 69.8L614.9 70L615.2 70.1ZM575.8 120.9L573.6 119.5L572.9 120.5L573.2 122.1L573.7 122.9L575 122.4ZM590 84.4L590.2 84.4L590.3 84.7L590.2 87.1L589.2 88.3L588.7 88.8L587.4 88.1L586.5 85.6ZM573.6 119.5L572.9 120.5L570 120L570 117.4L573.8 118.7L573.8 118.7ZM611.1 68L610.1 70L607.9 69.5L607.8 68ZM622.9 120.4L626.5 123.6L626.6 123.5L627.5 120.2L623.2 120.1ZM626.4 71.1L624.4 70.3L624.2 71.1L624.8 72.5L625.9 73.3L626.2 72.6ZM579.9 77L580.4 76.9L582.3 74L578.3 74.4L578.7 75.9ZM614.7 84.6L613.2 82.4L611.2 84.6L611.2 85.1L612.2 86.4L614.1 85.7L614.7 84.9ZM584.6 82.1L585.9 82.2L587.3 80.8L584.6 77.8L584.2 77.7L582.2 79.9ZM573.8 76.7L572.9 79.7L570 79L570 76.3L572.9 75.9ZM621.9 80.3L623.9 81.2L624.1 79.6L623.4 78.1L622.5 78.3L621.8 80.2ZM573.6 116.1L575.2 115L575.1 114.5L570.3 113ZM619.8 68L616.7 68L616.8 69.4L616.8 69.4L619.1 70.3Z"/>
<path fill="#f0b4b4" stroke="#f0b4b4" stroke-width=".35" d="M621.9 80.3L621.6 83.4L619.4 83.5L619.5 80.3L621.8 80.2ZM627.9 79.9L629 79.8L629 83.9L627.4 83.9L625.7 83.3ZM575.4 106.1L575.3 105.1L574.7 104.8L570 106.3L570 109.5L573.7 107.9ZM582.1 79.9L580.4 76.9L582.3 74L582.6 73.8L582.8 74L584.2 77.7L582.2 79.9ZM606.1 74L608.2 73.8L611.6 71.7L610.1 70L607.9 69.5L605.8 72.2L605.7 73.1ZM577 93L573 94.2L570.2 93.1L572.5 90.4L577.1 92.7L577.2 92.9ZM625.9 75.1L625.9 74.5L622.5 74.5L622 75.3L623.7 77.6L625.4 76.6ZM575.9 87.4L573.6 87.8L572.5 90.4L577.1 92.7L577 89.1ZM598.6 75.2L596.8 69.1L600 70.6L600.9 72.8L599.6 74.8ZM624.1 94L623.9 93.6L625.9 91L629 93.2L629 93.4L625.8 95.1Z"/>
<path fill="#a860d8" stroke="#a860d8" stroke-width=".35" d="M599.6 91.8L600.1 91.3L598.4 88.4L595.6 89L595.6 91.3L599.1 91.9ZM593.3 82.1L597.2 82.7L597.1 84.3L595.9 84.8L594 83.6ZM586.9 107.9L585.9 112.3L585.1 112L584.1 109.9L584.4 108.1L584.4 108.1ZM593 100.6L591 100.8L589.8 102.7L590.3 103.8L594.7 103.4ZM620.9 114.4L620.6 114.5L617 114.7L615.5 111.3L615.6 110.8L619.9 111.1ZM611.2 84.6L610.6 83L612.9 79.9L613 79.8L613.5 81.5L613.2 82.4Z"/>
<path fill="#fcd89c" stroke="#fcd89c" stroke-width=".35" d="M588.4 72L591.8 68L594.2 68L592.9 71.3L592.5 71.7L590.1 72.7ZM578.4 77.8L578.7 80.9L578 80.6L577.5 79.7L577.4 77.7L578 77.6Z"/>
<path fill="#9048e4" stroke="#9048e4" stroke-width=".35" d="M606.1 74L605.9 75.5L604.2 76.8L600.9 76.1L599.6 74.8L600.9 72.8L605.7 73.1ZM597.2 112.3L595.6 113.1L593.8 110.6L594.6 109.8L595.2 109.8ZM593.3 82.1L597.2 82.7L597.8 81.2L594.3 80.2L592.6 81.5Z"/>
<path fill="#3c1890" stroke="#3c1890" stroke-width=".35" d="M624.8 98L623.2 97.2L621.2 97.1L621 100.1L622.6 101.3L624.9 99.5Z"/>
<path fill="#fce490" stroke="#fce490" stroke-width=".35" d="M620.3 90.8L620.2 89.9L624 88.1L625.2 89.1L625.9 91L623.9 93.6L620.8 92Z"/>
<path fill="#a854d8" stroke="#a854d8" stroke-width=".35" d="M579.8 124.4L580.4 126L582.6 126L581.2 122.2L579.6 121.8ZM575 122.4L573.7 122.9L573.7 123.9L573.8 124.6L576.8 124.8L577 124.3L577.1 123Z"/>
<path fill="#f0cc9c" stroke="#f0cc9c" stroke-width=".35" d="M612.9 78.2L607.6 80.7L607.6 78L612.9 77.1Z"/>
<path fill="#b460d8" stroke="#b460d8" stroke-width=".35" d="M609.5 111.1L609.8 110.8L610.6 108.4L609.9 108L607.8 108L607.4 108.4L607.5 109.1ZM584 85.5L583.9 86.9L582.3 87.4L581.5 84.8L583.3 84.7ZM577 89.1L577.1 92.7L577.2 92.9L579.9 93.7L580 93.7L579 89.8ZM582.3 100.1L581.1 100.4L580.9 100.9L584.9 102.7L583.7 100.5Z"/>
<path fill="#4824a8" stroke="#4824a8" stroke-width=".35" d="M609.3 104.4L609.9 108L607.8 108L607.8 103.7ZM606.9 123.6L604.1 123.7L604.2 126L608.5 126L607.3 124Z"/>
<path fill="#a8a8b4" stroke="#a8a8b4" stroke-width=".35" d="M623.4 125.5h1.1v0.6h-1.1zM615.5 94.1h0.8v1h-0.8zM589.3 118.1h1.2v1.3h-1.2zM617.6 117.3h0.6v0.9h-0.6zM579 92.2h0.9v0.8h-0.9zM582.5 99.8h0.6v0.8h-0.6zM598.3 95.2h1.5v1.1h-1.5zM595.3 118.1h1.5v1.6h-1.5zM604.4 85.7h0.7v1.1h-0.7zM610.4 89h0.7v1.4h-0.7zM593.2 101.1h1v0.7h-1zM588.5 124h1.5v1.4h-1.5zM588.2 102.4h0.9v1.1h-0.9zM595.7 88.4h1.5v1.5h-1.5zM612.1 122.9h0.8v0.7h-0.8zM586.1 112.7h1.5v1.6h-1.5zM588.1 74.1h1.2v1.1h-1.2z"/>
<path fill="#0c000c" stroke="#0c000c" stroke-width=".35" d="M603 88.1h1.4v1.2h-1.4zM584.3 109.1h1v1.5h-1zM603.1 95.9h1.2v0.6h-1.2zM609.8 111.8h0.6v1.2h-0.6zM611.3 91h1.1v0.8h-1.1zM592.2 121.7h1.2v0.8h-1.2zM618.2 108.6h1.4v1.3h-1.4zM588.7 103.1h1.5v0.7h-1.5zM578 112h1v0.8h-1zM604.6 98.8h0.7v0.6h-0.7zM607.2 98.4h0.8v1.2h-0.8zM621.8 108.8h1.5v1.1h-1.5zM621.2 109.5h0.8v0.9h-0.8zM577.8 93.8h0.7v1.2h-0.7zM593.5 121.8h1v1.5h-1zM603.4 89.8h1.3v0.7h-1.3zM625.2 92h0.9v1.6h-0.9zM620.2 107.8h1.1v1h-1.1zM606 87.9h0.7v1.2h-0.7zM601.1 119h1.5v0.8h-1.5zM582.4 103.9h1.3v0.8h-1.3zM628.5 118.3h1v1.1h-1zM576.9 72.5h1.4v0.8h-1.4zM600.9 99.7h1.1v0.8h-1.1zM608.5 89h1v0.8h-1zM594.2 98.7h0.7v1.6h-0.7zM590.9 112.9h1.1v0.6h-1.1zM604.9 117.1h0.8v0.7h-0.8zM581.6 95.5h1.2v0.6h-1.2zM576 99.5h1.2v1.4h-1.2zM574.8 109h1.2v1.4h-1.2zM608.6 123.7h1.5v1h-1.5zM579.1 104.8h1.1v1.3h-1.1zM605.2 122.2h1.4v0.7h-1.4zM623.9 104.4h1.4v1.5h-1.4zM582.7 118.4h1.2v1.3h-1.2zM607.5 103.8h1.3v0.8h-1.3zM596.7 121.7h0.9v1.6h-0.9zM604.5 107.7h0.9v0.8h-0.9zM587.6 113.6h1.5v1.4h-1.5zM601.5 118.8h1.3v1.6h-1.3zM589.5 117h1.1v1h-1.1zM610.5 118.1h1.3v1.5h-1.3zM614.5 91.6h0.7v1.4h-0.7zM592.8 101.1h1.3v1.5h-1.3zM583.8 121.2h1.3v1.2h-1.3zM616.9 100.2h0.7v0.9h-0.7zM576.9 116.8h0.8v1.2h-0.8zM620.1 104.3h0.9v1.1h-0.9zM583.6 101.9h0.8v1.5h-0.8zM626.3 91.9h0.8v1.3h-0.8zM590 93.9h0.9v0.6h-0.9zM589.1 105.1h0.7v1.2h-0.7zM608.7 108h1v1.4h-1zM586 119h1.4v1.2h-1.4zM604.8 109.4h0.7v1.5h-0.7zM599.3 115.8h0.8v0.9h-0.8zM605.3 81.2h1.1v1.4h-1.1zM616.3 108.6h0.7v1.1h-0.7zM607.9 115h1.1v1.5h-1.1zM604.8 103.3h0.6v1.1h-0.6zM589.4 96.3h0.9v0.7h-0.9zM572.1 90h0.8v1.4h-0.8zM609.6 97.1h1v0.8h-1zM605.3 88.3h1.2v0.9h-1.2zM593.3 100.7h1v1.5h-1z"/>
<path fill="#a860d8" stroke="#a860d8" stroke-width=".35" d="M620.4 81.5h1.1v1.3h-1.1zM597.4 109.8h0.9v1.2h-0.9zM591 70.9h1.3v0.7h-1.3zM596.1 97.3h0.9v1h-0.9zM600.4 72.1h0.9v1.3h-0.9zM608 68.5h0.7v1h-0.7zM571.5 123.4h1v1.2h-1zM582.6 97.7h0.6v1h-0.6zM625.2 86h0.6v0.8h-0.6zM610.3 74.7h1v1.3h-1z"/>
<path fill="#f0c0a8" stroke="#f0c0a8" stroke-width=".35" d="M621.2 78.7h1.1v0.6h-1.1zM626.8 70.1h0.7v0.9h-0.7zM610 71.5h1v0.9h-1zM617.4 82.2h1.5v0.9h-1.5zM574.1 117h0.9v0.9h-0.9zM589 70.8h1.3v0.9h-1.3zM577.7 75.9h1.3v0.9h-1.3zM619.4 124h0.9v0.7h-0.9zM627.9 86.4h0.8v0.7h-0.8z"/>
<path fill="#5424b4" stroke="#5424b4" stroke-width=".35" d="M570 84h1v0.7h-1zM601.3 124.6h1.3v1.2h-1.3zM580.5 98.7h0.8v1.1h-0.8zM585.4 90.3h0.9v1.2h-0.9zM598.8 117.4h0.8v0.9h-0.8zM595 107.9h0.7v1.1h-0.7zM595.5 93.6h1.1v1.5h-1.1z"/>
<path fill="#f0b4a8" stroke="#f0b4a8" stroke-width=".35" d="M616.4 79.1h1.2v1.4h-1.2zM580.4 71h0.9v1.1h-0.9z"/>
<path fill="#f09cb4" stroke="#f09cb4" stroke-width=".35" d="M622.8 71.7h1.1v1.5h-1.1zM614.7 122.8h0.7v1.2h-0.7zM623.4 119h0.7v1h-0.7z"/>
<path fill="#9048e4" stroke="#9048e4" stroke-width=".35" d="M577.8 68h0.9v0.7h-0.9zM580.5 72.3h0.7v1.3h-0.7zM618.2 95.7h1.6v0.7h-1.6zM579.4 100.8h0.7v0.8h-0.7z"/>
<path fill="#6030c0" stroke="#6030c0" stroke-width=".35" d="M605.7 125.4h1.2v1.1h-1.2zM583.2 96.8h1.1v0.9h-1.1zM600.4 94.6h1.5v1.4h-1.5zM592.7 84.6h1v1.3h-1zM596.2 95.5h1.1v0.7h-1.1zM595.1 90.3h1.5v1.5h-1.5zM575.5 111h1.1v1.5h-1.1z"/>
<path fill="#f0d89c" stroke="#f0d89c" stroke-width=".35" d="M612.4 75.9h1.2v1.3h-1.2zM623.4 87.1h1.5v1.5h-1.5zM579.4 70.6h0.6v1.6h-0.6zM627.5 74.4h1v0.8h-1zM578.2 120.1h1v0.8h-1zM608.5 78.4h1.1v0.8h-1.1zM607 71.2h0.8v1.4h-0.8zM577.7 88.4h1v0.8h-1zM572.2 108.3h1.4v1.2h-1.4zM575.1 125.1h0.9v1.3h-0.9zM580.2 82.5h0.8v0.7h-0.8zM624.9 81.8h1.4v0.7h-1.4z"/>
<path fill="#9c54d8" stroke="#9c54d8" stroke-width=".35" d="M627 72.1h1.5v0.9h-1.5zM618.3 103.6h1.2v0.8h-1.2zM614 78.8h1.1v1.6h-1.1zM580 116.2h1.3v1.6h-1.3zM605.3 111.9h1v1.5h-1zM613.6 76.1h0.7v1.1h-0.7z"/>
<path fill="#c06cd8" stroke="#c06cd8" stroke-width=".35" d="M620.8 105h0.9v0.6h-0.9zM603 92.6h0.8v0.9h-0.8z"/>
<path fill="#b460d8" stroke="#b460d8" stroke-width=".35" d="M613.6 110.3h1.5v1.6h-1.5zM607.1 100.8h0.9v1.6h-0.9zM596.1 110.4h0.8v1.3h-0.8zM586.1 101.4h0.6v1.5h-0.6zM578.2 82.3h1.6v1.2h-1.6z"/>
<path fill="#8448e4" stroke="#8448e4" stroke-width=".35" d="M616.8 123.7h1.4v0.8h-1.4zM622.6 100.9h0.8v1.4h-0.8zM598 70h0.7v1.5h-0.7zM581.5 67.5h0.9v1.2h-0.9zM589.8 73.9h1.1v1.5h-1.1zM594.5 106h0.7v1.1h-0.7zM570.7 99.5h1.6v1.2h-1.6zM600.5 69.1h0.9v0.8h-0.9zM620.4 106.9h0.7v0.8h-0.7z"/>
<path fill="#fcd89c" stroke="#fcd89c" stroke-width=".35" d="M579.1 119.8h0.7v0.6h-0.7zM621.2 75h1.3v0.9h-1.3zM609.5 80.1h0.9v0.7h-0.9zM603.9 79.3h0.9v0.7h-0.9z"/>
<path fill="#783ce4" stroke="#783ce4" stroke-width=".35" d="M612.2 120.2h1v1.5h-1z"/>
<path fill="#9054e4" stroke="#9054e4" stroke-width=".35" d="M583.2 95.7h0.7v0.8h-0.7zM575.5 108h1.3v1h-1.3zM597.8 83.3h0.9v0.7h-0.9zM624.8 111.6h0.8v1.5h-0.8zM621.7 109.1h0.8v1.2h-0.8zM591.2 123.9h1.1v1.4h-1.1z"/>
<path fill="#6c3cd8" stroke="#6c3cd8" stroke-width=".35" d="M607.6 101.1h0.9v0.7h-0.9zM625.7 68.4h0.8v1.3h-0.8zM588.4 105.5h0.7v0.9h-0.7zM607.3 79.2h0.7v1.1h-0.7zM586.1 72.7h1.2v0.7h-1.2z"/>
<path fill="#e490c0" stroke="#e490c0" stroke-width=".35" d="M611.8 80.4h1.1v0.8h-1.1zM610.7 70.1h0.9v1.3h-0.9zM577.7 124.4h0.7v1.1h-0.7zM577.3 70.3h0.6v1.5h-0.6zM611.8 85.4h0.8v0.7h-0.8z"/>
<path fill="#e484c0" stroke="#e484c0" stroke-width=".35" d="M577.1 123.7h0.8v1.2h-0.8zM608.9 74h0.6v1.2h-0.6zM612.9 83.1h1v0.9h-1zM624.5 116.9h1.5v1.4h-1.5zM624.3 114.1h0.8v0.9h-0.8zM573.7 113.5h0.8v0.9h-0.8z"/>
<path fill="#f0cca8" stroke="#f0cca8" stroke-width=".35" d="M572.7 80.3h0.9v1.2h-0.9zM623.8 95.8h0.6v0.7h-0.6zM597.6 74.7h0.7v1.5h-0.7zM624.5 83.1h1.4v0.7h-1.4zM621.7 116.6h0.6v0.8h-0.6z"/>
<path fill="#fce490" stroke="#fce490" stroke-width=".35" d="M578.3 85.6h1.5v1.4h-1.5zM586.2 75.2h1.4v0.9h-1.4z"/>
<path fill="#783cd8" stroke="#783cd8" stroke-width=".35" d="M580.1 88.1h1.2v0.7h-1.2zM579.4 79.8h0.7v0.9h-0.7zM597.5 89h0.8v1.4h-0.8zM574.9 83.8h1.6v1.6h-1.6zM574.8 115.8h1.1v1.1h-1.1zM594.6 117.7h1.4v1.6h-1.4zM588.1 95h1v0.8h-1zM624 109.1h0.7v1.3h-0.7zM594.4 92h0.7v1.1h-0.7zM623.2 95.2h1v0.8h-1zM626.6 77.7h1.3v0.8h-1.3z"/>
<path fill="#f0a8b4" stroke="#f0a8b4" stroke-width=".35" d="M593.6 72.7h1.1v0.8h-1.1zM586.1 81.1h0.6v0.7h-0.6zM625.5 115.8h0.7v0.7h-0.7zM570.8 97.5h1.2v1.4h-1.2zM587.2 84.8h1.4v0.8h-1.4z"/>
<path fill="#4818a8" stroke="#4818a8" stroke-width=".35" d="M604.6 90.2h0.8v1.5h-0.8zM590.4 103.5h0.6v1.1h-0.6zM608.6 97.3h1.1v1.4h-1.1z"/>
<path fill="#6030cc" stroke="#6030cc" stroke-width=".35" d="M592 124.9h1v1.1h-1zM588.7 106.6h0.6v0.9h-0.6zM578.2 93.3h1.2v1h-1.2zM590.8 106.4h1.5v0.6h-1.5z"/>
<path fill="#3c1890" stroke="#3c1890" stroke-width=".35" d="M586.7 95.4h0.9v0.9h-0.9zM626.8 100.6h0.8v1.6h-0.8zM596.9 86.1h1.1v1.6h-1.1z"/>
<path fill="#fce49c" stroke="#fce49c" stroke-width=".35" d="M612.9 82.2h1v1.1h-1zM597.5 75.6h1.1v1.4h-1.1zM585.6 77.1h0.8v0.8h-0.8zM572.5 106.5h1.3v1.4h-1.3zM628.2 81.8h1.2v1.1h-1.2zM618.6 75.3h1.4v1.2h-1.4zM618.4 84.5h1.6v1.4h-1.6zM621.7 116.4h1.4v0.9h-1.4zM576 92.9h0.9v1.2h-0.9zM627.9 90.8h0.9v1h-0.9zM624.4 73.4h1.4v0.7h-1.4z"/>
<path fill="#6c30cc" stroke="#6c30cc" stroke-width=".35" d="M600.4 67.9h1.5v1.2h-1.5zM584.5 123.6h1v0.8h-1zM584.2 117.3h0.8v1.2h-0.8zM607.1 94.6h1v0.8h-1z"/>
<path fill="#6c3ccc" stroke="#6c3ccc" stroke-width=".35" d="M574.1 82.1h1.6v0.8h-1.6zM589.5 93.6h1.2v1.2h-1.2zM591.6 82.8h1.1v0.7h-1.1z"/>
<path fill="#f0b4b4" stroke="#f0b4b4" stroke-width=".35" d="M627.3 83.5h1.4v1.3h-1.4zM584.5 72.5h0.9v1h-0.9zM626.8 99.6h1v1h-1zM618.8 80.8h0.9v1.3h-0.9z"/>
<path fill="#4824b4" stroke="#4824b4" stroke-width=".35" d="M590.9 87h1.4v1h-1.4z"/>
<path fill="#d878cc" stroke="#d878cc" stroke-width=".35" d="M621.9 122.5h1.6v0.7h-1.6zM571.8 75.6h0.7v0.7h-0.7zM622.7 122.4h0.9v0.9h-0.9z"/>
<path fill="#3c189c" stroke="#3c189c" stroke-width=".35" d="M619.7 91.6h1v0.7h-1zM591.6 86.3h0.9v1.4h-0.9zM572.1 100.2h0.8v0.7h-0.8z"/>
<path fill="#4824a8" stroke="#4824a8" stroke-width=".35" d="M574.6 104.3h1v1h-1zM592 108.6h1.4v0.6h-1.4z"/>
<path fill="#5430c0" stroke="#5430c0" stroke-width=".35" d="M578 124.3h1v1.1h-1z"/>
<path fill="#5424c0" stroke="#5424c0" stroke-width=".35" d="M590.8 102.5h1v0.7h-1z"/>
<path fill="#a854d8" stroke="#a854d8" stroke-width=".35" d="M591 67.6h1.4v1.5h-1.4z"/>
<path fill="#e478cc" stroke="#e478cc" stroke-width=".35" d="M587.5 80.1h0.9v1.1h-0.9zM571.6 124.9h0.9v1.2h-0.9z"/>
<path fill="#7848e4" stroke="#7848e4" stroke-width=".35" d="M597.8 77.7h0.8v1.2h-0.8z"/>
<path fill="#cc78cc" stroke="#cc78cc" stroke-width=".35" d="M591.3 67.3h1.3v1.3h-1.3z"/>
<path fill="#f09cc0" stroke="#f09cc0" stroke-width=".35" d="M620 78.4h1.3v0.9h-1.3z"/>
<path fill="#e484cc" stroke="#e484cc" stroke-width=".35" d="M624.2 95h0.8v0.7h-0.8zM591.8 80.8h0.6v1h-0.6z"/>
</g>
<rect x="572" y="70" width="54" height="6.5" fill="#fff"/><rect x="574" y="72.3" width="48" height="1.2" fill="#9a9a9a"/>
<line x1="571" y1="69" x2="571" y2="125" stroke="#888" stroke-width="0.5"/>
<rect x="668.3" y="69.9" width="115.4" height="57.4" fill="#7b9577"/>
<path fill="#607860" stroke="#607860" stroke-width=".35" d="M772.8 86.6h2.9v3.4h-2.9zM711.5 97.6h3.1v4h-3.1zM711.5 100h2v2.6h-2zM687.5 123.7h4.5v4.3h-4.5zM667.3 105.3h4.3v2.9h-4.3zM671.1 107.8h2.1v2.3h-2.1zM732 82.7h3.2v2.7h-3.2zM772.3 82.4h4.1v4.5h-4.1zM759.8 81.6h3.3v3.3h-3.3zM674.7 104.4h2.3v2.4h-2.3zM768.9 88.3h2.3v3.7h-2.3zM689.1 100.8h4.8v4.2h-4.8zM695.4 79.5h2.2v2.1h-2.2zM676.6 116.3h2.9v2.8h-2.9zM742.2 81.9h2.1v2.3h-2.1zM752.1 103.8h2.9v4.7h-2.9zM698.6 79.7h3.4v3.7h-3.4zM709.2 121.7h2.6v4.2h-2.6zM709.5 99.1h2v3.6h-2zM740.9 114.8h4.7v4.6h-4.7z"/>
<path fill="#849c78" stroke="#849c78" stroke-width=".35" d="M730.1 106.6h4.7v3.7h-4.7zM748.1 69.6h4v2.9h-4zM686.1 78.6h3.3v2.8h-3.3zM729.9 105.9h3.3v4.8h-3.3zM750.7 92.3h4.2v3.2h-4.2zM695.7 71.6h3.8v3.6h-3.8zM720.4 104.4h3v2.2h-3zM763.4 76.2h3.6v4.7h-3.6zM730.6 122.6h4.2v3.7h-4.2zM712.2 69.1h4.2v3.9h-4.2zM715.5 122.3h2.9v2.6h-2.9zM752.6 70.3h2.2v2.6h-2.2zM676.4 101.5h2.9v2.4h-2.9zM670.9 89h2.9v3.5h-2.9zM707.3 122h3.9v2.5h-3.9zM750.9 72.1h3.5v3h-3.5zM743.1 89.8h4.5v4.4h-4.5zM693.8 125.1h3.6v3.3h-3.6zM742 84h2.5v4.6h-2.5zM701.7 116.5h4.8v3.8h-4.8zM686.1 115.7h3.5v4.9h-3.5zM685.8 116h2.5v3.7h-2.5zM693 83.2h2.6v3.2h-2.6zM762.1 70h3.2v4.7h-3.2zM724.3 98.1h2.9v2.1h-2.9zM779.9 90.8h2.8v3.9h-2.8zM726.7 70.8h4.1v3.9h-4.1zM721.1 79.8h2.6v4.4h-2.6zM689.8 114.5h3.3v4.6h-3.3zM672.8 88.9h4.5v3.6h-4.5z"/>
<path fill="#90a884" stroke="#90a884" stroke-width=".35" d="M706.1 97.5h3.3v2.7h-3.3zM762.2 90.6h2.7v3.7h-2.7zM711.5 120h4.4v2.7h-4.4zM764.9 95.9h4.8v2.6h-4.8zM685.7 87.5h3.7v2.8h-3.7zM729.5 71.2h4.3v2.4h-4.3zM759 81.6h4.1v2.6h-4.1zM753.5 94.7h2.3v4.6h-2.3zM684.9 111.8h4.4v3.1h-4.4zM688.4 96.2h4.3v4.6h-4.3zM764.7 90.1h4.4v2.8h-4.4zM753.5 92.3h4.8v4h-4.8zM723.5 107.6h4.8v2.3h-4.8zM675.9 125.7h4.3v2.7h-4.3zM773.6 119.3h2.4v2.2h-2.4zM727.4 77h2.3v2.6h-2.3zM759.5 125.3h4.6v3.1h-4.6zM699.7 76h3.8v3.3h-3.8z"/>
<path fill="#90a890" stroke="#90a890" stroke-width=".35" d="M755.3 79.3h3.2v3.6h-3.2zM706.1 123.7h5v5h-5zM677.2 99.6h2.9v3.1h-2.9zM748.2 72.8h3.1v4.9h-3.1zM719.9 106.1h4.7v3.4h-4.7zM705.1 87.1h3.1v2.5h-3.1zM763.8 76.9h3.5v4.6h-3.5zM686.1 76.1h3.2v5h-3.2zM676.1 107.4h3.5v4.4h-3.5zM750.5 85.6h3.3v4.7h-3.3zM685.6 116.1h4.7v2.2h-4.7zM666.1 81.2h4.7v3.6h-4.7zM767.5 117.5h3.6v2.7h-3.6zM717.2 107.9h3.8v4.2h-3.8zM760.1 74.2h3.8v2.2h-3.8zM743.6 92.3h3.3v4.6h-3.3zM720.3 72.9h2.6v4.5h-2.6zM693 72.5h3.9v3.2h-3.9zM706.2 98.1h4.9v4.9h-4.9zM688.6 108.6h2.9v2.9h-2.9zM690.3 86.7h2.8v3.3h-2.8zM745.5 97.1h2.4v2.1h-2.4zM719.9 71h3.9v3.8h-3.9zM731.6 70.6h2.8v4.6h-2.8zM722.1 95.6h3.6v4.5h-3.6zM687.2 72.4h3v2.3h-3zM728.3 98h5v4h-5z"/>
<path fill="#6c906c" stroke="#6c906c" stroke-width=".35" d="M692.3 112.3h2.7v4.3h-2.7zM751.3 98.8h2.6v2.8h-2.6zM753.1 78.1h3v2.2h-3zM739.6 93.9h4.7v4.3h-4.7zM771.8 78.5h4v4.2h-4zM691.5 70.5h2.1v4.1h-2.1zM693.9 76.6h2.4v4.5h-2.4zM691.4 89h3.2v2.8h-3.2zM726.9 87.8h4.7v4.9h-4.7zM758.6 95.5h3.2v2.5h-3.2zM683.8 114.5h4.6v4.2h-4.6zM696.5 115.4h2.4v2.8h-2.4zM707.8 112.2h3.2v4.1h-3.2zM737 70.2h4.5v2.4h-4.5zM749 85.7h4.5v4.1h-4.5zM749.2 69.6h2.2v3.9h-2.2zM670.1 83.5h3.2v4.1h-3.2zM774.2 68.1h2.3v3.8h-2.3zM724.2 112.5h2.8v5h-2.8zM746 100.4h3.5v3h-3.5zM760.5 101.1h3v3h-3zM680.5 109.3h2.8v4.5h-2.8zM683.8 72.7h5v4.3h-5zM699.6 77.6h2.4v2.3h-2.4zM766.4 121.7h3v2.8h-3z"/>
<polygon points="674,108 741,106 744,127.3 676,127.3" fill="#5f7d69"/>
<polygon points="741,104.5 783.7,103 783.7,127.3 744,127.3" fill="#b3d254"/>
<polygon points="668.3,108 674,108 676,127.3 668.3,127.3" fill="#6a8470"/>
<line x1="692" y1="108" x2="695" y2="127.3" stroke="#c8d8c8" stroke-width="0.6"/>
<line x1="741" y1="104.5" x2="744" y2="127.3" stroke="#d8e8c8" stroke-width="0.6"/>
<g clip-path="url(#uc2s)"><rect x="668" y="77" width="110" height="33" fill="#25b8f0"/>
<path fill="#24fce4" stroke="#24fce4" stroke-width=".35" d="M738.3 98.9L739.4 101.3L740.8 101.1L742.2 100.1L738.8 98.8Z"/>
<path fill="#30fccc" stroke="#30fccc" stroke-width=".35" d="M722.8 101.8L717.9 97.3L717.7 97.3L722.5 102.4ZM712.7 85.9L710.2 89.1L713.7 90.9L714.6 90L714.6 87.8ZM735.1 102.9L733.7 103.6L733.6 109.1L738.4 105.7L735.6 102.8ZM719.2 90.9L718.5 90.8L717.8 90.4L717.8 86.3L720.9 86.6L720.5 89.4ZM670.6 87.4L668 87.3L668 97.2L668.6 97.7L672.1 99.3L671.3 88ZM692.5 93.8L694.3 94.9L694.5 94.7L694.9 93.2L693 93.4ZM694.3 94.9L693.7 95.9L694.1 96.4L696.6 96.3L694.5 94.7ZM712.2 103.2L713.7 104.8L713.2 107.2L708.8 106.5L708.6 106.4L707.7 105.1L708.2 104.4Z"/>
<path fill="#00b4fc" stroke="#00b4fc" stroke-width=".35" d="M724.6 84L723.9 82.3L721.5 82.2L720.9 86.6L722.2 86.8ZM744.5 91.3L743.4 96.7L744.9 98.8L745.4 98.9L748.9 92.1L747.8 88.8L747.1 87.9ZM771.1 110L773.2 107.2L772.5 105.6L767.1 110ZM712.6 82L711.4 83L712.3 84.7L717 85.3L717.2 82L715 81.4ZM763.6 89.7L761.1 89.5L757.9 96.3L758.1 96.5L763 94.2Z"/>
<path fill="#3cfcc0" stroke="#3cfcc0" stroke-width=".35" d="M745.4 98.9L745.5 98.9L750.8 99L753.2 96.4L748.9 92.1ZM698.7 98.8L696.9 96.3L696.9 92.4L700.8 91.8L700.7 98.5ZM668.6 97.7L668 97.2L668 102.1L668.4 101.9ZM693.3 110L692.7 104.1L688.9 103.8L690.9 110ZM689.8 90.5L689.1 93.1L685.4 91.9L684.8 90.9L685.5 90L688.7 89.5Z"/>
<path fill="#84fc84" stroke="#84fc84" stroke-width=".35" d="M719.2 90.9L721.2 95.3L724.4 91.9L724.4 90.5L720.5 89.4ZM671.5 106L675.7 104L675.7 104.1L675.8 105.1L671.6 109.4ZM696.2 110L697.4 104.6L699.4 104.4L701.4 105.3L702.2 106.1L702.5 107.3L701.3 110ZM693.3 110L696.2 110L697.4 104.6L696 101.2L694.5 101.2L692.7 104.1ZM706.2 110L706.2 106.2L702.5 107.3L701.3 110ZM717.2 110L717.6 104.1L713.7 104.8L713.2 107.2L713.9 110ZM722.5 102.4L722.2 103.2L718.3 103.2L716.4 97.9L717.7 97.3ZM722.8 101.8L725 98.4L721.2 95.5L717.9 97.3ZM689.8 90.5L689.1 93.1L690.6 94.9L691.1 94.5L691.2 90.9ZM723.4 104.9L727.4 104.3L728.4 105.1L728.5 105.3L727.2 107.5L725.8 108.1L723.6 106.7L723.3 105.8ZM722.7 110L725.9 110L725.8 108.1L723.6 106.7ZM692.7 104.1L694.5 101.2L692.5 99.8L688.5 98.8L687.3 99.2L687.4 102.3L688.9 103.8ZM687.3 99.2L687.1 99.1L682 98.8L681.5 99.4L681.5 104.3L683.1 107.1L683.6 107.6L687.4 102.3ZM675.7 104.1L681.5 104.3L683.1 107.1L676.6 106.3L675.8 105.1ZM733.6 109.1L733.4 110L732 110L728.5 105.3L728.4 105.1L732.3 103.1L733.7 103.6ZM719.2 110L720.4 107.5L723.3 105.8L723.6 106.7L722.7 110ZM677.1 110L684.1 110L683.6 107.6L683.1 107.1L676.6 106.3ZM722.8 101.8L725 98.4L725.5 98.4L727 99L727.4 104.3L723.4 104.9L722.2 103.2L722.5 102.4ZM671.6 109.4L671.3 110L677.1 110L676.6 106.3L675.8 105.1ZM724.4 91.9L727.4 93.4L725.5 98.4L725 98.4L721.2 95.5L721.2 95.3ZM728.8 110L727.2 107.5L725.8 108.1L725.9 110ZM701.6 102.3L702.8 100.1L703.9 103L702.2 106.1L701.4 105.3ZM718 103.7L720.4 107.5L719.2 110L717.2 110L717.6 104.1ZM708.2 110L708.6 106.4L708.8 106.5L711.3 110ZM710.2 89.1L706.8 89L705.3 90L706.2 92.1L713 94.6L713.7 90.9ZM708.2 104.4L707.7 105.1L707.3 105.2L703.9 103L702.8 100.1L702.8 99.2L705.5 98.1L707.1 99ZM670.8 105.3L668 105.3L668 102.1L668.4 101.9L672.6 100.7L673 100.9ZM707.7 105.1L708.6 106.4L708.2 110L706.2 110L706.2 106.2L707.3 105.2ZM718 103.7L718.3 103.2L722.2 103.2L723.4 104.9L723.3 105.8L720.4 107.5ZM718 103.7L718.3 103.2L716.4 97.9L714 97.1L712.9 98.2L712.2 103.2L713.7 104.8L717.6 104.1Z"/>
<path fill="#0084fc" stroke="#0084fc" stroke-width=".35" d="M676.9 81.7L672.5 85.1L672.5 85.1L673.6 77L678 77L678.1 78.7ZM711.7 77L712.6 82L715 81.4L715.4 77ZM724.8 77L724.2 82L723.9 82.3L721.5 82.2L719.9 81L720.1 77ZM679.4 81.3L680.6 79.6L682 80L681.4 82.1ZM767.4 90.6L770.2 88.7L770.1 85.2L769.8 85L769.1 84.7L765.6 88.2L765.2 88.9L767.3 90.7Z"/>
<path fill="#00ccfc" stroke="#00ccfc" stroke-width=".35" d="M778 110L778 106.4L776.4 107L774.7 109.4L774.7 110ZM735.7 82.5L734.3 80.6L735.2 77L740.1 77L742.4 80L742.4 84.2L738.1 84.3ZM717.8 86.3L717.1 85.9L717 85.3L717.2 82L719.9 81L721.5 82.2L720.9 86.6L720.9 86.6ZM738.3 98.9L739.4 101.3L738.1 102L735.9 102.6L736.7 98.9L737.1 98.5ZM693.3 77L693.8 80.4L696.4 81.9L697.5 81.9L699.4 77ZM767.4 90.6L770.2 88.7L772.2 89.9L771.6 90.6ZM729.4 87.4L729.6 86.6L729.2 84.9L725.5 86.1L724.9 87.5L725.2 88.2ZM678 77L678.1 78.7L680.4 79L681.3 77Z"/>
<path fill="#0078fc" stroke="#0078fc" stroke-width=".35" d="M687 83.8L685.7 82.7L684.6 83.1L684.1 83.6L684.2 85.5L685 86.8L687.6 85.3ZM726.1 81.7L725.8 77.9L724.8 77L724.8 77L724.2 82ZM759.3 98.2L760.7 99L762.2 98.4L764.4 95.7L764.5 94.9L763 94.2L758.1 96.5L758.5 97.3ZM726.8 77L728.5 78.3L728.3 77ZM763.1 82.8L761.8 83.9L757.1 82.4L756.1 81.9L757.3 81L762.2 80.7L763.1 82.4ZM758.5 97.3L758.1 96.5L757.9 96.3L755.9 95.5L755.9 95.5L753.2 96.4L750.8 99L751.5 100.8L755.2 102.5Z"/>
<path fill="#006cfc" stroke="#006cfc" stroke-width=".35" d="M760.5 77L757.3 81L756.1 81.9L754.5 82L753.2 77ZM778 88.4L778 83.9L775.4 85.7ZM763.1 82.8L761.8 83.9L761.8 84.7L765.1 88.9L765.2 88.9L765.6 88.2L764.4 83.4ZM712.7 85.9L712.3 84.7L717 85.3L717.1 85.9L714.6 87.8ZM686.1 81.4L685.8 82.6L685.7 82.7L684.6 83.1L683.1 79.8L685.4 79.1ZM763.1 82.4L762.2 80.7L762.2 80.4L766 78.3L765.3 80.6ZM688 79.9L688.5 80L690.6 81.4L690.6 81.4L685.8 82.6L686.1 81.4ZM759.9 87.1L759.9 87L757.1 82.4L756.1 81.9L754.5 82L753.6 83.3L755.3 86.5ZM706.8 89L710 83.1L707.3 81.2L705.3 81.2L703.2 88.8L703.5 89.3L705.3 90ZM682.4 83.4L681.4 82.1L682 80L682.8 79.6L683.1 79.8L684.6 83.1L684.1 83.6ZM761.1 103.9L762.4 104L765.1 108.5L765.1 110L758.4 110L757.8 107.8L758.1 105.3ZM770.1 85.2L769.8 85L772.8 82.8L774.6 83.8L774.8 85.6L773.3 86.5Z"/>
<path fill="#0054fc" stroke="#0054fc" stroke-width=".35" d="M696.4 81.9L693.5 87.2L692 86.6L691 82.9L691.3 81.8L693.8 80.4ZM774.8 85.6L774.6 83.8L778 77.3L778 83.9L775.4 85.7ZM756.2 90L760.4 89.1L759.9 87.1L755.3 86.5L755.9 89.6ZM685.4 79.1L683.1 79.8L682.8 79.6L682.5 77L684.7 77L685.6 78.5ZM768.7 83.7L769.1 84.7L769.8 85L772.8 82.8L772.9 80.8L768.9 82.9ZM756.2 90L755.9 95.5L755.9 95.5L751.6 90.1L755.9 89.6ZM704.2 80.4L698.8 82.9L700 86.3L703.2 88.8L705.3 81.2ZM772.9 80.8L772.8 82.8L774.6 83.8L778 77.3L778 77L775.6 77L773.2 80.2ZM740.1 77L745.9 77L745.8 77.3L742.4 80ZM773.4 89.5L773.3 86.5L774.8 85.6L775.4 85.7L778 88.4L778 92.8L777.7 92.8ZM726.1 81.7L730.2 81.5L729 80L725.8 77.9Z"/>
<path fill="#00f0fc" stroke="#00f0fc" stroke-width=".35" d="M692.5 93.8L691.3 94.5L691.1 94.5L691.2 90.9L693 90.1L693 93.4ZM766.6 105.6L765.1 108.5L765.1 110L767.1 110L772.5 105.6L772.7 105.1L772.7 104.7L769.9 103.7L768.3 104ZM755.5 103.1L754.2 105.2L757.8 107.8L758.1 105.3L757.5 103.9ZM742.2 100.1L744.5 99.1L742 107.7L741.2 107L740.7 104.6L740.8 101.1ZM738.8 98.8L742.2 100.1L744.5 99.1L744.9 98.8L743.4 96.7L741.4 96L741 96.2ZM725.2 88.2L724.9 87.5L722.2 86.8L720.9 86.6L720.9 86.6L720.5 89.4L724.4 90.5L725.2 89.1ZM726.1 81.7L730.2 81.5L730.5 81.7L729.2 84.9L725.5 86.1L724.6 84L723.9 82.3L724.2 82Z"/>
<path fill="#60fca8" stroke="#60fca8" stroke-width=".35" d="M680.5 88.9L683.5 91.1L681.6 93.9L675.1 92.3L671.6 88.2ZM681.6 93.9L675.1 92.3L676.3 95.1L681.5 97.7ZM693 93.4L693 90.1L694.5 88.8L694.6 88.8L696.7 92.3L694.9 93.2ZM712.9 98.2L714 97.1L714 97.1L713 94.6L706.2 92.1L705.5 98.1L707.1 99Z"/>
<path fill="#00d8fc" stroke="#00d8fc" stroke-width=".35" d="M772.7 104.7L772.7 105.1L776.4 107L778 106.4L778 103.6L773.4 103.8ZM681.8 83.8L679.1 84.5L672.5 85.1L676.9 81.7L679.4 81.3L681.4 82.1L682.4 83.4ZM681.8 83.8L681.2 86.3L681.2 87.5L684.2 85.5L684.1 83.6L682.4 83.4ZM729 80L730.2 81.5L730.5 81.7L734.3 80.6L735.2 77L728.3 77L728.5 78.3ZM774.7 110L774.7 109.4L773.2 107.2L771.1 110ZM685.6 78.5L684.7 77L688.4 77L687.3 78.3ZM774.7 95L777.7 92.8L778 92.8L778 99.7L773.6 98.9L773.5 97.3ZM755.5 103.1L754.2 105.2L753.6 105.4L751.3 101.9L751.5 100.8L755.2 102.5Z"/>
<path fill="#54fca8" stroke="#54fca8" stroke-width=".35" d="M705.3 90L703.5 89.3L700.8 91.8L700.7 98.5L702.8 99.2L705.5 98.1L706.2 92.1ZM733.7 98.3L735.1 102.9L733.7 103.6L732.3 103.1L731.3 101.3L733.6 98.2ZM700.1 103.4L698.5 99L696 101.2L697.4 104.6L699.4 104.4ZM713.9 110L711.3 110L708.8 106.5L713.2 107.2ZM693.7 95.9L694.1 96.4L692.5 99.8L688.5 98.8L690.6 94.9L691.1 94.5L691.3 94.5ZM700.1 103.4L701.6 102.3L701.4 105.3L699.4 104.4ZM675.7 104L675 101.4L675.1 101.4L681.5 99.4L681.5 104.3L675.7 104.1ZM703.2 88.8L703.5 89.3L700.8 91.8L696.9 92.4L696.7 92.3L694.6 88.8L700 86.3ZM671.5 106L670.8 105.3L673 100.9L675 101.4L675.7 104Z"/>
<path fill="#00e4fc" stroke="#00e4fc" stroke-width=".35" d="M767.7 99.5L770.5 100.5L769.9 103.7L768.3 104ZM738.3 91.8L738.2 92.4L741.4 96L743.4 96.7L744.5 91.3ZM747.3 105.6L745.5 98.9L750.8 99L751.5 100.8L751.3 101.9L750.1 104ZM748.3 77L748.4 79.9L751.9 84L753.6 83.3L754.5 82L753.2 77ZM714.6 87.8L717.1 85.9L717.8 86.3L717.8 90.4L714.6 90ZM767.1 99.2L767.3 99.2L767.7 99.5L768.3 104L766.6 105.6L765.2 100.7ZM737.1 98.5L736.7 98.9L733.7 98.3L733.6 98.2L732.5 95.3L735.8 95.1L737.1 97.3ZM756.2 90L755.9 95.5L757.9 96.3L761.1 89.5L760.4 89.1ZM759.3 98.2L760.7 99L762.7 101.1L762.4 104L761.1 103.9L758.8 102.1ZM758.8 102.1L761.1 103.9L758.1 105.3L757.5 103.9Z"/>
<path fill="#00c0fc" stroke="#00c0fc" stroke-width=".35" d="M745.9 77L748.3 77L748.4 79.9L745.9 81.6L745.8 77.3ZM764.3 97.8L764.4 95.7L764.5 94.9L767.6 94.9L768.1 96.5L767.3 99.2L767.1 99.2ZM687 83.8L685.7 82.7L685.8 82.6L690.6 81.4L691.3 81.8L691 82.9L689.6 83.6ZM767.4 90.6L771.6 90.6L771 93.2L768.1 93.6L767.3 90.7ZM738.3 98.9L737.1 98.5L737.1 97.3L741 96.2L738.8 98.8ZM773.5 99.3L778 103.3L778 99.7L773.6 98.9ZM762.2 98.4L764.4 95.7L764.3 97.8ZM735.6 102.8L738.4 105.7L741.2 107L740.7 104.6L738.1 102L735.9 102.6ZM747.3 105.6L745.7 110L751.5 110L752.4 106.8L750.1 104ZM715.4 77L715 81.4L717.2 82L719.9 81L720.1 77Z"/>
<path fill="#0018fc" stroke="#0018fc" stroke-width=".35" d="M764.4 83.4L765.6 88.2L769.1 84.7L768.7 83.7L767.3 83.2ZM766.7 77L766 78.3L762.2 80.4L761.4 77Z"/>
<path fill="#6cfc90" stroke="#6cfc90" stroke-width=".35" d="M700.1 103.4L698.5 99L698.7 98.8L700.7 98.5L702.8 99.2L702.8 100.1L701.6 102.3ZM717.9 97.3L721.2 95.5L721.2 95.3L719.2 90.9L718.5 90.8L714 97.1L714 97.1L716.4 97.9L717.7 97.3ZM732 110L728.5 105.3L727.2 107.5L728.8 110ZM692.5 93.8L691.3 94.5L693.7 95.9L694.3 94.9Z"/>
<path fill="#0cfcf0" stroke="#0cfcf0" stroke-width=".35" d="M729.4 87.4L729.6 86.6L733 87.4L733 89.3L732.8 90.4L730.7 91.9L729.8 90.6ZM688.2 85.9L685.5 88.8L685.5 90L688.7 89.5L690.2 87.2L688.6 86ZM737.9 90.8L738.3 91.8L744.5 91.3L747.1 87.9L747 87.1L746.9 87L738 90.5Z"/>
<path fill="#78fc84" stroke="#78fc84" stroke-width=".35" d="M681.6 93.9L683.5 91.1L684.8 90.9L685.4 91.9L687.1 99.1L682 98.8L681.5 97.7ZM688.5 98.8L690.6 94.9L689.1 93.1L685.4 91.9L687.1 99.1L687.3 99.2ZM671.5 106L670.8 105.3L668 105.3L668 110L671.3 110L671.6 109.4Z"/>
<path fill="#3cfccc" stroke="#3cfccc" stroke-width=".35" d="M671.6 88.2L675.1 92.3L676.3 95.1L675.1 101.4L675 101.4L673 100.9L672.6 100.7L672.1 99.3L671.3 88Z"/>
<path fill="#48fcb4" stroke="#48fcb4" stroke-width=".35" d="M690.9 110L684.1 110L683.6 107.6L687.4 102.3L688.9 103.8ZM738 90.5L746.9 87L745 85.2L742.4 84.2L738.1 84.3L737.9 86.4ZM729.4 87.4L725.2 88.2L725.2 89.1L729.8 90.6ZM740.8 101.1L740.7 104.6L738.1 102L739.4 101.3Z"/>
<path fill="#00a8fc" stroke="#00a8fc" stroke-width=".35" d="M681.2 87.5L680.5 88.9L683.5 91.1L684.8 90.9L685.5 90L685.5 88.8L685 86.8L684.2 85.5ZM733 89.3L733 87.4L735.7 82.5L738.1 84.3L737.9 86.4ZM688 79.9L688.5 80L689.6 77.5L689.6 77L688.4 77L687.3 78.3ZM673.6 77L672.5 85.1L670.6 87.4L668 87.3L668 77ZM762.7 101.1L762.4 104L765.1 108.5L766.6 105.6L765.2 100.7ZM767.3 99.2L768.1 96.5L773.5 97.3L773.6 98.9L773.5 99.3L773.1 99.9L770.5 100.5L767.7 99.5ZM688.6 86L690.2 87.2L692 86.6L691 82.9L689.6 83.6ZM680.6 79.6L680.4 79L681.3 77L682.5 77L682.8 79.6L682 80ZM733.6 109.1L733.4 110L743.1 110L742 107.7L741.2 107L738.4 105.7ZM757.8 107.8L758.4 110L751.5 110L752.4 106.8L753.6 105.4L754.2 105.2Z"/>
<path fill="#18fce4" stroke="#18fce4" stroke-width=".35" d="M713.7 90.9L713 94.6L714 97.1L718.5 90.8L717.8 90.4L714.6 90ZM696.6 96.3L696.9 96.3L698.7 98.8L698.5 99L696 101.2L694.5 101.2L692.5 99.8L694.1 96.4ZM732.5 95.3L732.3 95.2L730.7 92L730.7 91.9L732.8 90.4L737.9 90.8L738.3 91.8L738.2 92.4L735.8 95.1Z"/>
<path fill="#0060fc" stroke="#0060fc" stroke-width=".35" d="M703 77L704.2 80.4L705.3 81.2L707.3 81.2L708.8 77ZM688.2 85.9L687.6 85.3L687 83.8L689.6 83.6L688.6 86ZM768.1 93.6L767.6 94.9L768.1 96.5L773.5 97.3L774.7 95L771 93.2ZM689.6 77.5L689.6 77L693.3 77L693.8 80.4L691.3 81.8L690.6 81.4L690.6 81.4ZM768.8 80.8L773.2 80.2L772.9 80.8L768.9 82.9ZM725.5 86.1L724.6 84L722.2 86.8L724.9 87.5ZM681.8 83.8L679.1 84.5L681.2 86.3ZM729.2 84.9L730.5 81.7L734.3 80.6L735.7 82.5L733 87.4L729.6 86.6ZM747.1 87.9L747.8 88.8L751.6 90.1L755.9 89.6L755.3 86.5L753.6 83.3L751.9 84L747 87.1ZM771.6 90.6L772.2 89.9L773.4 89.5L777.7 92.8L774.7 95L771 93.2ZM688 79.9L687.3 78.3L685.6 78.5L685.4 79.1L686.1 81.4ZM724.8 77L725.8 77.9L729 80L728.5 78.3L726.8 77Z"/>
<path fill="#fc4800" stroke="#fc4800" stroke-width=".35" d="M694.9 93.2L696.7 92.3L696.9 92.4L696.9 96.3L696.6 96.3L694.5 94.7ZM707.3 105.2L706.2 106.2L702.5 107.3L702.2 106.1L703.9 103Z"/>
<path fill="#003cfc" stroke="#003cfc" stroke-width=".35" d="M767.3 83.2L768.7 83.7L768.9 82.9L768.8 80.8L767.9 77L766.7 77L766 78.3L765.3 80.6Z"/>
<path fill="#30fcd8" stroke="#30fcd8" stroke-width=".35" d="M693.5 87.2L694.5 88.8L693 90.1L691.2 90.9L689.8 90.5L688.7 89.5L690.2 87.2L692 86.6ZM729.8 90.6L730.7 91.9L730.7 92L727.4 93.4L724.4 91.9L724.4 90.5L725.2 89.1Z"/>
<path fill="#0090fc" stroke="#0090fc" stroke-width=".35" d="M760.7 99L762.7 101.1L765.2 100.7L767.1 99.2L764.3 97.8L762.2 98.4ZM688.5 80L690.6 81.4L689.6 77.5ZM712.7 85.9L712.3 84.7L711.4 83L710 83.1L706.8 89L710.2 89.1ZM703 77L699.4 77L697.5 81.9L698.8 82.9L704.2 80.4ZM746.9 87L745 85.2L745.9 81.6L748.4 79.9L751.9 84L747 87.1Z"/>
<path fill="#009cfc" stroke="#009cfc" stroke-width=".35" d="M711.7 77L708.8 77L707.3 81.2L710 83.1L711.4 83L712.6 82ZM772.7 105.1L776.4 107L774.7 109.4L773.2 107.2L772.5 105.6ZM767.3 90.7L765.2 88.9L765.1 88.9L763.6 89.7L763 94.2L764.5 94.9L767.6 94.9L768.1 93.6ZM773.1 99.9L773.4 103.8L772.7 104.7L769.9 103.7L770.5 100.5Z"/>
<path fill="#e4fc18" stroke="#e4fc18" stroke-width=".35" d="M762.2 80.7L757.3 81L760.5 77L761.4 77L762.2 80.4Z"/>
<path fill="#24fcd8" stroke="#24fcd8" stroke-width=".35" d="M741 96.2L741.4 96L738.2 92.4L735.8 95.1L737.1 97.3ZM668.6 97.7L672.1 99.3L672.6 100.7L668.4 101.9ZM733.6 98.2L731.3 101.3L728.6 98.9L732.3 95.2L732.5 95.3ZM712.2 103.2L712.9 98.2L707.1 99L708.2 104.4ZM733.7 98.3L735.1 102.9L735.6 102.8L735.9 102.6L736.7 98.9ZM681.5 97.7L682 98.8L681.5 99.4L675.1 101.4L676.3 95.1Z"/>
<path fill="#0000e4" stroke="#0000e4" stroke-width=".35" d="M761.8 84.7L759.9 87L757.1 82.4L761.8 83.9Z"/>
<path fill="#18fcf0" stroke="#18fcf0" stroke-width=".35" d="M733 89.3L737.9 86.4L738 90.5L737.9 90.8L732.8 90.4ZM730.7 92L727.4 93.4L725.5 98.4L727 99L728.6 98.9L732.3 95.2ZM744.9 98.8L744.5 99.1L742 107.7L743.1 110L745.7 110L747.3 105.6L745.5 98.9L745.4 98.9Z"/>
<path fill="#0048fc" stroke="#0048fc" stroke-width=".35" d="M679.4 81.3L676.9 81.7L678.1 78.7L680.4 79L680.6 79.6ZM688.2 85.9L685.5 88.8L685 86.8L687.6 85.3ZM700 86.3L694.6 88.8L694.5 88.8L693.5 87.2L696.4 81.9L697.5 81.9L698.8 82.9ZM750.1 104L752.4 106.8L753.6 105.4L751.3 101.9ZM773.5 99.3L778 103.3L778 103.6L773.4 103.8L773.1 99.9ZM751.6 90.1L747.8 88.8L748.9 92.1L753.2 96.4L755.9 95.5ZM681.2 86.3L679.1 84.5L672.5 85.1L672.5 85.1L670.6 87.4L671.3 88L671.6 88.2L680.5 88.9L681.2 87.5ZM772.2 89.9L773.4 89.5L773.3 86.5L770.1 85.2L770.2 88.7Z"/>
<path fill="#78fc90" stroke="#78fc90" stroke-width=".35" d="M728.6 98.9L731.3 101.3L732.3 103.1L728.4 105.1L727.4 104.3L727 99Z"/>
<path fill="#fcb400" stroke="#fcb400" stroke-width=".35" d="M759.3 98.2L758.8 102.1L757.5 103.9L755.5 103.1L755.2 102.5L758.5 97.3ZM742.4 80L742.4 84.2L745 85.2L745.9 81.6L745.8 77.3Z"/>
<path fill="#0000f0" stroke="#0000f0" stroke-width=".35" d="M765.1 88.9L761.8 84.7L759.9 87L759.9 87.1L760.4 89.1L761.1 89.5L763.6 89.7Z"/>
<path fill="#0000fc" stroke="#0000fc" stroke-width=".35" d="M767.9 77L775.6 77L773.2 80.2L768.8 80.8Z"/>
<path fill="#000cfc" stroke="#000cfc" stroke-width=".35" d="M763.1 82.8L764.4 83.4L767.3 83.2L765.3 80.6L763.1 82.4Z"/>
<path fill="#0048fc" stroke="#0048fc" stroke-width=".35" d="M774.9 94.7h1.3v2.4h-1.3zM679.2 85.5h2.2v1.2h-2.2zM771.2 104.8h2.5v1.8h-2.5zM706.4 76.8h1.3v2.1h-1.3zM692.8 83.4h1.7v2.3h-1.7zM682.7 80.2h2.2v2.4h-2.2zM772.5 86.9h1v1.4h-1zM753.5 91.5h1.2v1.6h-1.2zM770.8 101.1h1.2v1.8h-1.2z"/>
<path fill="#24fcd8" stroke="#24fcd8" stroke-width=".35" d="M735.5 91.4h1.6v1h-1.6zM685.4 86.4h2.1v2.3h-2.1zM739.6 88.5h1.2v2h-1.2zM737.1 106.2h1.8v2.4h-1.8zM749.9 97.2h1v1.7h-1z"/>
<path fill="#54fca8" stroke="#54fca8" stroke-width=".35" d="M713.2 90.2h1.4v1.1h-1.4zM704.9 93.2h2v1.4h-2zM688.5 90.8h1.6v1.5h-1.6zM726.9 107.1h1.9v2.1h-1.9zM670.9 108.7h1.7v1.1h-1.7z"/>
<path fill="#00e4fc" stroke="#00e4fc" stroke-width=".35" d="M716 77.1h2.1v2.5h-2.1zM735.6 84.3h1.5v1.1h-1.5zM735 83h2v1.7h-2zM691.6 80.6h1.6v1.9h-1.6zM735 104.4h1.2v2.2h-1.2zM708.8 76.6h2.2v1.9h-2.2zM771.7 89.5h2.2v1.2h-2.2zM723.3 76.9h1.8v2.3h-1.8zM735.3 80.4h1v2.2h-1z"/>
<path fill="#78fc84" stroke="#78fc84" stroke-width=".35" d="M697.9 103.3h1.3v1.8h-1.3zM712.6 104.2h1.4v1.2h-1.4zM701.2 95.7h1.9v2.3h-1.9zM671.3 92.3h2v1.5h-2zM681 103.1h2.3v1.7h-2.3zM677.8 93.2h2.4v2.1h-2.4zM673 92.9h1.1v2.1h-1.1z"/>
<path fill="#84fc84" stroke="#84fc84" stroke-width=".35" d="M681 107.8h1.5v2.2h-1.5zM711.7 104.2h1.5v1.1h-1.5zM688 103.6h1.2v2h-1.2zM676.4 105.4h2.4v2.2h-2.4zM672.3 105.7h2.1v1.3h-2.1zM727.9 99h2.1v2.2h-2.1zM723.1 106.5h1.8v2h-1.8zM726.7 95.9h1.1v2.4h-1.1zM685.4 108.4h1.7v2.4h-1.7zM717.2 92h1.4v2.2h-1.4zM671.3 104.3h1.6v1.9h-1.6zM677 108.7h2v2.4h-2zM672.6 100.2h1v1.9h-1zM721.5 104.8h2v1.1h-2zM719.4 94.6h2.2v1.8h-2.2zM702.5 107.8h2.3v1.3h-2.3zM701.2 105.6h1.4v1.6h-1.4zM715.9 103.2h2.3v1.7h-2.3z"/>
<path fill="#0084fc" stroke="#0084fc" stroke-width=".35" d="M768.6 98h1.2v1.5h-1.2zM750.9 91.2h1.3v2.4h-1.3zM767.5 104.8h2v1h-2zM774.3 77.3h1.1v2.1h-1.1zM755 76.7h2.2v1.9h-2.2zM676.7 84.3h2.3v2.1h-2.3zM750.5 78.9h1.4v1.8h-1.4zM716.6 76.8h2.1v1.3h-2.1z"/>
<path fill="#00a8fc" stroke="#00a8fc" stroke-width=".35" d="M762.6 100.7h1.8v2.5h-1.8zM725.5 79h2.1v2.4h-2.1zM676.5 81.7h1.7v2.2h-1.7zM761.7 97.1h1.6v1.9h-1.6zM748.1 81.6h2.5v1.7h-2.5zM741.2 82.9h1.8v1.9h-1.8z"/>
<path fill="#000cfc" stroke="#000cfc" stroke-width=".35" d="M749.5 78.7h2.2v1.6h-2.2zM756.2 84.3h1.3v1.7h-1.3z"/>
<path fill="#00c0fc" stroke="#00c0fc" stroke-width=".35" d="M773.2 106.3h2.4v1.3h-2.4zM718.4 83.7h1.9v1.8h-1.9zM733.2 78h1v1.4h-1zM713.8 84.8h2.2v2.3h-2.2zM744.9 101.5h1.3v1.3h-1.3z"/>
<path fill="#0cfcf0" stroke="#0cfcf0" stroke-width=".35" d="M747.2 94.4h1.5v1.8h-1.5z"/>
<path fill="#009cfc" stroke="#009cfc" stroke-width=".35" d="M678.7 76.5h1.5v1.8h-1.5zM734.7 82.5h1.4v1h-1.4zM760.5 86.8h2.1v1.4h-2.1zM737.9 78.3h2.4v1.3h-2.4zM725 85.8h1.6v2.1h-1.6z"/>
<path fill="#0060fc" stroke="#0060fc" stroke-width=".35" d="M769.1 86.8h1.4v1.8h-1.4zM775.9 97.3h1.3v1h-1.3zM763.4 96.5h2v1.3h-2zM769.4 83.1h2.4v2.4h-2.4zM682.4 86h2.1v1.4h-2.1zM750.3 90.3h1.5v2.5h-1.5zM771.1 80.6h1.2v1.7h-1.2zM751.7 99.8h1.9v1.3h-1.9z"/>
<path fill="#00ccfc" stroke="#00ccfc" stroke-width=".35" d="M687.8 88.1h1.5v1.3h-1.5zM755.9 96.4h1.1v1.9h-1.1zM694.5 82.2h1.8v1.5h-1.8zM690.6 85.2h2.3v2.1h-2.3zM682.7 88.9h1.4v1.4h-1.4zM761.2 108h1.9v2h-1.9z"/>
<path fill="#00b4fc" stroke="#00b4fc" stroke-width=".35" d="M767.4 101.5h1.6v2.1h-1.6zM729 79.6h1.3v2.1h-1.3zM755.2 86.7h2.3v1.3h-2.3zM753.7 95.4h2.1v1.4h-2.1zM761.3 93.2h1.7v1.6h-1.7zM772.1 104.3h1.9v2.2h-1.9z"/>
<path fill="#6cfc90" stroke="#6cfc90" stroke-width=".35" d="M678.6 93h2.2v1h-2.2zM694.6 103.5h1.5v1.8h-1.5z"/>
<path fill="#48fcb4" stroke="#48fcb4" stroke-width=".35" d="M693.1 102.4h1.9v2.5h-1.9zM727.6 98.7h1.2v2.4h-1.2zM734.6 102.3h1.7v1.5h-1.7zM721.5 106.8h2.3v1.7h-2.3zM713 87.7h2.5v2.2h-2.5zM744.9 104h1.6v1.6h-1.6z"/>
<path fill="#0000e4" stroke="#0000e4" stroke-width=".35" d="M774.1 84.8h1.4v1h-1.4z"/>
<path fill="#006cfc" stroke="#006cfc" stroke-width=".35" d="M685.2 84.5h1.4v2h-1.4zM679 82h1.4v2.2h-1.4zM715.8 80.1h1.5v1.4h-1.5z"/>
<path fill="#18fce4" stroke="#18fce4" stroke-width=".35" d="M676.5 95.4h1.2v2h-1.2z"/>
<path fill="#0054fc" stroke="#0054fc" stroke-width=".35" d="M735.6 85h1.7v1.9h-1.7zM683 78.6h1.7v1.2h-1.7zM774 102.5h1.4v1.6h-1.4zM758 76.5h1.3v1.7h-1.3z"/>
<path fill="#00d8fc" stroke="#00d8fc" stroke-width=".35" d="M760 88.7h1.4v1.5h-1.4zM764.7 92.8h1.5v2h-1.5zM677.6 82h2v1.1h-2z"/>
<path fill="#6cfc9c" stroke="#6cfc9c" stroke-width=".35" d="M702.7 90.5h1.1v1.9h-1.1zM685.1 102.4h2v1.9h-2zM722.4 106.9h1.3v1.5h-1.3z"/>
<path fill="#30fcd8" stroke="#30fcd8" stroke-width=".35" d="M723.7 96h2.2v1.7h-2.2z"/>
<path fill="#00f0fc" stroke="#00f0fc" stroke-width=".35" d="M739.4 99.4h2v1.9h-2zM749.6 81.4h1.1v1.8h-1.1zM746.1 92.3h1.8v1.6h-1.8z"/>
<path fill="#003cfc" stroke="#003cfc" stroke-width=".35" d="M772.7 100.5h1.3v2h-1.3zM718.3 81.1h2.2v1.1h-2.2zM769.2 81h2v1.9h-2z"/>
<path fill="#0000d8" stroke="#0000d8" stroke-width=".35" d="M751 81h1.2v1h-1.2z"/>
<path fill="#3cfcc0" stroke="#3cfcc0" stroke-width=".35" d="M680.7 107h1.3v1h-1.3zM721.7 95.1h1.2v1.4h-1.2zM734.3 95.2h1.7v1.5h-1.7zM693.6 95.1h1.4v2.4h-1.4z"/>
<path fill="#fc4800" stroke="#fc4800" stroke-width=".35" d="M694.4 94.4h2.2v1.8h-2.2z"/>
<path fill="#0090fc" stroke="#0090fc" stroke-width=".35" d="M753.4 95.5h1.4v1h-1.4z"/>
<path fill="#00fcfc" stroke="#00fcfc" stroke-width=".35" d="M695.3 91.7h1.3v1.3h-1.3zM734.9 104.7h1.7v1.2h-1.7z"/>
<path fill="#0078fc" stroke="#0078fc" stroke-width=".35" d="M734.7 76.9h1.2v1.9h-1.2zM674.5 80.6h2.2v2.2h-2.2z"/>
<path fill="#60fca8" stroke="#60fca8" stroke-width=".35" d="M721.5 102.7h1.6v2.3h-1.6z"/>
<path fill="#60fc9c" stroke="#60fc9c" stroke-width=".35" d="M729.9 99h1v2.2h-1zM725.2 100.6h1.3v1.6h-1.3z"/>
<path fill="#78fc90" stroke="#78fc90" stroke-width=".35" d="M717.7 103.9h1.7v1.5h-1.7z"/>
<path fill="#30fccc" stroke="#30fccc" stroke-width=".35" d="M746.6 95.6h1.6v2.2h-1.6zM715.2 88.9h1.3v2.2h-1.3zM739.9 98.6h1.1v2h-1.1z"/>
<path fill="#0024fc" stroke="#0024fc" stroke-width=".35" d="M774.1 82.3h1.7v1.6h-1.7z"/>
<path fill="#0018fc" stroke="#0018fc" stroke-width=".35" d="M766.3 76.2h2.3v2.1h-2.3z"/>
<rect x="668.3" y="80.5" width="16" height="8" fill="#3012a0"/>
</g>
<rect x="741.0" y="105" width="3.1" height="4.5" fill="#20005a"/>
<rect x="744.0" y="105" width="3.1" height="4.5" fill="#0030ff"/>
<rect x="747.0" y="105" width="3.1" height="4.5" fill="#00b0ff"/>
<rect x="750.0" y="105" width="3.1" height="4.5" fill="#30f0b0"/>
<rect x="753.0" y="105" width="3.1" height="4.5" fill="#c0ff30"/>
<rect x="756.0" y="105" width="3.1" height="4.5" fill="#ffa000"/>
<rect x="759.0" y="105" width="3.1" height="4.5" fill="#e01000"/>
<text x="137.9" y="43" font-size="7.8" fill="#505358" font-weight="normal" text-anchor="middle" font-family='"Liberation Sans", sans-serif' >Soil Properties</text>
<text x="239" y="45" font-size="7.8" fill="#505358" font-weight="normal" text-anchor="middle" font-family='"Liberation Sans", sans-serif' >Land-cover Categories</text>
<text x="392" y="44" font-size="7.8" fill="#505358" font-weight="normal" text-anchor="middle" font-family='"Liberation Sans", sans-serif' >Forest Biomass and Phenology Variables</text>
<text x="202.6" y="110" font-size="7.8" fill="#505358" font-weight="normal" text-anchor="middle" font-family='"Liberation Sans", sans-serif' >Agricultural</text>
<text x="202.6" y="119" font-size="7.8" fill="#505358" font-weight="normal" text-anchor="middle" font-family='"Liberation Sans", sans-serif' >Crop Yields</text>
<text x="286.7" y="110" font-size="7.8" fill="#505358" font-weight="normal" text-anchor="middle" font-family='"Liberation Sans", sans-serif' >Ground Object Segments</text>
<text x="406.4" y="110.3" font-size="7.8" fill="#505358" font-weight="normal" text-anchor="middle" font-family='"Liberation Sans", sans-serif' >Air and Water Quality Variables</text>
<text x="569" y="50" font-size="13.4" fill="#4d5056" font-weight="normal" text-anchor="middle" font-family='"Liberation Sans", sans-serif' >Use Case 1:</text>
<text x="569.8" y="66" font-size="13.6" fill="#4d5056" font-weight="normal" text-anchor="middle" font-family='"Liberation Sans", sans-serif' >Biomass Estimation</text>
<text x="728" y="49.3" font-size="13.4" fill="#4d5056" font-weight="normal" text-anchor="middle" font-family='"Liberation Sans", sans-serif' >Use Case 2:</text>
<text x="728" y="65.3" font-size="13.6" fill="#4d5056" font-weight="normal" text-anchor="middle" font-family='"Liberation Sans", sans-serif' >Soil Property Estimation</text>
<text x="496.6" y="135.4" font-size="10.7" fill="#4a4d52" font-weight="normal" text-anchor="start" font-family='"Liberation Sans", sans-serif' >-Hyper-spectral data collection</text>
<text x="496.6" y="148.6" font-size="10.7" fill="#4a4d52" font-weight="normal" text-anchor="start" font-family='"Liberation Sans", sans-serif' >-Multi-temporal data collection</text>
<text x="496.6" y="161.8" font-size="10.7" fill="#4a4d52" font-weight="normal" text-anchor="start" font-family='"Liberation Sans", sans-serif' >-Ground-truth obtaining</text>
<text x="655.5" y="138.0" font-size="10.7" fill="#4a4d52" font-weight="normal" text-anchor="start" font-family='"Liberation Sans", sans-serif' >-Hyper-spectral data collection</text>
<text x="655.5" y="150.6" font-size="10.7" fill="#4a4d52" font-weight="normal" text-anchor="start" font-family='"Liberation Sans", sans-serif' >-In-situ soil measurements</text>
<path d="M108,171 Q108,168.5 110.5,168.5 L469.3,168.5 Q471.8,168.5 471.8,171 L471.8,187 Q471.8,188.6 470,188.8 L289.8,203.3 L109.8,188.8 Q108,188.6 108,187 Z" fill="#a93235"/>
<text x="289.8" y="183.6" font-size="15.6" fill="#fff" font-weight="bold" text-anchor="middle" font-family='"Liberation Sans", sans-serif' >Multi-modal EO Dataset (Public)</text>
<path d="M493.3,171 Q493.3,168.5 495.8,168.5 L801.7,168.5 Q804.2,168.5 804.2,171 L804.2,187.5 Q804.2,189.1 802.4,189.3 L648.8,204 L495.1,189.3 Q493.3,189.1 493.3,187.5 Z" fill="#19b99c"/>
<text x="648.8" y="183.3" font-size="15.6" fill="#fff" font-weight="bold" text-anchor="middle" font-family='"Liberation Sans", sans-serif' >Downstream Validation Dataset (Custom)</text>
<line x1="289.8" y1="204.5" x2="289.8" y2="233" stroke="#a93235" stroke-width="1.3" stroke-dasharray="1.4 2"/>
<path d="M286.3,231.5 L293.3,231.5 L289.8,239 Z" fill="#a93235"/>
<line x1="648.8" y1="205" x2="648.8" y2="258" stroke="#36b79c" stroke-width="1.2" stroke-dasharray="1.6 1.6"/>
<path d="M645.3,256 L652.3,256 L648.8,264 Z" fill="#36b79c"/>
<path d="M822,119.8 L880.5,119.8 Q883,119.8 883,122.3 L883,424" fill="none" stroke="#3b3f46" stroke-width="1.8"/>
<path d="M879.3,422 L886.7,422 L883,430 Z" fill="#3b3f46"/>
<path d="M822,320.7 L846.2,320.7 Q848.6,320.7 848.6,323.1 L848.6,424" fill="none" stroke="#3b3f46" stroke-width="1.8"/>
<path d="M844.9,422 L852.3,422 L848.6,430 Z" fill="#3b3f46"/>
<path d="M119,242 L370,242 C 412,242 441,280 441,319.5 C 441,359 412,397 370,397 L119,397 Q117,397 117,395 L117,244 Q117,242 119,242 Z" fill="#e4ecf5" stroke="#b9c2cc" stroke-width="0.7" stroke-dasharray="1.2 1.2"/>
<text x="265" y="256.4" font-size="13.6" fill="#474c55" font-weight="bold" text-anchor="middle" font-family='"Liberation Sans", sans-serif' >Hyper-Visual Foundation Model</text>
<text x="265" y="272.6" font-size="13.6" fill="#474c55" font-weight="bold" text-anchor="middle" font-family='"Liberation Sans", sans-serif' >Adaptation Module</text>
<rect x="123" y="287.5" width="13" height="89" rx="2" fill="#45484e" stroke="none" stroke-width="1" />
<text x="0" y="0" font-size="9.7" fill="#fff" font-weight="normal" text-anchor="middle" font-family='"Liberation Sans", sans-serif' transform="translate(132.8,332) rotate(-90)">Augmentation</text>
<rect x="149.2" y="275.7" width="27.7" height="32.2" rx="9.5" fill="#3a8de9" stroke="none" stroke-width="1" />
<text x="163.2" y="288.2" font-size="10" fill="#fff" font-weight="normal" text-anchor="middle" font-family='"Liberation Sans", sans-serif' >View</text>
<text x="163.2" y="300.3" font-size="10" fill="#fff" font-weight="normal" text-anchor="middle" font-family='"Liberation Sans", sans-serif' >1</text>
<rect x="149.3" y="359" width="27.6" height="31.5" rx="9.5" fill="#4fb598" stroke="none" stroke-width="1" />
<text x="163.2" y="371.2" font-size="10" fill="#fff" font-weight="normal" text-anchor="middle" font-family='"Liberation Sans", sans-serif' >View</text>
<text x="163.2" y="383.3" font-size="10" fill="#fff" font-weight="normal" text-anchor="middle" font-family='"Liberation Sans", sans-serif' >2</text>
<path d="M136,331 L147.5,296 M136,331 L147.5,370" stroke="#333" stroke-width="0.8" fill="none"/>
<path d="M149.3,291.5 L148.7,298.5 L145,296.8 Z" fill="#333"/>
<path d="M149.3,374.5 L148.7,367.5 L145,369.2 Z" fill="#333"/>
<path d="M177,292 L181,292" stroke="#3a8de9" stroke-width="1.2"/><path d="M180,289 L186,292 L180,295 Z" fill="#3a8de9"/>
<path d="M177,375.5 L181,375.5" stroke="#4fb598" stroke-width="1.2"/><path d="M180,372.5 L186,375.5 L180,378.5 Z" fill="#4fb598"/>
<path d="M200.8,276 L353.2,276 L394.6,291.7 L353.2,307.5 L200.8,307.5 A15.75,15.75 0 0 1 200.8,276 Z" fill="#3a8de9"/>
<path d="M202.2,360.5 L354,360.5 L396,376.2 L354,392 L202.2,392 A15.75,15.75 0 0 1 202.2,360.5 Z" fill="#4fb598"/>
<rect x="239" y="279.2" width="86" height="26.400000000000034" rx="13.200000000000017" fill="#45474d" stroke="none" stroke-width="1" />
<rect x="194" y="278.6" width="46" height="26.799999999999955" rx="13.399999999999977" fill="#45474d" stroke="none" stroke-width="1" />
<rect x="239" y="363.2" width="86" height="26.100000000000023" rx="13.050000000000011" fill="#45474d" stroke="none" stroke-width="1" />
<rect x="192.8" y="363.2" width="45.89999999999998" height="26.100000000000023" rx="13.050000000000011" fill="#45474d" stroke="none" stroke-width="1" />
<text x="217" y="288.6" font-size="10" fill="#fff" font-weight="normal" text-anchor="middle" font-family='"Liberation Sans", sans-serif' >Hyper-</text>
<text x="217" y="300.40000000000003" font-size="10" fill="#fff" font-weight="normal" text-anchor="middle" font-family='"Liberation Sans", sans-serif' >tokenizer</text>
<text x="215.8" y="373.2" font-size="10" fill="#fff" font-weight="normal" text-anchor="middle" font-family='"Liberation Sans", sans-serif' >Hyper-</text>
<text x="215.8" y="385.0" font-size="10" fill="#fff" font-weight="normal" text-anchor="middle" font-family='"Liberation Sans", sans-serif' >tokenizer</text>
<text x="280.7" y="290" font-size="9.8" fill="#fff" font-weight="normal" text-anchor="middle" font-family='"Liberation Sans", sans-serif' >Visual Foundation</text>
<text x="280.7" y="302" font-size="9.8" fill="#fff" font-weight="normal" text-anchor="middle" font-family='"Liberation Sans", sans-serif' >Backbone</text>
<text x="280.7" y="374" font-size="9.8" fill="#fff" font-weight="normal" text-anchor="middle" font-family='"Liberation Sans", sans-serif' >Visual Foundation</text>
<text x="280.7" y="386" font-size="9.8" fill="#fff" font-weight="normal" text-anchor="middle" font-family='"Liberation Sans", sans-serif' >Backbone</text>
<text x="350" y="289.3" font-size="10.6" fill="#fff" font-weight="normal" text-anchor="middle" font-family='"Liberation Sans", sans-serif' >Query</text>
<text x="350" y="301.5" font-size="10.6" fill="#fff" font-weight="normal" text-anchor="middle" font-family='"Liberation Sans", sans-serif' >Network</text>
<text x="350" y="373" font-size="10.6" fill="#fff" font-weight="normal" text-anchor="middle" font-family='"Liberation Sans", sans-serif' >Key</text>
<text x="350" y="385.5" font-size="10.6" fill="#fff" font-weight="normal" text-anchor="middle" font-family='"Liberation Sans", sans-serif' >Network</text>
<path d="M394.6,291.7 L416.6,291.7 L416.6,320" fill="none" stroke="#3a8de9" stroke-width="0.8"/><path d="M413.8,318 L419.4,318 L416.6,325 Z" fill="#3a8de9"/>
<path d="M396,376 L416.6,376 L416.6,346" fill="none" stroke="#4fb598" stroke-width="0.8"/><path d="M413.8,348 L419.4,348 L416.6,341 Z" fill="#4fb598"/>
<path d="M399.9,328.9 C399.2,327.2 396.9,327.3 396.4,329.4 L394.6,334.6 C394.1,336.2 392.3,336.4 392.3,335.4 C392.4,334.5 394,334.4 395.3,335.2 C396.8,336.1 398.8,336.2 400.4,335" fill="none" stroke="#111" stroke-width="1.35" stroke-linecap="round"/>
<text x="401.3" y="336.4" font-size="13" fill="#222" font-weight="normal" text-anchor="start" font-family='"Liberation Serif", serif' >(</text>
<text x="405.8" y="336.4" font-size="13" fill="#111" font-weight="bold" text-anchor="start" font-family='"Liberation Serif", serif' >q</text>
<text x="413.6" y="336.4" font-size="13" fill="#111" font-weight="normal" text-anchor="start" font-family='"Liberation Serif", serif' >,</text>
<text x="419.4" y="336.4" font-size="13" fill="#111" font-weight="bold" text-anchor="start" font-family='"Liberation Serif", serif' >k</text>
<text x="426.6" y="336.4" font-size="13" fill="#222" font-weight="normal" text-anchor="start" font-family='"Liberation Serif", serif' >)</text>
<text x="235" y="329.5" font-size="13.6" fill="#43474e" font-weight="normal" text-anchor="middle" font-family='"Liberation Sans", sans-serif' >Bayesian Search for</text>
<text x="229" y="346" font-size="13.6" fill="#43474e" font-weight="normal" text-anchor="middle" font-family='"Liberation Sans", sans-serif' >Layer/Block Activation</text>
<path d="M336,304.8 A29.8,29.8 0 1 1 322.5,305.2" fill="none" stroke="#111" stroke-width="2.6"/>
<path d="M318.2,302.6 L323.8,304.8 L320.2,311.8" fill="none" stroke="#111" stroke-width="2.4" stroke-linejoin="miter"/>
<rect x="310" y="315.5" width="40" height="38.5" rx="10" fill="#fff" stroke="#111" stroke-width="1.6" />
<path d="M331.1 320.5a1.1 1.1 0 1 0 -2.2 0a1.1 1.1 0 1 0 2.2 0M333.4 320.5a1.1 1.1 0 1 0 -2.2 0a1.1 1.1 0 1 0 2.2 0M332.2 322.5a1.1 1.1 0 1 0 -2.2 0a1.1 1.1 0 1 0 2.2 0M330.0 322.5a1.1 1.1 0 1 0 -2.2 0a1.1 1.1 0 1 0 2.2 0M328.8 320.5a1.1 1.1 0 1 0 -2.2 0a1.1 1.1 0 1 0 2.2 0M330.0 318.5a1.1 1.1 0 1 0 -2.2 0a1.1 1.1 0 1 0 2.2 0M332.2 318.5a1.1 1.1 0 1 0 -2.2 0a1.1 1.1 0 1 0 2.2 0M333.1 325.5a1.1 1.1 0 1 0 -2.2 0a1.1 1.1 0 1 0 2.2 0M335.4 325.5a1.1 1.1 0 1 0 -2.2 0a1.1 1.1 0 1 0 2.2 0M334.2 327.5a1.1 1.1 0 1 0 -2.2 0a1.1 1.1 0 1 0 2.2 0M332.0 327.5a1.1 1.1 0 1 0 -2.2 0a1.1 1.1 0 1 0 2.2 0M330.8 325.5a1.1 1.1 0 1 0 -2.2 0a1.1 1.1 0 1 0 2.2 0M332.0 323.5a1.1 1.1 0 1 0 -2.2 0a1.1 1.1 0 1 0 2.2 0M334.2 323.5a1.1 1.1 0 1 0 -2.2 0a1.1 1.1 0 1 0 2.2 0M321.1 334.0a1.1 1.1 0 1 0 -2.2 0a1.1 1.1 0 1 0 2.2 0M323.4 334.0a1.1 1.1 0 1 0 -2.2 0a1.1 1.1 0 1 0 2.2 0M322.2 336.0a1.1 1.1 0 1 0 -2.2 0a1.1 1.1 0 1 0 2.2 0M320.0 336.0a1.1 1.1 0 1 0 -2.2 0a1.1 1.1 0 1 0 2.2 0M318.8 334.0a1.1 1.1 0 1 0 -2.2 0a1.1 1.1 0 1 0 2.2 0M320.0 332.0a1.1 1.1 0 1 0 -2.2 0a1.1 1.1 0 1 0 2.2 0M322.2 332.0a1.1 1.1 0 1 0 -2.2 0a1.1 1.1 0 1 0 2.2 0M317.1 332.0a1.1 1.1 0 1 0 -2.2 0a1.1 1.1 0 1 0 2.2 0M319.4 332.0a1.1 1.1 0 1 0 -2.2 0a1.1 1.1 0 1 0 2.2 0M318.2 334.0a1.1 1.1 0 1 0 -2.2 0a1.1 1.1 0 1 0 2.2 0M316.0 334.0a1.1 1.1 0 1 0 -2.2 0a1.1 1.1 0 1 0 2.2 0M314.8 332.0a1.1 1.1 0 1 0 -2.2 0a1.1 1.1 0 1 0 2.2 0M316.0 330.0a1.1 1.1 0 1 0 -2.2 0a1.1 1.1 0 1 0 2.2 0M318.2 330.0a1.1 1.1 0 1 0 -2.2 0a1.1 1.1 0 1 0 2.2 0M324.1 337.0a1.1 1.1 0 1 0 -2.2 0a1.1 1.1 0 1 0 2.2 0M326.4 337.0a1.1 1.1 0 1 0 -2.2 0a1.1 1.1 0 1 0 2.2 0M325.2 339.0a1.1 1.1 0 1 0 -2.2 0a1.1 1.1 0 1 0 2.2 0M323.0 339.0a1.1 1.1 0 1 0 -2.2 0a1.1 1.1 0 1 0 2.2 0M321.8 337.0a1.1 1.1 0 1 0 -2.2 0a1.1 1.1 0 1 0 2.2 0M323.0 335.0a1.1 1.1 0 1 0 -2.2 0a1.1 1.1 0 1 0 2.2 0M325.2 335.0a1.1 1.1 0 1 0 -2.2 0a1.1 1.1 0 1 0 2.2 0M335.1 335.0a1.1 1.1 0 1 0 -2.2 0a1.1 1.1 0 1 0 2.2 0M337.4 335.0a1.1 1.1 0 1 0 -2.2 0a1.1 1.1 0 1 0 2.2 0M336.2 337.0a1.1 1.1 0 1 0 -2.2 0a1.1 1.1 0 1 0 2.2 0M334.0 337.0a1.1 1.1 0 1 0 -2.2 0a1.1 1.1 0 1 0 2.2 0M332.8 335.0a1.1 1.1 0 1 0 -2.2 0a1.1 1.1 0 1 0 2.2 0M334.0 333.0a1.1 1.1 0 1 0 -2.2 0a1.1 1.1 0 1 0 2.2 0M336.2 333.0a1.1 1.1 0 1 0 -2.2 0a1.1 1.1 0 1 0 2.2 0M340.1 337.0a1.1 1.1 0 1 0 -2.2 0a1.1 1.1 0 1 0 2.2 0M342.4 337.0a1.1 1.1 0 1 0 -2.2 0a1.1 1.1 0 1 0 2.2 0M341.2 339.0a1.1 1.1 0 1 0 -2.2 0a1.1 1.1 0 1 0 2.2 0M339.0 339.0a1.1 1.1 0 1 0 -2.2 0a1.1 1.1 0 1 0 2.2 0M337.8 337.0a1.1 1.1 0 1 0 -2.2 0a1.1 1.1 0 1 0 2.2 0M339.0 335.0a1.1 1.1 0 1 0 -2.2 0a1.1 1.1 0 1 0 2.2 0M341.2 335.0a1.1 1.1 0 1 0 -2.2 0a1.1 1.1 0 1 0 2.2 0M346.1 339.0a1.1 1.1 0 1 0 -2.2 0a1.1 1.1 0 1 0 2.2 0M348.4 339.0a1.1 1.1 0 1 0 -2.2 0a1.1 1.1 0 1 0 2.2 0M347.2 341.0a1.1 1.1 0 1 0 -2.2 0a1.1 1.1 0 1 0 2.2 0M345.0 341.0a1.1 1.1 0 1 0 -2.2 0a1.1 1.1 0 1 0 2.2 0M343.8 339.0a1.1 1.1 0 1 0 -2.2 0a1.1 1.1 0 1 0 2.2 0M345.0 337.0a1.1 1.1 0 1 0 -2.2 0a1.1 1.1 0 1 0 2.2 0M347.2 337.0a1.1 1.1 0 1 0 -2.2 0a1.1 1.1 0 1 0 2.2 0M323.1 346.0a1.1 1.1 0 1 0 -2.2 0a1.1 1.1 0 1 0 2.2 0M325.4 346.0a1.1 1.1 0 1 0 -2.2 0a1.1 1.1 0 1 0 2.2 0M324.2 348.0a1.1 1.1 0 1 0 -2.2 0a1.1 1.1 0 1 0 2.2 0M322.0 348.0a1.1 1.1 0 1 0 -2.2 0a1.1 1.1 0 1 0 2.2 0M320.8 346.0a1.1 1.1 0 1 0 -2.2 0a1.1 1.1 0 1 0 2.2 0M322.0 344.0a1.1 1.1 0 1 0 -2.2 0a1.1 1.1 0 1 0 2.2 0M324.2 344.0a1.1 1.1 0 1 0 -2.2 0a1.1 1.1 0 1 0 2.2 0M329.1 345.0a1.1 1.1 0 1 0 -2.2 0a1.1 1.1 0 1 0 2.2 0M331.4 345.0a1.1 1.1 0 1 0 -2.2 0a1.1 1.1 0 1 0 2.2 0M330.2 347.0a1.1 1.1 0 1 0 -2.2 0a1.1 1.1 0 1 0 2.2 0M328.0 347.0a1.1 1.1 0 1 0 -2.2 0a1.1 1.1 0 1 0 2.2 0M326.8 345.0a1.1 1.1 0 1 0 -2.2 0a1.1 1.1 0 1 0 2.2 0M328.0 343.0a1.1 1.1 0 1 0 -2.2 0a1.1 1.1 0 1 0 2.2 0M330.2 343.0a1.1 1.1 0 1 0 -2.2 0a1.1 1.1 0 1 0 2.2 0M335.1 343.0a1.1 1.1 0 1 0 -2.2 0a1.1 1.1 0 1 0 2.2 0M337.4 343.0a1.1 1.1 0 1 0 -2.2 0a1.1 1.1 0 1 0 2.2 0M336.2 345.0a1.1 1.1 0 1 0 -2.2 0a1.1 1.1 0 1 0 2.2 0M334.0 345.0a1.1 1.1 0 1 0 -2.2 0a1.1 1.1 0 1 0 2.2 0M332.8 343.0a1.1 1.1 0 1 0 -2.2 0a1.1 1.1 0 1 0 2.2 0M334.0 341.0a1.1 1.1 0 1 0 -2.2 0a1.1 1.1 0 1 0 2.2 0M336.2 341.0a1.1 1.1 0 1 0 -2.2 0a1.1 1.1 0 1 0 2.2 0M341.1 342.0a1.1 1.1 0 1 0 -2.2 0a1.1 1.1 0 1 0 2.2 0M343.4 342.0a1.1 1.1 0 1 0 -2.2 0a1.1 1.1 0 1 0 2.2 0M342.2 344.0a1.1 1.1 0 1 0 -2.2 0a1.1 1.1 0 1 0 2.2 0M340.0 344.0a1.1 1.1 0 1 0 -2.2 0a1.1 1.1 0 1 0 2.2 0M338.8 342.0a1.1 1.1 0 1 0 -2.2 0a1.1 1.1 0 1 0 2.2 0M340.0 340.0a1.1 1.1 0 1 0 -2.2 0a1.1 1.1 0 1 0 2.2 0M342.2 340.0a1.1 1.1 0 1 0 -2.2 0a1.1 1.1 0 1 0 2.2 0" fill="none" stroke="#4d6878" stroke-width="0.6"/>
<circle cx="320" cy="334.5" r="8.2" fill="none" stroke="#111" stroke-width="2"/><path d="M327,339.5 L346.5,348.5" stroke="#111" stroke-width="3.4" stroke-linecap="round"/>
<text x="0" y="0" font-size="15.5" fill="#2e3136" font-weight="bold" text-anchor="middle" font-family='"Liberation Sans", sans-serif' transform="translate(475,284.5) rotate(-90)">Transfer</text>
<text x="0" y="0" font-size="15.5" fill="#2e3136" font-weight="bold" text-anchor="middle" font-family='"Liberation Sans", sans-serif' transform="translate(475,351) rotate(-90)">Weight</text>
<path d="M532,264 L747.6,264 L807.8,321 L747.6,377.7 L532,377.7 C 512,365 504,345 504,321 C 504,297 512,276 532,264 Z" fill="#e4ecf5" stroke="#b9c2cc" stroke-width="0.7" stroke-dasharray="1.2 1.2"/>
<path d="M441,320.3 L504,320.3" stroke="#555" stroke-width="1.1"/><path d="M502.5,316.9 L509.2,320.3 L502.5,323.7 Z" fill="#3b3f46"/>
<text x="643.5" y="278.1" font-size="13.6" fill="#474c55" font-weight="bold" text-anchor="middle" font-family='"Liberation Sans", sans-serif' >Downstreaming and</text>
<text x="641.2" y="294.3" font-size="13.6" fill="#474c55" font-weight="bold" text-anchor="middle" font-family='"Liberation Sans", sans-serif' >Optimization Module</text>
<rect x="518" y="304.7" width="141.5" height="32.8" rx="13" fill="#4db398" stroke="none" stroke-width="1" />
<rect x="568" y="308.6" width="85.79999999999995" height="26.19999999999999" rx="13.099999999999994" fill="#45474d" stroke="none" stroke-width="1" />
<rect x="523" y="308.6" width="46.39999999999998" height="26.19999999999999" rx="13.099999999999994" fill="#45474d" stroke="none" stroke-width="1" />
<text x="546.2" y="319.5" font-size="10" fill="#fff" font-weight="normal" text-anchor="middle" font-family='"Liberation Sans", sans-serif' >Hyper-</text>
<text x="546.2" y="331.2" font-size="10" fill="#fff" font-weight="normal" text-anchor="middle" font-family='"Liberation Sans", sans-serif' >tokenizer</text>
<text x="610.3" y="320" font-size="9.8" fill="#fff" font-weight="normal" text-anchor="middle" font-family='"Liberation Sans", sans-serif' >Visual Foundation</text>
<text x="610.3" y="332" font-size="9.8" fill="#fff" font-weight="normal" text-anchor="middle" font-family='"Liberation Sans", sans-serif' >Backbone</text>
<rect x="672" y="305.2" width="51.7" height="31.2" rx="2.5" fill="#8f9299" stroke="none" stroke-width="1" />
<text x="697.7" y="317.4" font-size="9.55" fill="#f0f0f2" font-weight="normal" text-anchor="middle" font-family='"Liberation Sans", sans-serif' >Projection</text>
<text x="697.7" y="329" font-size="9.55" fill="#f0f0f2" font-weight="normal" text-anchor="middle" font-family='"Liberation Sans", sans-serif' >Head</text>
<path d="M657.6,314.4 L666,310.8 M657.6,314.4 L666,315.8 M657.6,314.4 L666,320.8 M657.6,314.4 L666,325.8 M657.6,314.4 L666,330.8 M657.6,320.8 L666,310.8 M657.6,320.8 L666,315.8 M657.6,320.8 L666,320.8 M657.6,320.8 L666,325.8 M657.6,320.8 L666,330.8 M657.6,327.2 L666,310.8 M657.6,327.2 L666,315.8 M657.6,327.2 L666,320.8 M657.6,327.2 L666,325.8 M657.6,327.2 L666,330.8 M666,310.8 L674.4,314.4 M666,310.8 L674.4,320.8 M666,310.8 L674.4,327.2 M666,315.8 L674.4,314.4 M666,315.8 L674.4,320.8 M666,315.8 L674.4,327.2 M666,320.8 L674.4,314.4 M666,320.8 L674.4,320.8 M666,320.8 L674.4,327.2 M666,325.8 L674.4,314.4 M666,325.8 L674.4,320.8 M666,325.8 L674.4,327.2 M666,330.8 L674.4,314.4 M666,330.8 L674.4,320.8 M666,330.8 L674.4,327.2" stroke="#222" stroke-width="0.55"/>
<circle cx="657.6" cy="314.4" r="1.8" fill="#3a8a6a" stroke="#1a1a1a" stroke-width="0.8"/>
<circle cx="657.6" cy="320.8" r="1.8" fill="#3a8a6a" stroke="#1a1a1a" stroke-width="0.8"/>
<circle cx="657.6" cy="327.2" r="1.8" fill="#3a8a6a" stroke="#1a1a1a" stroke-width="0.8"/>
<circle cx="666" cy="310.8" r="1.8" fill="#fff" stroke="#1a1a1a" stroke-width="0.8"/>
<circle cx="666" cy="315.8" r="1.8" fill="#fff" stroke="#1a1a1a" stroke-width="0.8"/>
<circle cx="666" cy="320.8" r="1.8" fill="#fff" stroke="#1a1a1a" stroke-width="0.8"/>
<circle cx="666" cy="325.8" r="1.8" fill="#fff" stroke="#1a1a1a" stroke-width="0.8"/>
<circle cx="666" cy="330.8" r="1.8" fill="#fff" stroke="#1a1a1a" stroke-width="0.8"/>
<circle cx="674.4" cy="314.4" r="1.8" fill="#555" stroke="#1a1a1a" stroke-width="0.8"/>
<circle cx="674.4" cy="320.8" r="1.8" fill="#555" stroke="#1a1a1a" stroke-width="0.8"/>
<circle cx="674.4" cy="327.2" r="1.8" fill="#555" stroke="#1a1a1a" stroke-width="0.8"/>
<path d="M723.3,321.4 L734,321.4" stroke="#3b3f46" stroke-width="0.9"/><path d="M733,318.6 L739,321.4 L733,324.2 Z" fill="#3b3f46"/>
<circle cx="762.7" cy="321.4" r="5.5" fill="none" stroke="#33363b" stroke-width="1.4"/>
<line x1="758.9" y1="317.4" x2="749.0" y2="306.8" stroke="#33363b" stroke-width="1.3"/>
<circle cx="747.1" cy="304.8" r="2.8" fill="none" stroke="#33363b" stroke-width="1.2"/>
<line x1="757.7" y1="319.1" x2="743.2" y2="312.4" stroke="#33363b" stroke-width="1.3"/>
<circle cx="740.7" cy="311.2" r="2.8" fill="none" stroke="#33363b" stroke-width="1.2"/>
<line x1="757.2" y1="321.3" x2="745.8" y2="321.2" stroke="#33363b" stroke-width="1.3"/>
<circle cx="743" cy="321.2" r="2.8" fill="none" stroke="#33363b" stroke-width="1.2"/>
<line x1="757.6" y1="323.5" x2="743.3" y2="329.5" stroke="#33363b" stroke-width="1.3"/>
<circle cx="740.7" cy="330.6" r="2.8" fill="none" stroke="#33363b" stroke-width="1.2"/>
<line x1="758.8" y1="325.3" x2="749.1" y2="334.8" stroke="#33363b" stroke-width="1.3"/>
<circle cx="747.1" cy="336.8" r="2.8" fill="none" stroke="#33363b" stroke-width="1.2"/>
<text x="745.9" y="346" font-size="9.7" fill="#4a4c50" font-weight="normal" text-anchor="middle" font-family='"Liberation Sans", sans-serif' >Use case specific</text>
<text x="746" y="357.5" font-size="9.7" fill="#4a4c50" font-weight="normal" text-anchor="middle" font-family='"Liberation Sans", sans-serif' >Predictor</text>
<path d="M656.7,379 L656.7,413.3 L313,413.3 L313,425" fill="none" stroke="#2a2a2a" stroke-width="1.5" stroke-linecap="round" stroke-dasharray="0.01 3.55"/><path d="M309.8,424 L316.2,424 L313,430.5 Z" fill="#333"/>
<rect x="108" y="445.5" width="168" height="98.60000000000002" rx="1.5" fill="#fbf9c9" stroke="#b5b39a" stroke-width="0.7" stroke-dasharray="1 1.2"/>
<text x="192" y="459" font-size="13.7" fill="#474b52" font-weight="bold" text-anchor="middle" font-family='"Liberation Sans", sans-serif' >Uncertainty Estimation</text>
<text x="192" y="475.5" font-size="13.7" fill="#474b52" font-weight="bold" text-anchor="middle" font-family='"Liberation Sans", sans-serif' >Module</text>
<rect x="178" y="483.6" width="93.4" height="13.5" rx="2" fill="#5cb8a0" stroke="none" stroke-width="1" />
<text x="224.7" y="493.40000000000003" font-size="8.8" fill="#f4fbf9" font-weight="normal" text-anchor="middle" font-family='"Liberation Sans", sans-serif' >Epistemic Uncertainty</text>
<rect x="178" y="500.5" width="93.4" height="13.5" rx="2" fill="#5cb8a0" stroke="none" stroke-width="1" />
<text x="224.7" y="510.3" font-size="8.8" fill="#f4fbf9" font-weight="normal" text-anchor="middle" font-family='"Liberation Sans", sans-serif' >Aleatoric Uncertainty</text>
<rect x="178" y="517.4" width="93.4" height="13.5" rx="2" fill="#5cb8a0" stroke="none" stroke-width="1" />
<text x="224.7" y="527.1999999999999" font-size="8.8" fill="#f4fbf9" font-weight="normal" text-anchor="middle" font-family='"Liberation Sans", sans-serif' >Hybrid Uncertainty</text>
<rect x="311.6" y="445.5" width="167.2" height="98.60000000000002" rx="1.5" fill="#fff" stroke="#a0a0a0" stroke-width="0.7" stroke-dasharray="1 1.2"/>
<text x="396" y="459.7" font-size="13.5" fill="#474b52" font-weight="bold" text-anchor="middle" font-family='"Liberation Sans", sans-serif' >Interpretability</text>
<text x="396" y="476.4" font-size="13.5" fill="#474b52" font-weight="bold" text-anchor="middle" font-family='"Liberation Sans", sans-serif' >Module</text>
<rect x="381" y="484.1" width="93.7" height="13.3" rx="2" fill="#5cb8a0" stroke="none" stroke-width="1" />
<text x="427.8" y="493.8" font-size="8.8" fill="#f4fbf9" font-weight="normal" text-anchor="middle" font-family='"Liberation Sans", sans-serif' >Visual Interpretability</text>
<rect x="381" y="501.40000000000003" width="93.7" height="13.3" rx="2" fill="#5cb8a0" stroke="none" stroke-width="1" />
<text x="427.8" y="511.1" font-size="8.8" fill="#f4fbf9" font-weight="normal" text-anchor="middle" font-family='"Liberation Sans", sans-serif' >Model Specific xAI</text>
<rect x="381" y="518.7" width="93.7" height="13.3" rx="2" fill="#5cb8a0" stroke="none" stroke-width="1" />
<text x="427.8" y="528.4000000000001" font-size="8.8" fill="#f4fbf9" font-weight="normal" text-anchor="middle" font-family='"Liberation Sans", sans-serif' >Model Agnostic xAI</text>
<path d="M491,496 L507,496" stroke="#3b3f46" stroke-width="1.4"/><path d="M506,492.5 L513,496 L506,499.5 Z" fill="#3b3f46"/>
<path d="M122.4,521.1 A26.4,26.4 0 1 1 166,521.1" fill="none" stroke="#000" stroke-width="6"/>
<path d="M119.4,527.9 L135,527.9 L127.1,514.5 Z M153.4,527.9 L169,527.9 L161.3,514.5 Z" fill="#000"/>
<path d="M131,500.5 C131.5,487 156.5,487 156.5,498.5 C156.5,507 145.5,508 145,520.5" fill="none" stroke="#000" stroke-width="7"/>
<circle cx="144.6" cy="530" r="6.2" fill="#000"/>
<rect x="325" y="503" width="6" height="28" fill="url(#gbar)"/>
<path d="M340.4,465.3 L360.5,465.3 Q364.1,465.3 364.1,469 L364.1,502 L343.2,502 L343.2,467.6 Z" fill="#f7b500"/>
<path d="M354.2,494.9 L373,494.9 Q376,494.9 376,498 L376,529.5 Q376,532.4 373,532.4 L350.5,532.4 L354.2,527 Z" fill="#5a3a92"/>
<circle cx="353.6" cy="511.3" r="11.2" fill="url(#lens)" stroke="#1c7ea8" stroke-width="3.2"/>
<path d="M346,509 L351,505 L357,506 L361,510 L357,515 L351,517 L346,513 Z M351,505 L351,517 M357,506 L357,515 M346,509 L361,510 M346,513 L357,515" fill="none" stroke="#a8a0b8" stroke-width="0.5"/>
<path d="M345,519.8 L327,531" stroke="#1c7ea8" stroke-width="3.8" stroke-linecap="round"/>
<polygon points="600,519.4 665.4,519.4 671.2,534.2 665.4,548.8 600,548.8" fill="#47a64b"/>
<circle cx="596.6" cy="494.3" r="54.4" fill="#fff" clip-path="url(#grclip)"/>
<circle cx="596.6" cy="494.3" r="52.6" fill="url(#cig)"/>
<rect x="540" y="515.2" width="56" height="4.6" fill="#fff" clip-path="url(#cicl)"/>
<circle cx="594.7" cy="496.8" r="24.4" fill="#fff"/>
<polygon points="516.3,519.6 606,519.6 606,549.3 516.3,549.3 523.2,534.5" fill="#2d67d8"/>
<circle cx="596.6" cy="494.3" r="52.6" fill="#2d67d8" clip-path="url(#ribclip)"/>
<rect x="589.2" y="450" width="12" height="12.5" rx="1.5" fill="#fff"/><rect x="592.5" y="448.6" width="5.5" height="2.6" rx="0.8" fill="#fff"/>
<path d="M591.5,454.5 h7.5 M591.5,457 h7.5 M591.5,459.5 h5" stroke="#2f6fe0" stroke-width="1"/>
<circle cx="551" cy="489.8" r="4.4" fill="#fff"/><path d="M548.6,489.9 L550.4,491.8 L553.6,487.9" fill="none" stroke="#3a7de6" stroke-width="1.2"/>
<circle cx="562.6" cy="489.8" r="4.4" fill="#fff"/><path d="M560.6,487.8 L564.6,491.8 M564.6,487.8 L560.6,491.8" stroke="#3a7de6" stroke-width="1.1"/>
<g transform="translate(633.5,489.5) rotate(-45)"><rect x="-1.4" y="-3" width="2.8" height="10" rx="1" fill="#fff"/><circle cx="0" cy="-4" r="3.6" fill="#fff"/><rect x="-1.1" y="-8.5" width="2.2" height="4.5" fill="#2f6ee0"/></g>
<path d="M590.6,484 A4,4 0 0 1 597.8,482.2 M598.4,485.6 A4,4 0 0 1 591.2,487.2" fill="none" stroke="#3fa34a" stroke-width="1.3"/><path d="M596.6,480.4 L599.6,483.4 L596.2,484.2 Z M592.4,489 L589.4,486 L592.8,485.2 Z" fill="#3fa34a"/>
<circle cx="539.4" cy="531.8" r="2.6" fill="#fff"/><path d="M534.6,539.2 Q534.6,535 539.4,535 Q544.2,535 544.2,539.2 Z" fill="#fff"/>
<rect x="589.4" y="530.2" width="12" height="2.9" rx="0.6" fill="#fff"/>
<rect x="589.4" y="533.9" width="12" height="2.9" rx="0.6" fill="#fff"/>
<rect x="589.4" y="537.6" width="12" height="2.9" rx="0.6" fill="#fff"/>
<path d="M646,539 A3.2,3.2 0 0 1 646.8,532.8 A4.4,4.4 0 0 1 655.4,532 A3.4,3.4 0 0 1 657.4,539 Z" fill="#fff"/><path d="M651.6,538.4 L651.6,534.4 M649.6,535.8 L651.6,533.6 L653.6,535.8" fill="none" stroke="#47a64b" stroke-width="1.1"/>
<text x="595.4" y="435.8" font-size="5.6" fill="#4a4a4a" font-weight="normal" text-anchor="middle" font-family='"Liberation Sans", sans-serif' >Test</text>
<text x="527.9" y="491.3" font-size="5.6" fill="#4a4a4a" font-weight="normal" text-anchor="middle" font-family='"Liberation Sans", sans-serif' >Report</text>
<text x="660.1" y="491.3" font-size="5.6" fill="#4a4a4a" font-weight="normal" text-anchor="middle" font-family='"Liberation Sans", sans-serif' >Build</text>
<text x="539.4" y="558.9" font-size="5.6" fill="#4a4a4a" font-weight="normal" text-anchor="middle" font-family='"Liberation Sans", sans-serif' >Developer</text>
<text x="595.4" y="558.9" font-size="5.6" fill="#4a4a4a" font-weight="normal" text-anchor="middle" font-family='"Liberation Sans", sans-serif' >Source control</text>
<text x="651.6" y="558.9" font-size="5.6" fill="#4a4a4a" font-weight="normal" text-anchor="middle" font-family='"Liberation Sans", sans-serif' >Release</text>
<text x="594.7" y="498.7" font-size="5.9" fill="#333" font-weight="bold" text-anchor="middle" font-family='"Liberation Sans", sans-serif' >Continuous</text>
<text x="594.7" y="506.4" font-size="5.9" fill="#333" font-weight="bold" text-anchor="middle" font-family='"Liberation Sans", sans-serif' >Integration</text>
<rect x="680.6" y="446" width="97" height="98.6" rx="2" fill="#f5f4e7" stroke="none" stroke-width="1" />
<text x="729.5" y="461.7" font-size="13.4" fill="#474b52" font-weight="bold" text-anchor="middle" font-family='"Liberation Sans", sans-serif' >Backend</text>
<text x="729.5" y="477.7" font-size="13.4" fill="#474b52" font-weight="bold" text-anchor="middle" font-family='"Liberation Sans", sans-serif' >Services</text>
<path d="M745,483.0 A10,2.8 0 0 1 765,483.0 L765,487.0 A10,2.8 0 0 1 745,487.0 Z" fill="#e5334b"/>
<path d="M745,490.0 A10,2.8 0 0 1 765,490.0 L765,494.0 A10,2.8 0 0 1 745,494.0 Z" fill="#e5334b"/>
<path d="M745,497.0 A10,2.8 0 0 1 765,497.0 L765,501.0 A10,2.8 0 0 1 745,501.0 Z" fill="#e5334b"/>
<path d="M745,483 A10,2.8 0 0 0 765,483 M745,490 A10,2.8 0 0 0 765,490 M745,497 A10,2.8 0 0 0 765,497" fill="none" stroke="#f5f4e7" stroke-width="1.4"/>
<rect x="694.3" y="508.5" width="39" height="12.3" rx="1" fill="#fff" stroke="#111" stroke-width="1.9"/>
<path d="M697.5,513.0 h19 M697.5,516.0 h19" stroke="#444" stroke-width="0.9"/>
<circle cx="727.6" cy="514.8" r="1.1" fill="#e5334b"/>
<rect x="694.3" y="527.8" width="39" height="12.3" rx="1" fill="#fff" stroke="#111" stroke-width="1.9"/>
<path d="M697.5,532.3 h19 M697.5,535.3 h19" stroke="#444" stroke-width="0.9"/>
<circle cx="727.6" cy="534.0999999999999" r="1.1" fill="#e5334b"/>
<rect x="697" y="520.8" width="33.5" height="7" fill="#fff" stroke="#111" stroke-width="1.4"/>
<path d="M716.5,502.5 Q721,488 733,485" fill="none" stroke="#e5334b" stroke-width="1.6"/><path d="M731,481.2 L738.5,484.3 L732.2,488.8 Z" fill="#e5334b"/>
<path d="M760,508.5 Q756,521 745,525" fill="none" stroke="#e5334b" stroke-width="1.6"/><path d="M747.4,521 L740,526.5 L748,528.6 Z" fill="#e5334b"/>
<rect x="787" y="446" width="96.29999999999995" height="98.60000000000002" rx="1.5" fill="#fff" stroke="#a0a0a0" stroke-width="0.7" stroke-dasharray="1 1.2"/>
<text x="835.2" y="459.8" font-size="13.6" fill="#474b52" font-weight="bold" text-anchor="middle" font-family='"Liberation Sans", sans-serif' >User</text>
<text x="835.2" y="475.8" font-size="13.6" fill="#474b52" font-weight="bold" text-anchor="middle" font-family='"Liberation Sans", sans-serif' >Interface</text>
<rect x="807.9" y="482.6" width="56.6" height="31.8" rx="2.2" fill="#fff" stroke="#75777b" stroke-width="1.7"/>
<path d="M831.8,515.2 L831,521.5 L841.6,521.5 L840.8,515.2" fill="#fff" stroke="#75777b" stroke-width="1.5"/>
<rect x="813.5" y="494" width="10.5" height="10" rx="1" fill="#6cbf3c"/><circle cx="813.5" cy="493.8" r="2.5" fill="#fff"/><circle cx="813.5" cy="493.8" r="1.8" fill="#d9232e"/>
<rect x="831" y="494" width="10.5" height="10" rx="1" fill="#3a9ff0"/><circle cx="831" cy="493.8" r="2.5" fill="#fff"/><circle cx="831" cy="493.8" r="1.8" fill="#d9232e"/>
<rect x="848" y="494" width="10.5" height="10" rx="1" fill="#f5901e"/><circle cx="848" cy="493.8" r="2.5" fill="#fff"/><circle cx="848" cy="493.8" r="1.8" fill="#d9232e"/>
<rect x="811.1" y="510.1" width="13" height="18.8" rx="1.6" fill="#fff" stroke="#75777b" stroke-width="1.6"/>
<rect x="814.2" y="515.5" width="7" height="6.5" rx="0.8" fill="#3a9ff0"/><circle cx="814.2" cy="515.3" r="1.9" fill="#fff"/><circle cx="814.2" cy="515.3" r="1.3" fill="#d9232e"/><circle cx="817.6" cy="526.2" r="0.6" fill="#555"/>
<rect x="852.5" y="507.9" width="20.6" height="28.2" rx="1.6" fill="#fff" stroke="#75777b" stroke-width="1.7"/>
<rect x="857.4" y="516" width="10.6" height="10" rx="1" fill="#3a9ff0"/><circle cx="857.4" cy="516" r="2.6" fill="#fff"/><circle cx="857.4" cy="516" r="1.9" fill="#d9232e"/><circle cx="862.8" cy="533" r="0.8" fill="#555"/>
</svg>
</body></html>
